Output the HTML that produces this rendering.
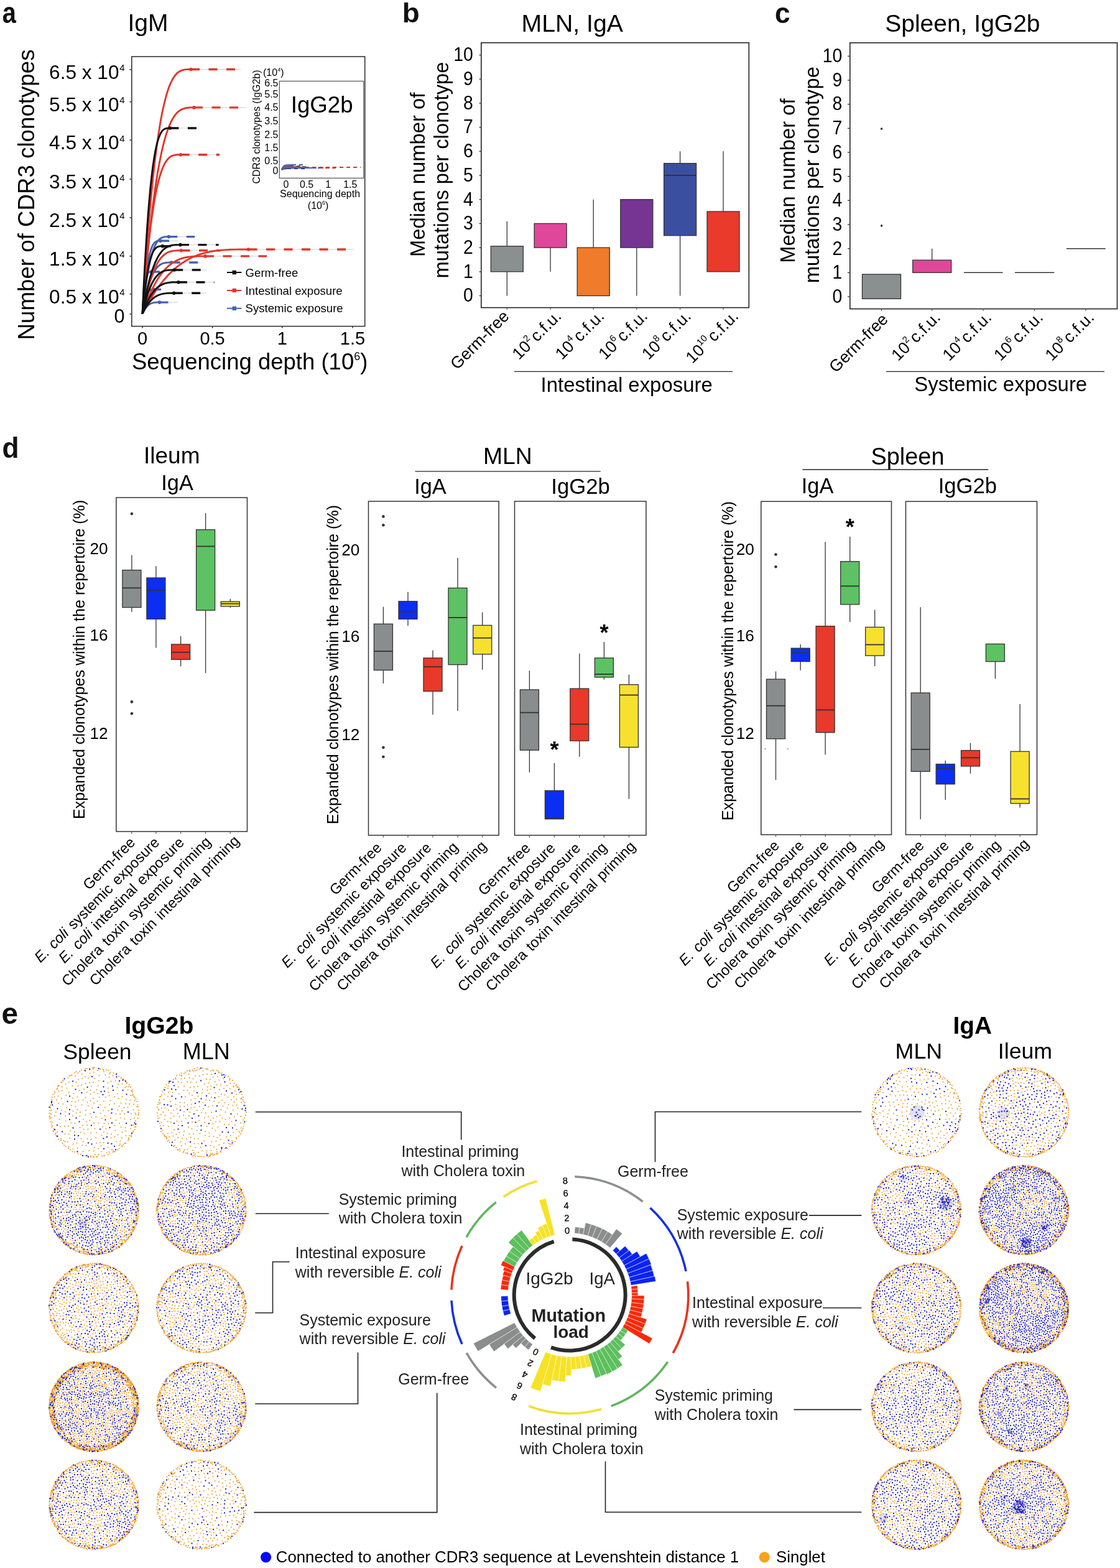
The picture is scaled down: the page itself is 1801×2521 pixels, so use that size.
<!DOCTYPE html>
<html><head><meta charset="utf-8"><title>Figure</title>
<style>html,body{margin:0;padding:0;background:#fff}svg{display:block}text{font-family:"Liberation Sans",Arial,Helvetica,sans-serif}</style></head>
<body><svg xmlns="http://www.w3.org/2000/svg" width="1801" height="2521" viewBox="0 0 1801 2521">
<rect width="1801" height="2521" fill="#fff"/>
<text transform="translate(3.78,36.9) scale(1.02,1.21)" font-size="39" font-weight="bold" fill="#111">a</text>
<text x="205.5" y="50.2" font-size="39">IgM</text>
<rect x="211.8" y="91.0" width="374.9" height="433.6" fill="none" stroke="#333" stroke-width="1.6"/>
<line x1="208.5" y1="111.8" x2="211.8" y2="111.8" stroke="#333" stroke-width="1.5"/>
<text x="191.5" y="126.8" font-size="31.6" text-anchor="end">6.5 x 10</text>
<text x="192.2" y="114.3" font-size="15">4</text>
<line x1="208.5" y1="163.7" x2="211.8" y2="163.7" stroke="#333" stroke-width="1.5"/>
<text x="191.5" y="178.7" font-size="31.6" text-anchor="end">5.5 x 10</text>
<text x="192.2" y="166.2" font-size="15">4</text>
<line x1="208.5" y1="225.3" x2="211.8" y2="225.3" stroke="#333" stroke-width="1.5"/>
<text x="191.5" y="240.3" font-size="31.6" text-anchor="end">4.5 x 10</text>
<text x="192.2" y="227.8" font-size="15">4</text>
<line x1="208.5" y1="288.0" x2="211.8" y2="288.0" stroke="#333" stroke-width="1.5"/>
<text x="191.5" y="303.0" font-size="31.6" text-anchor="end">3.5 x 10</text>
<text x="192.2" y="290.5" font-size="15">4</text>
<line x1="208.5" y1="349.9" x2="211.8" y2="349.9" stroke="#333" stroke-width="1.5"/>
<text x="191.5" y="364.9" font-size="31.6" text-anchor="end">2.5 x 10</text>
<text x="192.2" y="352.4" font-size="15">4</text>
<line x1="208.5" y1="411.8" x2="211.8" y2="411.8" stroke="#333" stroke-width="1.5"/>
<text x="191.5" y="426.8" font-size="31.6" text-anchor="end">1.5 x 10</text>
<text x="192.2" y="414.3" font-size="15">4</text>
<line x1="208.5" y1="472.7" x2="211.8" y2="472.7" stroke="#333" stroke-width="1.5"/>
<text x="191.5" y="487.7" font-size="31.6" text-anchor="end">0.5 x 10</text>
<text x="192.2" y="475.2" font-size="15">4</text>
<line x1="208.5" y1="505.0" x2="211.8" y2="505.0" stroke="#333" stroke-width="1.5"/>
<text x="200.5" y="519.0" font-size="30.6" text-anchor="end">0</text>
<text transform="translate(55.4,313) rotate(-90)" font-size="36.7" text-anchor="middle">Number of CDR3 clonotypes</text>
<line x1="229.0" y1="524.6" x2="229.0" y2="527.5" stroke="#333" stroke-width="1.5"/>
<text x="229.0" y="554.0" font-size="29" text-anchor="middle">0</text>
<line x1="341.6" y1="524.6" x2="341.6" y2="527.5" stroke="#333" stroke-width="1.5"/>
<text x="341.6" y="554.0" font-size="29" text-anchor="middle">0.5</text>
<line x1="453.7" y1="524.6" x2="453.7" y2="527.5" stroke="#333" stroke-width="1.5"/>
<text x="453.7" y="554.0" font-size="29" text-anchor="middle">1</text>
<line x1="567.0" y1="524.6" x2="567.0" y2="527.5" stroke="#333" stroke-width="1.5"/>
<text x="567.0" y="554.0" font-size="29" text-anchor="middle">1.5</text>
<text x="212" y="593.7" font-size="36.5">Sequencing depth (10<tspan font-size="18" dy="-15">6</tspan><tspan dy="15">)</tspan></text>
<path d="M229.0 504.5 L230.8 488.3 L232.5 473.6 L234.3 460.3 L236.1 448.5 L237.8 437.9 L239.6 428.5 L241.3 420.3 L243.1 413.1 L244.9 406.9 L246.6 401.5 L248.4 397.0 L250.2 393.2 L251.9 390.0 L253.7 387.5 L255.4 385.5 L257.2 383.9 L259.0 382.7 L260.7 381.9 L262.5 381.3 L264.2 380.9 L266.0 380.7 L267.8 380.6 L269.5 380.6 L271.3 380.6" fill="none" stroke="#4562ad" stroke-width="2.9" stroke-linejoin="round"/>
<line x1="271.3" y1="380.6" x2="313.2" y2="380.6" stroke="#cfcfcf" stroke-width="1"/>
<line x1="271.3" y1="380.6" x2="313.2" y2="380.6" stroke="#4562ad" stroke-width="3.4" stroke-dasharray="14 14.5"/>
<circle cx="271.3" cy="380.6" r="2.8" fill="#4562ad"/>
<path d="M229.0 504.5 L230.2 489.1 L231.4 475.2 L232.6 462.7 L233.8 451.5 L235.0 441.5 L236.2 432.6 L237.5 424.8 L238.7 418.0 L239.9 412.1 L241.1 407.0 L242.3 402.7 L243.5 399.1 L244.7 396.1 L245.9 393.7 L247.1 391.8 L248.3 390.3 L249.5 389.2 L250.8 388.4 L252.0 387.9 L253.2 387.5 L254.4 387.3 L255.6 387.2 L256.8 387.2 L258.0 387.2" fill="none" stroke="#4562ad" stroke-width="2.9" stroke-linejoin="round"/>
<line x1="258.0" y1="387.2" x2="286.1" y2="387.2" stroke="#cfcfcf" stroke-width="1"/>
<line x1="258.0" y1="387.2" x2="286.1" y2="387.2" stroke="#4562ad" stroke-width="3.4" stroke-dasharray="14 14.5"/>
<circle cx="258" cy="387.2" r="2.8" fill="#4562ad"/>
<path d="M229.0 504.5 L230.9 493.7 L232.9 483.9 L234.8 475.1 L236.8 467.2 L238.7 460.2 L240.7 453.9 L242.6 448.4 L244.6 443.6 L246.5 439.5 L248.5 435.9 L250.4 432.9 L252.3 430.4 L254.3 428.3 L256.2 426.6 L258.2 425.2 L260.1 424.2 L262.1 423.4 L264.0 422.9 L266.0 422.5 L267.9 422.2 L269.9 422.1 L271.8 422.0 L273.8 422.0 L275.7 422.0" fill="none" stroke="#4562ad" stroke-width="2.9" stroke-linejoin="round"/>
<line x1="275.7" y1="422.0" x2="322.0" y2="422.0" stroke="#cfcfcf" stroke-width="1"/>
<line x1="275.7" y1="422" x2="322.0" y2="422" stroke="#4562ad" stroke-width="3.4" stroke-dasharray="14 14.5"/>
<circle cx="275.7" cy="422" r="2.8" fill="#4562ad"/>
<path d="M229.0 504.5 L229.6 495.7 L230.2 487.7 L230.8 480.4 L231.3 474.0 L231.9 468.2 L232.5 463.1 L233.1 458.6 L233.7 454.7 L234.2 451.3 L234.8 448.4 L235.4 445.9 L236.0 443.9 L236.6 442.1 L237.2 440.8 L237.8 439.7 L238.3 438.8 L238.9 438.2 L239.5 437.7 L240.1 437.4 L240.7 437.2 L241.2 437.1 L241.8 437.0 L242.4 437.0 L243.0 437.0" fill="none" stroke="#4562ad" stroke-width="2.9" stroke-linejoin="round"/>
<line x1="243.0" y1="437.0" x2="257.5" y2="437.0" stroke="#cfcfcf" stroke-width="1"/>
<line x1="243.0" y1="437" x2="257.5" y2="437" stroke="#4562ad" stroke-width="3.4" stroke-dasharray="14 14.5"/>
<circle cx="243" cy="437" r="2.8" fill="#4562ad"/>
<path d="M229.0 504.5 L229.8 499.4 L230.5 494.7 L231.2 490.6 L232.0 486.8 L232.8 483.5 L233.5 480.5 L234.2 477.9 L235.0 475.7 L235.8 473.7 L236.5 472.0 L237.2 470.6 L238.0 469.4 L238.8 468.4 L239.5 467.6 L240.2 466.9 L241.0 466.4 L241.8 466.1 L242.5 465.8 L243.2 465.6 L244.0 465.5 L244.8 465.4 L245.5 465.4 L246.2 465.4 L247.0 465.4" fill="none" stroke="#4562ad" stroke-width="2.9" stroke-linejoin="round"/>
<line x1="247.0" y1="465.4" x2="259.0" y2="465.4" stroke="#cfcfcf" stroke-width="1"/>
<line x1="247.0" y1="465.4" x2="259.0" y2="465.4" stroke="#4562ad" stroke-width="3.4" stroke-dasharray="14 14.5"/>
<circle cx="247" cy="465.4" r="2.8" fill="#4562ad"/>
<path d="M229.0 504.5 L230.1 502.1 L231.3 499.9 L232.4 497.9 L233.6 496.2 L234.7 494.6 L235.9 493.2 L237.0 492.0 L238.2 490.9 L239.3 490.0 L240.5 489.2 L241.6 488.5 L242.8 488.0 L243.9 487.5 L245.0 487.1 L246.2 486.8 L247.3 486.6 L248.5 486.4 L249.6 486.3 L250.8 486.2 L251.9 486.1 L253.1 486.1 L254.2 486.1 L255.4 486.1 L256.5 486.1" fill="none" stroke="#4562ad" stroke-width="2.9" stroke-linejoin="round"/>
<line x1="256.5" y1="486.1" x2="285.1" y2="486.1" stroke="#cfcfcf" stroke-width="1"/>
<line x1="256.5" y1="486.1" x2="285.1" y2="486.1" stroke="#4562ad" stroke-width="3.4" stroke-dasharray="14 14.5"/>
<circle cx="256.5" cy="486.1" r="2.8" fill="#4562ad"/>
<path d="M229.0 504.5 L232.2 453.0 L235.5 406.4 L238.8 364.4 L242.0 326.8 L245.2 293.3 L248.5 263.6 L251.8 237.4 L255.0 214.6 L258.2 194.8 L261.5 177.9 L264.8 163.5 L268.0 151.4 L271.2 141.4 L274.5 133.4 L277.8 126.9 L281.0 122.0 L284.2 118.2 L287.5 115.6 L290.8 113.7 L294.0 112.6 L297.2 111.9 L300.5 111.6 L303.8 111.5 L307.0 111.5" fill="none" stroke="#e3352b" stroke-width="2.9" stroke-linejoin="round"/>
<line x1="307.0" y1="111.5" x2="387.0" y2="111.5" stroke="#cfcfcf" stroke-width="1"/>
<line x1="307.0" y1="111.5" x2="387.0" y2="111.5" stroke="#e3352b" stroke-width="3.4" stroke-dasharray="14 14.5"/>
<circle cx="307" cy="111.5" r="2.8" fill="#e3352b"/>
<path d="M229.0 504.5 L232.5 461.1 L235.9 421.7 L239.4 386.3 L242.8 354.6 L246.3 326.3 L249.8 301.2 L253.2 279.2 L256.7 259.9 L260.1 243.2 L263.6 228.9 L267.0 216.7 L270.5 206.6 L274.0 198.2 L277.4 191.3 L280.9 185.9 L284.3 181.7 L287.8 178.6 L291.2 176.3 L294.7 174.8 L298.2 173.8 L301.6 173.2 L305.1 173.0 L308.5 172.9 L312.0 172.9" fill="none" stroke="#e3352b" stroke-width="2.9" stroke-linejoin="round"/>
<line x1="312.0" y1="172.9" x2="396.0" y2="172.9" stroke="#cfcfcf" stroke-width="1"/>
<line x1="312.0" y1="172.9" x2="396.0" y2="172.9" stroke="#e3352b" stroke-width="3.4" stroke-dasharray="14 14.5"/>
<circle cx="312" cy="172.9" r="2.8" fill="#e3352b"/>
<path d="M229.0 504.5 L231.6 471.0 L234.1 440.7 L236.7 413.3 L239.3 388.9 L241.8 367.0 L244.4 347.7 L247.0 330.7 L249.5 315.8 L252.1 302.9 L254.7 291.9 L257.2 282.5 L259.8 274.7 L262.4 268.2 L264.9 262.9 L267.5 258.8 L270.1 255.5 L272.6 253.1 L275.2 251.3 L277.8 250.1 L280.3 249.4 L282.9 249.0 L285.5 248.8 L288.0 248.7 L290.6 248.7" fill="none" stroke="#e3352b" stroke-width="2.9" stroke-linejoin="round"/>
<line x1="290.6" y1="248.7" x2="353.0" y2="248.7" stroke="#cfcfcf" stroke-width="1"/>
<line x1="290.6" y1="248.7" x2="353.0" y2="248.7" stroke="#e3352b" stroke-width="3.4" stroke-dasharray="14 14.5"/>
<circle cx="290.6" cy="248.7" r="2.8" fill="#e3352b"/>
<path d="M229.0 504.5 L231.6 491.2 L234.2 479.1 L236.8 468.3 L239.4 458.5 L242.0 449.8 L244.6 442.2 L247.2 435.4 L249.8 429.5 L252.4 424.4 L255.0 420.0 L257.6 416.2 L260.2 413.1 L262.9 410.5 L265.5 408.5 L268.1 406.8 L270.7 405.5 L273.3 404.5 L275.9 403.8 L278.5 403.4 L281.1 403.1 L283.7 402.9 L286.3 402.8 L288.9 402.8 L291.5 402.8" fill="none" stroke="#e3352b" stroke-width="2.9" stroke-linejoin="round"/>
<line x1="291.5" y1="402.8" x2="354.0" y2="402.8" stroke="#cfcfcf" stroke-width="1"/>
<line x1="291.5" y1="402.8" x2="354.0" y2="402.8" stroke="#e3352b" stroke-width="3.4" stroke-dasharray="14 14.5"/>
<circle cx="291.5" cy="402.8" r="2.8" fill="#e3352b"/>
<path d="M229.0 504.5 L236.1 490.9 L243.2 478.7 L250.3 467.6 L257.4 457.7 L264.5 448.9 L271.6 441.1 L278.7 434.2 L285.8 428.2 L292.9 422.9 L300.0 418.5 L307.1 414.7 L314.2 411.5 L321.4 408.9 L328.5 406.8 L335.6 405.1 L342.7 403.8 L349.8 402.8 L356.9 402.1 L364.0 401.6 L371.1 401.3 L378.2 401.1 L385.3 401.0 L392.4 401.0 L399.5 401.0" fill="none" stroke="#e3352b" stroke-width="2.9" stroke-linejoin="round"/>
<line x1="399.5" y1="401.0" x2="569.5" y2="401.0" stroke="#cfcfcf" stroke-width="1"/>
<line x1="399.5" y1="401" x2="569.5" y2="401" stroke="#e3352b" stroke-width="3.4" stroke-dasharray="14 14.5"/>
<circle cx="399.5" cy="401" r="2.8" fill="#e3352b"/>
<path d="M229.0 504.5 L233.2 492.4 L237.4 481.4 L241.6 471.5 L245.8 462.6 L250.0 454.7 L254.2 447.7 L258.5 441.6 L262.7 436.2 L266.9 431.5 L271.1 427.5 L275.3 424.1 L279.5 421.3 L283.7 419.0 L287.9 417.1 L292.1 415.5 L296.3 414.4 L300.5 413.5 L304.8 412.9 L309.0 412.4 L313.2 412.2 L317.4 412.0 L321.6 411.9 L325.8 411.9 L330.0 411.9" fill="none" stroke="#e3352b" stroke-width="2.9" stroke-linejoin="round"/>
<line x1="330.0" y1="411.9" x2="429.0" y2="411.9" stroke="#cfcfcf" stroke-width="1"/>
<line x1="330.0" y1="411.9" x2="429.0" y2="411.9" stroke="#e3352b" stroke-width="3.4" stroke-dasharray="14 14.5"/>
<circle cx="330" cy="411.9" r="2.8" fill="#e3352b"/>
<path d="M229.0 504.5 L230.8 465.4 L232.7 430.0 L234.6 398.1 L236.4 369.5 L238.2 344.1 L240.1 321.5 L241.9 301.7 L243.8 284.3 L245.6 269.3 L247.5 256.4 L249.3 245.5 L251.2 236.3 L253.0 228.7 L254.9 222.6 L256.8 217.7 L258.6 214.0 L260.4 211.1 L262.3 209.1 L264.1 207.7 L266.0 206.8 L267.8 206.3 L269.7 206.1 L271.5 206.0 L273.4 206.0" fill="none" stroke="#111111" stroke-width="2.9" stroke-linejoin="round"/>
<line x1="273.4" y1="206.0" x2="317.0" y2="206.0" stroke="#cfcfcf" stroke-width="1"/>
<line x1="273.4" y1="206" x2="317.0" y2="206" stroke="#111111" stroke-width="3.4" stroke-dasharray="14 14.5"/>
<circle cx="273.4" cy="206" r="2.8" fill="#111111"/>
<path d="M229.0 504.5 L230.4 490.3 L231.7 477.4 L233.1 465.8 L234.4 455.4 L235.8 446.1 L237.1 437.9 L238.5 430.6 L239.8 424.3 L241.2 418.8 L242.5 414.2 L243.9 410.2 L245.2 406.8 L246.6 404.1 L248.0 401.8 L249.3 400.1 L250.7 398.7 L252.0 397.7 L253.4 396.9 L254.7 396.4 L256.1 396.1 L257.4 395.9 L258.8 395.8 L260.1 395.8 L261.5 395.8" fill="none" stroke="#111111" stroke-width="2.9" stroke-linejoin="round"/>
<line x1="261.5" y1="395.8" x2="275.2" y2="395.8" stroke="#cfcfcf" stroke-width="1"/>
<line x1="261.5" y1="395.8" x2="275.2" y2="395.8" stroke="#111111" stroke-width="3.4" stroke-dasharray="14 14.5"/>
<circle cx="261.5" cy="395.8" r="2.8" fill="#111111"/>
<path d="M229.0 504.5 L231.5 490.0 L234.1 476.8 L236.6 465.0 L239.2 454.4 L241.7 444.9 L244.2 436.5 L246.8 429.1 L249.3 422.7 L251.9 417.1 L254.4 412.3 L257.0 408.3 L259.5 404.9 L262.0 402.0 L264.6 399.8 L267.1 398.0 L269.7 396.6 L272.2 395.5 L274.8 394.7 L277.3 394.2 L279.8 393.9 L282.4 393.7 L284.9 393.6 L287.5 393.6 L290.0 393.6" fill="none" stroke="#111111" stroke-width="2.9" stroke-linejoin="round"/>
<line x1="290.0" y1="393.6" x2="351.6" y2="393.6" stroke="#cfcfcf" stroke-width="1"/>
<line x1="290.0" y1="393.6" x2="351.6" y2="393.6" stroke="#111111" stroke-width="3.4" stroke-dasharray="14 14.5"/>
<circle cx="290" cy="393.6" r="2.8" fill="#111111"/>
<path d="M229.0 504.5 L231.1 495.3 L233.3 486.9 L235.4 479.4 L237.5 472.6 L239.7 466.6 L241.8 461.3 L243.9 456.6 L246.1 452.5 L248.2 448.9 L250.3 445.9 L252.5 443.3 L254.6 441.2 L256.7 439.4 L258.9 437.9 L261.0 436.8 L263.1 435.9 L265.3 435.2 L267.4 434.7 L269.5 434.4 L271.7 434.2 L273.8 434.1 L275.9 434.0 L278.1 434.0 L280.2 434.0" fill="none" stroke="#111111" stroke-width="2.9" stroke-linejoin="round"/>
<line x1="280.2" y1="434.0" x2="332.4" y2="434.0" stroke="#cfcfcf" stroke-width="1"/>
<line x1="280.2" y1="434" x2="332.4" y2="434" stroke="#111111" stroke-width="3.4" stroke-dasharray="14 14.5"/>
<circle cx="280.2" cy="434" r="2.8" fill="#111111"/>
<path d="M229.0 504.5 L231.4 497.8 L233.8 491.8 L236.2 486.4 L238.7 481.5 L241.1 477.2 L243.5 473.4 L245.9 470.0 L248.3 467.0 L250.7 464.5 L253.1 462.3 L255.5 460.4 L257.9 458.9 L260.4 457.6 L262.8 456.5 L265.2 455.7 L267.6 455.1 L270.0 454.6 L272.4 454.2 L274.8 454.0 L277.2 453.8 L279.7 453.8 L282.1 453.7 L284.5 453.7 L286.9 453.7" fill="none" stroke="#111111" stroke-width="2.9" stroke-linejoin="round"/>
<line x1="286.9" y1="453.7" x2="344.5" y2="453.7" stroke="#cfcfcf" stroke-width="1"/>
<line x1="286.9" y1="453.7" x2="344.5" y2="453.7" stroke="#111111" stroke-width="3.4" stroke-dasharray="14 14.5"/>
<circle cx="286.9" cy="453.7" r="2.8" fill="#111111"/>
<path d="M229.0 504.5 L231.1 500.1 L233.2 496.2 L235.3 492.7 L237.4 489.5 L239.6 486.7 L241.7 484.1 L243.8 481.9 L245.9 480.0 L248.0 478.3 L250.1 476.9 L252.2 475.7 L254.3 474.7 L256.5 473.8 L258.6 473.1 L260.7 472.6 L262.8 472.2 L264.9 471.9 L267.0 471.6 L269.1 471.5 L271.2 471.4 L273.4 471.3 L275.5 471.3 L277.6 471.3 L279.7 471.3" fill="none" stroke="#111111" stroke-width="2.9" stroke-linejoin="round"/>
<line x1="279.7" y1="471.3" x2="332.4" y2="471.3" stroke="#cfcfcf" stroke-width="1"/>
<line x1="279.7" y1="471.3" x2="332.4" y2="471.3" stroke="#111111" stroke-width="3.4" stroke-dasharray="14 14.5"/>
<circle cx="279.7" cy="471.3" r="2.8" fill="#111111"/>
<rect x="449.3" y="130.5" width="135.4" height="155.9" fill="#fff" stroke="#555" stroke-width="1.2"/>
<text x="467.7" y="180.5" font-size="36.7">IgG2b</text>
<text x="447.5" y="138.7" font-size="16" text-anchor="end">6.5</text>
<text x="447.5" y="157.1" font-size="16" text-anchor="end">5.5</text>
<text x="447.5" y="178.1" font-size="16" text-anchor="end">4.5</text>
<text x="447.5" y="200.2" font-size="16" text-anchor="end">3.5</text>
<text x="447.5" y="221.9" font-size="16" text-anchor="end">2.5</text>
<text x="447.5" y="243.3" font-size="16" text-anchor="end">1.5</text>
<text x="447.5" y="264.3" font-size="16" text-anchor="end">0.5</text>
<text x="447.5" y="280.3" font-size="16" text-anchor="end">0</text>
<text x="423" y="122" font-size="16">(10<tspan font-size="9" dy="-7">4</tspan><tspan dy="7">)</tspan></text>
<text transform="translate(417.5,204) rotate(-90)" font-size="16" text-anchor="middle">CDR3 clonotypes (IgG2b)</text>
<text x="459.9" y="302.4" font-size="16" text-anchor="middle">0</text>
<text x="493.0" y="302.4" font-size="16" text-anchor="middle">0.5</text>
<text x="527.6" y="302.4" font-size="16" text-anchor="middle">1</text>
<text x="563.3" y="302.4" font-size="16" text-anchor="middle">1.5</text>
<text x="514.6" y="317.0" font-size="16" text-anchor="middle">Sequencing depth</text>
<text x="511.6" y="336" font-size="16" text-anchor="middle">(10<tspan font-size="9" dy="-7">6</tspan><tspan dy="7">)</tspan></text>
<path d="M453,273 C455,265 459,265 470,265" fill="none" stroke="#4562ad" stroke-width="2"/>
<line x1="470" y1="265" x2="490" y2="265" stroke="#4562ad" stroke-width="2" stroke-dasharray="6 5"/>
<path d="M453,273 C455,267 459,267 466,267" fill="none" stroke="#4562ad" stroke-width="2"/>
<line x1="466" y1="267" x2="485" y2="267" stroke="#4562ad" stroke-width="2" stroke-dasharray="6 5"/>
<path d="M453,273 C455,268 459,268 475,268" fill="none" stroke="#4562ad" stroke-width="2"/>
<line x1="475" y1="268" x2="495" y2="268" stroke="#4562ad" stroke-width="2" stroke-dasharray="6 5"/>
<path d="M453,273 C455,269 459,269 480,269" fill="none" stroke="#e3352b" stroke-width="2"/>
<line x1="480" y1="269" x2="580" y2="269" stroke="#e3352b" stroke-width="2" stroke-dasharray="6 5"/>
<path d="M453,273 C455,270 459,270 470,270" fill="none" stroke="#e3352b" stroke-width="2"/>
<line x1="470" y1="270" x2="530" y2="270" stroke="#e3352b" stroke-width="2" stroke-dasharray="6 5"/>
<path d="M453,273 C455,271 459,271 462,271" fill="none" stroke="#111111" stroke-width="2"/>
<line x1="462" y1="271" x2="490" y2="271" stroke="#111111" stroke-width="2" stroke-dasharray="6 5"/>
<path d="M453,273 C455,270 459,270 490,270" fill="none" stroke="#e3352b" stroke-width="2"/>
<line x1="490" y1="270" x2="540" y2="270" stroke="#e3352b" stroke-width="2" stroke-dasharray="6 5"/>
<path d="M453,273 C455,270 459,270 500,270" fill="none" stroke="#4562ad" stroke-width="2"/>
<line x1="500" y1="270" x2="520" y2="270" stroke="#4562ad" stroke-width="2" stroke-dasharray="6 5"/>
<line x1="365.0" y1="438.0" x2="388.4" y2="438.0" stroke="#111111" stroke-width="2"/>
<rect x="373.6" y="434.8" width="6.4" height="6.4" fill="#111111"/>
<text x="394.6" y="444.6" font-size="18.6">Germ-free</text>
<line x1="365.0" y1="467.0" x2="388.4" y2="467.0" stroke="#e3352b" stroke-width="2"/>
<rect x="373.6" y="463.8" width="6.4" height="6.4" fill="#e3352b"/>
<text x="394.6" y="473.6" font-size="18.6">Intestinal exposure</text>
<line x1="365.0" y1="495.8" x2="388.4" y2="495.8" stroke="#4562ad" stroke-width="2"/>
<rect x="373.6" y="492.6" width="6.4" height="6.4" fill="#4562ad"/>
<text x="394.6" y="502.4" font-size="18.6">Systemic exposure</text>
<text transform="translate(646.8,36.38) scale(1.145,1.087)" font-size="40" font-weight="bold" fill="#111">b</text>
<text x="838.6" y="51.2" font-size="39.2">MLN, IgA</text>
<rect x="773.8" y="68.7" width="430.5" height="425.9" fill="none" stroke="#222" stroke-width="1.6"/>
<line x1="770.5" y1="475.5" x2="773.8" y2="475.5" stroke="#333" stroke-width="1.3"/>
<text transform="translate(760.8,485.3) scale(1,1.13)" font-size="28.4" text-anchor="end">0</text>
<line x1="770.5" y1="436.8" x2="773.8" y2="436.8" stroke="#333" stroke-width="1.3"/>
<text transform="translate(760.8,446.6) scale(1,1.13)" font-size="28.4" text-anchor="end">1</text>
<line x1="770.5" y1="398.1" x2="773.8" y2="398.1" stroke="#333" stroke-width="1.3"/>
<text transform="translate(760.8,407.9) scale(1,1.13)" font-size="28.4" text-anchor="end">2</text>
<line x1="770.5" y1="359.4" x2="773.8" y2="359.4" stroke="#333" stroke-width="1.3"/>
<text transform="translate(760.8,369.2) scale(1,1.13)" font-size="28.4" text-anchor="end">3</text>
<line x1="770.5" y1="320.7" x2="773.8" y2="320.7" stroke="#333" stroke-width="1.3"/>
<text transform="translate(760.8,330.5) scale(1,1.13)" font-size="28.4" text-anchor="end">4</text>
<line x1="770.5" y1="282.0" x2="773.8" y2="282.0" stroke="#333" stroke-width="1.3"/>
<text transform="translate(760.8,291.8) scale(1,1.13)" font-size="28.4" text-anchor="end">5</text>
<line x1="770.5" y1="243.3" x2="773.8" y2="243.3" stroke="#333" stroke-width="1.3"/>
<text transform="translate(760.8,253.1) scale(1,1.13)" font-size="28.4" text-anchor="end">6</text>
<line x1="770.5" y1="204.6" x2="773.8" y2="204.6" stroke="#333" stroke-width="1.3"/>
<text transform="translate(760.8,214.4) scale(1,1.13)" font-size="28.4" text-anchor="end">7</text>
<line x1="770.5" y1="165.9" x2="773.8" y2="165.9" stroke="#333" stroke-width="1.3"/>
<text transform="translate(760.8,175.7) scale(1,1.13)" font-size="28.4" text-anchor="end">8</text>
<line x1="770.5" y1="127.2" x2="773.8" y2="127.2" stroke="#333" stroke-width="1.3"/>
<text transform="translate(760.8,137.0) scale(1,1.13)" font-size="28.4" text-anchor="end">9</text>
<line x1="770.5" y1="88.5" x2="773.8" y2="88.5" stroke="#333" stroke-width="1.3"/>
<text transform="translate(760.8,98.3) scale(1,1.13)" font-size="28.4" text-anchor="end">10</text>
<line x1="815.3" y1="355.9" x2="815.3" y2="395.8" stroke="#333" stroke-width="1.3"/>
<line x1="815.3" y1="436.8" x2="815.3" y2="475.5" stroke="#333" stroke-width="1.3"/>
<rect x="789.3" y="395.8" width="52.0" height="41.0" fill="#8a8f8f" stroke="#333" stroke-width="1.3"/>
<line x1="815.3" y1="494.6" x2="815.3" y2="498.0" stroke="#555" stroke-width="1.2"/>
<line x1="885.1" y1="398.1" x2="885.1" y2="436.8" stroke="#333" stroke-width="1.3"/>
<rect x="859.1" y="359.4" width="52.0" height="38.7" fill="#e0479a" stroke="#333" stroke-width="1.3"/>
<line x1="885.1" y1="494.6" x2="885.1" y2="498.0" stroke="#555" stroke-width="1.2"/>
<line x1="954.2" y1="320.7" x2="954.2" y2="398.1" stroke="#333" stroke-width="1.3"/>
<rect x="928.2" y="398.1" width="52.0" height="77.4" fill="#f07b2b" stroke="#333" stroke-width="1.3"/>
<line x1="954.2" y1="494.6" x2="954.2" y2="498.0" stroke="#555" stroke-width="1.2"/>
<line x1="1023.8" y1="398.1" x2="1023.8" y2="475.5" stroke="#333" stroke-width="1.3"/>
<rect x="997.8" y="320.7" width="52.0" height="77.4" fill="#763593" stroke="#333" stroke-width="1.3"/>
<line x1="1023.8" y1="494.6" x2="1023.8" y2="498.0" stroke="#555" stroke-width="1.2"/>
<line x1="1093.6" y1="243.3" x2="1093.6" y2="262.6" stroke="#333" stroke-width="1.3"/>
<line x1="1093.6" y1="378.8" x2="1093.6" y2="475.5" stroke="#333" stroke-width="1.3"/>
<rect x="1067.6" y="262.6" width="52.0" height="116.1" fill="#3b4fa0" stroke="#333" stroke-width="1.3"/>
<line x1="1067.6" y1="282.0" x2="1119.6" y2="282.0" stroke="#333" stroke-width="1.8"/>
<line x1="1093.6" y1="494.6" x2="1093.6" y2="498.0" stroke="#555" stroke-width="1.2"/>
<line x1="1163.0" y1="243.3" x2="1163.0" y2="340.0" stroke="#333" stroke-width="1.3"/>
<rect x="1137.0" y="340.0" width="52.0" height="96.8" fill="#e93a2b" stroke="#333" stroke-width="1.3"/>
<line x1="1163.0" y1="494.6" x2="1163.0" y2="498.0" stroke="#555" stroke-width="1.2"/>
<text transform="translate(820.3,510) rotate(-45)" font-size="26.5" text-anchor="end">Germ-free</text>
<text transform="translate(904.1,510) rotate(-45)" font-size="26.5" text-anchor="end">10<tspan font-size="15" dy="-11.5">2</tspan><tspan dy="11.5" dx="3">c.f.u.</tspan></text>
<text transform="translate(973.2,510) rotate(-45)" font-size="26.5" text-anchor="end">10<tspan font-size="15" dy="-11.5">4</tspan><tspan dy="11.5" dx="3">c.f.u.</tspan></text>
<text transform="translate(1042.8,510) rotate(-45)" font-size="26.5" text-anchor="end">10<tspan font-size="15" dy="-11.5">6</tspan><tspan dy="11.5" dx="3">c.f.u.</tspan></text>
<text transform="translate(1112.6,510) rotate(-45)" font-size="26.5" text-anchor="end">10<tspan font-size="15" dy="-11.5">8</tspan><tspan dy="11.5" dx="3">c.f.u.</tspan></text>
<text transform="translate(1189.0,510) rotate(-45)" font-size="26.5" text-anchor="end">10<tspan font-size="15" dy="-11.5">10</tspan><tspan dy="11.5" dx="3">c.f.u.</tspan></text>
<line x1="827.0" y1="597.4" x2="1178.0" y2="597.4" stroke="#222" stroke-width="1.3"/>
<text x="869.6" y="629.6" font-size="32.9">Intestinal exposure</text>
<text transform="translate(683.4,280.8) rotate(-90)" font-size="32.8" text-anchor="middle">Median number of</text>
<text transform="translate(720.5,273.5) rotate(-90)" font-size="32.8" text-anchor="middle">mutations per clonotype</text>
<text transform="translate(1246.0,36.59) scale(1.08,1.13)" font-size="41" font-weight="bold" fill="#111">c</text>
<text x="1423.2" y="50.8" font-size="39">Spleen, IgG2b</text>
<rect x="1366.8" y="68.8" width="429.7" height="427.8" fill="none" stroke="#222" stroke-width="1.6"/>
<line x1="1363.0" y1="477.0" x2="1366.8" y2="477.0" stroke="#333" stroke-width="1.3"/>
<text transform="translate(1354.3,486.8) scale(1,1.13)" font-size="28.4" text-anchor="end">0</text>
<line x1="1363.0" y1="438.3" x2="1366.8" y2="438.3" stroke="#333" stroke-width="1.3"/>
<text transform="translate(1354.3,448.1) scale(1,1.13)" font-size="28.4" text-anchor="end">1</text>
<line x1="1363.0" y1="399.7" x2="1366.8" y2="399.7" stroke="#333" stroke-width="1.3"/>
<text transform="translate(1354.3,409.5) scale(1,1.13)" font-size="28.4" text-anchor="end">2</text>
<line x1="1363.0" y1="361.0" x2="1366.8" y2="361.0" stroke="#333" stroke-width="1.3"/>
<text transform="translate(1354.3,370.8) scale(1,1.13)" font-size="28.4" text-anchor="end">3</text>
<line x1="1363.0" y1="322.3" x2="1366.8" y2="322.3" stroke="#333" stroke-width="1.3"/>
<text transform="translate(1354.3,332.1) scale(1,1.13)" font-size="28.4" text-anchor="end">4</text>
<line x1="1363.0" y1="283.6" x2="1366.8" y2="283.6" stroke="#333" stroke-width="1.3"/>
<text transform="translate(1354.3,293.4) scale(1,1.13)" font-size="28.4" text-anchor="end">5</text>
<line x1="1363.0" y1="245.0" x2="1366.8" y2="245.0" stroke="#333" stroke-width="1.3"/>
<text transform="translate(1354.3,254.8) scale(1,1.13)" font-size="28.4" text-anchor="end">6</text>
<line x1="1363.0" y1="206.3" x2="1366.8" y2="206.3" stroke="#333" stroke-width="1.3"/>
<text transform="translate(1354.3,216.1) scale(1,1.13)" font-size="28.4" text-anchor="end">7</text>
<line x1="1363.0" y1="167.6" x2="1366.8" y2="167.6" stroke="#333" stroke-width="1.3"/>
<text transform="translate(1354.3,177.4) scale(1,1.13)" font-size="28.4" text-anchor="end">8</text>
<line x1="1363.0" y1="129.0" x2="1366.8" y2="129.0" stroke="#333" stroke-width="1.3"/>
<text transform="translate(1354.3,138.8) scale(1,1.13)" font-size="28.4" text-anchor="end">9</text>
<line x1="1363.0" y1="90.3" x2="1366.8" y2="90.3" stroke="#333" stroke-width="1.3"/>
<text transform="translate(1354.3,100.1) scale(1,1.13)" font-size="28.4" text-anchor="end">10</text>
<rect x="1386.5" y="441.0" width="62.0" height="39.4" fill="#8a8f8f" stroke="#333" stroke-width="1.3"/>
<circle cx="1417.6" cy="207.1" r="1.8" fill="#333"/>
<circle cx="1417.6" cy="362.9" r="1.8" fill="#333"/>
<line x1="1498.7" y1="399.7" x2="1498.7" y2="418.2" stroke="#333" stroke-width="1.3"/>
<rect x="1467.7" y="418.2" width="62.0" height="20.1" fill="#e0479a" stroke="#333" stroke-width="1.3"/>
<line x1="1550.0" y1="438.3" x2="1612.5" y2="438.3" stroke="#333" stroke-width="1.5"/>
<line x1="1632.0" y1="438.3" x2="1695.3" y2="438.3" stroke="#333" stroke-width="1.5"/>
<line x1="1714.8" y1="399.7" x2="1777.7" y2="399.7" stroke="#333" stroke-width="1.5"/>
<line x1="1417.5" y1="496.6" x2="1417.5" y2="500.0" stroke="#555" stroke-width="1.2"/>
<text transform="translate(1429.5,515) rotate(-45)" font-size="26.5" text-anchor="end">Germ-free</text>
<line x1="1498.7" y1="496.6" x2="1498.7" y2="500.0" stroke="#555" stroke-width="1.2"/>
<text transform="translate(1513.7,512) rotate(-45)" font-size="26.5" text-anchor="end">10<tspan font-size="15" dy="-11.5">2</tspan><tspan dy="11.5" dx="3">c.f.u.</tspan></text>
<line x1="1581.0" y1="496.6" x2="1581.0" y2="500.0" stroke="#555" stroke-width="1.2"/>
<text transform="translate(1596.0,512) rotate(-45)" font-size="26.5" text-anchor="end">10<tspan font-size="15" dy="-11.5">4</tspan><tspan dy="11.5" dx="3">c.f.u.</tspan></text>
<line x1="1663.6" y1="496.6" x2="1663.6" y2="500.0" stroke="#555" stroke-width="1.2"/>
<text transform="translate(1678.6,512) rotate(-45)" font-size="26.5" text-anchor="end">10<tspan font-size="15" dy="-11.5">6</tspan><tspan dy="11.5" dx="3">c.f.u.</tspan></text>
<line x1="1746.0" y1="496.6" x2="1746.0" y2="500.0" stroke="#555" stroke-width="1.2"/>
<text transform="translate(1761.0,512) rotate(-45)" font-size="26.5" text-anchor="end">10<tspan font-size="15" dy="-11.5">8</tspan><tspan dy="11.5" dx="3">c.f.u.</tspan></text>
<line x1="1425.0" y1="597.4" x2="1776.0" y2="597.4" stroke="#222" stroke-width="1.3"/>
<text x="1470.3" y="629.0" font-size="32.9">Systemic exposure</text>
<text transform="translate(1278.4,290.6) rotate(-90)" font-size="32.8" text-anchor="middle">Median number of</text>
<text transform="translate(1316.5,281.2) rotate(-90)" font-size="32.8" text-anchor="middle">mutations per clonotype</text>
<text transform="translate(3.48,736.0) scale(1.08,1.11)" font-size="41" font-weight="bold" fill="#111">d</text>
<text x="276.3" y="744.7" font-size="37" text-anchor="middle">Ileum</text>
<text x="285.1" y="788.4" font-size="34.3" text-anchor="middle">IgA</text>
<rect x="186.9" y="800.0" width="210.6" height="536.9" fill="none" stroke="#333" stroke-width="1.5"/>
<line x1="211.9" y1="892.5" x2="211.9" y2="916.6" stroke="#333" stroke-width="1.3"/>
<line x1="211.9" y1="976.6" x2="211.9" y2="983.8" stroke="#333" stroke-width="1.3"/>
<rect x="196.9" y="916.6" width="30.0" height="60.0" fill="#898d8d" stroke="#333" stroke-width="1.3"/>
<line x1="196.9" y1="945.3" x2="226.9" y2="945.3" stroke="#333" stroke-width="1.8"/>
<line x1="250.9" y1="910.3" x2="250.9" y2="929.0" stroke="#333" stroke-width="1.3"/>
<line x1="250.9" y1="995.3" x2="250.9" y2="1041.6" stroke="#333" stroke-width="1.3"/>
<rect x="235.9" y="929.0" width="30.0" height="66.3" fill="#0b2ef2" stroke="#333" stroke-width="1.3"/>
<line x1="235.9" y1="948.8" x2="265.9" y2="948.8" stroke="#333" stroke-width="1.8"/>
<line x1="290.6" y1="1022.8" x2="290.6" y2="1035.9" stroke="#333" stroke-width="1.3"/>
<line x1="290.6" y1="1060.3" x2="290.6" y2="1071.3" stroke="#333" stroke-width="1.3"/>
<rect x="275.6" y="1035.9" width="30.0" height="24.4" fill="#e8392a" stroke="#333" stroke-width="1.3"/>
<line x1="275.6" y1="1048.7" x2="305.6" y2="1048.7" stroke="#333" stroke-width="1.8"/>
<line x1="330.6" y1="825.0" x2="330.6" y2="851.6" stroke="#333" stroke-width="1.3"/>
<line x1="330.6" y1="981.2" x2="330.6" y2="1082.2" stroke="#333" stroke-width="1.3"/>
<rect x="315.6" y="851.6" width="30.0" height="129.6" fill="#5cc263" stroke="#333" stroke-width="1.3"/>
<line x1="315.6" y1="878.4" x2="345.6" y2="878.4" stroke="#333" stroke-width="1.8"/>
<line x1="370.3" y1="962.8" x2="370.3" y2="967.2" stroke="#333" stroke-width="1.3"/>
<line x1="370.3" y1="975.0" x2="370.3" y2="976.9" stroke="#333" stroke-width="1.3"/>
<rect x="355.3" y="967.2" width="30.0" height="7.8" fill="#f7e12e" stroke="#333" stroke-width="1.3"/>
<line x1="355.3" y1="970.6" x2="385.3" y2="970.6" stroke="#333" stroke-width="1.8"/>
<line x1="211.9" y1="1336.9" x2="211.9" y2="1340.4" stroke="#555" stroke-width="1.2"/>
<text transform="translate(218.9,1355.9) rotate(-45)" font-size="23.6" word-spacing="2.2" text-anchor="end">Germ-free</text>
<line x1="250.9" y1="1336.9" x2="250.9" y2="1340.4" stroke="#555" stroke-width="1.2"/>
<text transform="translate(257.9,1355.9) rotate(-45)" font-size="23.6" word-spacing="2.2" text-anchor="end"><tspan font-style="italic">E. coli</tspan> systemic exposure</text>
<line x1="290.6" y1="1336.9" x2="290.6" y2="1340.4" stroke="#555" stroke-width="1.2"/>
<text transform="translate(297.6,1355.9) rotate(-45)" font-size="23.6" word-spacing="2.2" text-anchor="end"><tspan font-style="italic">E. coli</tspan> intestinal exposure</text>
<line x1="330.6" y1="1336.9" x2="330.6" y2="1340.4" stroke="#555" stroke-width="1.2"/>
<text transform="translate(340.6,1355.0) rotate(-45)" font-size="23.6" word-spacing="2.2" text-anchor="end">Cholera toxin systemic priming</text>
<line x1="370.3" y1="1336.9" x2="370.3" y2="1340.4" stroke="#555" stroke-width="1.2"/>
<text transform="translate(386.3,1353.2) rotate(-45)" font-size="23.6" word-spacing="2.2" text-anchor="end">Cholera toxin intestinal priming</text>
<circle cx="211.9" cy="826" r="2.3" fill="#333"/>
<circle cx="211.9" cy="1128.4" r="2.3" fill="#333"/>
<circle cx="211.9" cy="1147.2" r="2.3" fill="#333"/>
<text x="173.6" y="890.8" font-size="26.2" text-anchor="end">20</text>
<text x="173.6" y="1029.9" font-size="26.2" text-anchor="end">16</text>
<text x="173.6" y="1187.6" font-size="26.2" text-anchor="end">12</text>
<text transform="translate(135.5,1060.3) rotate(-90)" font-size="25.1" text-anchor="middle">Expanded clonotypes within the repertoire (%)</text>
<text x="816.4" y="746.4" font-size="37.3" text-anchor="middle">MLN</text>
<line x1="667.5" y1="757.9" x2="965.7" y2="757.9" stroke="#222" stroke-width="1.3"/>
<text x="692.0" y="793.6" font-size="34.3" text-anchor="middle">IgA</text>
<text x="933.5" y="793.6" font-size="34.7" text-anchor="middle">IgG2b</text>
<rect x="592.5" y="806.0" width="209.6" height="536.9" fill="none" stroke="#333" stroke-width="1.5"/>
<line x1="616.4" y1="975.7" x2="616.4" y2="1003.2" stroke="#333" stroke-width="1.3"/>
<line x1="616.4" y1="1077.5" x2="616.4" y2="1098.9" stroke="#333" stroke-width="1.3"/>
<rect x="601.4" y="1003.2" width="30.0" height="74.3" fill="#898d8d" stroke="#333" stroke-width="1.3"/>
<line x1="601.4" y1="1047.1" x2="631.4" y2="1047.1" stroke="#333" stroke-width="1.8"/>
<line x1="656.0" y1="951.8" x2="656.0" y2="966.8" stroke="#333" stroke-width="1.3"/>
<line x1="656.0" y1="995.4" x2="656.0" y2="1006.1" stroke="#333" stroke-width="1.3"/>
<rect x="641.0" y="966.8" width="30.0" height="28.6" fill="#0b2ef2" stroke="#333" stroke-width="1.3"/>
<line x1="641.0" y1="983.6" x2="671.0" y2="983.6" stroke="#333" stroke-width="1.8"/>
<line x1="696.0" y1="1045.4" x2="696.0" y2="1057.9" stroke="#333" stroke-width="1.3"/>
<line x1="696.0" y1="1111.4" x2="696.0" y2="1148.9" stroke="#333" stroke-width="1.3"/>
<rect x="681.0" y="1057.9" width="30.0" height="53.5" fill="#e8392a" stroke="#333" stroke-width="1.3"/>
<line x1="681.0" y1="1072.1" x2="711.0" y2="1072.1" stroke="#333" stroke-width="1.8"/>
<line x1="736.0" y1="897.1" x2="736.0" y2="945.4" stroke="#333" stroke-width="1.3"/>
<line x1="736.0" y1="1068.6" x2="736.0" y2="1142.9" stroke="#333" stroke-width="1.3"/>
<rect x="721.0" y="945.4" width="30.0" height="123.2" fill="#5cc263" stroke="#333" stroke-width="1.3"/>
<line x1="721.0" y1="992.9" x2="751.0" y2="992.9" stroke="#333" stroke-width="1.8"/>
<line x1="775.7" y1="984.6" x2="775.7" y2="1005.4" stroke="#333" stroke-width="1.3"/>
<line x1="775.7" y1="1051.8" x2="775.7" y2="1076.8" stroke="#333" stroke-width="1.3"/>
<rect x="760.7" y="1005.4" width="30.0" height="46.4" fill="#f7e12e" stroke="#333" stroke-width="1.3"/>
<line x1="760.7" y1="1025.7" x2="790.7" y2="1025.7" stroke="#333" stroke-width="1.8"/>
<line x1="616.4" y1="1342.9" x2="616.4" y2="1346.4" stroke="#555" stroke-width="1.2"/>
<text transform="translate(615.4,1364.4) rotate(-45)" font-size="23.6" word-spacing="2.2" text-anchor="end">Germ-free</text>
<line x1="656.0" y1="1342.9" x2="656.0" y2="1346.4" stroke="#555" stroke-width="1.2"/>
<text transform="translate(655.0,1364.4) rotate(-45)" font-size="23.6" word-spacing="2.2" text-anchor="end"><tspan font-style="italic">E. coli</tspan> systemic exposure</text>
<line x1="696.0" y1="1342.9" x2="696.0" y2="1346.4" stroke="#555" stroke-width="1.2"/>
<text transform="translate(695.0,1364.4) rotate(-45)" font-size="23.6" word-spacing="2.2" text-anchor="end"><tspan font-style="italic">E. coli</tspan> intestinal exposure</text>
<line x1="736.0" y1="1342.9" x2="736.0" y2="1346.4" stroke="#555" stroke-width="1.2"/>
<text transform="translate(738.0,1363.5) rotate(-45)" font-size="23.6" word-spacing="2.2" text-anchor="end">Cholera toxin systemic priming</text>
<line x1="775.7" y1="1342.9" x2="775.7" y2="1346.4" stroke="#555" stroke-width="1.2"/>
<text transform="translate(783.7,1361.7) rotate(-45)" font-size="23.6" word-spacing="2.2" text-anchor="end">Cholera toxin intestinal priming</text>
<circle cx="616.4" cy="830.4" r="2.3" fill="#333"/>
<circle cx="616.4" cy="844.3" r="2.3" fill="#333"/>
<circle cx="616.4" cy="1201.8" r="2.3" fill="#333"/>
<circle cx="616.4" cy="1216.8" r="2.3" fill="#333"/>
<rect x="827.5" y="806.0" width="211.4" height="536.9" fill="none" stroke="#333" stroke-width="1.5"/>
<line x1="851.4" y1="1078.2" x2="851.4" y2="1108.9" stroke="#333" stroke-width="1.3"/>
<line x1="851.4" y1="1206.1" x2="851.4" y2="1241.8" stroke="#333" stroke-width="1.3"/>
<rect x="836.4" y="1108.9" width="30.0" height="97.2" fill="#898d8d" stroke="#333" stroke-width="1.3"/>
<line x1="836.4" y1="1145.7" x2="866.4" y2="1145.7" stroke="#333" stroke-width="1.8"/>
<line x1="891.4" y1="1226.8" x2="891.4" y2="1271.1" stroke="#333" stroke-width="1.3"/>
<rect x="876.4" y="1271.1" width="30.0" height="45.7" fill="#0b2ef2" stroke="#333" stroke-width="1.3"/>
<line x1="876.4" y1="1316.0" x2="906.4" y2="1316.0" stroke="#333" stroke-width="1.8"/>
<line x1="931.8" y1="1050.7" x2="931.8" y2="1107.1" stroke="#333" stroke-width="1.3"/>
<line x1="931.8" y1="1191.1" x2="931.8" y2="1216.8" stroke="#333" stroke-width="1.3"/>
<rect x="916.8" y="1107.1" width="30.0" height="84.0" fill="#e8392a" stroke="#333" stroke-width="1.3"/>
<line x1="916.8" y1="1164.3" x2="946.8" y2="1164.3" stroke="#333" stroke-width="1.8"/>
<line x1="971.4" y1="1032.1" x2="971.4" y2="1057.9" stroke="#333" stroke-width="1.3"/>
<line x1="971.4" y1="1088.9" x2="971.4" y2="1092.5" stroke="#333" stroke-width="1.3"/>
<rect x="956.4" y="1057.9" width="30.0" height="31.0" fill="#5cc263" stroke="#333" stroke-width="1.3"/>
<line x1="956.4" y1="1083.9" x2="986.4" y2="1083.9" stroke="#333" stroke-width="1.8"/>
<line x1="1011.4" y1="1084.6" x2="1011.4" y2="1100.7" stroke="#333" stroke-width="1.3"/>
<line x1="1011.4" y1="1201.4" x2="1011.4" y2="1284.6" stroke="#333" stroke-width="1.3"/>
<rect x="996.4" y="1100.7" width="30.0" height="100.7" fill="#f7e12e" stroke="#333" stroke-width="1.3"/>
<line x1="996.4" y1="1117.5" x2="1026.4" y2="1117.5" stroke="#333" stroke-width="1.8"/>
<line x1="851.4" y1="1342.9" x2="851.4" y2="1346.4" stroke="#555" stroke-width="1.2"/>
<text transform="translate(854.4,1364.9) rotate(-45)" font-size="23.6" word-spacing="2.2" text-anchor="end">Germ-free</text>
<line x1="891.4" y1="1342.9" x2="891.4" y2="1346.4" stroke="#555" stroke-width="1.2"/>
<text transform="translate(894.4,1364.9) rotate(-45)" font-size="23.6" word-spacing="2.2" text-anchor="end"><tspan font-style="italic">E. coli</tspan> systemic exposure</text>
<line x1="931.8" y1="1342.9" x2="931.8" y2="1346.4" stroke="#555" stroke-width="1.2"/>
<text transform="translate(934.8,1364.9) rotate(-45)" font-size="23.6" word-spacing="2.2" text-anchor="end"><tspan font-style="italic">E. coli</tspan> intestinal exposure</text>
<line x1="971.4" y1="1342.9" x2="971.4" y2="1346.4" stroke="#555" stroke-width="1.2"/>
<text transform="translate(977.4,1364.0) rotate(-45)" font-size="23.6" word-spacing="2.2" text-anchor="end">Cholera toxin systemic priming</text>
<line x1="1011.4" y1="1342.9" x2="1011.4" y2="1346.4" stroke="#555" stroke-width="1.2"/>
<text transform="translate(1023.4,1362.2) rotate(-45)" font-size="23.6" word-spacing="2.2" text-anchor="end">Cholera toxin intestinal priming</text>
<text x="891.4" y="1217.7" font-size="36" text-anchor="middle" font-weight="bold">*</text>
<text x="971.4" y="1030.2" font-size="36" text-anchor="middle" font-weight="bold">*</text>
<text x="578.4" y="893.2" font-size="26.2" text-anchor="end">20</text>
<text x="578.4" y="1031.8" font-size="26.2" text-anchor="end">16</text>
<text x="578.4" y="1189.6" font-size="26.2" text-anchor="end">12</text>
<text transform="translate(544,1068.6) rotate(-90)" font-size="25.1" text-anchor="middle">Expanded clonotypes within the repertoire (%)</text>
<text x="1459.5" y="746.6" font-size="37.9" text-anchor="middle">Spleen</text>
<line x1="1290.5" y1="755.0" x2="1589.3" y2="755.0" stroke="#222" stroke-width="1.3"/>
<text x="1314.6" y="793.3" font-size="34.3" text-anchor="middle">IgA</text>
<text x="1555.9" y="793.3" font-size="34.7" text-anchor="middle">IgG2b</text>
<rect x="1223.8" y="806.2" width="209.7" height="535.8" fill="none" stroke="#333" stroke-width="1.5"/>
<line x1="1247.5" y1="1079.5" x2="1247.5" y2="1092.0" stroke="#333" stroke-width="1.3"/>
<line x1="1247.5" y1="1187.8" x2="1247.5" y2="1253.9" stroke="#333" stroke-width="1.3"/>
<rect x="1232.5" y="1092.0" width="30.0" height="95.8" fill="#898d8d" stroke="#333" stroke-width="1.3"/>
<line x1="1232.5" y1="1134.7" x2="1262.5" y2="1134.7" stroke="#333" stroke-width="1.8"/>
<line x1="1287.2" y1="1036.1" x2="1287.2" y2="1042.2" stroke="#333" stroke-width="1.3"/>
<line x1="1287.2" y1="1063.6" x2="1287.2" y2="1077.8" stroke="#333" stroke-width="1.3"/>
<rect x="1272.2" y="1042.2" width="30.0" height="21.4" fill="#0b2ef2" stroke="#333" stroke-width="1.3"/>
<line x1="1272.2" y1="1049.7" x2="1302.2" y2="1049.7" stroke="#333" stroke-width="1.8"/>
<line x1="1327.1" y1="871.2" x2="1327.1" y2="1006.7" stroke="#333" stroke-width="1.3"/>
<line x1="1327.1" y1="1177.7" x2="1327.1" y2="1213.3" stroke="#333" stroke-width="1.3"/>
<rect x="1312.1" y="1006.7" width="30.0" height="171.0" fill="#e8392a" stroke="#333" stroke-width="1.3"/>
<line x1="1312.1" y1="1141.4" x2="1342.1" y2="1141.4" stroke="#333" stroke-width="1.8"/>
<line x1="1366.7" y1="862.7" x2="1366.7" y2="902.7" stroke="#333" stroke-width="1.3"/>
<line x1="1366.7" y1="971.8" x2="1366.7" y2="999.9" stroke="#333" stroke-width="1.3"/>
<rect x="1351.7" y="902.7" width="30.0" height="69.1" fill="#5cc263" stroke="#333" stroke-width="1.3"/>
<line x1="1351.7" y1="942.3" x2="1381.7" y2="942.3" stroke="#333" stroke-width="1.8"/>
<line x1="1406.7" y1="980.6" x2="1406.7" y2="1008.4" stroke="#333" stroke-width="1.3"/>
<line x1="1406.7" y1="1054.1" x2="1406.7" y2="1071.0" stroke="#333" stroke-width="1.3"/>
<rect x="1391.7" y="1008.4" width="30.0" height="45.7" fill="#f7e12e" stroke="#333" stroke-width="1.3"/>
<line x1="1391.7" y1="1036.5" x2="1421.7" y2="1036.5" stroke="#333" stroke-width="1.8"/>
<line x1="1247.5" y1="1342.0" x2="1247.5" y2="1345.5" stroke="#555" stroke-width="1.2"/>
<text transform="translate(1254.5,1361.0) rotate(-45)" font-size="23.6" word-spacing="2.2" text-anchor="end">Germ-free</text>
<line x1="1287.2" y1="1342.0" x2="1287.2" y2="1345.5" stroke="#555" stroke-width="1.2"/>
<text transform="translate(1294.2,1361.0) rotate(-45)" font-size="23.6" word-spacing="2.2" text-anchor="end"><tspan font-style="italic">E. coli</tspan> systemic exposure</text>
<line x1="1327.1" y1="1342.0" x2="1327.1" y2="1345.5" stroke="#555" stroke-width="1.2"/>
<text transform="translate(1334.1,1361.0) rotate(-45)" font-size="23.6" word-spacing="2.2" text-anchor="end"><tspan font-style="italic">E. coli</tspan> intestinal exposure</text>
<line x1="1366.7" y1="1342.0" x2="1366.7" y2="1345.5" stroke="#555" stroke-width="1.2"/>
<text transform="translate(1376.7,1360.1) rotate(-45)" font-size="23.6" word-spacing="2.2" text-anchor="end">Cholera toxin systemic priming</text>
<line x1="1406.7" y1="1342.0" x2="1406.7" y2="1345.5" stroke="#555" stroke-width="1.2"/>
<text transform="translate(1422.7,1358.3) rotate(-45)" font-size="23.6" word-spacing="2.2" text-anchor="end">Cholera toxin intestinal priming</text>
<circle cx="1247.5" cy="891.5" r="2.3" fill="#333"/>
<circle cx="1247.5" cy="911.2" r="2.3" fill="#333"/>
<line x1="1229.5" y1="1204.1" x2="1231.5" y2="1204.1" stroke="#555" stroke-width="1.2"/>
<line x1="1265.8" y1="1204.1" x2="1267.8" y2="1204.1" stroke="#555" stroke-width="1.2"/>
<text x="1366.7" y="859.6" font-size="36" text-anchor="middle" font-weight="bold">*</text>
<rect x="1456.5" y="806.2" width="211.0" height="535.8" fill="none" stroke="#333" stroke-width="1.5"/>
<line x1="1480.2" y1="976.2" x2="1480.2" y2="1114.0" stroke="#333" stroke-width="1.3"/>
<line x1="1480.2" y1="1240.3" x2="1480.2" y2="1317.2" stroke="#333" stroke-width="1.3"/>
<rect x="1465.2" y="1114.0" width="30.0" height="126.3" fill="#898d8d" stroke="#333" stroke-width="1.3"/>
<line x1="1465.2" y1="1204.8" x2="1495.2" y2="1204.8" stroke="#333" stroke-width="1.8"/>
<line x1="1520.2" y1="1222.7" x2="1520.2" y2="1228.5" stroke="#333" stroke-width="1.3"/>
<line x1="1520.2" y1="1260.7" x2="1520.2" y2="1286.0" stroke="#333" stroke-width="1.3"/>
<rect x="1505.2" y="1228.5" width="30.0" height="32.2" fill="#0b2ef2" stroke="#333" stroke-width="1.3"/>
<line x1="1505.2" y1="1235.3" x2="1535.2" y2="1235.3" stroke="#333" stroke-width="1.8"/>
<line x1="1560.5" y1="1194.6" x2="1560.5" y2="1206.5" stroke="#333" stroke-width="1.3"/>
<line x1="1560.5" y1="1231.9" x2="1560.5" y2="1243.7" stroke="#333" stroke-width="1.3"/>
<rect x="1545.5" y="1206.5" width="30.0" height="25.4" fill="#e8392a" stroke="#333" stroke-width="1.3"/>
<line x1="1545.5" y1="1218.3" x2="1575.5" y2="1218.3" stroke="#333" stroke-width="1.8"/>
<line x1="1600.4" y1="1063.6" x2="1600.4" y2="1091.3" stroke="#333" stroke-width="1.3"/>
<rect x="1585.4" y="1035.4" width="30.0" height="28.2" fill="#5cc263" stroke="#333" stroke-width="1.3"/>
<line x1="1640.1" y1="1132.0" x2="1640.1" y2="1208.2" stroke="#333" stroke-width="1.3"/>
<line x1="1640.1" y1="1291.8" x2="1640.1" y2="1298.6" stroke="#333" stroke-width="1.3"/>
<rect x="1625.1" y="1208.2" width="30.0" height="83.6" fill="#f7e12e" stroke="#333" stroke-width="1.3"/>
<line x1="1625.1" y1="1284.4" x2="1655.1" y2="1284.4" stroke="#333" stroke-width="1.8"/>
<line x1="1480.2" y1="1342.0" x2="1480.2" y2="1345.5" stroke="#555" stroke-width="1.2"/>
<text transform="translate(1487.2,1361.0) rotate(-45)" font-size="23.6" word-spacing="2.2" text-anchor="end">Germ-free</text>
<line x1="1520.2" y1="1342.0" x2="1520.2" y2="1345.5" stroke="#555" stroke-width="1.2"/>
<text transform="translate(1527.2,1361.0) rotate(-45)" font-size="23.6" word-spacing="2.2" text-anchor="end"><tspan font-style="italic">E. coli</tspan> systemic exposure</text>
<line x1="1560.5" y1="1342.0" x2="1560.5" y2="1345.5" stroke="#555" stroke-width="1.2"/>
<text transform="translate(1567.5,1361.0) rotate(-45)" font-size="23.6" word-spacing="2.2" text-anchor="end"><tspan font-style="italic">E. coli</tspan> intestinal exposure</text>
<line x1="1600.4" y1="1342.0" x2="1600.4" y2="1345.5" stroke="#555" stroke-width="1.2"/>
<text transform="translate(1610.4,1360.1) rotate(-45)" font-size="23.6" word-spacing="2.2" text-anchor="end">Cholera toxin systemic priming</text>
<line x1="1640.1" y1="1342.0" x2="1640.1" y2="1345.5" stroke="#555" stroke-width="1.2"/>
<text transform="translate(1656.1,1358.3) rotate(-45)" font-size="23.6" word-spacing="2.2" text-anchor="end">Cholera toxin intestinal priming</text>
<text x="1212.9" y="891.6" font-size="26.2" text-anchor="end">20</text>
<text x="1212.9" y="1030.5" font-size="26.2" text-anchor="end">16</text>
<text x="1212.9" y="1188.0" font-size="26.2" text-anchor="end">12</text>
<text transform="translate(1178.5,1062.5) rotate(-90)" font-size="25.1" text-anchor="middle">Expanded clonotypes within the repertoire (%)</text>
<text transform="translate(2.58,1646.4) scale(1.06,1.07)" font-size="45" font-weight="bold" fill="#111">e</text>
<text x="200.4" y="1662.3" font-size="39.2" font-weight="bold">IgG2b</text>
<text x="101.5" y="1702.5" font-size="35.3">Spleen</text>
<text x="293.8" y="1702.5" font-size="36">MLN</text>
<text x="1532.5" y="1662.2" font-size="38.8" font-weight="bold">IgA</text>
<text x="1439.6" y="1702.4" font-size="35.8">MLN</text>
<text x="1604.8" y="1702.4" font-size="35.7">Ileum</text>
<circle cx="1474.9" cy="1788.5" r="12" fill="#c9c9ec" fill-opacity="0.55"/>
<circle cx="1451.4" cy="1895.1" r="6" fill="#c9c9ec" fill-opacity="0.55"/>
<circle cx="1458.6" cy="1931.2" r="6" fill="#c9c9ec" fill-opacity="0.55"/>
<circle cx="1520" cy="1934.9" r="12" fill="#c9c9ec" fill-opacity="0.70"/>
<circle cx="1614" cy="1790" r="10" fill="#c9c9ec" fill-opacity="0.55"/>
<circle cx="1650.2" cy="1998.1" r="9" fill="#c9c9ec" fill-opacity="0.85"/>
<circle cx="1679" cy="1971" r="8" fill="#c9c9ec" fill-opacity="0.70"/>
<circle cx="1628.5" cy="1913" r="6" fill="#c9c9ec" fill-opacity="0.55"/>
<circle cx="1697" cy="1927.6" r="6" fill="#c9c9ec" fill-opacity="0.55"/>
<circle cx="1587" cy="2092" r="5" fill="#c9c9ec" fill-opacity="0.85"/>
<circle cx="1652" cy="2229.3" r="5" fill="#c9c9ec" fill-opacity="0.70"/>
<circle cx="1617.6" cy="2234.8" r="5" fill="#c9c9ec" fill-opacity="0.70"/>
<circle cx="1624" cy="2301.6" r="5" fill="#c9c9ec" fill-opacity="0.70"/>
<circle cx="1588.7" cy="2236.6" r="5" fill="#c9c9ec" fill-opacity="0.55"/>
<circle cx="1639.3" cy="2422.6" r="12" fill="#c9c9ec" fill-opacity="0.85"/>
<circle cx="1614" cy="2408" r="6" fill="#c9c9ec" fill-opacity="0.55"/>
<circle cx="133.1" cy="1965.6" r="8" fill="#c9c9ec" fill-opacity="0.55"/>
<circle cx="1420" cy="2440" r="8" fill="#c9c9ec" fill-opacity="0.55"/>
<circle cx="1450" cy="2135" r="6" fill="#c9c9ec" fill-opacity="0.55"/>
<g transform="scale(0.5)"><path d="M275 3436h0m5 0h0m19 1h0m0-4h0m2 0h0m3 0h0m17 4h0m10 0h0m294-1h0m10-2h0m17 0h0m10 3h0m4 0h0m2253-1h0m17-2h0m8 2h0m8-2h0m10 1h0m302 1h0m8-1h0m5 1h0m6-1h0m6 0h0m7-1h0m4 0h0m6 0h0m7 1h0m10 2h0m2 0h0m-3063 4h0m10 0h0m17-3h0m26 4h0m8-4h0m9 3h0m10-1h0m7 2h0m253 1h0m7-1h0m1 0h0m8-1h0m10 2h0m5-2h0m8-3h0m12 5h0m15-5h0m10 5h0m6-2h0m3 2h0m10-1h0m2203-1h0m8 1h0m5-4h0m35 3h0m11 0h0m5-3h0m3 1h0m18 0h0m7 3h0m250 1h0m6-2h0m6-2h0m0 1h0m12-1h0m6 3h0m2 1h0m5 0h0m14-1h0m4-3h0m5 2h0m16-3h0m11 0h0m5 1h0m6 3h0m-3095 4h0m11-1h0m46 3h0m32-2h0m21 3h0m242-1h0m14-3h0m11-1h0m80 0h0m3 4h0m2185-2h0m2-1h0m2-1h0m24 2h0m60 0h0m6 2h0m24 1h0m1 0h0m221-1h0m4-2h0m3 1h0m5 2h0m3-3h0m9 0h0m7-1h0m5 2h0m51-2h0m9 2h0m3 0h0m6-1h0m4 3h0m6-3h0m1-2h0m4 2h0m2 1h0m2 1h0m4 1h0m-3118 1h0m11 0h0m12 4h0m26-3h0m63 1h0m13-2h0m10 4h0m208-3h0m9 0h0m15 3h0m59 0h0m14 0h0m23-4h0m9 1h0m2166 3h0m6 0h0m2-3h0m12 0h0m69-1h0m53 4h0m1 0h0m198-1h0m7-2h0m13 2h0m26-1h0m23-1h0m49 3h0m18 0h0m3-2h0m1-2h0m4 3h0m3 1h0m1-1h0m-3144 7h0m4-2h0m4-1h0m11 3h0m77-2h0m20-2h0m24 3h0m19 2h0m186-3h0m10-1h0m6 0h0m0 3h0m44-1h0m13 1h0m12-4h0m73 3h0m8 2h0m2184-2h0m15-3h0m11 0h0m35 2h0m29 3h0m16-1h0m188-1h0m3 2h0m1-4h0m6 3h0m10-2h0m54 2h0m73-3h0m11 0h0m0 0h0m2 2h0m1-1h0m2 0h0m0 2h0m1 1h0m-3157 5h0m0 0h0m55-4h0m10 5h0m67-3h0m38 2h0m1 1h0m174-1h0m30 1h0m15-1h0m77-3h0m14-1h0m2155 5h0m8-5h0m1 4h0m27-2h0m16 1h0m118-1h0m10 0h0m168 3h0m3-4h0m6 3h0m43 1h0m15-1h0m36-1h0m31 1h0m13-4h0m23 3h0m1-3h0m7 2h0m2 2h0m-3131 5h0m12-3h0m41 0h0m92 2h0m161 1h0m7-1h0m18-1h0m38 0h0m43 1h0m12 1h0m29 2h0m13-5h0m21 5h0m0-4h0m2204 2h0m16 2h0m13-1h0m13-3h0m35-1h0m10 2h0m9-2h0m7 5h0m150-2h0m12-2h0m3 4h0m68-4h0m9 0h0m66 1h0m37 2h0m-3189 2h0m1 2h0m115-1h0m39 2h0m14-1h0m30-2h0m172 5h0m29 0h0m89-1h0m57-4h0m2101 3h0m34-2h0m11 3h0m22 0h0m117 1h0m14-3h0m3 3h0m1-1h0m138 1h0m1-2h0m2-3h0m0 4h0m34-3h0m31 1h0m45-1h0m24 4h0m9-2h0m10-2h0m16 4h0m17-2h0m11-1h0m1-2h0m6 3h0m-3200 3h0m3 1h0m23-1h0m23 0h0m31 4h0m12-2h0m12-2h0m47 2h0m46 3h0m15-1h0m0-3h0m135 3h0m1-2h0m40-1h0m30-1h0m18 0h0m40 2h0m69 2h0m12-1h0m2088-2h0m11 1h0m196 0h0m6-2h0m130 3h0m10-3h0m2 1h0m63 4h0m8-5h0m8 4h0m9-3h0m9 3h0m94 0h0m5-2h0m7-1h0m4 4h0m-3216 5h0m3 1h0m21-5h0m51 3h0m54 2h0m64-5h0m35 2h0m120 0h0m123-2h0m39 2h0m13 1h0m20 2h0m21 0h0m8-1h0m2-2h0m2077-1h0m49 0h0m77 0h0m37 4h0m54-4h0m1 0h0m6 3h0m119-3h0m1 2h0m1-1h0m12 0h0m133 3h0m34-3h0m18 3h0m14 0h0m13-2h0m-3221 5h0m13 1h0m34-3h0m18 0h0m42 1h0m84 4h0m25 0h0m5-3h0m7 0h0m6 2h0m111 0h0m10-3h0m32 2h0m19-3h0m20 5h0m12-2h0m12-2h0m31 2h0m11-3h0m73 3h0m11 0h0m3 0h0m1 1h0m2076-1h0m60 0h0m17-1h0m16-2h0m49 4h0m191 1h0m3-4h0m8-1h0m3 1h0m14 2h0m64-3h0m41 3h0m30-2h0m33 2h0m32 0h0m7 1h0m-3227 7h0m1-3h0m31-1h0m55 3h0m78-3h0m178 4h0m14-3h0m111 3h0m26 0h0m29 0h0m14-3h0m20 1h0m29-1h0m2060 1h0m4 2h0m46-5h0m49 4h0m20-1h0m12-1h0m15 3h0m85-5h0m3 2h0m112 0h0m15 2h0m69-4h0m29 2h0m65-1h0m40 2h0m16 0h0m5 0h0m-3225 7h0m11-1h0m55-1h0m36 0h0m20-2h0m100 1h0m11 2h0m2 2h0m3-4h0m95 4h0m69-3h0m12 0h0m21 1h0m42-1h0m90 2h0m2066-2h0m2 0h0m79 1h0m145-3h0m24 1h0m99 3h0m2-3h0m1 0h0m76 2h0m12 0h0m12-1h0m30-1h0m10-1h0m91 1h0m4 3h0m7-3h0m0 3h0m-3240 7h0m0-5h0m45 2h0m58 0h0m24 0h0m45 0h0m78 0h0m116 0h0m13 1h0m54 2h0m41 0h0m43-1h0m77 0h0m3-2h0m2046 2h0m6-2h0m5-2h0m10 3h0m49-3h0m25 0h0m26 2h0m14 1h0m40-2h0m62 2h0m14 0h0m95 1h0m0 0h0m2-2h0m18 0h0m11 0h0m89 0h0m11-2h0m118 1h0m5-1h0m3 5h0m-3251 5h0m66-4h0m54 2h0m23-2h0m64 1h0m47 4h0m3 0h0m92 0h0m9-3h0m47-1h0m96-1h0m40 2h0m11 3h0m38-2h0m17 0h0m2085 1h0m31 1h0m12 0h0m118-5h0m43 0h0m0 0h0m2 1h0m8-1h0m86 1h0m5 0h0m0 0h0m37 4h0m21-3h0m36-1h0m108-1h0m47 3h0m7 1h0m-3249 7h0m12-2h0m26-3h0m36 5h0m102-4h0m17 4h0m25 0h0m27-5h0m11 4h0m83 1h0m3-1h0m23 0h0m56 0h0m22-4h0m19 3h0m67 2h0m48 0h0m2128-3h0m38-2h0m14 0h0m105 1h0m13 2h0m31 0h0m1 1h0m77-2h0m1 0h0m1 3h0m7-2h0m22-2h0m53 2h0m9-3h0m11 5h0m119 0h0m35-5h0m1 2h0m7 2h0m-3258 2h0m31 4h0m36-1h0m41-2h0m25 3h0m20-4h0m20 0h0m41 4h0m53-2h0m193 3h0m53-5h0m53 0h0m43 3h0m6-3h0m2031 2h0m5-1h0m171 2h0m36-3h0m42 0h0m11 4h0m5 0h0m75-3h0m1 4h0m3-2h0m14 1h0m9-1h0m12 1h0m200-4h0m32 5h0m-3263 3h0m16 1h0m71 2h0m14-2h0m88 2h0m51-4h0m13 2h0m14 2h0m4-4h0m76 4h0m0-3h0m14-1h0m87 2h0m49 0h0m11 1h0m40 0h0m30-2h0m17-1h0m14-1h0m6 2h0m2032 2h0m15-1h0m58 0h0m12 1h0m12 0h0m27-3h0m16 2h0m24 0h0m64 0h0m114-2h0m6-1h0m45 5h0m9-1h0m28-1h0m18 0h0m9-3h0m38 3h0m37 1h0m29 1h0m49-5h0m6 2h0m2 2h0m-3200 4h0m11 1h0m39 1h0m10-4h0m22 1h0m21 0h0m107 1h0m69 3h0m38-3h0m31 3h0m74 0h0m35-4h0m16 4h0m49-1h0m23 1h0m8-4h0m2024 3h0m51 0h0m14 0h0m92-1h0m23 1h0m23-3h0m42 0h0m21 4h0m80-4h0m3 1h0m1 3h0m9 0h0m65-5h0m94 4h0m62-2h0m38 3h0m5-2h0m2 2h0m-3245 3h0m15 2h0m99-3h0m66 2h0m21-2h0m15 2h0m12 1h0m14 1h0m83-1h0m2-4h0m50 5h0m28-5h0m23 5h0m107-5h0m64 0h0m2032 1h0m85 2h0m14 0h0m32 0h0m25 1h0m25-4h0m29 3h0m12 0h0m47 0h0m65-2h0m9 2h0m39-1h0m23-2h0m23 2h0m11-1h0m151 3h0m25 0h0m-3272 4h0m67 0h0m34-1h0m21 3h0m38-4h0m30 0h0m32 5h0m59-4h0m64-1h0m96 1h0m81 2h0m33 2h0m18-5h0m14 3h0m12-2h0m28 1h0m0 1h0m2017-3h0m42 5h0m14-2h0m27-3h0m44 0h0m58 3h0m24 0h0m44-3h0m25 5h0m68-4h0m2 0h0m35 1h0m26-2h0m16 2h0m10 0h0m15 1h0m111-3h0m55 4h0m12 0h0m-3272 6h0m52 0h0m29-4h0m54 5h0m41-2h0m61 1h0m12-1h0m29-3h0m4 1h0m62 1h0m14 3h0m11 0h0m48-5h0m14 0h0m21 5h0m11-2h0m17-3h0m28 1h0m61 4h0m34 0h0m25 0h0m2018-2h0m69-2h0m25 1h0m15 0h0m28-1h0m60 1h0m46 3h0m101-5h0m9 5h0m10-5h0m31 0h0m9 3h0m64 0h0m46-1h0m37 3h0m18-2h0m48-1h0m12 2h0m-3187 6h0m129 1h0m51 0h0m80-2h0m2 2h0m58-3h0m85-1h0m57 3h0m39 1h0m2061-2h0m48 2h0m70-3h0m102 0h0m31-2h0m17 0h0m0 3h0m10-3h0m60 2h0m1 2h0m0-3h0m2 0h0m42 4h0m242-4h0m-3276 6h0m5-1h0m32 0h0m13 5h0m25-2h0m41-3h0m57 1h0m15 1h0m44 0h0m54-2h0m96 0h0m16 0h0m34 5h0m42-5h0m2173 3h0m0 1h0m33-1h0m76 0h0m41-3h0m38 0h0m13 3h0m11-3h0m69 1h0m94 2h0m37 1h0m27 1h0m16-2h0m11-3h0m9 1h0m35-1h0m26 5h0m41-5h0m13 3h0m10 0h0m29-2h0m0-1h0m-3277 10h0m21-4h0m65 3h0m13-3h0m32 5h0m33-1h0m77 1h0m22 0h0m13-2h0m11 0h0m60-1h0m19-2h0m25 3h0m22 1h0m39-4h0m37 1h0m14 2h0m18-2h0m45-1h0m67 1h0m2020-1h0m2 3h0m16-1h0m44 2h0m27-4h0m82 4h0m74-1h0m16 0h0m18 2h0m59-5h0m11 4h0m0-4h0m47 0h0m28 4h0m18 0h0m97-1h0m10-3h0m28 2h0m37 2h0m3-1h0m7-2h0m-3273 5h0m1 0h0m112 3h0m97-3h0m13 0h0m51 2h0m8 2h0m0-3h0m72 1h0m14 3h0m59-1h0m117 0h0m57-4h0m26 4h0m2014-3h0m15 0h0m37-1h0m29 5h0m41-5h0m98 4h0m21-1h0m45 1h0m61-4h0m1 2h0m0-1h0m5 3h0m17-2h0m29 2h0m19 0h0m21-2h0m54 1h0m48 0h0m15 0h0m16-3h0m40 0h0m20 2h0m-3277 8h0m1-3h0m16-1h0m34 0h0m24 0h0m23 1h0m37 4h0m15-2h0m28-3h0m170 1h0m52 0h0m18 2h0m31-3h0m62 3h0m27 0h0m57 0h0m20-1h0m2031-1h0m1 4h0m36-2h0m12 2h0m48-5h0m14 0h0m45 2h0m15-1h0m15 2h0m75-2h0m21 4h0m64 0h0m0-5h0m2 3h0m8-3h0m122 1h0m122 1h0m25 2h0m5-2h0m-3274 7h0m3-3h0m27 5h0m77 0h0m60-3h0m28 0h0m31-2h0m14 4h0m31-2h0m12 0h0m64 1h0m5-2h0m16 4h0m20-3h0m48 1h0m61-3h0m28 1h0m29 0h0m23 1h0m49-1h0m2018 3h0m16 1h0m44-1h0m68 1h0m109 0h0m11-1h0m21 0h0m15-3h0m61 0h0m4 2h0m67 0h0m9-2h0m17-1h0m11 2h0m53 3h0m9-4h0m80 2h0m27 0h0m8-2h0m-3224 10h0m78-2h0m84-1h0m47-2h0m16 4h0m133 1h0m71-2h0m37-1h0m48-2h0m57 1h0m2028 3h0m133 0h0m13 1h0m11-5h0m42 0h0m142 0h0m1 4h0m2 0h0m0-4h0m27 4h0m15-1h0m9 2h0m32-2h0m29-3h0m157 1h0m6 4h0m4-4h0m-3270 6h0m5 2h0m61 2h0m49-4h0m24 4h0m15 0h0m202-1h0m20-4h0m11 2h0m34-2h0m34 2h0m41 2h0m35-3h0m13-1h0m38 0h0m29 5h0m2036-4h0m1 0h0m29 0h0m26 3h0m40-4h0m16 3h0m163 0h0m70 0h0m7 1h0m82 1h0m40-5h0m104 0h0m10 4h0m20-4h0m13 1h0m2 4h0m-3268 4h0m76-3h0m94 1h0m13 0h0m36-1h0m54 3h0m75-3h0m172 2h0m37 2h0m14 0h0m49-3h0m2031 1h0m36 0h0m42 2h0m74-3h0m46-1h0m143 3h0m0 0h0m11 1h0m23-3h0m92 3h0m55-3h0m17 1h0m26-2h0m-3213 8h0m26 3h0m14-2h0m12 0h0m46-2h0m14-1h0m50 5h0m39-4h0m60-1h0m8 5h0m79-3h0m9 0h0m17 2h0m32-3h0m60 2h0m31 1h0m91-4h0m27 4h0m2031 0h0m64-2h0m28 0h0m11 1h0m103 1h0m61-4h0m76 5h0m27-3h0m8 2h0m20-1h0m10 0h0m28-2h0m46 1h0m73 2h0m42-4h0m10 3h0m8-2h0m-3262 5h0m90 2h0m48 3h0m84-4h0m14 1h0m17 3h0m14-5h0m172 0h0m77 4h0m18-4h0m74 3h0m6 2h0m2034-1h0m44-3h0m30 1h0m43-2h0m30 0h0m12 3h0m34-1h0m74 0h0m78 2h0m15-3h0m63-1h0m20 0h0m49 2h0m42 3h0m11-2h0m20 1h0m-3208 2h0m5 4h0m92-2h0m14-1h0m58-1h0m30 5h0m63-3h0m89 3h0m37-2h0m57-3h0m17 5h0m127-3h0m18 2h0m2036-1h0m5-3h0m2 5h0m15-4h0m66 4h0m42-1h0m50-4h0m48 1h0m36 3h0m83 0h0m0-1h0m50-2h0m87-1h0m37 4h0m71-4h0m8 3h0m10-2h0m0 2h0m-3254 3h0m1 2h0m12 2h0m42-4h0m14 3h0m19 2h0m75-1h0m59 1h0m12-4h0m23 0h0m1 4h0m89-3h0m74 0h0m68 0h0m33-2h0m76 3h0m2 2h0m6-3h0m2045 3h0m203-3h0m52 1h0m86-1h0m11 2h0m56 0h0m43 1h0m50-2h0m22 1h0m34 1h0m9-5h0m21 3h0m13-3h0m0 4h0m-3244 7h0m1-3h0m30 2h0m12 0h0m50-1h0m21-2h0m18-1h0m35 2h0m13 3h0m166-3h0m16 1h0m12-3h0m15 5h0m10-5h0m32 4h0m13 0h0m21-1h0m30-2h0m78-1h0m23 4h0m2047 0h0m1 0h0m3 0h0m11 1h0m28-1h0m18-4h0m34 2h0m49 2h0m33-1h0m20 1h0m28-3h0m24 1h0m3 2h0m94-1h0m1-3h0m0 4h0m0-4h0m15 4h0m11-2h0m27 0h0m36-2h0m29 0h0m18 5h0m67 0h0m36-2h0m11 0h0m-3237 7h0m4 0h0m142-2h0m52-1h0m26 3h0m11 0h0m5 1h0m2-4h0m105 1h0m0 2h0m29 1h0m33-3h0m70 1h0m47-1h0m35 2h0m26 1h0m2056-3h0m72 2h0m45-4h0m12 2h0m83 1h0m28 2h0m105-4h0m96 0h0m131 4h0m19-2h0m-3107 7h0m49 1h0m12-3h0m23 3h0m22 0h0m9-4h0m108 0h0m3 0h0m2 3h0m8-3h0m28 3h0m41-1h0m60-3h0m14 0h0m12 4h0m30-2h0m31 2h0m2071-2h0m21 0h0m27 0h0m43-2h0m11 2h0m29 1h0m19-2h0m18 4h0m14-1h0m12 1h0m36-4h0m1 3h0m3-4h0m106 0h0m3 0h0m1 4h0m18-2h0m107 1h0m20 0h0m9 2h0m31-5h0m10 5h0m38-2h0m4-2h0m-3224 9h0m8-3h0m28-1h0m37 2h0m20 0h0m12 2h0m120-1h0m2 0h0m121-1h0m50-1h0m14 1h0m25-1h0m12 1h0m72 2h0m51-2h0m2074 2h0m73-2h0m43-1h0m21 4h0m70-4h0m16-1h0m121 3h0m39 1h0m15 0h0m10 1h0m41-3h0m99 0h0m-3186 4h0m9 2h0m4 3h0m59 0h0m106 0h0m13-2h0m25-1h0m127 2h0m4-3h0m20-1h0m94 3h0m24 2h0m14-1h0m52-1h0m9 1h0m2083-1h0m3 1h0m3-2h0m16-1h0m29 0h0m38 1h0m77 1h0m53-1h0m126-2h0m3 0h0m104 1h0m9-1h0m10 0h0m11 1h0m24 1h0m29-1h0m31-1h0m-3204 10h0m16-4h0m30 3h0m63 1h0m12-2h0m11 0h0m68 2h0m4 0h0m141-3h0m35-1h0m44 5h0m12 0h0m83-1h0m16 1h0m2106-3h0m71-1h0m23 3h0m29 0h0m58-2h0m24 3h0m139-5h0m2 3h0m3 0h0m7-1h0m1-1h0m84 2h0m11 1h0m24-1h0m35-3h0m9 4h0m10 0h0m9-1h0m17 0h0m-3192 8h0m29-4h0m30 4h0m121-4h0m11 1h0m199-2h0m108 3h0m36-2h0m6 2h0m2102-1h0m4-2h0m129 1h0m53 2h0m5-3h0m2 5h0m150-5h0m6 2h0m11 0h0m50 3h0m10-1h0m70-1h0m52 2h0m4-4h0m-3183 8h0m10 1h0m56-4h0m48 1h0m22 4h0m36-5h0m8 1h0m3 1h0m164 0h0m4-2h0m22 0h0m28 2h0m34 3h0m31-5h0m11 5h0m51-3h0m2115 0h0m22 3h0m38-2h0m30-2h0m47 0h0m25 1h0m12 3h0m8-1h0m164-2h0m4 3h0m2-3h0m17 2h0m56 1h0m23-2h0m14 0h0m11-2h0m22-1h0m9 1h0m23 4h0m3-3h0m-3164 7h0m15 2h0m14-3h0m55-2h0m13 3h0m66 0h0m184-3h0m11 5h0m25 0h0m26-5h0m94 3h0m9 0h0m2131-2h0m2 4h0m1-4h0m7 1h0m83 0h0m12 0h0m54 3h0m7-4h0m5 0h0m173 1h0m5 3h0m81-2h0m43-1h0m16 3h0m3 0h0m25-4h0m-3154 6h0m61 3h0m15 1h0m58-5h0m4 5h0m14-3h0m193-1h0m2 1h0m0-1h0m6 4h0m14-4h0m27 2h0m31 1h0m14 1h0m14-2h0m18-3h0m15 2h0m2164 2h0m11-1h0m17 1h0m34-3h0m45 3h0m235-1h0m1-2h0m4 3h0m9 1h0m16-5h0m52 4h0m9 0h0m15-1h0m28 2h0m8-3h0m6 2h0m4-3h0m-3137 6h0m8 1h0m26-1h0m60 0h0m16 4h0m8-3h0m12 1h0m5-2h0m2 0h0m219 3h0m2-4h0m11 5h0m20 0h0m1 0h0m15-1h0m60-2h0m11 1h0m1-3h0m2170 1h0m10 4h0m12-1h0m43 1h0m57-2h0m9 1h0m6-4h0m206 0h0m3 2h0m2 1h0m2-3h0m5 4h0m6-3h0m11 3h0m6-4h0m0 5h0m79-5h0m3 1h0m7 4h0m3 0h0m2-3h0m2 1h0m1 0h0m4-1h0m0-1h0m-3108 6h0m9 3h0m46 0h0m11 1h0m1 0h0m29 0h0m6-4h0m244-1h0m6 1h0m25 2h0m36-3h0m14 1h0m3 3h0m3-2h0m6 3h0m6-4h0m1 2h0m4-2h0m2203 3h0m9-1h0m3 0h0m10-2h0m7 2h0m29-2h0m4-1h0m20 5h0m8-3h0m243-1h0m3 1h0m6 1h0m7 1h0m1-1h0m0-1h0m15 3h0m3-5h0m22 1h0m9 0h0m3 4h0m7-3h0m0 1h0m1-3h0m0 0h0m17 4h0m6 1h0m6-3h0m5-1h0m1-1h0m-3074 9h0m17 0h0m36 0h0m6 0h0m2-1h0m280-2h0m4 3h0m4-2h0m5 4h0m8-1h0m6 0h0m6 1h0m7 0h0m9-2h0m4 2h0m5-1h0m2-1h0m0-3h0m10 1h0m2231 1h0m9-1h0m2 1h0m6 1h0m7 2h0m13-1h0m0 0h0m1 1h0m9-1h0m8 0h0m7-2h0m271-2h0m7 2h0m3 1h0m3 0h0m5 1h0m5 1h0m4-4h0m3 4h0m6 0h0m6-1h0m0 0h0m18 1h0m0-1h0m5 0h0m5-2h0m1 2h0m7-2h0m4-2h0m-3040 6h0m7 0h0m3 0h0m8 0h0m3 0h0m2984 0h0m6 0h0m-3018 29h0m5-1h0m8 0h0m5 1h0m5-1h0m3 0h0m2 0h0m0 0h0m3 1h0m5 0h0m312 0h0m4-1h0m7 0h0m6 1h0m3-1h0m1 1h0m6-1h0m4 1h0m2272-1h0m0 0h0m0 0h0m8 0h0m4 1h0m6 0h0m1 0h0m6 0h0m312 0h0m5 0h0m6 0h0m5-1h0m5 0h0m4 0h0m1 0h0m7 1h0m2-1h0m4 1h0m-3055 6h0m6 0h0m4-3h0m6 0h0m2 1h0m1 0h0m4-3h0m3 1h0m2 1h0m13 3h0m0-1h0m7-4h0m2 2h0m6 3h0m2-5h0m7 5h0m4-4h0m0-1h0m5 5h0m1-4h0m1 2h0m5-1h0m7 3h0m2 0h0m256 0h0m5-1h0m6 0h0m6-4h0m25 1h0m0 1h0m2-1h0m3 2h0m5-1h0m9-2h0m3 0h0m5 0h0m4 5h0m3-2h0m1 1h0m5 0h0m6 0h0m2212 1h0m4-1h0m1-1h0m3 2h0m1-3h0m2 1h0m1 2h0m3-4h0m0 1h0m2 2h0m3 1h0m0 0h0m1-5h0m8 0h0m0 1h0m12 1h0m5 0h0m5 3h0m4-4h0m8 0h0m0 1h0m6-1h0m5 1h0m0 3h0m6-3h0m4 1h0m2 1h0m264-1h0m5 1h0m4 0h0m3-2h0m1 3h0m0-4h0m6 0h0m8 3h0m7 1h0m2-1h0m6 0h0m3 0h0m7 0h0m7-1h0m1-3h0m6 2h0m0 2h0m2-3h0m2 0h0m1 0h0m2 4h0m0-1h0m3-2h0m2 2h0m2 0h0m2 0h0m1 0h0m1 0h0m-3091 5h0m0 2h0m6-3h0m3 1h0m6 1h0m21-1h0m2-2h0m7-1h0m7 1h0m2-1h0m6 1h0m0 1h0m2-1h0m11 0h0m3 3h0m27-4h0m1 3h0m0-3h0m0 3h0m11 2h0m229-1h0m2 0h0m3-1h0m2-2h0m35-1h0m5 3h0m1 1h0m6 0h0m10-4h0m1 5h0m13 0h0m27-2h0m1-1h0m11 2h0m2184 0h0m2 0h0m1-1h0m3 1h0m15 0h0m35-3h0m3 2h0m14-1h0m3 0h0m11-1h0m2 2h0m11-3h0m1 0h0m3 0h0m5 2h0m0 0h0m5 3h0m232-2h0m12-3h0m3 3h0m6-1h0m10-1h0m4 0h0m1 0h0m1 3h0m3 1h0m10-5h0m13 3h0m1 0h0m5 0h0m2-2h0m1 2h0m7-3h0m10 2h0m1 2h0m4-2h0m5 3h0m5-5h0m0 0h0m2 2h0m3 0h0m5 1h0m1 2h0m-3116 3h0m4-1h0m2 4h0m0-1h0m3-4h0m1 2h0m2 2h0m2-4h0m3 0h0m6 5h0m4-5h0m0 2h0m2 3h0m8-4h0m7 2h0m3-2h0m43-1h0m6 4h0m0-2h0m10-1h0m2 0h0m5 0h0m1 1h0m5 0h0m12-1h0m0 2h0m4 1h0m0-1h0m209 0h0m1 0h0m6-3h0m13 4h0m11-4h0m52 0h0m7 3h0m31 1h0m5 1h0m7-3h0m7 3h0m2156 0h0m5-2h0m5-3h0m6 5h0m1-1h0m8-2h0m1-2h0m10 2h0m0 0h0m14-2h0m25 4h0m20 1h0m4-5h0m5 2h0m0-2h0m5 0h0m6 1h0m3 1h0m11-1h0m6 0h0m2 1h0m213 0h0m2 1h0m3-3h0m3 3h0m1 1h0m17-1h0m2 1h0m2-2h0m2-1h0m1 0h0m3 2h0m3-1h0m63 2h0m17 0h0m4-3h0m7 1h0m-3130 7h0m3-3h0m3 0h0m22 0h0m33 3h0m48 2h0m17-3h0m0 2h0m2-1h0m11 0h0m3 1h0m3 1h0m5 0h0m1-4h0m3 3h0m1 0h0m2 1h0m186 0h0m2-2h0m8 2h0m1-3h0m42 3h0m7 0h0m26 0h0m8-4h0m24-1h0m28 2h0m2 2h0m1 1h0m4 0h0m0-3h0m2149 0h0m2 3h0m0-4h0m18 0h0m4-1h0m42 5h0m9-1h0m16-4h0m22 4h0m26 0h0m4-2h0m7-2h0m2 5h0m2-2h0m2 1h0m194-3h0m13 3h0m4-4h0m1 2h0m9 0h0m48 2h0m42-4h0m2 3h0m8-3h0m3 2h0m4 3h0m2-3h0m10-1h0m0 2h0m1-1h0m5 2h0m1 1h0m-3160 5h0m5-3h0m5 4h0m2-1h0m9-4h0m5 5h0m5-3h0m1 0h0m7 2h0m7 0h0m47-2h0m7 2h0m9-3h0m15 4h0m22-5h0m2 1h0m14 2h0m1-1h0m1-1h0m7-1h0m2 2h0m0 0h0m3 2h0m0 1h0m170-1h0m1-1h0m4-2h0m0-1h0m2 1h0m6 4h0m2-2h0m25-3h0m18 5h0m43-1h0m27-1h0m18-3h0m22 0h0m3 3h0m1-1h0m5 3h0m0 0h0m2124 0h0m5-4h0m1-1h0m7 0h0m0 2h0m1 0h0m3 0h0m6 0h0m73-1h0m8 1h0m8-2h0m52 0h0m3 5h0m4-4h0m1 1h0m3 3h0m183-2h0m8 2h0m11-4h0m5-1h0m11 2h0m66 1h0m28-2h0m14-1h0m4 2h0m1-2h0m8 0h0m1 1h0m0 4h0m3-1h0m3 1h0m-3175 6h0m2-3h0m1 3h0m1-3h0m3 3h0m2-5h0m6 4h0m0 0h0m6 0h0m3 0h0m41-1h0m22 0h0m15-1h0m15 0h0m19 3h0m23-5h0m9 3h0m3-2h0m2 0h0m1 1h0m0-1h0m2 2h0m0-2h0m4 2h0m4-3h0m5 4h0m157 0h0m4-1h0m2 1h0m3-4h0m72 5h0m49-4h0m44-1h0m7 0h0m2 4h0m3 1h0m3-2h0m0 2h0m2114-4h0m1-1h0m2 0h0m6 4h0m6-3h0m1 0h0m6 4h0m53-4h0m10-1h0m39 0h0m9 2h0m15-1h0m19 2h0m9-1h0m7 2h0m2-1h0m159-1h0m4 3h0m2-3h0m1 0h0m4 1h0m34-2h0m36 2h0m7 0h0m66 0h0m33 1h0m2 0h0m-3188 5h0m0 0h0m4 0h0m6-2h0m3-1h0m1 3h0m8 0h0m5 0h0m58-2h0m16 1h0m82-1h0m5-1h0m1 0h0m2 4h0m2-3h0m6 0h0m3 2h0m0 0h0m143 2h0m2-2h0m10-3h0m1 2h0m7 2h0m6-4h0m13 5h0m14-2h0m45-1h0m32-1h0m60-1h0m9 2h0m2-1h0m0 0h0m4 4h0m2095-1h0m14-2h0m103-2h0m18 4h0m35-1h0m15 0h0m4 0h0m1 0h0m9-2h0m2 1h0m146 0h0m14 1h0m4 1h0m3-1h0m1 0h0m2-3h0m24 0h0m27 1h0m32 0h0m13 1h0m74 1h0m2-3h0m1 0h0m1 0h0m4 4h0m-3197 3h0m1 1h0m1 0h0m4 0h0m1 3h0m43-1h0m30-1h0m17 0h0m16-2h0m15 1h0m7 1h0m8-1h0m7 2h0m6-2h0m16-2h0m21 2h0m1 1h0m10 2h0m0-5h0m7 4h0m134-2h0m3 0h0m3-2h0m2 2h0m6 2h0m4-3h0m3-1h0m60 0h0m53 4h0m10 1h0m15-5h0m16 5h0m22-2h0m3 2h0m6-2h0m1 1h0m2089 1h0m4-3h0m5-2h0m0 2h0m11-1h0m16 4h0m9-3h0m8-1h0m56 0h0m24 3h0m30-4h0m35 1h0m3 2h0m1 2h0m1-4h0m12 2h0m130 2h0m5-3h0m1-1h0m3 1h0m2 1h0m7-3h0m4 5h0m13 0h0m23 0h0m63-1h0m90-3h0m1-1h0m3 3h0m2 2h0m-3211 6h0m3-5h0m2 5h0m79 0h0m25 0h0m42-1h0m34 1h0m7-1h0m10-3h0m4 0h0m1 4h0m4 0h0m1-3h0m5-1h0m6 2h0m122 2h0m2-1h0m2-3h0m1-1h0m0 2h0m44-1h0m19-1h0m17 0h0m27 2h0m6 3h0m80-1h0m25-3h0m4 4h0m2073-2h0m1 2h0m1-4h0m2 2h0m8-1h0m6-2h0m5 3h0m9 0h0m61 0h0m16 1h0m90-4h0m11 2h0m2 1h0m10-2h0m125 2h0m2-1h0m1 2h0m1-2h0m7 0h0m4 0h0m75 0h0m7-2h0m35 3h0m45 0h0m8-2h0m6 4h0m14-5h0m6 1h0m6 0h0m2 3h0m2-2h0m-3217 9h0m0-1h0m1-2h0m26 2h0m17 0h0m10-1h0m32 2h0m21-4h0m33 1h0m30 2h0m52-3h0m1 4h0m3-4h0m3-1h0m0 4h0m3-2h0m1 1h0m1 2h0m114-2h0m83 2h0m31-2h0m43 1h0m57-2h0m5-1h0m9-1h0m2 3h0m2067 0h0m1 2h0m0-3h0m4-2h0m1 2h0m1-1h0m16 3h0m48-1h0m16-3h0m8 5h0m37-1h0m35-2h0m24-1h0m40 0h0m2 3h0m113-1h0m4-3h0m2 2h0m3 0h0m4 0h0m2-1h0m18 1h0m9 3h0m8-4h0m41 3h0m118-1h0m20 1h0m1-2h0m4 3h0m-3228 2h0m1-1h0m4 4h0m3-1h0m5-2h0m1-1h0m10 2h0m13 2h0m63 0h0m16 1h0m74-1h0m23-4h0m19 2h0m4-2h0m4 3h0m105-1h0m1 1h0m3-3h0m31 3h0m59 1h0m97-1h0m9-3h0m21 5h0m11-2h0m3 1h0m3-4h0m1 4h0m2 1h0m2059-3h0m1 1h0m38-1h0m12 2h0m10 0h0m89 1h0m20 0h0m10-2h0m8-3h0m14 1h0m37 3h0m104 1h0m3-3h0m1 2h0m2-1h0m1 1h0m5-1h0m0-2h0m2-1h0m66 3h0m45-1h0m30-2h0m49 1h0m5 4h0m22-4h0m2 4h0m5-3h0m2 3h0m1-2h0m2 2h0m0-1h0m-3235 3h0m1-1h0m0 0h0m0 5h0m4-3h0m4 2h0m5 1h0m9-3h0m50-2h0m16 4h0m8-4h0m14 1h0m17 0h0m15 0h0m7-1h0m24 0h0m47 0h0m18 2h0m4 3h0m101 0h0m2-4h0m7 0h0m4 2h0m8-2h0m13 1h0m77 0h0m106-2h0m24 3h0m8 1h0m1 1h0m2050 0h0m0-3h0m13 0h0m39 2h0m136 0h0m51-3h0m9 4h0m101-5h0m0 1h0m1 2h0m11-3h0m34 1h0m9 4h0m42 0h0m8-1h0m25 1h0m39-2h0m10-3h0m35 1h0m13 1h0m2 3h0m16-1h0m-3243 7h0m0-2h0m35 1h0m7-3h0m17 1h0m20 2h0m25-2h0m6-1h0m12 1h0m7-2h0m13 1h0m16 3h0m32-3h0m67 4h0m89 0h0m5-1h0m25-4h0m40 5h0m64-2h0m21 2h0m30-5h0m63 3h0m6-2h0m1 3h0m1 1h0m2046-1h0m2 0h0m2 1h0m3-4h0m35 1h0m52 3h0m8-5h0m43 3h0m10 1h0m13-4h0m28 4h0m25 1h0m17-5h0m0 1h0m5 2h0m2-3h0m7 3h0m0-1h0m1 2h0m90 1h0m7-5h0m4 5h0m4 0h0m4-4h0m23 1h0m113-1h0m29 1h0m14 2h0m31-3h0m13 1h0m8 0h0m1-2h0m2 4h0m0-1h0m-3247 8h0m4-5h0m2 4h0m0-4h0m0 3h0m1 2h0m9 0h0m15-5h0m7 4h0m33-1h0m9 2h0m15-2h0m22 1h0m10 0h0m7 1h0m19-4h0m37 0h0m59 4h0m3-3h0m7 0h0m87 3h0m8 0h0m9-4h0m37 4h0m15 0h0m15 0h0m29-3h0m8-1h0m74-1h0m44 0h0m7 2h0m1 0h0m10 2h0m1-1h0m2-1h0m2040 3h0m2-5h0m0 5h0m9-3h0m1-1h0m14 1h0m10-1h0m20 1h0m14 2h0m51-4h0m113 2h0m8 2h0m6-3h0m6 4h0m3 0h0m3-2h0m0-2h0m85 4h0m1-3h0m3 0h0m2-1h0m1 0h0m1 3h0m7 0h0m37 0h0m35-2h0m18 0h0m33-2h0m28 3h0m41 2h0m37-5h0m16 2h0m1-1h0m-3254 8h0m0 0h0m17-2h0m1-1h0m50 4h0m9 0h0m12-1h0m8 2h0m50-5h0m8 3h0m8 1h0m6-4h0m41 2h0m47 1h0m7-1h0m2 1h0m81 0h0m0 0h0m0 0h0m0-1h0m1 3h0m5-3h0m27-1h0m43 2h0m36 0h0m108-3h0m8 1h0m9 0h0m23 4h0m0-5h0m4 1h0m0 2h0m2037-3h0m3 3h0m4 2h0m13-4h0m7 3h0m13 0h0m24 1h0m15-5h0m11 4h0m160-1h0m2-3h0m7 5h0m3-5h0m81 4h0m11 0h0m83 1h0m30-3h0m18-2h0m60 4h0m43-3h0m7 4h0m9-1h0m4-2h0m0 1h0m-3259 8h0m1-1h0m1-2h0m9 3h0m3-2h0m3-3h0m36 4h0m31 0h0m61-3h0m17 3h0m71 0h0m32-4h0m2 3h0m2-1h0m78 1h0m12 1h0m26-1h0m50 2h0m99-3h0m37-1h0m12 1h0m23-1h0m10 0h0m1 4h0m2034-4h0m1 1h0m1 3h0m2-4h0m3-1h0m14 2h0m33 3h0m20-4h0m10 4h0m99-5h0m54 3h0m17 0h0m0 1h0m11-3h0m76 2h0m3 0h0m9 1h0m1-1h0m58 1h0m50-4h0m9 1h0m19 1h0m8-2h0m4 5h0m5-5h0m11 5h0m9-2h0m8-1h0m15 0h0m15 2h0m21-3h0m24 0h0m-3260 7h0m26 2h0m21 0h0m27-2h0m18-2h0m21 0h0m10 1h0m19 1h0m7-1h0m89 3h0m22-2h0m6-2h0m5 1h0m73 2h0m1 0h0m3-3h0m10 2h0m19 2h0m10 0h0m13-3h0m102 3h0m63-3h0m23 0h0m8 1h0m22 0h0m1 3h0m2025-1h0m24 0h0m28 0h0m21-4h0m62 4h0m117-4h0m11 4h0m5 1h0m77 0h0m1-3h0m9 1h0m2-3h0m2 2h0m109-2h0m4 4h0m17-4h0m28 1h0m11 3h0m7 0h0m31-1h0m21-2h0m16-1h0m12 3h0m2 1h0m1-4h0m-3265 6h0m66 3h0m8 0h0m10-1h0m19 2h0m9-1h0m21 1h0m7-3h0m26 2h0m8 1h0m7-4h0m6 4h0m13 0h0m13 0h0m50 1h0m3 0h0m0 0h0m5 0h0m4-4h0m2 4h0m69-2h0m5 0h0m6-2h0m40-1h0m19 2h0m18 0h0m22 1h0m80 2h0m55-3h0m24-1h0m1-1h0m2028 4h0m2-1h0m3 2h0m32-4h0m35 1h0m15-1h0m62-1h0m82 1h0m41 0h0m4-1h0m2 5h0m72-5h0m6 3h0m1 0h0m2-1h0m109 2h0m44-4h0m19 5h0m39 0h0m53-1h0m1-4h0m1 5h0m-3270 5h0m0-3h0m13 3h0m36-3h0m66 4h0m12-1h0m21-4h0m7 2h0m6 2h0m20-1h0m13-2h0m12 1h0m17-1h0m48 0h0m6 4h0m2-4h0m67 1h0m1 3h0m6 0h0m5-1h0m41-2h0m18 1h0m7-1h0m11 1h0m97 2h0m33-5h0m48 0h0m3 5h0m3-1h0m5-4h0m2020 2h0m1 0h0m5 2h0m1-1h0m1-3h0m43 0h0m10 1h0m7 3h0m17 0h0m11-1h0m13 0h0m27-1h0m9-2h0m21 2h0m38-1h0m34 2h0m109-2h0m1 1h0m3 3h0m1-1h0m8-4h0m79 1h0m6 3h0m37-2h0m10 2h0m8-1h0m9 0h0m18 0h0m18 2h0m5-3h0m8 3h0m21 0h0m40-4h0m7 3h0m-3271 5h0m3 0h0m33 1h0m72-1h0m24 1h0m23 0h0m19-3h0m41 3h0m61-3h0m4 0h0m1 2h0m1 2h0m64-1h0m2-1h0m79 0h0m46 0h0m67 2h0m25-3h0m20-2h0m27 5h0m3-3h0m11-2h0m1 4h0m0 1h0m1 0h0m2016-3h0m1-1h0m15 3h0m10-2h0m10 3h0m77 0h0m7-4h0m37 2h0m42 2h0m22-2h0m34 0h0m12-1h0m6 0h0m2 3h0m2-2h0m3-1h0m1-2h0m66 4h0m1-1h0m103 2h0m20-5h0m7 0h0m5 5h0m12-1h0m14-1h0m8 2h0m10-2h0m9-1h0m17 0h0m6 3h0m9-2h0m19-3h0m6 1h0m16 4h0m9 0h0m6-5h0m4 4h0m0-2h0m0 3h0m-3274 3h0m8 3h0m4-4h0m6 2h0m50 0h0m11 1h0m13-3h0m14 3h0m42-3h0m16-1h0m20 3h0m65 0h0m15-3h0m13 2h0m3-1h0m4 1h0m62-1h0m1 3h0m2-2h0m10-1h0m10 1h0m15 3h0m13-4h0m22 3h0m66 1h0m23-4h0m25 1h0m43-1h0m22 1h0m26 1h0m2-2h0m3 3h0m0-3h0m2016 2h0m29 1h0m16 1h0m14-5h0m41 4h0m8 1h0m57-1h0m116-2h0m3-1h0m1 4h0m61-4h0m7 3h0m66-2h0m86 3h0m9-1h0m7 1h0m10 0h0m23-2h0m23 1h0m5-4h0m17 3h0m22-3h0m4 1h0m1-1h0m1 5h0m2-4h0m1 3h0m-3276 5h0m0-1h0m0 0h0m4 0h0m3-2h0m7 2h0m7 2h0m95-3h0m14-1h0m9 2h0m9 0h0m21 1h0m30-3h0m8 0h0m50 1h0m19 1h0m10 3h0m60-2h0m19-1h0m11 0h0m16 0h0m11 3h0m6-3h0m25 2h0m125 1h0m22-3h0m20 1h0m8-2h0m8 4h0m5-5h0m2023 4h0m1-3h0m8 2h0m28 2h0m17-5h0m22 2h0m11-1h0m65 1h0m13 3h0m104-4h0m6 1h0m6 1h0m1 2h0m2-1h0m0 0h0m61 1h0m1-2h0m5-1h0m1-2h0m88 3h0m13-3h0m40 1h0m7 0h0m42 0h0m7 2h0m7 2h0m7-5h0m21 3h0m33-1h0m1 2h0m7 0h0m1-3h0m0 0h0m2 1h0m1 0h0m2 3h0m1-2h0m-3276 4h0m28-1h0m21 1h0m12-1h0m20 0h0m17 0h0m52 2h0m25 3h0m6-5h0m12 3h0m9 0h0m44-1h0m35 2h0m3 1h0m1-5h0m0 4h0m59 1h0m0-4h0m1 1h0m0 0h0m1-1h0m9 2h0m37 1h0m45 1h0m143-1h0m18 0h0m24-2h0m3-2h0m5 4h0m1-4h0m2013 4h0m1-1h0m16 0h0m90-1h0m23 0h0m15-2h0m42 3h0m93 1h0m0 0h0m0-2h0m6-2h0m60 2h0m3-1h0m9 2h0m1 1h0m103 1h0m7-5h0m20 0h0m14 1h0m8 1h0m65 0h0m27 2h0m15 0h0m4 0h0m9 1h0m1-5h0m1 4h0m-3277 6h0m4 0h0m3-4h0m2 4h0m5 1h0m13 0h0m6-5h0m22 2h0m22-1h0m8 0h0m11 0h0m7 0h0m11 1h0m28 1h0m43-3h0m26 0h0m43 4h0m19-3h0m1 2h0m9-1h0m61-1h0m0 2h0m0 2h0m1-1h0m3-3h0m38 0h0m44 0h0m16 4h0m9-2h0m33 0h0m31-3h0m26 1h0m59 2h0m8-1h0m2040-2h0m33 3h0m20 1h0m21-3h0m40 4h0m21-2h0m8 0h0m13 1h0m69 1h0m42-5h0m3 3h0m2-1h0m0 1h0m5-3h0m1 4h0m60-2h0m1 1h0m2 1h0m5-3h0m5 4h0m25-4h0m7 1h0m11 2h0m37-1h0m7-3h0m23 0h0m7 1h0m13 2h0m11 0h0m6 2h0m8-1h0m13-1h0m25-1h0m8-1h0m68 0h0m3 4h0m1 0h0m1-4h0m-3278 6h0m7 3h0m1 0h0m7-2h0m33 2h0m107-4h0m14 2h0m29 2h0m6-3h0m14 3h0m21-2h0m40 1h0m4-1h0m3 2h0m60-3h0m5 3h0m7-2h0m12 1h0m57-2h0m121 3h0m74-1h0m10-3h0m0 4h0m0-4h0m2014 2h0m0 3h0m6-1h0m4 1h0m9-1h0m11-1h0m34 1h0m19-1h0m14-3h0m8 3h0m8 0h0m47 2h0m18 0h0m20-5h0m6 4h0m34 0h0m12-4h0m27 0h0m69 2h0m1-1h0m12 2h0m1-3h0m0 5h0m35-5h0m6 5h0m69-1h0m12-4h0m12 1h0m27-1h0m11 2h0m11-2h0m20 2h0m20 2h0m7 1h0m8-1h0m28 1h0m-3272 4h0m5-2h0m67 0h0m43 4h0m39-3h0m37 3h0m32-3h0m34-2h0m17 4h0m6-2h0m6 2h0m60-3h0m30 2h0m18-1h0m9 3h0m85 0h0m133-1h0m4 1h0m4-2h0m3 1h0m0-3h0m2013 0h0m6 0h0m28 4h0m11-4h0m55 4h0m72-1h0m41-1h0m52 0h0m10-2h0m10-1h0m1 5h0m60-2h0m12-2h0m2-1h0m3 4h0m29 0h0m21-4h0m39 1h0m7 0h0m24 4h0m5-5h0m15 1h0m15 2h0m28-3h0m13 5h0m53-5h0m14 0h0m4 2h0m1 3h0m-3276 3h0m1-2h0m7 5h0m6-1h0m29-2h0m9 1h0m6-3h0m10 5h0m25-5h0m16 5h0m15-4h0m18 2h0m12 2h0m60-3h0m42 1h0m7 0h0m17 1h0m3-3h0m65 0h0m57 4h0m5-4h0m24 1h0m7-1h0m89-1h0m6 4h0m23-2h0m72 3h0m2016-3h0m39-1h0m22 2h0m13-2h0m72 4h0m37-3h0m8 0h0m78 2h0m13-3h0m2-1h0m60 3h0m1 0h0m33-2h0m109 1h0m24-1h0m52-1h0m9 4h0m8-2h0m32 3h0m5-5h0m8 5h0m1-1h0m2 0h0m1-4h0m1 5h0m0-4h0m0 4h0m-3276 1h0m3 1h0m8 3h0m1-4h0m23 0h0m103 4h0m42-3h0m64 2h0m18 2h0m8-1h0m8-1h0m4 1h0m2-4h0m62 2h0m52 1h0m33 0h0m36-2h0m8 2h0m77 1h0m15-4h0m51 0h0m8 0h0m3 3h0m0-1h0m0-2h0m1 3h0m2016-3h0m5 2h0m6 0h0m21 2h0m14 0h0m22-1h0m9 0h0m38-2h0m10 3h0m38 0h0m35-4h0m34 0h0m12 0h0m37 4h0m2-4h0m63 2h0m0 2h0m1-4h0m1 0h0m8 2h0m7 0h0m8 1h0m10 0h0m38 1h0m31-1h0m6 2h0m3-5h0m23 1h0m13 3h0m22-4h0m21 3h0m13-1h0m26 2h0m12-4h0m29 0h0m3 0h0m7 5h0m1-5h0m-3274 6h0m0 0h0m0 0h0m2 2h0m10 0h0m18-2h0m44 4h0m13-4h0m71 2h0m29 2h0m20-4h0m17 2h0m9-1h0m43 0h0m4 3h0m2-3h0m65 2h0m0 2h0m3-3h0m6 1h0m6-1h0m22-2h0m34 1h0m19-1h0m31 5h0m44-2h0m54-1h0m15 3h0m37 0h0m2-4h0m4 2h0m3 2h0m2019-2h0m3 2h0m1-2h0m51-2h0m28 1h0m28 2h0m22-4h0m38 3h0m29-2h0m36 0h0m7 0h0m9 0h0m23-1h0m2 5h0m3-1h0m65-3h0m1 3h0m2 1h0m5-1h0m5 0h0m37 0h0m34-1h0m27 2h0m22 0h0m21-3h0m36 2h0m10-1h0m50 2h0m14 0h0m4-5h0m4 2h0m1-2h0m7 3h0m-3268 5h0m15-1h0m6 4h0m21-4h0m59-1h0m48 1h0m54 0h0m15 1h0m18-2h0m11 5h0m11-4h0m6-1h0m5 5h0m4-4h0m3 3h0m0-4h0m69 1h0m33 0h0m12 2h0m9-1h0m33-2h0m12 1h0m81-1h0m32 0h0m14 1h0m41 2h0m1-1h0m10 1h0m2021-3h0m87 2h0m11 1h0m22 0h0m35 2h0m62 0h0m16-2h0m23 2h0m7-3h0m7-1h0m3 4h0m5-1h0m68-4h0m0 5h0m3-2h0m3-3h0m8 5h0m24-3h0m41 3h0m43-4h0m27 1h0m14-2h0m6 4h0m6-3h0m7-1h0m13 3h0m38-1h0m8 2h0m21 1h0m8-1h0m4-2h0m4 2h0m1-4h0m-3269 7h0m3 4h0m2 0h0m6-5h0m25 0h0m10 2h0m14-2h0m62 1h0m15 4h0m25-2h0m51-3h0m6 3h0m9 2h0m11 0h0m15-4h0m8 2h0m6-2h0m2 4h0m82-3h0m6-1h0m1 4h0m25-2h0m9 2h0m7 0h0m38-4h0m22 1h0m19 3h0m6-4h0m8 0h0m25 3h0m49-3h0m16-1h0m8 4h0m29 0h0m2026-3h0m1 4h0m1 0h0m11 0h0m6-1h0m24-2h0m19-2h0m6 5h0m70-5h0m66 1h0m33 1h0m22 3h0m10-5h0m0 1h0m1-1h0m3 5h0m2-4h0m0 1h0m71-2h0m5 0h0m3 4h0m0-1h0m3 2h0m47-3h0m37-1h0m22 0h0m34 1h0m54-1h0m22 1h0m19-2h0m13 5h0m3-2h0m1-1h0m10 3h0m-3260 2h0m0 4h0m2 0h0m3 0h0m1 0h0m30-3h0m14 3h0m20-5h0m11 4h0m19-2h0m8-2h0m17 5h0m12-1h0m15-1h0m12-3h0m35 2h0m27 3h0m26-3h0m16 2h0m74-4h0m3 5h0m0-5h0m7 0h0m5 5h0m51-2h0m20-2h0m23 1h0m10 0h0m23-1h0m15-1h0m6 4h0m42 1h0m16-2h0m42-2h0m4-1h0m2 5h0m2-2h0m2030-3h0m10 5h0m16-1h0m49 0h0m83 1h0m9-2h0m38 2h0m28-1h0m26 0h0m5-1h0m5 0h0m1 2h0m2-4h0m73 2h0m1-3h0m7 2h0m28-1h0m59 0h0m17 4h0m13-4h0m10 2h0m42-3h0m7 3h0m8 0h0m7-2h0m64 4h0m0-3h0m5 0h0m-3257 5h0m2 4h0m0 0h0m6 0h0m2-2h0m3-1h0m173 2h0m7-4h0m63 4h0m4-2h0m5 0h0m1 2h0m83 1h0m1-2h0m98-1h0m10 0h0m16-2h0m19 0h0m11 5h0m86-1h0m8-3h0m4 4h0m4-5h0m7 4h0m2033-4h0m2 5h0m4-4h0m3 4h0m50-4h0m29 1h0m149 2h0m29-1h0m79-3h0m0 1h0m2 3h0m36-4h0m82 2h0m7-1h0m26 4h0m40 0h0m36-2h0m22 1h0m1-2h0m2-2h0m10 5h0m2-2h0m1 1h0m-3254 7h0m13-1h0m0-2h0m5 3h0m13-5h0m6 4h0m18-2h0m82-2h0m12 0h0m59 0h0m12 0h0m18 2h0m7 1h0m7 2h0m1-1h0m6 1h0m1-1h0m1-3h0m86 3h0m14 0h0m8-1h0m24 0h0m62 1h0m18-3h0m44 3h0m7-4h0m11 2h0m21 1h0m25 2h0m11-1h0m4-4h0m11 2h0m2039 2h0m10-4h0m2 5h0m5-5h0m153 4h0m10-4h0m30 4h0m21 1h0m16-1h0m1-3h0m12 1h0m83-2h0m0 0h0m1 0h0m1 4h0m5-2h0m4 0h0m3 2h0m16-2h0m9 0h0m6 0h0m28 1h0m7 0h0m13 1h0m6-3h0m11 2h0m7 1h0m22-1h0m53 2h0m29-5h0m14 5h0m20-2h0m3-2h0m3 1h0m-3249 4h0m25 0h0m6 5h0m12-5h0m21 1h0m5 4h0m28-5h0m65 5h0m43-3h0m10 0h0m6 3h0m6-4h0m21 2h0m2-3h0m4 2h0m0 3h0m2-2h0m1-2h0m91 3h0m1-2h0m3-2h0m4 0h0m46 1h0m25 4h0m72-4h0m9 2h0m31-3h0m9 2h0m38 2h0m17-2h0m2045 1h0m32-1h0m11 3h0m81-2h0m15 0h0m9-2h0m13 1h0m14 2h0m38-2h0m7-2h0m18 4h0m13 0h0m1-4h0m0 4h0m3-3h0m88 0h0m0-1h0m3 5h0m3-1h0m2-3h0m7 2h0m13-1h0m12 0h0m8-1h0m27 3h0m136-1h0m9 1h0m35-3h0m2 2h0m-3242 4h0m7 1h0m24 3h0m101-3h0m75 2h0m14-1h0m6-3h0m13 5h0m2-2h0m2 0h0m1 2h0m4-5h0m96 4h0m32-2h0m10 3h0m25-4h0m29 4h0m13-4h0m23 3h0m14-2h0m27 0h0m15 1h0m54-3h0m2 1h0m1 0h0m2 4h0m1-4h0m2052 4h0m5-4h0m5 2h0m0-2h0m52 1h0m67 1h0m14 1h0m22-4h0m57 1h0m11 4h0m1-1h0m3-4h0m2 0h0m5 1h0m2 3h0m2-3h0m97 1h0m1 2h0m1-1h0m4-2h0m4 2h0m8-2h0m0 3h0m26 0h0m12 1h0m175-1h0m4-3h0m6 2h0m0 0h0m2-2h0m5 4h0m2-5h0m-3236 11h0m19-5h0m25 3h0m30 1h0m21-3h0m55 1h0m32-2h0m13 0h0m13 3h0m13 2h0m9-2h0m2 0h0m9-1h0m110 3h0m8-4h0m1 1h0m70 0h0m14 0h0m90 2h0m33-3h0m2 4h0m16-1h0m2059 0h0m2-2h0m2 1h0m19 1h0m135-1h0m13-2h0m8-1h0m41 2h0m14-1h0m2-1h0m1 5h0m3-2h0m2-2h0m104 1h0m0 3h0m5 0h0m7-1h0m6-1h0m1-3h0m37 5h0m25-2h0m9-3h0m135 5h0m1-1h0m4 0h0m11-4h0m-3225 10h0m4 0h0m18-4h0m14 4h0m108 0h0m35 1h0m9 0h0m6-4h0m13 4h0m4-3h0m0 1h0m12 2h0m3-1h0m2-1h0m4-3h0m110 1h0m2 4h0m2 0h0m3-5h0m12 2h0m29 1h0m11-3h0m25 3h0m18-1h0m25 3h0m15-3h0m8 0h0m22-2h0m7 1h0m45 1h0m1-1h0m2074 0h0m1 1h0m2 3h0m89-2h0m30 0h0m10 0h0m31-1h0m13 0h0m13 0h0m40 1h0m4 0h0m113-1h0m3 2h0m6-3h0m10 3h0m7 0h0m38 0h0m9-2h0m87 2h0m33-3h0m17 1h0m5 2h0m3-4h0m14 4h0m1-3h0m3-1h0m-3222 10h0m1 0h0m0-3h0m3-1h0m2 1h0m3 3h0m3 1h0m39-4h0m165 0h0m6 2h0m2 0h0m0-1h0m121 0h0m0-1h0m3 4h0m7-2h0m43-2h0m7 2h0m14 1h0m24-1h0m36 0h0m15-1h0m34-1h0m30-1h0m0 0h0m11 5h0m2078-1h0m1-2h0m56 0h0m12 1h0m24-2h0m27 2h0m40 1h0m18 0h0m26-3h0m4 4h0m6 0h0m3-5h0m2 1h0m3 2h0m3-3h0m120 4h0m1-1h0m2 1h0m8 0h0m3-3h0m5 2h0m35 0h0m10 2h0m7-4h0m17 0h0m36 3h0m84-1h0m10-2h0m2 1h0m2-1h0m-3208 7h0m30 1h0m9 2h0m15-2h0m37-3h0m28 2h0m49 3h0m24-3h0m3-1h0m5 2h0m4-1h0m1 3h0m4 0h0m3-3h0m2-1h0m1 0h0m130 1h0m1-2h0m0 1h0m1 2h0m0 1h0m10 1h0m4-3h0m4 2h0m56-3h0m28-1h0m7 0h0m19 4h0m16 0h0m12 1h0m36-5h0m14 0h0m6 1h0m2086 2h0m3-1h0m24-2h0m65 2h0m73-1h0m42-1h0m4 2h0m1 3h0m2-4h0m0 2h0m128-3h0m3 3h0m2 2h0m1-4h0m1 4h0m1-4h0m1 1h0m7 0h0m4-2h0m12 5h0m7-1h0m19-1h0m6 2h0m9-2h0m8-1h0m121 0h0m12 0h0m1 3h0m3-4h0m-3202 6h0m5 3h0m4-2h0m0 3h0m2-2h0m4 1h0m32 1h0m83-1h0m23-4h0m33 1h0m8-1h0m2 5h0m7-1h0m1-1h0m2-3h0m140 1h0m6 3h0m2-2h0m1 2h0m71 0h0m13 0h0m22-2h0m7 2h0m10-2h0m31-1h0m37 3h0m2 0h0m2098-3h0m5 4h0m1-2h0m4 1h0m1-2h0m129 1h0m8-2h0m21 2h0m9-1h0m11 0h0m6 2h0m8-1h0m1-1h0m140-1h0m1 0h0m1-1h0m1 0h0m1 4h0m8-3h0m6 0h0m2 1h0m57 2h0m109 1h0m15-5h0m2 0h0m2 3h0m3-2h0m-3193 6h0m1-1h0m2 3h0m1 1h0m0-1h0m1-2h0m6 1h0m2 0h0m5 2h0m0-3h0m4 4h0m3-3h0m3 2h0m38-4h0m98 5h0m14-5h0m4 4h0m6-2h0m1 3h0m4-2h0m0 0h0m158 1h0m11-3h0m1 4h0m17-5h0m37 4h0m30 1h0m40 0h0m31-1h0m3 0h0m12 0h0m3 1h0m4-4h0m0 0h0m1 0h0m2-1h0m2106 3h0m1-2h0m6 2h0m7-1h0m164 3h0m1 0h0m6-2h0m0 1h0m2-3h0m4 0h0m0 0h0m151-1h0m1 2h0m4 2h0m0-1h0m13-3h0m0 4h0m1-4h0m2 1h0m0 0h0m2 4h0m21 0h0m7-1h0m13-4h0m23 1h0m6 3h0m81-3h0m4 0h0m14 3h0m3-3h0m-3179 5h0m7 5h0m1-1h0m2-1h0m15-1h0m1 1h0m65 2h0m11-4h0m32 3h0m17-1h0m3 2h0m3-3h0m20 1h0m1 0h0m2-1h0m168-2h0m4 4h0m0-3h0m5 0h0m1 1h0m5-1h0m5-1h0m5 3h0m25 0h0m35 0h0m29-2h0m24 4h0m28-5h0m2 1h0m3 0h0m4 2h0m3-3h0m2122 1h0m2-1h0m7 4h0m4-1h0m40 2h0m71-5h0m16 4h0m8-2h0m7 3h0m11-3h0m3 0h0m5 2h0m1 0h0m3-2h0m2-2h0m165 0h0m4 4h0m1-4h0m0 1h0m4 4h0m3 0h0m7-4h0m3-1h0m10 5h0m32-4h0m12 1h0m77-1h0m3 3h0m0 1h0m2-3h0m1 2h0m14 1h0m2-2h0m2-1h0m3-2h0m-3162 8h0m1-2h0m0 2h0m1 1h0m5 0h0m1 1h0m9 0h0m3-3h0m1 1h0m2-1h0m2 2h0m2-1h0m6-1h0m58 1h0m32 3h0m11-3h0m8 2h0m9-4h0m0 0h0m1 4h0m4 1h0m3-5h0m0 0h0m3 2h0m0 0h0m186 0h0m3 3h0m7-2h0m3 2h0m6-3h0m9 2h0m39 1h0m16-5h0m44 4h0m1-1h0m13-3h0m4 1h0m1 1h0m0 1h0m1 2h0m3-1h0m2-1h0m4 1h0m1-1h0m5-3h0m2136 1h0m2 3h0m3 1h0m21 0h0m75-3h0m9 2h0m25-1h0m7 1h0m9-3h0m7 1h0m3-1h0m183-1h0m1 2h0m1-2h0m4 0h0m3 4h0m5-4h0m3 3h0m3 1h0m2-3h0m4 3h0m13 0h0m16-2h0m50 2h0m32-4h0m4 1h0m2-1h0m0 2h0m14 2h0m1-1h0m5-3h0m-3148 6h0m2 1h0m4 1h0m8 0h0m9 2h0m16-3h0m2 2h0m5 1h0m16-3h0m4 4h0m9-1h0m7 0h0m13 0h0m8-4h0m8 5h0m26-1h0m0 1h0m5-1h0m5-3h0m219 2h0m0 2h0m2 0h0m2-2h0m11 1h0m23 1h0m18-3h0m21-2h0m27 5h0m16-1h0m1 1h0m2163-3h0m84-2h0m30 3h0m17-3h0m1 5h0m2-1h0m2 0h0m0-2h0m3-2h0m4 1h0m198-1h0m2 0h0m2 1h0m1 0h0m3 3h0m18 1h0m8 0h0m7 0h0m18 0h0m3 0h0m46-4h0m18 2h0m10 1h0m1 1h0m1 0h0m4-1h0m0-3h0m5 1h0m-3127 4h0m0 0h0m5 2h0m2 0h0m4 3h0m6-1h0m0-3h0m5 2h0m1 1h0m6 1h0m1-4h0m5 2h0m6-3h0m7 2h0m20-2h0m20 0h0m2 4h0m9 0h0m4-4h0m1 4h0m10-1h0m7 0h0m1-1h0m4-1h0m219-1h0m2 0h0m1 1h0m4 2h0m1 1h0m4 1h0m1-4h0m7 2h0m1-3h0m2 1h0m4 3h0m0-3h0m3-1h0m4 2h0m10-1h0m0 0h0m12 1h0m18 1h0m3 0h0m39-2h0m1 3h0m3-3h0m2 2h0m2-1h0m2-2h0m2175 0h0m3 0h0m3 2h0m3 1h0m2 2h0m6 0h0m9 0h0m8 0h0m22-5h0m17 4h0m2 0h0m10-1h0m2-1h0m10 1h0m9-3h0m0 5h0m14-2h0m225-3h0m1 1h0m5 2h0m2 0h0m4 1h0m1-1h0m13-3h0m4 5h0m1-4h0m16 4h0m6-2h0m15 2h0m9-1h0m8 0h0m0-3h0m1 1h0m4 3h0m8-4h0m16 0h0m1 3h0m1-3h0m2 3h0m2 0h0m-3088 5h0m6 1h0m1-4h0m2 0h0m1 5h0m3 0h0m2-5h0m3 0h0m1 1h0m1 0h0m33 4h0m3-1h0m0-2h0m6 0h0m10 2h0m3 1h0m5-1h0m7-3h0m1-1h0m4 0h0m1 0h0m246 1h0m4 0h0m2 0h0m3 0h0m1 2h0m7 2h0m11-4h0m1 4h0m2-3h0m7-2h0m14 5h0m0-1h0m2-4h0m2 1h0m2 2h0m4 2h0m5-5h0m4 0h0m6 4h0m6 1h0m3-2h0m1 1h0m7-2h0m2206-2h0m1 2h0m5 1h0m5 1h0m0 0h0m1-1h0m1-2h0m1-1h0m5 0h0m23 1h0m1 3h0m3-2h0m8 2h0m3-2h0m4 0h0m8-2h0m10 5h0m3-1h0m1-3h0m2 3h0m1 0h0m3-4h0m2 2h0m7-2h0m244 0h0m8 2h0m1-1h0m3 0h0m2 3h0m5 1h0m4 0h0m9-1h0m6-1h0m2-2h0m7 3h0m0-1h0m9 0h0m27 2h0m0-2h0m1 2h0m2-1h0m4-3h0m2 0h0m2 0h0m1 1h0m0 0h0m-3064 4h0m3 0h0m4 1h0m3 1h0m4-2h0m6 0h0m6 2h0m0 1h0m4 0h0m1 0h0m4-1h0m5 0h0m6 0h0m5-1h0m294-1h0m3 1h0m8 1h0m4 0h0m8 1h0m1 0h0m4 0h0m0-2h0m6 2h0m2-1h0m5 0h0m2 1h0m1-3h0m2 2h0m6-1h0m0 0h0m6-1h0m2246 0h0m5 2h0m5 1h0m1-1h0m0 0h0m6 0h0m8 0h0m1-1h0m4 1h0m3 0h0m4-1h0m3 0h0m6-1h0m5 0h0m3 0h0m1 0h0m290 0h0m7 1h0m4 1h0m1-1h0m7 1h0m1-2h0m1 1h0m3 1h0m6 0h0m0 0h0m1 0h0m2 1h0m1-3h0m3 2h0m2-2h0m3 2h0m0-1h0m1 1h0m1-1h0m3 0h0m6-1h0m1 0h0m-3053 35h0m1-1h0m2 1h0m1-1h0m2 1h0m6-1h0m5-1h0m1 1h0m5-3h0m3 4h0m4-5h0m6 1h0m2 2h0m3-2h0m6 1h0m2 0h0m3 3h0m1 0h0m11-1h0m6 1h0m275 0h0m7-1h0m1 1h0m4-2h0m7-1h0m6 0h0m5-1h0m5 0h0m1 4h0m3 0h0m3-4h0m5 1h0m7 0h0m2253 3h0m7-1h0m5-1h0m4 2h0m0-2h0m6-2h0m1 0h0m1 3h0m2 1h0m2-5h0m2 1h0m3 3h0m2-2h0m10 1h0m1-1h0m5 1h0m291 1h0m2 1h0m8-3h0m4 3h0m1-3h0m5-1h0m3 0h0m0-1h0m1 4h0m7-3h0m1 0h0m0 1h0m3-1h0m0-1h0m3 2h0m1-1h0m0 3h0m2-2h0m2 0h0m2 3h0m2-4h0m4 2h0m5 0h0m7 1h0m1 1h0m1 0h0m1 0h0m2 0h0m0 0h0m-3079 6h0m5-1h0m1-2h0m6-1h0m1 3h0m1-4h0m5 1h0m0 0h0m5 2h0m5 2h0m3-5h0m1 4h0m14-4h0m23 0h0m12 5h0m2-4h0m4-1h0m2 3h0m4-2h0m4 1h0m249 2h0m6-1h0m1 1h0m2-3h0m8 0h0m50 0h0m12 2h0m3-3h0m3 4h0m1-3h0m6 1h0m6 2h0m2197 1h0m5-1h0m2 0h0m3-2h0m7 1h0m4-3h0m0 0h0m7 1h0m11 4h0m13-4h0m14 0h0m5 3h0m5 1h0m2-4h0m11 4h0m1-5h0m1 1h0m5 0h0m1 1h0m1 2h0m3-2h0m2 2h0m5 1h0m238 0h0m3-1h0m6-1h0m1 0h0m1-1h0m1-1h0m1 0h0m1 0h0m5 3h0m2-2h0m2-1h0m5-1h0m8 0h0m0 4h0m2-2h0m0 3h0m1-5h0m2 0h0m11 5h0m0 0h0m8-3h0m1-2h0m1 1h0m2 0h0m2 3h0m17-3h0m2-1h0m0 4h0m10-3h0m0 0h0m2 0h0m1 0h0m1 3h0m3 0h0m-3101 6h0m4-3h0m3 3h0m2 0h0m17-1h0m10-2h0m20-1h0m24 2h0m3 1h0m5-3h0m9 5h0m7-4h0m3 3h0m1 0h0m3-4h0m4 0h0m7 2h0m3 3h0m226-5h0m3 5h0m55-3h0m8-1h0m1 1h0m5 1h0m13 1h0m2-1h0m2-3h0m13 0h0m7 3h0m2-3h0m4 1h0m1 0h0m5 3h0m2173-1h0m2 1h0m0-2h0m3-2h0m0 1h0m35-1h0m6 2h0m17 0h0m2-2h0m15 2h0m19 1h0m1 2h0m1 0h0m15-3h0m2 0h0m4 0h0m4 2h0m1 1h0m219-2h0m2 2h0m2 0h0m1-4h0m2 0h0m0 0h0m1 2h0m1-1h0m1 3h0m0-1h0m1 1h0m3 0h0m3-3h0m7-1h0m2 4h0m1-1h0m3-4h0m3 2h0m1 2h0m2 0h0m2-2h0m9-1h0m0-1h0m0 3h0m7-2h0m3 0h0m8 3h0m7 0h0m0 0h0m5-2h0m1 0h0m0 0h0m2 1h0m9 2h0m12-1h0m4 1h0m2-3h0m2-1h0m4 0h0m0 2h0m4-3h0m1 0h0m0 0h0m2 2h0m2 2h0m0 0h0m2-2h0m2 2h0m-3131 7h0m1 0h0m5-1h0m2-4h0m1 0h0m6 4h0m3-4h0m1 5h0m0-4h0m28 4h0m13-3h0m26-1h0m44 4h0m6-3h0m5-2h0m5 1h0m2 2h0m3 2h0m199-3h0m4-2h0m4 0h0m5 2h0m10 1h0m29-1h0m16-2h0m27 2h0m18 3h0m28-3h0m0 3h0m5-1h0m2153 0h0m3 0h0m0-3h0m1 2h0m0 0h0m9 1h0m7-3h0m12 0h0m34 4h0m31-4h0m13-1h0m4 2h0m20 2h0m2-3h0m1 2h0m4-3h0m1 0h0m6 5h0m194-1h0m1 0h0m4-2h0m0-1h0m3-1h0m4 5h0m2-5h0m3 3h0m4 1h0m7 1h0m2 0h0m1-2h0m1 1h0m3-1h0m4 0h0m1-2h0m3 0h0m10 1h0m18-2h0m31 0h0m7 2h0m16 2h0m6-4h0m0 2h0m3 0h0m4 2h0m2 1h0m1 0h0m4-5h0m4 4h0m1 0h0m2 0h0m-3149 5h0m5 1h0m6-3h0m18 0h0m6 0h0m71 0h0m41-1h0m16 2h0m2 1h0m3 2h0m179-1h0m33 0h0m10-3h0m47 2h0m9-1h0m39 0h0m10 2h0m2-3h0m7-1h0m3 1h0m5 3h0m2134-2h0m4-2h0m2 3h0m0 2h0m14-5h0m1 1h0m29-1h0m34 0h0m20 4h0m21 0h0m31-2h0m4 0h0m0-2h0m3 5h0m2-1h0m180 1h0m1-2h0m1 0h0m4-3h0m12 1h0m6 0h0m0 4h0m2-2h0m14 0h0m6 1h0m8-2h0m11-2h0m8 3h0m46-1h0m10-2h0m1 0h0m8 5h0m3-2h0m0-3h0m4 2h0m1 3h0m2-4h0m3-1h0m9 1h0m2 0h0m1 2h0m-3164 7h0m6-3h0m3 3h0m6-1h0m11 0h0m8 2h0m23 0h0m21-1h0m9-2h0m32 3h0m29-3h0m8-1h0m8 1h0m2-2h0m15 4h0m3 0h0m1 1h0m161-1h0m5-3h0m109 2h0m13-2h0m11 3h0m30-2h0m2 1h0m6-2h0m6 2h0m2117 2h0m5-4h0m0 0h0m11 4h0m2-3h0m2 2h0m1 1h0m3-2h0m13-2h0m44-1h0m18 0h0m22 2h0m42 0h0m13 2h0m5-2h0m4 3h0m161 0h0m2-2h0m1 2h0m2-5h0m3 2h0m5 2h0m6-1h0m5 0h0m1 0h0m22 0h0m16 1h0m15-4h0m10 1h0m15 1h0m37 3h0m13-4h0m3 1h0m1 0h0m11-1h0m5-1h0m6 5h0m6 0h0m-3178 3h0m0-2h0m5 0h0m13 1h0m50 0h0m8 4h0m35 0h0m43-1h0m16-3h0m22 2h0m152-1h0m4 1h0m1 1h0m48-3h0m39 3h0m14-2h0m20 1h0m21 1h0m43 0h0m0-4h0m4 5h0m2103-2h0m3-1h0m6 1h0m1-3h0m3 1h0m5 1h0m0 2h0m36-3h0m7 1h0m30 3h0m17-3h0m8 0h0m14 1h0m9-2h0m27 3h0m14-3h0m9 0h0m3-1h0m4 5h0m150-2h0m3-2h0m4 0h0m11 4h0m11-2h0m28-2h0m13 4h0m9-5h0m7 0h0m26 5h0m16-4h0m30 3h0m20 1h0m1-2h0m1 2h0m1-1h0m1-4h0m1 1h0m1 1h0m2 3h0m4-3h0m0-1h0m0 2h0m1-2h0m1-1h0m-3185 7h0m2 3h0m1-3h0m11-1h0m17 2h0m11 2h0m17-1h0m13 1h0m25-3h0m33 3h0m12-2h0m25 1h0m17 0h0m2 1h0m5-4h0m3 3h0m5 0h0m1-1h0m1-2h0m2 2h0m1 1h0m139 2h0m3-2h0m8 2h0m51 0h0m48 0h0m18-2h0m77-2h0m1 2h0m2093 2h0m2 0h0m1-4h0m2 0h0m0 4h0m1-4h0m5 2h0m4-2h0m4 1h0m4-2h0m6 5h0m22-2h0m15 2h0m55 0h0m9-1h0m10-1h0m15 0h0m20 1h0m16 0h0m6-2h0m2 0h0m3 1h0m142 2h0m2-2h0m0-1h0m3 0h0m3-2h0m2 4h0m8-1h0m1 0h0m2 2h0m0 0h0m20-3h0m6-2h0m40 3h0m24 2h0m15-2h0m46-1h0m11-2h0m9 3h0m5-1h0m2-1h0m1-1h0m5 0h0m1 0h0m1 3h0m1 0h0m1 2h0m2 0h0m-3207 4h0m6-3h0m5 2h0m1 1h0m2-1h0m4-1h0m49 4h0m30-2h0m29 0h0m34-1h0m14 3h0m13-3h0m28-2h0m4 4h0m127 0h0m2-1h0m1-1h0m6 0h0m1 1h0m93 2h0m40 0h0m9-3h0m11 3h0m11-2h0m23-3h0m4 3h0m4 2h0m5-5h0m1 0h0m0 2h0m5 2h0m1-3h0m1 3h0m2 0h0m2081 1h0m5 0h0m9-3h0m41 2h0m37 1h0m80-5h0m11 5h0m13-5h0m6 3h0m14-2h0m0 4h0m129-3h0m1 0h0m1 0h0m0 2h0m7-1h0m2 2h0m2-5h0m0 0h0m0 4h0m8-1h0m28-1h0m53-2h0m7 4h0m96 1h0m6-5h0m4 1h0m1 1h0m2 3h0m0-1h0m1 0h0m-3213 4h0m5 0h0m33-1h0m74 2h0m8-3h0m12 5h0m9 0h0m8-4h0m47 0h0m19 1h0m1 3h0m2-1h0m1-4h0m8 4h0m116 1h0m3-3h0m8 1h0m4-1h0m13 0h0m17-2h0m14 1h0m81 2h0m21 0h0m27 2h0m10-1h0m14-2h0m13 0h0m3 1h0m2074 1h0m1-4h0m0 0h0m5 3h0m11 2h0m25 0h0m26-4h0m32 3h0m11-3h0m11 4h0m58-2h0m15 0h0m16 0h0m1-3h0m0 1h0m1 4h0m7-3h0m5 1h0m1 0h0m117 1h0m1-1h0m1 1h0m1-3h0m3 1h0m12 0h0m2-1h0m0 3h0m55 1h0m6-5h0m7 2h0m5 3h0m9 0h0m21-2h0m80 2h0m6-3h0m4 3h0m3-5h0m2 5h0m3-3h0m0 1h0m3-3h0m4 3h0m-3223 7h0m1-3h0m1-1h0m0 1h0m2 3h0m1-2h0m4 0h0m15-1h0m18 4h0m20-2h0m9-2h0m24 0h0m9 1h0m8-1h0m16 4h0m47-4h0m12-1h0m17 4h0m12-1h0m6-3h0m5 5h0m8-5h0m0 0h0m1 1h0m110 3h0m3 1h0m18-4h0m29 0h0m7 1h0m85 3h0m31 0h0m8-3h0m44 0h0m2075 2h0m4-3h0m61 0h0m8 3h0m26-2h0m55-1h0m8 1h0m9 1h0m18 1h0m8 1h0m21-2h0m17-1h0m3 2h0m106 1h0m3-4h0m2 0h0m0 0h0m5 0h0m9-1h0m71 1h0m46 0h0m9 1h0m7-1h0m10 1h0m18-1h0m5 4h0m10-5h0m6 4h0m32-3h0m2-1h0m0 5h0m2-2h0m-3231 7h0m3-4h0m1 3h0m9-1h0m42 1h0m9 2h0m16-2h0m10 0h0m13 2h0m21-5h0m22 5h0m8-4h0m12 4h0m10-2h0m10-1h0m13-2h0m26 3h0m19-1h0m103 2h0m1-2h0m3-1h0m40-1h0m76 0h0m17 3h0m20-3h0m10 0h0m25 0h0m47 3h0m4-2h0m1 1h0m0 0h0m2058 0h0m0-2h0m2 4h0m6-2h0m23-2h0m18 3h0m7 2h0m44 0h0m23-5h0m11 3h0m15 1h0m9-1h0m7 0h0m36 2h0m35-4h0m109 1h0m5-1h0m49-1h0m19 0h0m8 1h0m16 1h0m9 1h0m11-2h0m22-1h0m5 5h0m5-3h0m5 2h0m22 1h0m50-3h0m4-1h0m4 1h0m2-2h0m2 4h0m0 0h0m3-3h0m-3238 9h0m0 1h0m46-2h0m30-2h0m40-1h0m13 2h0m11-1h0m42 4h0m21-3h0m9 3h0m23-3h0m10 1h0m4-3h0m3 5h0m95-3h0m3 1h0m1-1h0m6-1h0m13-1h0m45 2h0m11 3h0m18-5h0m20 3h0m14-3h0m73 0h0m8 1h0m9 3h0m17-4h0m4 3h0m2 1h0m2-4h0m3 1h0m2051 2h0m4-3h0m42 0h0m28 5h0m8-5h0m16 1h0m47 2h0m25 2h0m12-3h0m33 0h0m17-2h0m12 0h0m4 2h0m3 2h0m94-3h0m0 1h0m0 1h0m1-3h0m1 4h0m4-2h0m1-2h0m5 2h0m0-2h0m49 3h0m44 0h0m7 1h0m16-4h0m17 4h0m10-1h0m10 1h0m10 0h0m31-1h0m26 0h0m10-2h0m2 4h0m4-4h0m1 0h0m-3237 6h0m36 1h0m11 3h0m8-5h0m55 4h0m22-2h0m11-1h0m12 0h0m8 1h0m52 3h0m9-4h0m13 3h0m1-3h0m10 2h0m3 2h0m90-1h0m6 0h0m53-2h0m52 1h0m41-1h0m49 2h0m13 1h0m20-4h0m7 0h0m8-1h0m0 1h0m4-1h0m0 1h0m2 2h0m2044-2h0m9 3h0m7-3h0m11 3h0m43-2h0m15 0h0m7 3h0m9-1h0m13-4h0m50 0h0m15 3h0m28-1h0m7 2h0m13-4h0m10 1h0m5 3h0m4-4h0m4 3h0m5 0h0m1 2h0m87 0h0m1 0h0m0-1h0m1-1h0m2-3h0m2 2h0m6-1h0m2 2h0m3 2h0m1-3h0m52 2h0m24-4h0m5 3h0m8 2h0m22 0h0m6 0h0m21-2h0m10 0h0m5 2h0m17-1h0m54-2h0m8 3h0m1-4h0m6-1h0m1 0h0m1 4h0m1 0h0m-3252 4h0m2 3h0m9-1h0m27 1h0m30-4h0m48 4h0m17-3h0m11 2h0m14-2h0m19 1h0m8-2h0m20 4h0m27 0h0m17-5h0m14 5h0m82-1h0m1-2h0m5 3h0m45-4h0m12 4h0m22 0h0m16-5h0m10 3h0m11 1h0m8-4h0m39 5h0m11-3h0m12 2h0m69-4h0m3 5h0m2038-4h0m6 3h0m2 0h0m102-2h0m13-1h0m8 0h0m19 3h0m11 0h0m12-1h0m30-2h0m45 1h0m14 3h0m82-2h0m1-3h0m1 3h0m3-3h0m1 5h0m5-4h0m1 1h0m1 3h0m59-1h0m15 0h0m6-3h0m34 3h0m6 1h0m18-1h0m24 1h0m8-2h0m13-3h0m8 1h0m6 1h0m7-2h0m29 2h0m4-1h0m7 0h0m4 1h0m1 2h0m0-2h0m1 3h0m-3256 3h0m3 2h0m7 1h0m2-5h0m64 1h0m12 2h0m12 2h0m28-4h0m39-1h0m49 5h0m11-2h0m29 2h0m0-5h0m8 2h0m3 2h0m80-3h0m4-1h0m72 0h0m18 2h0m45 3h0m12-4h0m50 0h0m14 2h0m13-3h0m27 0h0m2042 4h0m1-3h0m0 1h0m2-1h0m1-1h0m4 0h0m98 0h0m16 0h0m9 2h0m9 1h0m7 2h0m7 0h0m18-3h0m50-2h0m11 1h0m15 1h0m13 1h0m1 0h0m7 1h0m76 1h0m1-2h0m0 0h0m0-1h0m1 0h0m4 0h0m3-2h0m5 5h0m3-1h0m26-4h0m46 5h0m12-2h0m8-2h0m21 3h0m42-4h0m6 5h0m6-3h0m15 0h0m7 0h0m9 2h0m9-3h0m8 2h0m7 2h0m18-1h0m6-1h0m4-3h0m1 2h0m1 0h0m0 2h0m-3261 3h0m2-1h0m2 0h0m3 5h0m5-5h0m67 5h0m8 0h0m49-5h0m19 1h0m9 0h0m45 2h0m64 1h0m74-3h0m4 0h0m10 0h0m9 0h0m12 3h0m8-4h0m28 1h0m32 2h0m14-3h0m46 4h0m49-1h0m45 1h0m6-1h0m3-1h0m2 1h0m2-1h0m1 2h0m2027 1h0m1-4h0m1 1h0m4-1h0m20 4h0m52 0h0m90-3h0m8 2h0m8-2h0m7 3h0m7-5h0m8 0h0m12 1h0m10 1h0m7 1h0m35 2h0m2 0h0m75-2h0m1-3h0m1 5h0m2-3h0m7 2h0m126-4h0m11 1h0m19 0h0m6 4h0m10-1h0m17-1h0m7 1h0m30 1h0m19-1h0m11 1h0m1 0h0m3-3h0m0 0h0m-3265 8h0m1-4h0m3 1h0m4 4h0m7-5h0m11 1h0m8 4h0m98 0h0m9-2h0m15 1h0m19-3h0m19-1h0m8 2h0m23-1h0m11 1h0m15-2h0m15 2h0m10 2h0m98 1h0m45-2h0m26-2h0m134 2h0m37 0h0m6 0h0m2024-3h0m0 0h0m3 1h0m4 2h0m109-3h0m5 4h0m22 0h0m9-1h0m61 0h0m18 0h0m11-2h0m18 2h0m7 1h0m2-4h0m6 2h0m69 3h0m1-1h0m1-2h0m7 0h0m2-1h0m0-1h0m65 1h0m17 4h0m13-2h0m7 2h0m18-2h0m17-2h0m23 0h0m12 3h0m18-2h0m11 2h0m9-3h0m31 0h0m5 2h0m6-2h0m6 1h0m3 0h0m4 0h0m1 2h0m1-1h0m-3270 6h0m3 0h0m3-2h0m2-1h0m45 0h0m10 0h0m29 4h0m54 1h0m26-4h0m30 3h0m29-2h0m8 3h0m39-2h0m69-2h0m0-1h0m4 0h0m2 2h0m5 1h0m9 0h0m18-2h0m8 0h0m8-1h0m15 5h0m10 0h0m33 0h0m17-5h0m40 3h0m20-1h0m30-2h0m22 5h0m19-3h0m9 0h0m3 2h0m4-3h0m2023 4h0m2-5h0m5 1h0m2 4h0m26 0h0m40-2h0m25 1h0m35-1h0m12 2h0m25-5h0m20 5h0m20 0h0m24 0h0m6-3h0m23 0h0m1 0h0m9 0h0m0-1h0m4 1h0m66 2h0m11 1h0m56-5h0m69 4h0m24 1h0m29 0h0m16-5h0m6 3h0m18-1h0m36-2h0m1 3h0m3 2h0m2-4h0m5 0h0m2 0h0m1 2h0m0-1h0m-3270 9h0m12 0h0m1-4h0m17-1h0m9 4h0m13 0h0m14-1h0m15-1h0m47 2h0m8-3h0m22 1h0m16 2h0m18-2h0m29-2h0m28 5h0m11 0h0m8-2h0m1-3h0m8 4h0m4-1h0m65-3h0m13 0h0m19 2h0m28 1h0m88 0h0m32-1h0m31-2h0m67 5h0m3-2h0m2017 2h0m0-2h0m11-2h0m123 4h0m8 0h0m32-1h0m11-1h0m88-2h0m7 2h0m1 1h0m65-3h0m3 1h0m11 0h0m49 3h0m40-2h0m16-2h0m21 3h0m14-2h0m15-1h0m7 3h0m21-2h0m16 2h0m39-1h0m6 2h0m11-1h0m6 0h0m3-2h0m3 0h0m1 1h0m0-2h0m-3274 9h0m28-2h0m18 3h0m31-4h0m22-1h0m9 5h0m44-5h0m30 4h0m36-2h0m11 1h0m54-1h0m64 3h0m1-4h0m3 2h0m0-1h0m0 3h0m3-3h0m5 2h0m29-2h0m34 0h0m11-2h0m10 1h0m80 1h0m19 3h0m27-5h0m47 0h0m10 3h0m2019 2h0m1 0h0m5 0h0m6-1h0m5-2h0m9-1h0m10 4h0m25-1h0m40-1h0m53-3h0m15 3h0m42-3h0m26 1h0m9 2h0m12 0h0m11-3h0m11 0h0m3 4h0m1-3h0m63 4h0m2-4h0m2 3h0m6 1h0m0 0h0m82-2h0m19-1h0m12 0h0m33 2h0m22 0h0m7 0h0m10-2h0m7-1h0m5 4h0m12-5h0m15 2h0m27 3h0m7-2h0m6-2h0m4 0h0m3 0h0m1-1h0m0 1h0m0 4h0m1 0h0m-3275 6h0m20-5h0m13 3h0m20-1h0m12-1h0m66 1h0m29 2h0m8-2h0m20 2h0m12-4h0m24 5h0m43-4h0m11 1h0m7 0h0m0 3h0m60-5h0m3 3h0m14-2h0m21 4h0m34-3h0m13 0h0m26-2h0m11 0h0m32 3h0m31-1h0m92-1h0m6 3h0m2038-2h0m46 3h0m33 0h0m48-4h0m58 0h0m11 3h0m67 1h0m1-3h0m63 0h0m3-1h0m4 3h0m1-1h0m15-2h0m5 4h0m8-2h0m39-3h0m13 5h0m13-3h0m17-1h0m30-1h0m14 1h0m18 3h0m18-3h0m5 4h0m17-2h0m9 2h0m8 0h0m9-1h0m17 0h0m7 1h0m2-1h0m4-4h0m2 3h0m0-2h0m5 1h0m-3278 8h0m1 1h0m1-5h0m8 3h0m11 1h0m21-4h0m51 5h0m28-5h0m12 5h0m12-1h0m35-4h0m6 5h0m14-4h0m11-1h0m8 4h0m16-3h0m45 4h0m0-1h0m7-1h0m60-3h0m1 4h0m6-3h0m5 1h0m37 0h0m9 3h0m61-2h0m70 0h0m9 1h0m54-3h0m22 1h0m7 3h0m2-4h0m2-1h0m2014 4h0m2-2h0m32 0h0m44-2h0m13 2h0m18-2h0m33 2h0m23-2h0m62 4h0m49 1h0m1-2h0m9-1h0m1 1h0m59-3h0m1 4h0m3 1h0m5 0h0m4-3h0m1 3h0m8-4h0m23 3h0m24 1h0m42-2h0m25 2h0m10-1h0m24-1h0m23-3h0m18 5h0m41 0h0m21-2h0m8-3h0m3 5h0m2-4h0m-3278 6h0m1 4h0m11 0h0m23-4h0m15-1h0m52 5h0m63-4h0m40 2h0m81 2h0m1-4h0m76 3h0m14-3h0m11 3h0m29-4h0m26 2h0m10-2h0m10 4h0m39-4h0m9 3h0m64 0h0m19-1h0m12 0h0m8-1h0m11 2h0m3-3h0m6 3h0m2011 0h0m4 0h0m40-1h0m26-1h0m17 0h0m38-1h0m27 5h0m7-2h0m31 0h0m23-3h0m63 1h0m8-1h0m3 1h0m60 4h0m15 0h0m67-5h0m30 5h0m18 0h0m49-5h0m26 0h0m41 1h0m15 1h0m7 0h0m9-1h0m1 3h0m8 1h0m1-5h0m0 1h0m-3278 8h0m12 1h0m11-2h0m23 1h0m9 0h0m22 1h0m10-4h0m46 2h0m10-2h0m14 1h0m14 0h0m22 2h0m74-2h0m19-1h0m60 5h0m33-2h0m15-1h0m8 0h0m11 0h0m13 0h0m13 3h0m16-1h0m18 0h0m45-4h0m17 0h0m86 0h0m3 1h0m6-1h0m2 2h0m2013 3h0m0-5h0m2 2h0m11 0h0m20-1h0m24 3h0m12 0h0m15-1h0m10 0h0m37-1h0m51 1h0m21-2h0m20 0h0m9 0h0m35 2h0m12-3h0m7 1h0m61 2h0m3 2h0m18-2h0m13-2h0m17 2h0m11 2h0m21-1h0m28 0h0m47-2h0m16-2h0m8 4h0m11-1h0m8 1h0m31-2h0m8 0h0m11 3h0m23-3h0m7-1h0m0 4h0m2-2h0m2-3h0m0 5h0m-3277 6h0m18 0h0m13-3h0m8-1h0m56-1h0m51 4h0m9-1h0m10-3h0m8 3h0m26-2h0m10 1h0m44-2h0m9 2h0m13 2h0m11-4h0m60 4h0m8 1h0m41 0h0m8-1h0m11 0h0m17-2h0m16 3h0m162-5h0m23 1h0m2013 3h0m0-4h0m6 4h0m1-3h0m33 0h0m106 4h0m6-5h0m8 2h0m74 1h0m47 1h0m3-2h0m62 3h0m3-5h0m0 5h0m1-3h0m0 3h0m10-5h0m51 5h0m29-5h0m38 5h0m10 0h0m12-4h0m14-1h0m22 1h0m16 1h0m66 0h0m2-1h0m9 4h0m1-2h0m1-1h0m1 1h0m1-1h0m-3277 8h0m9 1h0m14 0h0m21-1h0m27-1h0m20-2h0m20 1h0m24-1h0m26 4h0m57-1h0m23-1h0m9 0h0m31 1h0m4 0h0m60 1h0m1 0h0m2-2h0m26 1h0m81 0h0m8-2h0m20-2h0m20 5h0m11-2h0m10-2h0m7 4h0m18-4h0m10 1h0m58 0h0m6-1h0m1 4h0m5-3h0m0 2h0m2-2h0m2014 2h0m5-1h0m1 1h0m6-3h0m36 3h0m22-4h0m15 5h0m6-5h0m8 2h0m18 2h0m18-2h0m29 1h0m21-1h0m11 0h0m17 3h0m72-4h0m60 0h0m4 0h0m2 1h0m0 2h0m1-4h0m6 3h0m4 1h0m94-2h0m27 3h0m37-2h0m7-2h0m27 2h0m49-3h0m15 2h0m1-1h0m11-1h0m0 2h0m1 1h0m0-3h0m-3275 11h0m11-3h0m19-2h0m79 4h0m13-1h0m19-1h0m10 3h0m27-3h0m47 0h0m43-1h0m8 4h0m5-4h0m64 4h0m1-1h0m13-3h0m25 0h0m7 4h0m18-5h0m8 3h0m63 2h0m14-4h0m66 3h0m33-2h0m19 2h0m16-4h0m2017 4h0m1 1h0m2-3h0m11 2h0m26-1h0m20 1h0m9-1h0m11 2h0m25-5h0m21 3h0m8 1h0m7-4h0m18 4h0m16 1h0m64-4h0m32 1h0m7-1h0m5 0h0m1 0h0m61-1h0m0 5h0m1-1h0m13-2h0m1 0h0m5 2h0m5-4h0m6 4h0m23 1h0m36-1h0m18 1h0m73-5h0m20 5h0m20-5h0m35 4h0m20-2h0m4 3h0m4-3h0m0 3h0m-3273 6h0m3-5h0m9 1h0m8-1h0m12 2h0m9-1h0m11 4h0m19-5h0m9 1h0m15-1h0m64 2h0m25 2h0m22 0h0m9-4h0m37 4h0m26 1h0m1-3h0m2-1h0m64 3h0m0-1h0m6 0h0m27 1h0m20-4h0m64 0h0m29 3h0m26 0h0m77 1h0m11 0h0m10-2h0m12 0h0m2017 2h0m1 0h0m5-1h0m0 1h0m4 1h0m15-3h0m9 3h0m7-1h0m10-1h0m49-2h0m8 2h0m7 0h0m14 1h0m136-3h0m17 1h0m0 1h0m64 0h0m0 1h0m4 0h0m1-3h0m0 4h0m5-3h0m1 2h0m9 1h0m8-2h0m34-3h0m6 4h0m29 1h0m7-1h0m17 0h0m28-4h0m123 1h0m1-1h0m2 4h0m2 1h0m2-4h0m1 0h0m1 1h0m1 3h0m0-5h0m0 1h0m-3271 10h0m8-2h0m1 0h0m18 2h0m45 0h0m9-2h0m48-2h0m35 4h0m27-5h0m75 4h0m4 0h0m6-3h0m70 4h0m1-2h0m12 0h0m25 0h0m8-2h0m11 1h0m8 0h0m13 3h0m7-5h0m22 2h0m20-2h0m82 3h0m68-1h0m2-2h0m2019 1h0m1 3h0m0 1h0m9 0h0m45-3h0m11-2h0m20 1h0m9 1h0m8 1h0m7 1h0m21 0h0m8 0h0m90 0h0m19 0h0m32-3h0m66 3h0m3-2h0m1 3h0m2-2h0m0 0h0m3-2h0m0 0h0m5 3h0m2 1h0m36 0h0m27-5h0m18 5h0m46-2h0m86 0h0m18 2h0m9 0h0m9-5h0m6 5h0m7-1h0m1-3h0m0 4h0m-3268 5h0m6 1h0m4-5h0m39 1h0m41-1h0m15 3h0m17-3h0m18 3h0m12-3h0m23 4h0m11 0h0m11-2h0m11 2h0m8-4h0m25 3h0m29 0h0m5 2h0m1 0h0m71-1h0m5-3h0m14 0h0m10 4h0m22-2h0m72 2h0m19-5h0m46 3h0m14 2h0m70-5h0m0 0h0m3 1h0m2066-1h0m18 3h0m13-1h0m8 1h0m14 1h0m8 1h0m11-5h0m161 2h0m1-2h0m69 3h0m8 0h0m2 1h0m3-1h0m1 0h0m3-2h0m18 0h0m21 3h0m9 0h0m35-1h0m57 2h0m65-4h0m40 1h0m1-1h0m2 1h0m2 3h0m2-1h0m4-1h0m4-3h0m-3265 10h0m11-4h0m2 4h0m6-1h0m10 0h0m16 1h0m30-1h0m18-1h0m19-1h0m37 3h0m45 0h0m71-2h0m79-1h0m1 2h0m9 2h0m26-4h0m8 3h0m25-4h0m13 2h0m23 1h0m108-2h0m27 3h0m23 1h0m2-4h0m9 0h0m1 0h0m2025 3h0m0-3h0m3 1h0m4 1h0m0-2h0m0 0h0m7 3h0m39-1h0m56 1h0m9-1h0m11-2h0m32 1h0m9 1h0m7 0h0m58-3h0m18 4h0m12-1h0m8-3h0m73 4h0m2-4h0m0 5h0m3-4h0m0 0h0m2 4h0m2-3h0m2 2h0m7-4h0m14 5h0m5-4h0m16 3h0m22-4h0m10 3h0m16-1h0m116 3h0m6-4h0m28 4h0m9 0h0m4 0h0m1-4h0m2 3h0m0-3h0m5 4h0m1-4h0m-3261 6h0m11 3h0m24-4h0m15 2h0m89-2h0m36 3h0m56 1h0m9-3h0m16 0h0m1 2h0m6 0h0m3 1h0m1-3h0m77 1h0m33 2h0m16 0h0m9 1h0m8-2h0m25 0h0m37 2h0m33-5h0m44 1h0m8 2h0m49-3h0m1 5h0m3-3h0m2 3h0m0 0h0m1-5h0m2030 2h0m11 3h0m10 0h0m12-3h0m34 2h0m9-2h0m25 0h0m9 3h0m12-1h0m9 0h0m75 1h0m49 0h0m2-3h0m3 2h0m5-3h0m5-1h0m76 1h0m1 3h0m2-1h0m1-2h0m1 1h0m3 3h0m10-2h0m6 2h0m18-4h0m7 2h0m15 1h0m10-3h0m22 0h0m16 0h0m39 0h0m66 4h0m25-4h0m12 4h0m4-4h0m1 3h0m1 1h0m1-2h0m4-2h0m0 2h0m1-3h0m3 4h0m-3256 5h0m4 2h0m0-4h0m1 1h0m5-2h0m12 1h0m17 0h0m15 3h0m11-3h0m35 0h0m9 3h0m16-2h0m15 2h0m64-1h0m58-3h0m2 1h0m81 1h0m5 2h0m4-4h0m4 3h0m89-2h0m48 1h0m13-1h0m22 2h0m9-2h0m8 3h0m8 1h0m38-3h0m15 3h0m2037-2h0m12 2h0m9 0h0m26-3h0m8-2h0m32 1h0m64-1h0m25 1h0m55-1h0m14 3h0m8-2h0m11-1h0m82 4h0m4-3h0m2 3h0m1-3h0m3 3h0m2-4h0m4 4h0m11-2h0m13-1h0m8 1h0m25 2h0m39 1h0m38-2h0m51 2h0m22-2h0m11-2h0m15 1h0m2 1h0m4-1h0m0 3h0m3 0h0m2-2h0m0 1h0m1 1h0m0-4h0m3 0h0m-3252 7h0m1 0h0m12 2h0m14 1h0m31-3h0m32 0h0m11 3h0m30 0h0m27-5h0m11 0h0m22 2h0m44-2h0m8 4h0m6 0h0m7 1h0m2-5h0m88 2h0m0-1h0m4 2h0m14 1h0m10-3h0m9 1h0m55-2h0m24 2h0m34 2h0m23-2h0m56 1h0m11 0h0m15 2h0m2043-2h0m7-2h0m49-1h0m6 5h0m15-5h0m17 2h0m26 1h0m13-3h0m14 1h0m61-1h0m17 1h0m17 4h0m10-2h0m5 2h0m89-5h0m0 2h0m5 3h0m4-2h0m4-2h0m1 4h0m8-2h0m8-3h0m7 4h0m11-2h0m21 2h0m8-4h0m10 4h0m65 0h0m101-3h0m5 2h0m-3247 3h0m5 5h0m14-1h0m21 1h0m14-1h0m22-3h0m16 4h0m120-3h0m26 1h0m13-2h0m1 2h0m98 1h0m93 1h0m59-1h0m30-2h0m15-1h0m42 4h0m8 0h0m1-1h0m2047-3h0m4 0h0m0 3h0m2-2h0m9 1h0m11-3h0m14 0h0m28 0h0m10 2h0m61-2h0m40 2h0m15 0h0m7 0h0m52 2h0m92-4h0m1 0h0m3 4h0m3-2h0m2 1h0m5 1h0m3 0h0m16-1h0m12-1h0m10 0h0m19 0h0m6-2h0m146 3h0m13-3h0m1 3h0m4-2h0m9 2h0m1 1h0m1-4h0m-3242 7h0m3 4h0m2-4h0m4 4h0m36-3h0m15-2h0m16 3h0m61-3h0m29 1h0m29-1h0m31 0h0m9 0h0m9 4h0m1 0h0m103-4h0m1 5h0m2-3h0m9 1h0m33 0h0m70 0h0m24-3h0m16 5h0m13-4h0m56 0h0m6 0h0m4 1h0m8 2h0m2-1h0m0-2h0m2053-1h0m7 5h0m3-4h0m19 1h0m11 3h0m14-2h0m20 0h0m25-3h0m10 1h0m40 2h0m10-1h0m10 2h0m14-1h0m39 1h0m14-3h0m10 2h0m0-1h0m0 3h0m99-5h0m3 0h0m10 4h0m1 1h0m4-5h0m1 1h0m13 2h0m23 1h0m14 1h0m169-1h0m3-3h0m0 1h0m7 1h0m-3231 8h0m17-2h0m13 0h0m15-3h0m68 5h0m8-3h0m43 3h0m13-1h0m23-4h0m10 0h0m22 0h0m2 2h0m109 0h0m2 1h0m32 0h0m26-2h0m15 2h0m19-1h0m9-1h0m30-1h0m9 0h0m21 5h0m52-1h0m18-2h0m3 2h0m1-1h0m2 0h0m2060-3h0m3 5h0m12-5h0m2 1h0m27 0h0m18-1h0m16 1h0m13 4h0m40 0h0m94-5h0m12 5h0m109-5h0m2 4h0m0-3h0m8 2h0m1 0h0m3-2h0m0 1h0m3-2h0m9 3h0m54-2h0m53 2h0m44-3h0m28 5h0m7-5h0m7 2h0m11-2h0m1 2h0m1 3h0m3-5h0m2 2h0m-3225 4h0m3 2h0m9 1h0m7 2h0m4-4h0m33 2h0m159 1h0m5-2h0m9 2h0m3-4h0m117 4h0m4-1h0m2-1h0m9 3h0m23-2h0m11 0h0m10-1h0m27 2h0m59 0h0m34-3h0m43 4h0m3-3h0m5-2h0m2070 4h0m0 1h0m1-4h0m0 3h0m13 0h0m55-2h0m7 0h0m35-2h0m61 3h0m45 0h0m2 0h0m4 0h0m2 1h0m3-4h0m0 2h0m116 0h0m1 2h0m1-4h0m3 2h0m0-1h0m1 2h0m3 0h0m3-2h0m0 1h0m0 0h0m19 2h0m20-4h0m19 2h0m16 3h0m9-3h0m21 1h0m94 1h0m1-1h0m2-1h0m3 1h0m3-1h0m7-1h0m3 0h0m1 0h0m-3215 7h0m6 3h0m11-2h0m21 1h0m27-4h0m26 4h0m7-4h0m80 5h0m10 0h0m16-3h0m11 0h0m130-1h0m0 0h0m3 4h0m0-2h0m1-3h0m3 3h0m2-1h0m9 2h0m31 1h0m14-5h0m55 4h0m11-3h0m26 2h0m8 1h0m10 0h0m25-3h0m20 4h0m4-4h0m2077 1h0m0 0h0m12-1h0m3-1h0m11 0h0m23 2h0m22 1h0m19-1h0m8-2h0m40 3h0m21-2h0m15 3h0m32-1h0m5-1h0m4 0h0m131 0h0m3 3h0m0-1h0m3-2h0m2 0h0m2 1h0m2 2h0m4 0h0m3-3h0m3 3h0m7-1h0m39-3h0m7 1h0m25 1h0m31-3h0m38 3h0m13-1h0m23 1h0m9 2h0m2-3h0m1-1h0m5-1h0m-3209 7h0m4 4h0m0 0h0m6-4h0m10 3h0m61 1h0m45 0h0m9 0h0m17-1h0m43-3h0m0 3h0m6-2h0m2 1h0m7-2h0m135-1h0m2 0h0m2 5h0m1-1h0m9-1h0m1 2h0m13-4h0m29 4h0m9 0h0m7-5h0m25 1h0m20 4h0m9 0h0m17-1h0m42-1h0m19-2h0m4 2h0m3-2h0m2088 0h0m4 4h0m0 0h0m3-2h0m4 0h0m2 0h0m8-2h0m30 4h0m6-5h0m34 2h0m37 0h0m27 3h0m27 0h0m13 0h0m8 0h0m2 0h0m1-4h0m4 1h0m0-1h0m3 0h0m134 0h0m1 2h0m1 1h0m3-3h0m3 1h0m1-1h0m4 0h0m35-1h0m4 5h0m41-1h0m71-1h0m17 0h0m7 0h0m1-2h0m12-1h0m9 2h0m0 1h0m-3194 5h0m9 3h0m12-5h0m39 5h0m106-3h0m28 2h0m3-3h0m150 3h0m1-1h0m11-2h0m17 3h0m34-1h0m11 1h0m22 0h0m48-3h0m19 0h0m28 3h0m2 0h0m1-4h0m3 1h0m2102 0h0m5-1h0m3 1h0m7 2h0m15-3h0m30 0h0m27 1h0m12 4h0m10-5h0m18 0h0m61 3h0m5 1h0m5-3h0m146-1h0m0 3h0m2 0h0m3 2h0m1-3h0m7 2h0m0-1h0m2 0h0m2 0h0m1 0h0m7 0h0m2-3h0m3 5h0m16 0h0m11-2h0m67 2h0m26-3h0m28 2h0m0-4h0m5 3h0m12 1h0m0-3h0m3 0h0m-3184 6h0m2 0h0m0 2h0m5 0h0m4-2h0m3 4h0m11-3h0m1-1h0m48-1h0m30 2h0m16 2h0m22-3h0m28 4h0m1-2h0m2-1h0m2-1h0m4 0h0m2 4h0m2-2h0m1 2h0m0-1h0m1-2h0m160-2h0m6 5h0m4-1h0m127 1h0m34-2h0m6-2h0m4 4h0m6-4h0m2115-1h0m2 4h0m2-1h0m0-1h0m9 2h0m6-1h0m21-3h0m6 3h0m55-2h0m8 4h0m7-5h0m27 1h0m10 2h0m26-2h0m2 3h0m162-4h0m2 1h0m4 3h0m0-1h0m1-1h0m3 0h0m1 3h0m17-2h0m1 0h0m5 1h0m31-3h0m72 4h0m33-1h0m8-1h0m7-1h0m1 0h0m-3166 6h0m4 1h0m2-2h0m8 3h0m7-2h0m26-1h0m42 4h0m35 0h0m24-3h0m5 2h0m3-1h0m5 2h0m5-2h0m4-3h0m175 2h0m6 3h0m16 0h0m27-5h0m8 1h0m11 0h0m14 1h0m32 2h0m35 1h0m1-3h0m10 1h0m7 1h0m2152-4h0m28 3h0m9-1h0m35 2h0m24-2h0m8 3h0m40-3h0m6-2h0m2 1h0m176 1h0m1 0h0m3 3h0m10-3h0m7 2h0m1-2h0m7 0h0m39-1h0m48 3h0m21 1h0m0-3h0m4 1h0m7-3h0m2 4h0m3 1h0m2-3h0m3 2h0m2-1h0m2-1h0m2 2h0m1 0h0m0-3h0m1 2h0m0 0h0m0-2h0m-3150 5h0m1 2h0m20 1h0m8 2h0m2-2h0m6 2h0m69-1h0m20 0h0m19-1h0m1 0h0m5 0h0m1-3h0m194 2h0m1 1h0m7 0h0m10 2h0m24-3h0m15 2h0m11-1h0m15-3h0m10 1h0m45 1h0m4 2h0m7 0h0m2147-4h0m6 3h0m8-1h0m10-2h0m32 2h0m48 1h0m32-2h0m7 3h0m3-1h0m5-3h0m0 5h0m6-5h0m1 0h0m192 2h0m1 1h0m2 2h0m0-1h0m2 1h0m1-2h0m1 2h0m0-5h0m0 2h0m4-1h0m3 0h0m2 0h0m1 3h0m1-2h0m8-1h0m8 3h0m27-3h0m6 2h0m16-3h0m8 4h0m16 1h0m10-4h0m3 3h0m8 0h0m2 1h0m1-1h0m0-3h0m5 2h0m2-3h0m7 5h0m0-5h0m1 0h0m1 4h0m0-3h0m3 0h0m2 0h0m1-1h0m-3139 6h0m9 3h0m27 1h0m26 1h0m4 0h0m6-1h0m10 1h0m15-4h0m2 2h0m5-2h0m1 0h0m2 0h0m5 4h0m7-5h0m5 2h0m3 1h0m5 1h0m4-3h0m212-1h0m4 2h0m1 0h0m2 2h0m2 1h0m0-4h0m1 3h0m18-3h0m27 4h0m3 0h0m59-5h0m10 2h0m3 2h0m0 0h0m4-4h0m2165 0h0m5 2h0m6-2h0m0 5h0m1 0h0m7-5h0m1 5h0m6-5h0m0 2h0m3 3h0m4-2h0m41-3h0m23 3h0m4-1h0m6-1h0m1 1h0m2 1h0m6-3h0m3 4h0m0 1h0m4 0h0m6-1h0m0 0h0m0-4h0m3 0h0m2 1h0m1-1h0m216 3h0m6 1h0m7-4h0m1 2h0m6-1h0m4 0h0m3 3h0m1 1h0m2-4h0m2 0h0m1 3h0m7-1h0m4-1h0m8 2h0m10-2h0m10 0h0m3 1h0m2 2h0m2-1h0m6 0h0m0 0h0m1 0h0m0-2h0m2 3h0m1 0h0m17-2h0m6-1h0m9-1h0m1 1h0m3 1h0m1 0h0m1 0h0m-3113 3h0m4 1h0m6 2h0m5 2h0m1-4h0m27 2h0m4 0h0m3 2h0m20-3h0m21 2h0m2-4h0m9 3h0m6-3h0m2 2h0m3-1h0m237 0h0m7 3h0m3 1h0m7-4h0m1 2h0m4-1h0m2 3h0m5 0h0m7 0h0m19-3h0m9 0h0m13-1h0m9 1h0m1 0h0m2 0h0m5 3h0m4-1h0m1-3h0m4 1h0m6-2h0m2186 0h0m4 0h0m3 2h0m2-1h0m1 2h0m5 1h0m10 0h0m9 1h0m1-1h0m14-1h0m10 1h0m7-3h0m1-1h0m1 5h0m13 0h0m10-3h0m2 3h0m3 0h0m8-2h0m4-1h0m7-2h0m237 1h0m1 2h0m3 0h0m5 2h0m3-1h0m1-4h0m1 0h0m1 0h0m0 2h0m1 0h0m2-2h0m2 1h0m1 3h0m2 1h0m1-2h0m0 1h0m0-2h0m1-2h0m3 3h0m5 1h0m2-4h0m9 5h0m1-1h0m1 0h0m1-2h0m15-1h0m1 3h0m3 1h0m1-2h0m0-3h0m2 1h0m10 1h0m3 0h0m1-2h0m2 4h0m2-2h0m8-2h0m1 5h0m1-1h0m5-2h0m0-1h0m3-1h0m3 0h0m-3083 7h0m5 1h0m5 0h0m4 2h0m4 0h0m4 1h0m0-1h0m5-2h0m3 2h0m5 1h0m3-1h0m1 1h0m8-1h0m5 0h0m0-1h0m5 0h0m7-2h0m7 0h0m0 0h0m274 0h0m0 0h0m2-1h0m3 1h0m1-1h0m5 4h0m7-1h0m1 1h0m1-3h0m3 4h0m5-1h0m6 1h0m9 0h0m5-1h0m5-2h0m1 3h0m5-1h0m1 0h0m5-1h0m4-1h0m5-1h0m2226-1h0m6 3h0m12 2h0m6-2h0m2-1h0m9-2h0m2 0h0m10 5h0m5-1h0m1-1h0m5 1h0m7-2h0m3 0h0m1-1h0m9-1h0m264 0h0m2 1h0m2 0h0m2 1h0m2-2h0m2 2h0m0-2h0m5 2h0m2 2h0m1-2h0m1-1h0m0 1h0m2 3h0m0-2h0m0 0h0m5 2h0m0-4h0m4 0h0m1 2h0m1 1h0m0 0h0m6-1h0m1 0h0m2-1h0m4 0h0m1 3h0m1-5h0m2 1h0m1 4h0m2-3h0m3 3h0m0-3h0m0 1h0m3 1h0m0 1h0m3-2h0m0-3h0m1 2h0m1 0h0m6 0h0m0 1h0m4-1h0m2 0h0m4-2h0m0 0h0m0 1h0m-2691 5h0m2300 0h0m6 0h0m5 0h0m5 0h0m-2685 33h0m3 1h0m6-2h0m2 3h0m1-2h0m2 0h0m1-2h0m2 0h0m0 0h0m2 0h0m1-1h0m2 4h0m0 0h0m1-1h0m2-3h0m2 1h0m0 3h0m5-4h0m0 1h0m1-1h0m0 2h0m5-2h0m0 1h0m1 4h0m0-2h0m2-1h0m3 0h0m0 3h0m1-4h0m0 3h0m1 0h0m7-1h0m1-1h0m0 3h0m2-2h0m2 2h0m1-1h0m2-1h0m2 2h0m6 0h0m272-1h0m1 0h0m4-1h0m2 0h0m1 0h0m1 2h0m0 0h0m4-2h0m1-1h0m1 2h0m3-3h0m4 2h0m0 1h0m1-3h0m1 2h0m0-3h0m2 1h0m0-1h0m5 0h0m2 2h0m1 0h0m1-2h0m8 2h0m2 2h0m4-2h0m3 2h0m3-2h0m4 1h0m7 0h0m4 1h0m2 1h0m2228 0h0m7-2h0m6-1h0m6-1h0m0 2h0m6-2h0m5-1h0m5 0h0m4 0h0m2 1h0m1 3h0m1-4h0m4 1h0m1-1h0m0 2h0m6 0h0m6 1h0m0 1h0m5 0h0m2-1h0m3 2h0m1-1h0m270 1h0m5-1h0m5 1h0m5-3h0m2 2h0m5-3h0m1 0h0m2 3h0m3-4h0m2 3h0m5-2h0m3 2h0m1-3h0m2 1h0m0-1h0m1 5h0m1 0h0m4-5h0m3 0h0m1 1h0m2 4h0m6-3h0m1 3h0m4-3h0m5 2h0m-3072 6h0m0 0h0m1-1h0m1 1h0m0 1h0m2-3h0m5-2h0m0 0h0m1 0h0m0 3h0m0-3h0m1 0h0m1 3h0m0 1h0m1 1h0m1-4h0m0 0h0m3-1h0m2 2h0m0 3h0m1-5h0m1 5h0m1-1h0m0-1h0m5-3h0m3 5h0m1 0h0m2-3h0m1 0h0m1 1h0m1-3h0m1 2h0m5 2h0m0 0h0m6-1h0m0-3h0m0 4h0m6 1h0m2-2h0m0 0h0m3-1h0m1-2h0m4 3h0m4 0h0m7-2h0m1 0h0m1-1h0m0 4h0m0-3h0m4 1h0m7-2h0m0 5h0m1-2h0m3-2h0m3 4h0m0-3h0m1 3h0m0 0h0m1-3h0m1 2h0m2-2h0m1 2h0m1-1h0m3 2h0m242-2h0m2-1h0m3 0h0m0 0h0m1 0h0m0 0h0m1 0h0m2-2h0m6 1h0m7 2h0m3 0h0m21 0h0m4-1h0m7 3h0m10-1h0m0 1h0m12 0h0m5-1h0m9-3h0m2 4h0m2-2h0m9 2h0m2193-2h0m10-3h0m2 0h0m8 1h0m3-1h0m3 0h0m3 1h0m5 0h0m20 4h0m0-4h0m14 0h0m10 4h0m11-3h0m2-2h0m1 0h0m5 2h0m1 0h0m0 2h0m1-1h0m2 1h0m3 1h0m241-1h0m0-1h0m4 1h0m2 0h0m1-2h0m3-2h0m2 2h0m8-2h0m2 1h0m2 0h0m0 3h0m5-3h0m0 1h0m2-1h0m4 4h0m6 0h0m3-4h0m17 2h0m10 0h0m11-1h0m5-2h0m2 0h0m3 0h0m0 0h0m6 3h0m3 2h0m1 0h0m2-1h0m-3110 6h0m5-1h0m0-1h0m1 1h0m0-2h0m3 1h0m1-2h0m3 4h0m5 0h0m1 1h0m1-3h0m3 2h0m1-3h0m1 1h0m1 1h0m1-2h0m1 2h0m2-3h0m1 4h0m4-2h0m2 0h0m1 1h0m1-3h0m1 0h0m1 0h0m1 2h0m1 0h0m6 1h0m9-2h0m4 3h0m1-4h0m2 2h0m2 1h0m1 1h0m2-1h0m1-2h0m3 2h0m3-3h0m1 2h0m9 1h0m1-2h0m3 3h0m1 1h0m1-3h0m0-2h0m4 5h0m2-3h0m1 3h0m6-4h0m4-1h0m3 3h0m3 1h0m1-1h0m1-1h0m1-2h0m0 5h0m1-1h0m0-4h0m3 4h0m8 0h0m1 1h0m213-1h0m0 1h0m3 0h0m1-3h0m2 0h0m1 2h0m5-4h0m2 3h0m5 1h0m0 1h0m7-3h0m0-2h0m11 1h0m7 3h0m12-2h0m20 0h0m14-2h0m27 1h0m3-1h0m3 4h0m4-3h0m2 3h0m2-1h0m0 0h0m3 1h0m2167 1h0m3-3h0m1 1h0m11 0h0m9-2h0m8 0h0m5-1h0m0 2h0m7 3h0m12 0h0m20-3h0m8-1h0m10 1h0m6 2h0m3-1h0m4 1h0m9-2h0m6 0h0m3 0h0m9 3h0m210 0h0m8 0h0m0-2h0m1-3h0m7 2h0m1 2h0m8-1h0m3-1h0m2-2h0m5 3h0m21-2h0m2-1h0m9 3h0m23 2h0m13-5h0m5 5h0m6-3h0m0 3h0m2-1h0m5-3h0m4-1h0m1 0h0m6 4h0m-3132 7h0m2 0h0m3-3h0m1 1h0m5-1h0m0-1h0m2 4h0m0-3h0m1-2h0m0 4h0m0-3h0m0-1h0m1 2h0m0 3h0m0 0h0m6-1h0m0-4h0m3 0h0m6 1h0m0 2h0m4-3h0m0 0h0m1 0h0m0 2h0m2-2h0m0 1h0m1 2h0m1-2h0m2 1h0m14 0h0m14-1h0m16 1h0m11-2h0m4 1h0m1 3h0m3-4h0m0 3h0m0-3h0m5 2h0m1 0h0m5-2h0m0 2h0m1 1h0m1-3h0m4 1h0m4-1h0m11 5h0m5-3h0m0 3h0m1-3h0m0-1h0m1 1h0m2-2h0m3 1h0m1 2h0m2 0h0m4 2h0m190 0h0m5-2h0m1-2h0m7 1h0m8-2h0m3 3h0m2-3h0m29 2h0m11-1h0m7 3h0m10 1h0m24-4h0m7 1h0m8 0h0m7 2h0m15-4h0m0 1h0m2 0h0m1-1h0m0 0h0m1 1h0m0 0h0m5 3h0m2146 0h0m5 1h0m1-2h0m2-3h0m1 5h0m0-1h0m9-3h0m0-1h0m1 0h0m23 2h0m48 1h0m15 0h0m17 2h0m11-5h0m6 4h0m12-2h0m3 3h0m191 0h0m5-2h0m2-2h0m4 2h0m12-1h0m6-2h0m23 0h0m82 5h0m7-1h0m5 0h0m2-4h0m0 4h0m4-1h0m2 0h0m-3153 7h0m1 0h0m2-2h0m1 3h0m0-3h0m0 2h0m0 0h0m1-3h0m3-1h0m1 4h0m0-2h0m1 2h0m6-3h0m10 3h0m2 0h0m6-2h0m0 3h0m5-3h0m4 1h0m7 1h0m6 0h0m15-2h0m8 1h0m6 0h0m8-1h0m6 1h0m6 2h0m21-4h0m14-1h0m0 5h0m5-5h0m3 2h0m0 2h0m1 1h0m2-2h0m3-3h0m0 2h0m2-1h0m2 2h0m1-1h0m2 3h0m0-4h0m1 1h0m0 3h0m3-5h0m0 5h0m4-2h0m4 2h0m172 0h0m2-1h0m3-1h0m1 2h0m7-4h0m18 2h0m3-3h0m3 0h0m7 0h0m56 3h0m6 2h0m37-1h0m5 0h0m3-1h0m10-2h0m1 4h0m6-2h0m0-1h0m2 1h0m1-1h0m1 3h0m1-1h0m2132-1h0m0 0h0m18-2h0m16 4h0m12-1h0m22-4h0m9 0h0m10 1h0m7 4h0m57-4h0m7 1h0m3-1h0m6 3h0m179-3h0m5 1h0m3 2h0m0 1h0m6-3h0m3-2h0m3 3h0m3-3h0m40 3h0m15-3h0m59 0h0m9 3h0m14-3h0m4 4h0m0-1h0m-3167 8h0m0 0h0m4-3h0m1 1h0m1-1h0m1-1h0m1-1h0m3 2h0m6 0h0m1 1h0m1-1h0m2-2h0m5 4h0m6-4h0m21 2h0m20-2h0m15 5h0m9-3h0m14 3h0m10-4h0m7-1h0m19 2h0m9-1h0m0 0h0m1 0h0m0 0h0m11 0h0m0 4h0m2-2h0m1-2h0m2 4h0m0-4h0m2 1h0m0-1h0m3 2h0m0 2h0m1-2h0m1 0h0m0 2h0m1-3h0m4 3h0m0 0h0m161 0h0m0-1h0m2-1h0m5 2h0m10-5h0m9 2h0m6-2h0m2 5h0m11-3h0m15-2h0m10 3h0m9-2h0m7 0h0m68 4h0m12-2h0m7-2h0m6 4h0m3-3h0m2120 2h0m4-3h0m14 0h0m44-1h0m22 3h0m11 0h0m31-2h0m13-1h0m27 4h0m13-3h0m166 2h0m1 0h0m0-1h0m2-2h0m10 4h0m9-3h0m15 2h0m6-3h0m19 3h0m19-1h0m30 0h0m14-1h0m18 4h0m27-5h0m0 1h0m5 1h0m4-1h0m6 4h0m-3184 6h0m1 0h0m0-2h0m2-2h0m6 0h0m1 0h0m3 1h0m19-2h0m15 0h0m8 1h0m7 1h0m13-1h0m7 1h0m7 3h0m11-3h0m8-2h0m17 4h0m36-4h0m8 0h0m12 2h0m0 3h0m8-3h0m1 2h0m3-3h0m3 3h0m2-1h0m146 2h0m2 0h0m3-4h0m1 3h0m1-1h0m0-2h0m12-1h0m16 1h0m32 1h0m22 0h0m11-2h0m81 5h0m6-5h0m2 3h0m4-2h0m2-1h0m1 0h0m0 0h0m3 5h0m2102 0h0m4-3h0m0 0h0m0 0h0m10 3h0m7-2h0m19-3h0m13 0h0m7 4h0m9 0h0m7-1h0m8-2h0m41 0h0m47 4h0m21-5h0m4 3h0m148 2h0m1-1h0m4-4h0m10 5h0m1-5h0m19 0h0m36 5h0m42-4h0m18 1h0m47-2h0m13 0h0m5 5h0m3-1h0m1 0h0m1 1h0m-3194 2h0m2-1h0m5 1h0m0 4h0m3 0h0m2-3h0m5 3h0m1-3h0m0 1h0m3-3h0m2 0h0m18 2h0m7 2h0m5-4h0m7 2h0m11 0h0m27-1h0m32 3h0m7-3h0m11 2h0m10 0h0m9 1h0m11-3h0m2 0h0m1 1h0m1 3h0m8-4h0m3 4h0m2-5h0m0 0h0m2 2h0m3 0h0m3-1h0m1 2h0m0-2h0m0-1h0m1 3h0m0-2h0m0 0h0m1 1h0m0 0h0m0 0h0m138 1h0m2 1h0m0-4h0m1 0h0m2 0h0m8 4h0m1-2h0m2 3h0m5-1h0m3-4h0m36 0h0m17 0h0m9 2h0m40-2h0m13 2h0m15 2h0m7-4h0m7 5h0m7-5h0m14 4h0m6-3h0m2 4h0m2 0h0m1-2h0m10 2h0m2088-2h0m50 2h0m62-5h0m23 5h0m7-4h0m24 4h0m38-1h0m4-2h0m2 3h0m138-2h0m10 1h0m18-4h0m10 0h0m30 1h0m17 0h0m38 0h0m19 3h0m9-4h0m5 4h0m6-4h0m23 0h0m11 2h0m2 3h0m5-3h0m2-1h0m-3205 10h0m4-1h0m1-3h0m1-1h0m5 1h0m3 0h0m2 1h0m3 0h0m1 1h0m2-2h0m1 0h0m1-1h0m5 0h0m37 1h0m29 0h0m20 0h0m5 4h0m5-2h0m5-3h0m4 4h0m12-2h0m19 0h0m5 2h0m28-3h0m1 0h0m4-1h0m2 1h0m1 4h0m3-1h0m5 0h0m0-1h0m1-1h0m3-2h0m1 4h0m0 0h0m1-1h0m0 0h0m1-2h0m0 3h0m1 0h0m1 0h0m126-1h0m1 2h0m13-1h0m0 1h0m83-3h0m10 0h0m14 1h0m8-1h0m23-1h0m27 3h0m7-2h0m11 0h0m13-1h0m2 2h0m1 2h0m0-2h0m3-2h0m2 2h0m2079 2h0m3-4h0m2-1h0m1 2h0m1-1h0m0 1h0m12-2h0m49 2h0m18 0h0m22 1h0m12 0h0m12-2h0m28 2h0m31-3h0m7 5h0m4-4h0m12-1h0m5 0h0m0 0h0m3 5h0m0-1h0m126-2h0m2 3h0m1-2h0m12 0h0m29-1h0m55-1h0m7 0h0m16 1h0m11-1h0m79 3h0m-3211 7h0m1-1h0m1 0h0m1 0h0m2-3h0m0 4h0m2-2h0m1-3h0m1 5h0m5-3h0m0 1h0m3-3h0m0 5h0m1-5h0m8 2h0m3 3h0m9 0h0m10-5h0m11 3h0m13-2h0m34 4h0m9-5h0m5 3h0m24-2h0m10 1h0m5-2h0m16 4h0m21-1h0m6 0h0m5-2h0m1 3h0m4-4h0m6 5h0m6 0h0m3-5h0m4 2h0m1 2h0m0 1h0m115 0h0m1 0h0m27 0h0m10-2h0m27-2h0m33 3h0m43 0h0m28-2h0m26 2h0m27-1h0m8-1h0m2093 0h0m19-1h0m20 0h0m19 4h0m19-1h0m17-1h0m99-3h0m7 2h0m4-2h0m1 3h0m1-1h0m117 2h0m0-1h0m2-2h0m0 4h0m11-4h0m85 1h0m6 0h0m30-1h0m16 4h0m75 0h0m1-5h0m3 4h0m-3223 6h0m1-4h0m3 2h0m1-2h0m6 0h0m8 1h0m3-1h0m24 2h0m19 3h0m4-5h0m8 2h0m7 2h0m17-3h0m19 2h0m7-2h0m12 0h0m10 1h0m14 0h0m10 2h0m49 1h0m1-4h0m1 4h0m2-4h0m0 1h0m2 3h0m2-5h0m0 1h0m3-1h0m1 1h0m1 0h0m0 4h0m3-1h0m0 1h0m107-2h0m0 0h0m2 0h0m2 1h0m83-1h0m33 0h0m17 0h0m19 1h0m21-1h0m14-1h0m16-2h0m21 1h0m0 4h0m1-3h0m5 3h0m2-3h0m1 2h0m2063-1h0m0 1h0m9-1h0m19 0h0m7 2h0m23-5h0m12 0h0m42 3h0m51-1h0m9 2h0m14-2h0m32-1h0m3-1h0m5 0h0m118 4h0m1-1h0m1 0h0m17-1h0m22-1h0m37 0h0m42 2h0m11-2h0m13-1h0m18 0h0m17 0h0m23 0h0m21 1h0m3 3h0m3-3h0m0 1h0m6 1h0m2-2h0m1 1h0m-3232 7h0m0 0h0m0 2h0m4-2h0m0 1h0m1-3h0m1 3h0m0-2h0m1 3h0m2 0h0m1-1h0m4 1h0m4-4h0m3-1h0m2 0h0m8 0h0m6 3h0m51 2h0m15-4h0m25 1h0m7 1h0m6-1h0m5-1h0m27 3h0m9 0h0m26 1h0m29-5h0m0 1h0m3 0h0m1 1h0m1 3h0m1-3h0m1-1h0m1 4h0m1-1h0m0 1h0m1-1h0m0 1h0m98-1h0m1 0h0m0 0h0m0 1h0m6-1h0m5-1h0m2 2h0m0 0h0m2-3h0m43-2h0m27 4h0m21-2h0m45-1h0m22 0h0m20 3h0m9 1h0m18-5h0m11 4h0m8-4h0m3 4h0m2-2h0m3 3h0m2053-3h0m5 1h0m13 0h0m7-2h0m7 4h0m17-5h0m8 4h0m41-3h0m9 1h0m16 1h0m76 1h0m44-2h0m2 3h0m101 0h0m4-5h0m3 2h0m12-1h0m17 2h0m12 1h0m16-3h0m20-1h0m10 5h0m46-4h0m20-1h0m70 1h0m9-1h0m1 2h0m2-1h0m-3237 8h0m0 2h0m2-2h0m2-2h0m2 1h0m1 2h0m0-4h0m4 5h0m2-2h0m6-2h0m1 1h0m23 1h0m6-1h0m21 2h0m5-4h0m22 4h0m7-1h0m45-1h0m5-2h0m6 1h0m7 0h0m14 2h0m48-3h0m3 3h0m2-2h0m1 3h0m3-3h0m1 1h0m1-1h0m2 1h0m3-1h0m1 4h0m0-1h0m3-4h0m2 0h0m0 0h0m1 3h0m1 1h0m94-1h0m3-3h0m4 4h0m2-4h0m17 1h0m32 1h0m21 1h0m53-3h0m13 2h0m12 0h0m31-2h0m28 0h0m11 3h0m13-2h0m8-1h0m4 4h0m2046-1h0m3 0h0m7-1h0m7-2h0m72 1h0m16 2h0m10 2h0m35-5h0m40 2h0m58 1h0m6 2h0m93-2h0m1 1h0m1-4h0m1 3h0m2-1h0m4-1h0m48 4h0m60-1h0m16-3h0m6-1h0m9 2h0m6 3h0m7-3h0m8 0h0m30-1h0m33 2h0m5 0h0m5-2h0m2 1h0m5-1h0m1 4h0m2 0h0m-3247 6h0m0-3h0m2 0h0m0 1h0m2-2h0m0 4h0m4-3h0m1 3h0m1 0h0m1-1h0m1 1h0m4-1h0m2-1h0m0-3h0m43 2h0m6-2h0m18 2h0m6 1h0m59 0h0m12-2h0m8 1h0m6 2h0m16-2h0m16 3h0m13-4h0m9 2h0m10 1h0m2-3h0m3 1h0m0-1h0m1 2h0m6 2h0m1-1h0m2-1h0m2-2h0m1 3h0m87 1h0m2-2h0m4-3h0m4 3h0m7 2h0m4-2h0m40 1h0m11-4h0m20 0h0m11 4h0m10-1h0m23-1h0m20 0h0m11 0h0m8-2h0m17 5h0m9-5h0m13 0h0m9 2h0m16 0h0m8-2h0m4 0h0m8 4h0m2043-2h0m0 0h0m32 2h0m17-2h0m12-1h0m20 4h0m20-2h0m29 1h0m9 1h0m18-1h0m36 0h0m8-4h0m20 3h0m14 0h0m11 0h0m9 2h0m0-2h0m1 2h0m90-4h0m21-1h0m5 4h0m24-4h0m16 1h0m30 3h0m31-2h0m11-1h0m47 4h0m14-2h0m9-2h0m32 1h0m7-1h0m6 2h0m3 0h0m1 0h0m-3253 6h0m0-1h0m0 1h0m1-2h0m1 1h0m2-2h0m2 4h0m0-4h0m6 1h0m0 2h0m2-3h0m0 3h0m3 0h0m0-1h0m9 0h0m14 1h0m22 0h0m8 2h0m19-3h0m16 3h0m9-4h0m17 1h0m8-2h0m9 0h0m4 4h0m11-3h0m18 3h0m8-3h0m28 0h0m5 3h0m6-2h0m21 0h0m1 1h0m2 1h0m2-3h0m0 0h0m1 4h0m2-3h0m0-2h0m1 3h0m0-1h0m2 2h0m2-2h0m1 0h0m0 1h0m86-2h0m1 4h0m2 0h0m7-3h0m19-1h0m7 3h0m84 1h0m14-1h0m13-1h0m20 1h0m45-1h0m17 2h0m9-1h0m8-3h0m3 2h0m5 1h0m1-1h0m2042-1h0m0 0h0m1-1h0m18 4h0m10-3h0m30-2h0m9 4h0m46-2h0m128 3h0m14-1h0m2-4h0m1 5h0m4-2h0m81 2h0m1-3h0m12-2h0m14 2h0m32 2h0m24-3h0m9-1h0m50 2h0m12 1h0m14-2h0m14 0h0m78 3h0m5-1h0m-3258 8h0m1-4h0m0-1h0m0 2h0m0 1h0m0 0h0m1 1h0m1-3h0m5 0h0m5 2h0m6 2h0m2-5h0m4 1h0m6 2h0m29 0h0m40-3h0m27 2h0m10 1h0m7-2h0m4 4h0m17-2h0m7 0h0m28-1h0m29 2h0m21-2h0m1-2h0m3 0h0m6 2h0m0-2h0m1 3h0m1 0h0m1-2h0m0-1h0m3 1h0m0-1h0m2 1h0m1 1h0m79-1h0m13 0h0m4 1h0m14 0h0m17-2h0m7 2h0m13 0h0m17 0h0m29-2h0m31 4h0m42-1h0m38 1h0m23-1h0m4 0h0m12-3h0m2 5h0m1-1h0m2031-1h0m2-2h0m42 3h0m49-3h0m50 0h0m15-1h0m8 1h0m17 3h0m70-3h0m6 2h0m9 0h0m1-1h0m77 3h0m1-4h0m4 1h0m2 0h0m2 0h0m4 3h0m47-1h0m17-4h0m21 0h0m15 0h0m26 1h0m27 1h0m53-2h0m35 4h0m4-4h0m1 3h0m6 1h0m1-2h0m-3260 8h0m1-1h0m1-3h0m0 1h0m0 4h0m0-2h0m1 0h0m2-3h0m3 0h0m0 3h0m2 2h0m5-3h0m1 3h0m11-1h0m17-4h0m6 2h0m30 1h0m19-3h0m14 3h0m11-1h0m9-2h0m64 1h0m11-1h0m20 4h0m7-1h0m7-2h0m7 1h0m8 1h0m0 1h0m1-4h0m2 3h0m4 1h0m3 1h0m0-4h0m1-1h0m2 0h0m2 2h0m1 2h0m0-3h0m0 3h0m75-4h0m0 4h0m1-4h0m0 3h0m1-1h0m1-1h0m1 4h0m10-2h0m10-1h0m9 3h0m10-2h0m8 1h0m24 1h0m29-5h0m7 1h0m8 4h0m16-3h0m31 1h0m12 2h0m19-3h0m11-1h0m12-1h0m17 1h0m22 0h0m11 2h0m1 0h0m2029-2h0m7 3h0m60 1h0m22-2h0m9-1h0m11 3h0m83-1h0m10-3h0m28 2h0m35-2h0m5 3h0m0-4h0m77 3h0m2-2h0m44-1h0m8 5h0m45-4h0m13 2h0m11-2h0m22-1h0m14 0h0m7 3h0m20 2h0m12-3h0m10 2h0m50 0h0m11-1h0m-3265 8h0m0-3h0m0 3h0m0-2h0m2 1h0m0 1h0m1-2h0m0 1h0m1 1h0m0-1h0m1 1h0m1-5h0m2 1h0m5 4h0m1-4h0m2 1h0m0 1h0m4 0h0m7 1h0m9-2h0m20-2h0m45 1h0m18 4h0m44-3h0m28-1h0m13 0h0m12 2h0m6-3h0m20 2h0m17-2h0m6 4h0m1-4h0m2 2h0m1 0h0m1 1h0m0-3h0m3 5h0m0-1h0m1-3h0m3 3h0m69-2h0m2-1h0m3 3h0m15-1h0m10 2h0m58-4h0m9-1h0m8 5h0m101-4h0m26 4h0m19 0h0m10 0h0m8-5h0m4 2h0m3 0h0m2023 3h0m3-5h0m4 4h0m0-2h0m13 0h0m7 1h0m10 2h0m8-4h0m12 2h0m25 2h0m62-4h0m22 4h0m54-1h0m17 0h0m39-2h0m71-1h0m10 0h0m1-1h0m93 3h0m25 1h0m27 0h0m21 0h0m61-2h0m30-1h0m6 0h0m2 3h0m-3270 6h0m1 0h0m3-3h0m12 3h0m1-2h0m8 3h0m29-1h0m6-2h0m19 1h0m24-2h0m46-1h0m6 2h0m35-1h0m13 2h0m27-3h0m15 2h0m6-1h0m9 1h0m5-2h0m3 5h0m1-2h0m2-2h0m1 0h0m7 0h0m0-1h0m67 4h0m1-4h0m1 3h0m1 0h0m3 1h0m0-2h0m5-1h0m34 2h0m20-2h0m10-1h0m20 2h0m38-1h0m25 4h0m13 0h0m27 0h0m13-2h0m16-1h0m16-1h0m25 4h0m7-3h0m4 0h0m2021 3h0m15-4h0m30 2h0m27-3h0m53 1h0m27-1h0m24 2h0m12-2h0m13 3h0m9 0h0m17 2h0m21-5h0m14 2h0m9-2h0m8 2h0m67 2h0m2 1h0m2-3h0m6-2h0m2 5h0m20-4h0m49 2h0m14-3h0m10 5h0m13-1h0m7-4h0m61 1h0m12 4h0m25 0h0m6-5h0m20 3h0m29 0h0m1-2h0m-3272 10h0m0-3h0m0 0h0m2-2h0m2 1h0m4 2h0m2-1h0m2-1h0m1-1h0m1 2h0m1-1h0m2 4h0m4-2h0m9 1h0m55-2h0m87-1h0m8-1h0m19 2h0m34 1h0m18 0h0m6 1h0m7-4h0m2 3h0m4 2h0m3-3h0m5 3h0m0-4h0m1 2h0m0 0h0m2-2h0m1 2h0m0-1h0m0 1h0m1 1h0m0 0h0m65-3h0m13 0h0m13-1h0m33 5h0m71-2h0m8 2h0m52-5h0m15 2h0m32 2h0m10-4h0m8 0h0m19 3h0m3 0h0m3-2h0m2017 4h0m2 0h0m2-1h0m2-1h0m5 1h0m31 0h0m22-3h0m16 4h0m9-4h0m10 4h0m97-2h0m50-3h0m19 5h0m14-5h0m1 5h0m2-3h0m73 3h0m3-3h0m29 1h0m26 2h0m70-2h0m7 0h0m8 1h0m38-2h0m46 2h0m9 1h0m36-4h0m-3273 10h0m0-4h0m0-1h0m1 2h0m3 0h0m3 0h0m1 1h0m3-2h0m3 0h0m1 3h0m9-1h0m7 1h0m11-4h0m24 4h0m11-4h0m2 5h0m5-3h0m6 3h0m12-1h0m21 0h0m15-2h0m12-2h0m29 0h0m7 4h0m7-4h0m5 5h0m34-1h0m7-3h0m24 2h0m8 1h0m5-4h0m6 2h0m1 1h0m1-2h0m0 3h0m0 1h0m62-1h0m1-4h0m2 3h0m1 2h0m4-5h0m35 3h0m26-3h0m19 2h0m7-2h0m37 4h0m33-4h0m51 5h0m29-1h0m9-3h0m11-1h0m4 3h0m5 0h0m8 2h0m2-2h0m0-1h0m0 1h0m2017 1h0m22 0h0m28-2h0m10 2h0m85-4h0m16 2h0m27-1h0m59 0h0m23 4h0m0-3h0m5-1h0m4 1h0m2 2h0m1-1h0m62 1h0m1-4h0m2 1h0m3-1h0m1 2h0m4 3h0m20-4h0m30-1h0m17 4h0m51-3h0m86 2h0m35 2h0m25-5h0m9 1h0m-3275 10h0m0-2h0m7-3h0m1 3h0m1-2h0m4 3h0m1-4h0m3 5h0m10-1h0m15-1h0m10 1h0m19-3h0m10 4h0m14-2h0m81-3h0m38 1h0m38 0h0m11 3h0m5-1h0m0-1h0m9 2h0m3 0h0m5-4h0m0 4h0m0-2h0m61 2h0m21-3h0m21 3h0m29-2h0m7-2h0m37 1h0m8 2h0m24 1h0m14-1h0m14 1h0m33-1h0m17-2h0m9 1h0m22 1h0m13 0h0m14-3h0m2027 2h0m0-2h0m2 2h0m27 2h0m53-4h0m133 5h0m20-3h0m33-1h0m2 4h0m1 0h0m3-4h0m60 2h0m0-2h0m2 0h0m6 2h0m28 0h0m14-3h0m79 2h0m11-1h0m95 1h0m44 0h0m5 3h0m-3275 6h0m0-4h0m0 4h0m0-4h0m0 0h0m7-1h0m20 5h0m9-5h0m13 3h0m11 2h0m28-3h0m15 1h0m9-3h0m13 4h0m26 1h0m14-4h0m34 3h0m58 1h0m9 0h0m4-5h0m1 1h0m4 3h0m4-1h0m3 2h0m1-1h0m1-3h0m1 1h0m0 0h0m1 1h0m1-1h0m58 3h0m5 0h0m3-2h0m7-3h0m37 5h0m15-2h0m41-1h0m24 2h0m11-3h0m14 3h0m8 0h0m39-4h0m7 5h0m10-2h0m13 1h0m38 1h0m3-5h0m9 5h0m1-5h0m1 1h0m1-1h0m2013 3h0m1 0h0m5-3h0m6 5h0m9 0h0m7-2h0m34-2h0m34 3h0m25 0h0m44-4h0m14 5h0m13-5h0m10 2h0m13 0h0m31 2h0m28-1h0m0-2h0m12 0h0m60 3h0m7-2h0m2 1h0m8-1h0m71 0h0m11-1h0m140 1h0m28-1h0m7 1h0m11 1h0m1-1h0m-3278 5h0m0 0h0m1 2h0m0 1h0m0 0h0m1 0h0m1-4h0m3 0h0m2 2h0m0 1h0m2 1h0m9-3h0m7 4h0m8-3h0m9 0h0m12-1h0m20 0h0m29 2h0m6-3h0m9 0h0m18 3h0m29-1h0m7 2h0m14-3h0m54 0h0m22 2h0m7-3h0m3 4h0m7-3h0m1 1h0m1 3h0m3-3h0m1 0h0m60 2h0m2-3h0m1 2h0m9 2h0m2-4h0m11 2h0m12-1h0m22-2h0m60 1h0m9 3h0m52-4h0m20 2h0m42-2h0m34 5h0m2 0h0m5 0h0m3-5h0m0 1h0m1 0h0m1 0h0m2012 4h0m1 0h0m2-4h0m0 0h0m2 2h0m1-1h0m1 3h0m4-5h0m19 4h0m138 0h0m28-2h0m16 3h0m14-1h0m51-3h0m3 1h0m7-2h0m0 1h0m58 4h0m1-2h0m3-3h0m3 1h0m6 1h0m1 1h0m3 2h0m7-2h0m36-1h0m14 1h0m29 0h0m29-1h0m33 2h0m85-3h0m37 0h0m1 4h0m-3279 3h0m0 3h0m1-4h0m0 0h0m2 2h0m0-2h0m2 0h0m0 4h0m0 0h0m9 0h0m2-1h0m2-4h0m13 5h0m15-1h0m10-3h0m25 3h0m31-4h0m10 1h0m22-1h0m9 1h0m50-1h0m9 1h0m30 3h0m16-3h0m11 3h0m2-1h0m5 2h0m0-1h0m1 0h0m1-3h0m1 1h0m0 2h0m5-2h0m0-1h0m2 1h0m1 1h0m1 0h0m59 2h0m2-1h0m12 0h0m5-3h0m27 0h0m23-1h0m22 2h0m29 0h0m14-2h0m42 4h0m48-2h0m18 2h0m29 1h0m7-3h0m5-2h0m2016 4h0m0-1h0m2 2h0m8-2h0m79-1h0m46 1h0m70-1h0m14 0h0m15-1h0m28-1h0m13 4h0m1-4h0m11 1h0m0 3h0m58-3h0m1 2h0m0-2h0m1 1h0m1-2h0m1 2h0m7-2h0m27 5h0m18-1h0m19 0h0m28 0h0m12-1h0m22 1h0m7-4h0m106 3h0m8-3h0m12 2h0m6 1h0m11-1h0m0 0h0m0 3h0m1-1h0m-3279 3h0m1 3h0m1-4h0m8 5h0m2-2h0m2-3h0m1 2h0m4 2h0m22-1h0m10-3h0m11 4h0m6 0h0m17 1h0m10-5h0m1 5h0m16-4h0m6 0h0m33 1h0m31-1h0m17 1h0m7 3h0m20-3h0m21 0h0m11 2h0m7-1h0m7 2h0m5-1h0m2 0h0m2-4h0m0 1h0m1 2h0m1 0h0m1-2h0m1 4h0m1-5h0m1 1h0m0 0h0m60 4h0m1-2h0m6-1h0m4 0h0m35 1h0m29-3h0m6 4h0m48 1h0m28-5h0m27 4h0m20-4h0m21 5h0m9-1h0m49 0h0m0-3h0m2 4h0m1-5h0m0 0h0m0 3h0m2014 0h0m0-1h0m1 3h0m21-5h0m169 0h0m19 4h0m67 0h0m2-1h0m6-3h0m65 2h0m3-1h0m0 2h0m10-2h0m14 2h0m112-2h0m13 4h0m14-4h0m12 2h0m11-2h0m75 2h0m5 1h0m3-2h0m7-2h0m2 0h0m0 3h0m-3276 7h0m1-3h0m2-1h0m6 1h0m3 1h0m1 2h0m1-2h0m2-1h0m10-1h0m6 3h0m5 0h0m17-3h0m16 4h0m10 1h0m6-2h0m13 1h0m73-1h0m12 0h0m9-3h0m6 2h0m15-2h0m7 1h0m6 0h0m8 1h0m7 2h0m6-3h0m5 4h0m6-1h0m7-1h0m11-3h0m0 1h0m2 0h0m1 3h0m1-1h0m1 2h0m0-1h0m2 0h0m0 1h0m1-4h0m0-1h0m0 3h0m60-2h0m2 1h0m53-1h0m66 1h0m35 2h0m8-1h0m44 1h0m58-4h0m4 4h0m3-2h0m10 3h0m2017 0h0m0-1h0m4-4h0m5 4h0m8-2h0m16-1h0m35-1h0m7 5h0m7-2h0m11-3h0m32 1h0m24 3h0m10-4h0m22 4h0m47 1h0m14-4h0m16 0h0m14 2h0m2-2h0m11 1h0m60 0h0m1 2h0m3 1h0m3-3h0m4-2h0m14 0h0m29 2h0m30 0h0m66 0h0m17 0h0m21 0h0m15-2h0m14 2h0m5 3h0m6-4h0m8 3h0m16-3h0m12 3h0m9-2h0m9 0h0m0 1h0m4-2h0m-3276 9h0m0-4h0m0 3h0m0 2h0m1-1h0m1 1h0m0-2h0m2 1h0m3-4h0m3 2h0m2-2h0m0 1h0m4 2h0m1 1h0m6-3h0m24 2h0m30 1h0m10-1h0m7-1h0m33 0h0m13-2h0m6 5h0m18-3h0m20 2h0m6-3h0m6 3h0m6 1h0m5-4h0m7-1h0m4 5h0m7-4h0m7 2h0m30 0h0m6 0h0m1 1h0m3 1h0m4-1h0m0-2h0m0 0h0m0-2h0m3 3h0m0 2h0m2-4h0m2 1h0m1 3h0m63 0h0m2-1h0m2-1h0m6 2h0m0-1h0m12-4h0m14 2h0m7 0h0m14 3h0m7-1h0m18-2h0m48 0h0m94 0h0m15-1h0m20 0h0m9 2h0m0-2h0m3 3h0m8 1h0m1-5h0m3 4h0m1-4h0m2015 2h0m0 1h0m0 2h0m5-2h0m2-1h0m2-1h0m0-1h0m35 0h0m21 5h0m91-2h0m61-3h0m32 1h0m10 2h0m7 2h0m7-1h0m1 0h0m7-2h0m1-1h0m2 1h0m62 3h0m2-2h0m2-2h0m4 0h0m4 1h0m26-2h0m36 3h0m9 0h0m30 0h0m10-1h0m7-2h0m54 2h0m43 3h0m55-3h0m1 0h0m-3274 9h0m0-5h0m1 4h0m0 1h0m0-4h0m1 4h0m4-4h0m0 2h0m4 2h0m0-5h0m4 1h0m2 0h0m3 0h0m71 1h0m70-1h0m6 3h0m13 1h0m10 0h0m25-1h0m13-2h0m27-2h0m13 3h0m3 2h0m2 0h0m9-3h0m1-2h0m0 1h0m65 4h0m3 0h0m22-5h0m9 4h0m37 0h0m21-2h0m14 0h0m17 2h0m12-3h0m10 0h0m16 3h0m20-4h0m7 5h0m33-2h0m11 2h0m37-2h0m5 1h0m1 0h0m6-3h0m2017 2h0m6 1h0m1-1h0m0 0h0m9 0h0m12 0h0m9-3h0m67 2h0m32 3h0m44-1h0m8-3h0m7 3h0m9-4h0m40 2h0m14 2h0m16-3h0m7 0h0m65 2h0m1 0h0m3-1h0m9 1h0m18 2h0m12-3h0m43 3h0m110-4h0m29 4h0m49-2h0m7 0h0m1 1h0m0 0h0m-3272 5h0m0-2h0m0 2h0m2 1h0m0 1h0m3-2h0m3 2h0m0-2h0m1 1h0m4-3h0m4 3h0m6-4h0m19 0h0m17 5h0m5-4h0m27 1h0m9 2h0m11-2h0m13-2h0m14 0h0m16 1h0m10 4h0m6-1h0m8 1h0m15-1h0m42-1h0m22-3h0m5 5h0m2-5h0m4 1h0m2 4h0m1-5h0m0 4h0m6 1h0m0-4h0m1 1h0m2-1h0m66 1h0m11-1h0m6 0h0m7 4h0m18-2h0m19-2h0m25 1h0m20 1h0m7-3h0m7 5h0m8-1h0m7-2h0m10 2h0m54-4h0m47 4h0m18-1h0m2-1h0m1 2h0m4-1h0m2-3h0m2027 4h0m3-3h0m2 2h0m2 1h0m40-4h0m54 5h0m52-3h0m48 1h0m6-3h0m36 5h0m7-2h0m23-3h0m5 2h0m67 3h0m0 0h0m2-1h0m35-3h0m79 4h0m49-2h0m35-2h0m19 4h0m15-5h0m14 5h0m7-1h0m7-2h0m7 0h0m1-1h0m3-1h0m3 5h0m4-4h0m-3269 8h0m1 1h0m0 1h0m1-5h0m0 3h0m2-2h0m2 4h0m8 0h0m0-1h0m3-3h0m1-1h0m10 1h0m19 2h0m29-1h0m31 1h0m19 2h0m9-4h0m7 3h0m6 0h0m51-4h0m13 3h0m26-1h0m8 0h0m7-1h0m9 3h0m1-3h0m1 4h0m3-4h0m0-1h0m2 1h0m1-1h0m5 0h0m0 5h0m0-1h0m2-4h0m69 3h0m3 2h0m3 0h0m3-4h0m38 0h0m9 3h0m9-1h0m13 1h0m14-4h0m9 5h0m31 0h0m18-4h0m15 0h0m8 3h0m10-3h0m11 2h0m20-3h0m22 0h0m30 3h0m6 1h0m0 0h0m4-1h0m0-3h0m2023 4h0m1-2h0m0 3h0m33-1h0m40-3h0m45 3h0m18-1h0m34-1h0m37 2h0m9-3h0m9-1h0m7 4h0m36 1h0m2-3h0m4 3h0m1-4h0m70 1h0m1-2h0m6 2h0m4-1h0m2 0h0m11 2h0m124-1h0m16 2h0m19 1h0m8-1h0m39-3h0m9 4h0m20-2h0m5-1h0m2 0h0m11-1h0m-3266 7h0m0 3h0m1 0h0m2 0h0m2-1h0m0 1h0m4-4h0m2-1h0m2 0h0m3 4h0m0-3h0m17 0h0m6 1h0m26-2h0m3 5h0m8-3h0m9 1h0m26-1h0m8 0h0m14 1h0m18 0h0m9 0h0m13-2h0m9 1h0m14-2h0m14 5h0m11 0h0m7-1h0m6-2h0m19 1h0m6-3h0m1 0h0m2 1h0m2 1h0m5-2h0m3 0h0m1 0h0m74 3h0m0 0h0m6 0h0m6 2h0m1-5h0m29 3h0m42 0h0m8-1h0m18 0h0m10 2h0m15 0h0m7-1h0m20 0h0m56 1h0m41-1h0m2-3h0m6 5h0m3 0h0m1-4h0m2027 1h0m4 2h0m57 1h0m34-2h0m28 1h0m94-1h0m25-2h0m12 1h0m14 3h0m4 0h0m1-4h0m73 2h0m2 2h0m2 0h0m1-2h0m8-1h0m1-1h0m35 1h0m7-1h0m100 1h0m87 0h0m18-1h0m2 2h0m5-3h0m1 0h0m3 0h0m-3262 8h0m2 2h0m1-1h0m1 0h0m3-1h0m0 1h0m0 0h0m0 2h0m0-1h0m2-1h0m3-3h0m5 3h0m1-2h0m2 3h0m4-1h0m7-2h0m16 1h0m43 2h0m16-4h0m5 3h0m10-2h0m20-1h0m21 2h0m13-1h0m12 4h0m29-3h0m12 2h0m20-2h0m6 1h0m4-1h0m3 0h0m3 3h0m1-1h0m1 1h0m2-4h0m1-1h0m0 3h0m0-3h0m1 0h0m78 3h0m3 1h0m2-3h0m5 0h0m37 1h0m9 0h0m7-1h0m10 1h0m13 3h0m10-4h0m27 3h0m32 1h0m20-5h0m35 2h0m22-1h0m10 4h0m24-1h0m2033-1h0m10 2h0m2 0h0m0-1h0m1-4h0m34 1h0m112 4h0m6-5h0m11 1h0m28-1h0m26 0h0m117 3h0m3 1h0m1-2h0m3 2h0m21-4h0m65 3h0m23-1h0m65-1h0m34 1h0m21 1h0m10-2h0m6 1h0m2 3h0m7-3h0m1 3h0m0 0h0m2-5h0m1 1h0m1-1h0m1 0h0m-3259 7h0m1 0h0m0 0h0m0 0h0m1 2h0m3-3h0m2 2h0m0-2h0m1 0h0m2 0h0m5 3h0m43-2h0m25 1h0m12 3h0m11-3h0m33-1h0m22 1h0m10-1h0m7-1h0m21 3h0m10-2h0m9 0h0m10 4h0m10-1h0m6-2h0m6-2h0m0 3h0m3-1h0m3-2h0m4 2h0m3 3h0m1-2h0m0 0h0m1-3h0m83 1h0m3-1h0m7 1h0m1 0h0m0 3h0m26-4h0m12 4h0m13-1h0m16 0h0m29-2h0m22 2h0m11 0h0m60 2h0m14-4h0m40 3h0m2 0h0m6 1h0m2036-2h0m9-3h0m7 3h0m22-3h0m21 1h0m17 0h0m29 0h0m18 1h0m23 3h0m26-1h0m16-2h0m21-2h0m6 5h0m21-2h0m9 2h0m18-2h0m0 1h0m83-3h0m2 3h0m10-4h0m10 0h0m38 2h0m7 3h0m82-4h0m42 3h0m12-1h0m6-1h0m43 1h0m0-1h0m8 2h0m2 0h0m0 0h0m1-4h0m1 0h0m-3253 6h0m1 1h0m0 1h0m1-2h0m10 2h0m1 2h0m3-4h0m0 3h0m3 1h0m15-3h0m10 3h0m17-3h0m62 0h0m7 2h0m6 1h0m12-2h0m19-1h0m8 1h0m8 2h0m5-2h0m56 2h0m0-3h0m1 4h0m6-4h0m1 1h0m5 1h0m0-1h0m2-1h0m87 0h0m1 1h0m7 3h0m1-1h0m6 1h0m16-5h0m8 2h0m32 1h0m17-3h0m9 5h0m21-5h0m5 5h0m10-3h0m14 3h0m22-3h0m14 1h0m38-2h0m7-1h0m7 4h0m7-4h0m1 4h0m0-3h0m3 1h0m10-1h0m1 0h0m1 2h0m1-1h0m1-2h0m2040 0h0m0 0h0m2 5h0m5-1h0m9 0h0m7-3h0m51 1h0m10-1h0m10-1h0m18 0h0m22 5h0m45-5h0m23 1h0m17 0h0m38 3h0m1-3h0m87-1h0m1 0h0m0 3h0m2-3h0m11 3h0m12-2h0m28 4h0m116-3h0m52-1h0m19-1h0m4 5h0m7-5h0m3 2h0m2 2h0m-3246 2h0m2 0h0m0 3h0m0-1h0m2 3h0m0-3h0m2-1h0m5 2h0m3 0h0m3 2h0m4-1h0m15-3h0m41-1h0m17 0h0m6 2h0m10 2h0m8-4h0m6 3h0m6 2h0m16-1h0m10-2h0m13-1h0m51 0h0m14 1h0m2-1h0m4-1h0m2 3h0m6 1h0m1 0h0m2 0h0m0-3h0m1 2h0m1 0h0m0 2h0m95-4h0m2 4h0m6-2h0m4-1h0m6 3h0m61-5h0m7 2h0m40 1h0m31-3h0m43 0h0m11 2h0m7 2h0m22 0h0m4-2h0m3 0h0m5 0h0m2049-1h0m1-1h0m20 4h0m18 0h0m37-1h0m9-1h0m14 3h0m37-3h0m41-2h0m11 4h0m38-3h0m21 0h0m0 4h0m3-2h0m94-2h0m3 4h0m1 0h0m1-3h0m7 2h0m7-3h0m40 1h0m21-1h0m65 3h0m31-1h0m12 0h0m22-3h0m10 3h0m31 1h0m-3239 3h0m0 1h0m2 1h0m1 1h0m6-4h0m2 4h0m1-4h0m6 1h0m0 1h0m3 3h0m1 0h0m68-3h0m10 3h0m38 0h0m16-1h0m12 0h0m16-4h0m14 5h0m35-4h0m5 3h0m5 0h0m3 1h0m103-1h0m10-3h0m5-1h0m36 4h0m9 1h0m12-4h0m18 4h0m21-4h0m44 3h0m63 1h0m12-5h0m7 4h0m3-1h0m0 0h0m2-2h0m1 2h0m1 0h0m2055-2h0m2 2h0m3-2h0m0 0h0m20 2h0m65-1h0m29 1h0m9 1h0m29-4h0m9 3h0m8 1h0m22-1h0m13-2h0m7-1h0m16 5h0m2 0h0m1-4h0m4 1h0m5 2h0m1-1h0m102 2h0m80 0h0m54-1h0m22-1h0m44-3h0m34 3h0m8 0h0m1 0h0m1-2h0m0 2h0m-3233 4h0m1 1h0m1 2h0m2 1h0m7-3h0m1-1h0m1 1h0m7-1h0m2 3h0m4-4h0m9 5h0m16-1h0m43 0h0m10-2h0m5 3h0m5-3h0m7 1h0m5-3h0m12 3h0m29 2h0m3-5h0m6 3h0m6-3h0m23 3h0m8-2h0m3 1h0m3 3h0m0 0h0m1-4h0m1-1h0m3 0h0m3 1h0m0-1h0m2 1h0m2 1h0m4 3h0m0-3h0m1 3h0m2-4h0m111 3h0m1-2h0m9-2h0m3 3h0m11 0h0m14-1h0m29 1h0m9 1h0m16-4h0m20 3h0m11-2h0m6 3h0m10-4h0m23 4h0m38-4h0m27 1h0m0 0h0m3 4h0m1-1h0m1-3h0m1 4h0m1-3h0m2-1h0m2062 2h0m8 0h0m2 1h0m119 1h0m50-2h0m29 0h0m27-2h0m2-1h0m109 4h0m3 0h0m25-1h0m113-3h0m39 2h0m33-2h0m9 4h0m15-4h0m-3224 7h0m1 1h0m0 0h0m1 1h0m1-3h0m3 3h0m8 0h0m1-1h0m10 3h0m8 0h0m13-2h0m6-2h0m6 2h0m18 2h0m6-2h0m16 1h0m29-3h0m13 0h0m27 3h0m13-2h0m26 3h0m0-3h0m2-2h0m2 5h0m0-5h0m6 0h0m3 5h0m0-3h0m6 3h0m0-5h0m3 1h0m116 1h0m0 0h0m4-2h0m1 1h0m2 4h0m2-4h0m2-1h0m8 4h0m12-3h0m17 4h0m47-4h0m42 2h0m15 2h0m39-1h0m18-3h0m3-1h0m16 4h0m2-2h0m0-1h0m2071 1h0m5 2h0m2 1h0m0-5h0m8 4h0m2 1h0m10-4h0m51 3h0m22-3h0m34 1h0m37 2h0m16 1h0m21-1h0m0 1h0m18 0h0m1-4h0m2 0h0m117 1h0m0 1h0m0 0h0m1-3h0m1 4h0m2 1h0m4-1h0m1-4h0m5 2h0m6 1h0m34 0h0m122 1h0m29-3h0m8 3h0m2 1h0m5-1h0m3 1h0m2-5h0m1 5h0m0-3h0m3-1h0m-3217 6h0m0 1h0m4 3h0m1-2h0m12 1h0m18 1h0m14-2h0m11 1h0m5-3h0m16 2h0m20 2h0m5-5h0m7 5h0m7-2h0m20-1h0m19-1h0m25 1h0m16 2h0m1-2h0m1 1h0m4-2h0m2 3h0m4-3h0m4 3h0m0-1h0m2-1h0m3-2h0m125 2h0m1 0h0m0 2h0m4 1h0m30-3h0m58 0h0m65 0h0m46-2h0m5 1h0m9 3h0m1-1h0m2080-1h0m17-1h0m49-1h0m21 1h0m38 0h0m25 1h0m7-1h0m50 2h0m4 0h0m11-3h0m123 0h0m7 0h0m2 3h0m16-3h0m88 2h0m9 1h0m62 1h0m22 0h0m14-2h0m2-2h0m-3208 6h0m6 2h0m2 3h0m5-3h0m0 0h0m7 0h0m9 3h0m11-5h0m12 4h0m7 1h0m43-3h0m13 3h0m14-5h0m12 1h0m21 1h0m6-1h0m22-1h0m12 1h0m4 4h0m3-2h0m0 1h0m0 0h0m3-4h0m138 3h0m1-1h0m1 3h0m1-5h0m8 2h0m4 1h0m10 1h0m14-3h0m27 2h0m47 0h0m20-1h0m9 3h0m31-3h0m14 3h0m6-2h0m7-3h0m1 1h0m2 4h0m1-2h0m3-2h0m0-1h0m1 1h0m0 0h0m2092 3h0m1-1h0m11 0h0m11-3h0m9 5h0m20-4h0m21 2h0m83-3h0m50 1h0m136-1h0m3 3h0m0-1h0m5 0h0m2 3h0m66-4h0m8-1h0m54 4h0m11-2h0m15 0h0m35-2h0m2 3h0m3 0h0m2 1h0m2-2h0m-3191 4h0m1 0h0m4 5h0m2 0h0m2-3h0m1 2h0m3-3h0m8 1h0m5 3h0m0 0h0m1-1h0m17 1h0m13-4h0m5 4h0m3-5h0m17 2h0m8-1h0m15 4h0m6-2h0m7-1h0m9 0h0m10-2h0m16 5h0m6-4h0m14-1h0m5 3h0m4-3h0m4 5h0m1-3h0m2 1h0m1-1h0m0 0h0m0-1h0m1 2h0m1 2h0m1 0h0m0 0h0m1-2h0m4-3h0m146 2h0m5 0h0m37-1h0m20 4h0m15-5h0m46 2h0m11 3h0m12-5h0m21 3h0m14 1h0m7 0h0m3-1h0m0 1h0m4 0h0m1 0h0m3-3h0m2099 0h0m6 2h0m1 1h0m4-3h0m5 3h0m25-3h0m43 0h0m14 1h0m10-2h0m11 1h0m9 4h0m11-4h0m15 2h0m20 1h0m12 1h0m5-2h0m3-1h0m2 1h0m4-2h0m148 2h0m9 2h0m0-4h0m3 2h0m4 0h0m1-2h0m1 0h0m2 2h0m2 1h0m15-1h0m13-1h0m7 1h0m15-1h0m106 3h0m1-1h0m2 0h0m5-2h0m1-1h0m7 3h0m-3181 3h0m4 0h0m1 3h0m0-4h0m11 5h0m0-5h0m3 5h0m1-3h0m1 3h0m2-5h0m0 1h0m8 2h0m2 1h0m2-3h0m27 4h0m6-5h0m7 2h0m6 1h0m17 2h0m21-5h0m5 4h0m30-1h0m2 1h0m7-1h0m7-2h0m0-1h0m5 3h0m1-2h0m0 0h0m1-1h0m1 1h0m0 2h0m2-1h0m1 3h0m0-4h0m0 2h0m1 2h0m0-5h0m1 1h0m2 2h0m1-2h0m1 0h0m1-1h0m158 0h0m5 5h0m7-5h0m7 4h0m2 1h0m6-1h0m0 0h0m3-1h0m38 2h0m9-3h0m16 3h0m74 0h0m3-5h0m8 3h0m6 1h0m2116-4h0m4 4h0m2-2h0m11 1h0m4-2h0m1 2h0m5 2h0m31-4h0m19 3h0m17-1h0m13 0h0m61 0h0m13 2h0m5-3h0m160-2h0m3 4h0m2 0h0m10-1h0m1-1h0m3 2h0m9 1h0m7-1h0m5-4h0m44 2h0m24-2h0m18 2h0m9 3h0m23-1h0m15 0h0m3-1h0m3 2h0m6-4h0m-3168 6h0m2-1h0m2 1h0m2 1h0m1 3h0m1 0h0m0-3h0m2 0h0m0 2h0m1-3h0m1-1h0m0 3h0m7-2h0m1 0h0m9-1h0m3 4h0m1 0h0m6 1h0m1-4h0m7 0h0m7 4h0m8-5h0m6 2h0m9 2h0m19 1h0m11-5h0m5 4h0m6-1h0m13 0h0m3 0h0m5-3h0m3 1h0m8 0h0m4 3h0m7-4h0m3 2h0m0 3h0m1-2h0m3-3h0m1 2h0m2-2h0m173 0h0m2 1h0m6 3h0m4-3h0m2 2h0m8-2h0m3 1h0m8 1h0m13-2h0m21 3h0m11-3h0m17-1h0m7 4h0m17-3h0m25-1h0m1 5h0m4-2h0m18 1h0m3-1h0m3-3h0m2128 0h0m2 2h0m5 2h0m8 0h0m3 1h0m1-4h0m0 3h0m11-4h0m0 4h0m1 0h0m51-1h0m20 2h0m44-1h0m14-1h0m6-3h0m181 1h0m3 3h0m1 0h0m0-2h0m3 0h0m7-2h0m7 4h0m66-1h0m8 0h0m9-2h0m37 4h0m2-4h0m6 3h0m1-2h0m8 0h0m3 3h0m4-2h0m4-3h0m-3152 8h0m1 0h0m1-2h0m3 3h0m1-3h0m4 4h0m0 0h0m3-3h0m0 4h0m1-5h0m2 0h0m6 2h0m3 2h0m3 1h0m1-2h0m1-2h0m2 0h0m4 2h0m8 1h0m4 0h0m3-1h0m6 2h0m3-2h0m13 0h0m12 2h0m11-5h0m2 5h0m9 0h0m2 0h0m5-4h0m1 0h0m2 4h0m6-2h0m1-2h0m2 3h0m3-3h0m2 2h0m3-2h0m1 2h0m1-3h0m2 0h0m4 4h0m1 1h0m3 0h0m2-1h0m0 0h0m0-1h0m3-2h0m0-1h0m3 0h0m0 0h0m193 1h0m2 0h0m1 2h0m6-3h0m5 1h0m0 1h0m8 0h0m12-1h0m1 2h0m1-1h0m6 1h0m1-1h0m29 3h0m5-5h0m29 5h0m7-2h0m7-1h0m6-2h0m11 4h0m1-2h0m9 1h0m5-2h0m1-1h0m2145 1h0m3 1h0m5 3h0m4 0h0m1-3h0m11-1h0m12-1h0m7 1h0m29 4h0m52-4h0m10 2h0m2 1h0m3-2h0m13-1h0m191-1h0m5 2h0m0-2h0m6 5h0m5-3h0m4-2h0m5 1h0m13 4h0m2-5h0m2 5h0m5-3h0m7-2h0m44 5h0m7-5h0m35 4h0m12 0h0m-3133 2h0m4 1h0m4-1h0m1 3h0m1-1h0m1-1h0m1 4h0m0 0h0m0-4h0m1 4h0m0-2h0m1-2h0m3 3h0m1-3h0m2 1h0m2 3h0m4-5h0m0 1h0m5 3h0m2-2h0m9 1h0m2-1h0m9-1h0m12 4h0m2-5h0m4 2h0m0-1h0m1 1h0m2-1h0m1 4h0m2-1h0m2 0h0m5-1h0m1-1h0m2 3h0m2-2h0m0 1h0m0 1h0m1-4h0m5 4h0m1-1h0m0-1h0m1-3h0m0 1h0m1-1h0m2 5h0m4-1h0m0 0h0m5-1h0m3-3h0m2 5h0m1-4h0m1 3h0m1-3h0m1 1h0m2-2h0m4 3h0m1 2h0m0 0h0m0-1h0m1-1h0m0 2h0m3-4h0m1 2h0m1-3h0m1 2h0m0 1h0m1-1h0m2-2h0m211 0h0m4 2h0m5-2h0m2 4h0m5-3h0m7 0h0m0-1h0m10 3h0m9-1h0m1 1h0m12 2h0m33-5h0m5 2h0m3-2h0m24 2h0m0-2h0m4 5h0m1-5h0m0 1h0m5 2h0m0-1h0m3-1h0m2-1h0m1 1h0m2168 1h0m5 1h0m3 2h0m10-5h0m8 1h0m8 1h0m10 3h0m21 0h0m11-2h0m15-2h0m18 0h0m3 2h0m1 2h0m4-3h0m0 3h0m7-2h0m2 1h0m4-4h0m214 2h0m2-1h0m1 0h0m6 3h0m1-1h0m1-3h0m8 3h0m1-1h0m7-1h0m1 2h0m4 1h0m12-1h0m8 0h0m17-3h0m27 4h0m6 0h0m4-4h0m1 1h0m10 0h0m1 3h0m8 0h0m1-1h0m2-3h0m3 1h0m2-1h0m-3114 6h0m0 0h0m2 1h0m2 0h0m1 1h0m1-2h0m0 1h0m1 2h0m1-3h0m0 3h0m1-2h0m1 2h0m0 0h0m2-2h0m1 4h0m1-3h0m1 0h0m1 0h0m2 3h0m1-3h0m0 1h0m0 0h0m0 1h0m2 0h0m1 1h0m0-3h0m2-1h0m5 3h0m0-2h0m1 2h0m2 0h0m1-2h0m1 1h0m5 0h0m1 2h0m0-2h0m2-3h0m1 3h0m2-2h0m2 3h0m2-4h0m1 1h0m1 4h0m5-4h0m0 2h0m1-1h0m2 2h0m0 0h0m1-2h0m7 1h0m1 2h0m4 0h0m5-1h0m1 1h0m4-3h0m2 0h0m10 2h0m1 1h0m0 0h0m2 0h0m2-2h0m0-2h0m3-1h0m4 1h0m0 1h0m2-1h0m239-1h0m7 3h0m0-3h0m4 3h0m6-3h0m7 4h0m0-3h0m6 2h0m3 2h0m2-2h0m2-1h0m2 2h0m16 1h0m11-3h0m0 1h0m2 2h0m5-1h0m6-3h0m2-1h0m7 4h0m4 1h0m3-1h0m1 1h0m1 0h0m2-1h0m6-2h0m2196-2h0m0 1h0m5 2h0m2-2h0m4 3h0m4-1h0m0-3h0m12 5h0m8 0h0m1-4h0m3-1h0m1 2h0m9-1h0m17 0h0m0-1h0m2 4h0m7-2h0m14-1h0m0 1h0m8 2h0m1-2h0m5-1h0m239-1h0m2 0h0m7 3h0m0 1h0m11 1h0m1-5h0m0 5h0m7-5h0m8 5h0m3-1h0m4 0h0m1-2h0m14-1h0m11 1h0m15 2h0m7-2h0m0-2h0m1 1h0m1 4h0m2-4h0m1 1h0m2-1h0m4 2h0m2 0h0m1-1h0m3-1h0m1 0h0m-3080 5h0m2 1h0m0 0h0m1 0h0m2-1h0m2 0h0m3 2h0m1 0h0m1-1h0m3 2h0m3 0h0m2 0h0m2 0h0m2-1h0m1-2h0m1 1h0m3 0h0m3 4h0m1-1h0m1 0h0m4 1h0m0-2h0m2 2h0m1-1h0m1-2h0m1-2h0m3 2h0m1 3h0m0-3h0m0 3h0m1-5h0m1 2h0m1 3h0m1-1h0m0-4h0m0 0h0m2 5h0m5-3h0m1 1h0m1 0h0m3-1h0m4-2h0m2 0h0m2 1h0m0 0h0m4-1h0m270 1h0m1 0h0m6 1h0m1-1h0m4 1h0m0 1h0m7 1h0m2-2h0m0 2h0m3 0h0m3-1h0m2 1h0m0-1h0m1 2h0m0-2h0m1-2h0m0 0h0m0 3h0m4 0h0m0-1h0m1 2h0m0 0h0m5-5h0m1 4h0m7 0h0m3 1h0m2-1h0m1-3h0m3 2h0m0 1h0m3-1h0m3 0h0m5-2h0m5-1h0m2226 0h0m1 0h0m5 1h0m4 0h0m7 3h0m2 0h0m7 1h0m3-1h0m1-2h0m3 1h0m3 2h0m5-1h0m4 1h0m5-1h0m1-1h0m8 0h0m0-1h0m7 0h0m4-1h0m5-1h0m276 2h0m9 2h0m4 0h0m6 0h0m6 0h0m3-1h0m0 2h0m1 0h0m2 0h0m3-1h0m1-3h0m3-1h0m5 3h0m0 0h0m3 2h0m2-4h0m1-1h0m4 3h0m7-1h0m2-2h0m2 2h0m2-1h0m1-1h0m-3024 6h0m-20 29h0m1-1h0m1 0h0m0 1h0m5 0h0m1 0h0m2-2h0m3 1h0m5-1h0m14 1h0m3 1h0m2 0h0m4 0h0m313-2h0m6 0h0m2 1h0m6 0h0m7 1h0m2265 0h0m5-1h0m1 1h0m6-1h0m0 0h0m1 1h0m2-1h0m2-1h0m6 0h0m1 1h0m7 1h0m4-1h0m0-1h0m7 1h0m4 1h0m299 0h0m4 0h0m2-1h0m2 0h0m2 1h0m2 0h0m0 0h0m3-1h0m5-1h0m3 0h0m6 1h0m3 0h0m4 1h0m5-1h0m2 1h0m-3057 6h0m1 0h0m5-2h0m1 1h0m5-2h0m7-1h0m0 0h0m5-1h0m8 1h0m1-1h0m4 5h0m1-4h0m0 0h0m4 2h0m3 0h0m11-2h0m2 3h0m1-4h0m0 4h0m3 1h0m10-5h0m0 0h0m5 2h0m6 0h0m5 2h0m264 1h0m8-4h0m4 1h0m3-1h0m5 1h0m3-1h0m15 4h0m25-5h0m6 4h0m6 0h0m6-1h0m0 0h0m2217 0h0m2 0h0m0 2h0m2-1h0m4-1h0m5-1h0m5 1h0m9 0h0m14-3h0m11 2h0m2 0h0m9 2h0m2-3h0m1-1h0m6 2h0m3 0h0m1 1h0m2 1h0m1-1h0m3 2h0m4-1h0m254 1h0m1-1h0m5 1h0m4-1h0m1-1h0m3 0h0m1 2h0m4-4h0m3 2h0m0 0h0m2-3h0m1 1h0m4 2h0m7-1h0m0-2h0m4 0h0m2 5h0m2 0h0m0-2h0m6-3h0m4 1h0m2-1h0m1 0h0m4 3h0m0-1h0m5-1h0m1 3h0m3-3h0m0 3h0m3-4h0m4 3h0m1-2h0m1 1h0m4 3h0m1-2h0m1 0h0m0-1h0m5 3h0m3-1h0m-3097 7h0m5-2h0m5 1h0m0-3h0m12 1h0m10 2h0m2-4h0m9 2h0m8-1h0m5 3h0m15-1h0m2-3h0m0 5h0m12 0h0m10-5h0m5 5h0m1-5h0m3 4h0m2-3h0m5 2h0m9 2h0m233 0h0m7-4h0m38 1h0m39-1h0m4 3h0m8-3h0m2196 3h0m4-1h0m1 2h0m4-3h0m4 1h0m3-3h0m4 0h0m1 2h0m5 2h0m16 1h0m12-5h0m8 0h0m11 0h0m1 3h0m18 1h0m9-4h0m5 2h0m3-2h0m0 1h0m5 1h0m5 2h0m2 0h0m2 1h0m220 0h0m2 0h0m3-1h0m1 0h0m3-3h0m1 2h0m1 0h0m1-3h0m1 0h0m0 0h0m4 3h0m2-3h0m0 5h0m4-5h0m1 2h0m1-2h0m10 4h0m2 1h0m3-2h0m5-3h0m7 2h0m5 1h0m1-2h0m9 1h0m7 1h0m6-3h0m5 4h0m5 1h0m21-4h0m3 2h0m2-2h0m4 3h0m1 0h0m-3120 6h0m5-3h0m5-1h0m17 4h0m10-1h0m12-3h0m9 2h0m21 3h0m19-5h0m2 5h0m9-2h0m13 0h0m13-3h0m4 4h0m4 0h0m203 0h0m8-4h0m122 0h0m7 4h0m2161 1h0m7-2h0m1-1h0m3 3h0m12-2h0m4-3h0m35 2h0m23-2h0m42 4h0m9 1h0m1-4h0m1 2h0m5 1h0m207-1h0m2 0h0m3 0h0m5 2h0m17-4h0m1 1h0m25 0h0m10-2h0m48 0h0m8 4h0m0-4h0m5 1h0m3 0h0m2-1h0m2 0h0m1 1h0m1 3h0m2 0h0m4 0h0m1 0h0m-3145 7h0m6-3h0m1 1h0m4 1h0m0-3h0m4 4h0m11-5h0m14 5h0m34-2h0m9-2h0m39 2h0m34-1h0m1-1h0m3 3h0m192 0h0m55-1h0m12 1h0m34 1h0m37-3h0m10-1h0m7 3h0m1-1h0m1 2h0m2137 0h0m3-2h0m8 0h0m6-1h0m12-2h0m24 2h0m9 0h0m12 2h0m14-1h0m40-3h0m13 2h0m6 0h0m4-2h0m2 5h0m3-4h0m1 0h0m2 3h0m2 1h0m3 0h0m184-1h0m2-3h0m1 2h0m0 2h0m5-3h0m5-1h0m1-1h0m3 1h0m2 2h0m2-1h0m11-1h0m4 4h0m16 0h0m16-4h0m7 1h0m21 1h0m10-2h0m24 3h0m8-3h0m0-1h0m2 3h0m1 0h0m1-1h0m0 1h0m4 1h0m4-1h0m3-3h0m1 5h0m3-1h0m-3158 7h0m4-1h0m7 1h0m98-2h0m8-3h0m6 4h0m26-1h0m0-2h0m1-1h0m2 3h0m5 2h0m2 0h0m2-3h0m7-2h0m1 0h0m5 1h0m1 1h0m4 3h0m175-5h0m4 4h0m7-3h0m79 1h0m27-2h0m38 5h0m6-2h0m7 2h0m2122 0h0m4-1h0m1 1h0m2-5h0m2 0h0m4 0h0m7 4h0m11-4h0m10 2h0m12-2h0m64 2h0m35-2h0m2 0h0m18 2h0m2-2h0m1 1h0m2 1h0m2 3h0m167 0h0m3-2h0m5-2h0m2 1h0m0 1h0m11 0h0m22 2h0m13-2h0m21-2h0m8 2h0m8-3h0m20 2h0m21 3h0m18-1h0m12 0h0m2-3h0m4 3h0m3-3h0m0-1h0m0 4h0m3-1h0m3 2h0m-3177 6h0m1-1h0m2 0h0m3-3h0m4 2h0m43 2h0m19 0h0m17-1h0m8-3h0m41 4h0m35-5h0m7 1h0m5-1h0m4 1h0m2 2h0m155 2h0m7-5h0m45 3h0m23 0h0m12 1h0m55-1h0m19-3h0m27 4h0m0-4h0m2112 4h0m1 0h0m5-3h0m0 1h0m16-1h0m34 4h0m9-2h0m44-1h0m8 1h0m12-2h0m14 1h0m17 2h0m18 1h0m0-3h0m6-2h0m1 0h0m4 2h0m157 1h0m1 2h0m1-2h0m3-3h0m2 5h0m0-1h0m1-2h0m1 1h0m6-3h0m0 5h0m0-4h0m26 2h0m14-1h0m12 0h0m8 0h0m17 3h0m7-1h0m6-1h0m23-2h0m7 2h0m33 1h0m12-1h0m1 2h0m7-3h0m1 1h0m-3184 6h0m2-1h0m11 2h0m8-4h0m9 4h0m7-3h0m44 2h0m16 1h0m12 1h0m13-4h0m32 0h0m27 1h0m17-1h0m0 0h0m5 4h0m143-3h0m5-2h0m7 4h0m2-3h0m95 4h0m27-2h0m19-3h0m10 4h0m32-3h0m2100 3h0m2-2h0m1 2h0m1-1h0m7-2h0m35 3h0m26 0h0m8-2h0m9 0h0m25 3h0m28-3h0m12 1h0m24 1h0m20-1h0m4-2h0m2 3h0m1 0h0m142-1h0m2 0h0m0-3h0m7 0h0m0 3h0m1-1h0m1 0h0m25 0h0m41 2h0m27 1h0m25-4h0m20 3h0m7 1h0m32-4h0m4 1h0m6 0h0m1-1h0m5 4h0m-3201 5h0m3-4h0m0 2h0m3 3h0m8-3h0m60 2h0m69-3h0m9 0h0m14 0h0m29 4h0m14-2h0m5 0h0m0 0h0m133 1h0m3-1h0m11-3h0m51 1h0m34 1h0m97 0h0m9-2h0m5 0h0m2090 1h0m0 4h0m1-3h0m24 3h0m31-3h0m97 1h0m8 0h0m11-2h0m34 0h0m2 2h0m4 0h0m134-2h0m0 4h0m5-3h0m4 3h0m22-5h0m5 3h0m9-2h0m6 2h0m9 1h0m35-2h0m22-1h0m10 4h0m13-4h0m35 1h0m6-1h0m16-1h0m2 4h0m1 1h0m3-3h0m6 1h0m1 1h0m2-1h0m-3202 7h0m24-3h0m32 3h0m25-4h0m21 1h0m22-1h0m12 3h0m24-1h0m9-1h0m10 1h0m18-1h0m5 4h0m3-5h0m9 5h0m3 0h0m122-2h0m17-2h0m12 0h0m11 1h0m44 1h0m38 1h0m26-2h0m71-1h0m2 3h0m0-2h0m2076 3h0m2-2h0m1-1h0m1-2h0m2 1h0m10 2h0m1-1h0m33 3h0m9-2h0m81 1h0m14-2h0m22 0h0m14 1h0m24-2h0m1 3h0m4 1h0m3-3h0m2 0h0m2 3h0m2 0h0m118-1h0m1 0h0m4-4h0m1 3h0m3-3h0m2 4h0m0-3h0m1-1h0m0 0h0m3 1h0m1 3h0m1-2h0m4 3h0m21-1h0m9-2h0m22 1h0m28 1h0m11-3h0m12 1h0m50 2h0m39-4h0m0 4h0m4-4h0m4 0h0m2 1h0m0 1h0m1-1h0m1 4h0m0-1h0m-3218 3h0m1 0h0m17-1h0m10 5h0m28-5h0m84 0h0m23 2h0m27 3h0m32-5h0m8 5h0m2-1h0m122 0h0m56-4h0m44 2h0m30-1h0m44 2h0m45 0h0m2072-1h0m12 0h0m1-1h0m54 1h0m29 0h0m40-1h0m14 4h0m19-3h0m13 1h0m29-1h0m9-2h0m3 0h0m5 0h0m1 1h0m114 4h0m8-2h0m49 0h0m8 1h0m7-2h0m44 1h0m15-1h0m32 3h0m25-3h0m32 1h0m7 0h0m3-3h0m2 0h0m0 0h0m1 3h0m1-1h0m1 2h0m-3226 2h0m0 2h0m1-1h0m0 4h0m5-5h0m2 2h0m2 3h0m4-2h0m75 2h0m15-4h0m10 1h0m37 2h0m24-2h0m33 0h0m25 2h0m6-1h0m130-1h0m32-1h0m24 3h0m82 0h0m34-1h0m16-3h0m20 5h0m1-2h0m4-1h0m2059 3h0m5-4h0m6 1h0m64 1h0m7-3h0m7 4h0m94-3h0m13 4h0m12-1h0m22-1h0m1-2h0m10-1h0m2 4h0m104 1h0m1-3h0m0 2h0m3-4h0m2 1h0m17 3h0m6-4h0m32 4h0m27 1h0m12-3h0m19 1h0m7 1h0m8-1h0m10 0h0m7-1h0m14 3h0m23-4h0m10 1h0m13-2h0m18 3h0m7-1h0m3-2h0m3 4h0m0-1h0m-3237 6h0m1 1h0m3-3h0m5 1h0m6 2h0m2-3h0m24 3h0m76-3h0m18 4h0m12-2h0m17 0h0m19 2h0m9-2h0m10-1h0m7-1h0m30 2h0m9 1h0m1-1h0m100-3h0m2 2h0m34-1h0m15 2h0m15 0h0m10 2h0m35-4h0m10 1h0m57-1h0m12 4h0m23 0h0m11-4h0m15 2h0m0 1h0m5-2h0m1 3h0m2051 0h0m2-5h0m13 2h0m28-2h0m44 5h0m22-5h0m32 0h0m34 4h0m14-2h0m31-1h0m24-1h0m0 2h0m3 1h0m2 1h0m1-1h0m97-1h0m1-1h0m4 4h0m3-3h0m12-1h0m39 4h0m18-2h0m22 1h0m45-2h0m11 1h0m8 0h0m40-1h0m13 3h0m10-4h0m19 1h0m0 1h0m2 1h0m1-2h0m-3243 9h0m3-5h0m8 5h0m3-5h0m38 2h0m15-2h0m65 3h0m67 2h0m17-1h0m11 0h0m14-1h0m6-1h0m5-2h0m2 4h0m94 1h0m11-4h0m15 1h0m15 3h0m194-1h0m17-1h0m2045 1h0m31 0h0m70-2h0m102-2h0m10 1h0m9 1h0m9 1h0m8-2h0m16 1h0m2 2h0m89-1h0m2-3h0m1 2h0m1-1h0m4 0h0m30 1h0m85 1h0m28-1h0m61-1h0m29 0h0m4 4h0m8 0h0m-3246 4h0m2 0h0m4 2h0m27-1h0m8-4h0m42 3h0m34-2h0m32 3h0m7-2h0m19 0h0m43 3h0m16-1h0m12 0h0m9 1h0m4-4h0m2 4h0m88-5h0m7 3h0m2-3h0m88 0h0m11 5h0m12-2h0m57-1h0m19 3h0m12-3h0m11 3h0m39 0h0m2038-2h0m6 0h0m35 0h0m37 0h0m17-1h0m32-1h0m20 3h0m18-2h0m11-1h0m28 1h0m37 2h0m16-4h0m2 0h0m1 4h0m85 0h0m7-2h0m5 3h0m71 0h0m48-3h0m18-2h0m13 2h0m17 0h0m20-2h0m37 4h0m14-4h0m3 1h0m2-1h0m2 2h0m1 2h0m2-2h0m2 3h0m-3254 4h0m6-3h0m4 1h0m110 2h0m15 1h0m28 1h0m12 0h0m11-3h0m12-1h0m9 0h0m48 1h0m2 1h0m2 2h0m4-3h0m2 3h0m81-5h0m1 0h0m4 2h0m30-1h0m23-1h0m12 3h0m14-2h0m89 2h0m86-1h0m5 3h0m2037-4h0m11 1h0m8 3h0m21 0h0m70-4h0m76 4h0m7-5h0m8 3h0m9-3h0m14 0h0m10 1h0m22 1h0m6-2h0m0 0h0m1 1h0m80 3h0m4 0h0m0-4h0m2 4h0m3 1h0m20-2h0m11 2h0m66-5h0m7 3h0m7 1h0m15 0h0m5-4h0m9 5h0m54-2h0m7 1h0m43-3h0m5 2h0m1-1h0m2-1h0m3-1h0m1 2h0m0-2h0m2 5h0m-3260 5h0m2-1h0m1 0h0m10-1h0m19-2h0m36 2h0m18-1h0m17 2h0m19 2h0m63-3h0m14 3h0m6-4h0m16-1h0m23 2h0m10 0h0m16 2h0m77-3h0m4 3h0m6-3h0m4 2h0m79-1h0m12-2h0m13 3h0m38-3h0m39 4h0m50-1h0m18 1h0m5 0h0m2029 0h0m2-2h0m0-1h0m1 1h0m9-2h0m81 5h0m88 0h0m20-4h0m35 2h0m24 0h0m6-1h0m1-2h0m80 2h0m1 0h0m1 1h0m3-1h0m11-2h0m33 0h0m18 4h0m40-3h0m40 3h0m43 0h0m37 0h0m29-1h0m9 0h0m6 2h0m-3264 4h0m0-3h0m3 3h0m3-3h0m12 3h0m30-2h0m52 2h0m43-1h0m33-1h0m42-1h0m11 4h0m9-1h0m12-1h0m9 1h0m2 0h0m4 0h0m6 1h0m77-1h0m37-2h0m44 4h0m48-4h0m13-1h0m27 0h0m11 3h0m51-2h0m2067 1h0m0 0h0m9-1h0m9 0h0m33 1h0m68 1h0m18-1h0m8-1h0m10 3h0m37-3h0m10 2h0m13-3h0m11 1h0m19 3h0m7 1h0m19-3h0m1-2h0m72 4h0m1-1h0m0 1h0m3-2h0m0 3h0m1-1h0m5-4h0m3 0h0m2 5h0m7 0h0m11-5h0m22 1h0m7-1h0m15 2h0m30 2h0m11-1h0m13-3h0m48 2h0m14 3h0m41-1h0m7-3h0m16 4h0m12-5h0m1 2h0m1 1h0m0-2h0m2 1h0m2 3h0m0-3h0m-3267 5h0m2 1h0m5-2h0m3 1h0m6 2h0m48 1h0m54 0h0m20-2h0m35-1h0m12 1h0m7 0h0m9-2h0m9 2h0m8 0h0m7 3h0m41-2h0m11 0h0m1 2h0m0-3h0m67 2h0m2-3h0m2 3h0m6-1h0m15-2h0m28 0h0m17-1h0m54 1h0m50 3h0m72-2h0m19 0h0m9 1h0m2027 0h0m1 1h0m2 0h0m124-2h0m8 1h0m16 0h0m11 1h0m17-2h0m7-2h0m9 3h0m9 2h0m34-2h0m28 1h0m7 1h0m4-3h0m1 3h0m67-2h0m2-1h0m1 3h0m3-5h0m1 0h0m2 0h0m2 2h0m0 0h0m3 3h0m23 0h0m56-2h0m94-1h0m16-2h0m13 4h0m29-3h0m6 0h0m15 4h0m6-3h0m3-2h0m1 0h0m-3268 9h0m2 0h0m1-3h0m6 4h0m23-3h0m22 1h0m18 0h0m8-1h0m10 0h0m37 0h0m52 2h0m19-2h0m54 1h0m28 2h0m66-3h0m3 1h0m5 3h0m26-1h0m62-1h0m65-3h0m27 2h0m10-1h0m14 1h0m68 1h0m2019-1h0m1 3h0m1-2h0m4 2h0m7-4h0m27 2h0m62 0h0m87-1h0m25 1h0m17 2h0m8 0h0m23-5h0m7 5h0m5-4h0m6 4h0m1-1h0m65-2h0m6 2h0m4-1h0m16 2h0m28-5h0m9 2h0m11-1h0m55 4h0m66-4h0m11 1h0m18-1h0m10 3h0m6-2h0m12 1h0m18-3h0m7 2h0m1-2h0m0 4h0m0-3h0m2-1h0m-3271 8h0m0 0h0m6 1h0m1 2h0m1-3h0m3-2h0m7 4h0m25-4h0m59 1h0m19 2h0m26-2h0m7 0h0m33-1h0m89 1h0m0 4h0m3-1h0m66-2h0m7 0h0m71 0h0m42 1h0m11-1h0m16 1h0m11 1h0m10 1h0m13-2h0m60-2h0m16 4h0m16-3h0m5-2h0m1 2h0m3 2h0m2018-3h0m5 1h0m2-1h0m3 0h0m11 0h0m31 1h0m14 1h0m89-2h0m10-1h0m25 5h0m7-5h0m7 4h0m73 1h0m5-1h0m62 1h0m9-1h0m3-2h0m2-1h0m7 4h0m14-4h0m27 4h0m29 0h0m43 0h0m68-5h0m30 4h0m11 0h0m25-4h0m5 0h0m2 3h0m2-3h0m0 5h0m4-2h0m1-3h0m0 5h0m-3273 1h0m2 2h0m6-1h0m3 4h0m2-3h0m20-2h0m26 0h0m44 3h0m30-1h0m90 0h0m21 3h0m9-2h0m8-2h0m12 2h0m1-1h0m0-2h0m11 5h0m61-1h0m17-3h0m29 4h0m14-4h0m11 3h0m27-2h0m17 3h0m79-5h0m12 2h0m21 0h0m57 3h0m2015-5h0m7 3h0m22-3h0m31 2h0m46 0h0m11-2h0m11 2h0m20 3h0m29-2h0m39-3h0m34 1h0m25 4h0m5-3h0m2 2h0m0-2h0m2 0h0m1 3h0m61-4h0m2 3h0m8-1h0m2 1h0m16-1h0m226-2h0m25 2h0m2 0h0m2 0h0m1-2h0m1 4h0m-3276 3h0m7 2h0m9-1h0m26-3h0m7 3h0m13 2h0m7-3h0m9-2h0m9 0h0m9 1h0m28 4h0m45 0h0m41-3h0m51 1h0m18-2h0m6 3h0m0-1h0m64-3h0m0 5h0m9 0h0m45-1h0m48-1h0m20 0h0m19-3h0m10 1h0m13 2h0m12 1h0m62-2h0m29-2h0m12 2h0m2017-2h0m3 0h0m7 2h0m1-1h0m4 4h0m35-2h0m17 1h0m6-2h0m62 3h0m49-4h0m95 4h0m66-3h0m1-1h0m1 0h0m3-1h0m0 2h0m16-2h0m5 5h0m107-1h0m41-4h0m45 1h0m17 1h0m12 0h0m17-1h0m7 4h0m3-3h0m1-2h0m2 1h0m6 3h0m2-4h0m-3277 6h0m46 3h0m31-1h0m9 1h0m8 0h0m18-1h0m22 0h0m18 1h0m10 1h0m37-2h0m20 0h0m27 3h0m13-1h0m18-1h0m4 0h0m5 1h0m62 1h0m23-3h0m95 3h0m16-4h0m110 4h0m37-1h0m2-1h0m2014-1h0m3 2h0m1-1h0m6-3h0m53 4h0m10-1h0m7 1h0m13-2h0m9 1h0m28 1h0m117-3h0m6 4h0m23-2h0m10 0h0m0 0h0m0-1h0m1-2h0m58 0h0m1 4h0m1 0h0m3 0h0m2-3h0m1-1h0m115 3h0m121-3h0m9 5h0m5-4h0m21 2h0m0 2h0m8-4h0m1-1h0m0 4h0m-3278 3h0m4-1h0m9 1h0m17 2h0m126 2h0m26-3h0m85-1h0m19 3h0m62-3h0m6 4h0m48 0h0m18-3h0m69 1h0m10-3h0m52 1h0m30-1h0m33 0h0m18 2h0m2015 0h0m5 0h0m5 3h0m20-4h0m18 0h0m62 4h0m31-2h0m13-1h0m14 3h0m9-3h0m31 1h0m8 0h0m18-2h0m28 4h0m20-5h0m2 3h0m0 2h0m60-3h0m4-2h0m46 2h0m40-2h0m34 5h0m19-2h0m32-2h0m21 1h0m64-1h0m12 0h0m7 2h0m4-1h0m1-2h0m1 3h0m1-2h0m0 4h0m1-5h0m-3279 6h0m1 0h0m3 5h0m5-5h0m1 4h0m75-3h0m17 2h0m9 2h0m66-2h0m13-2h0m13 1h0m12-2h0m9 1h0m29 0h0m10 1h0m9 2h0m4 1h0m2-4h0m0 0h0m4 3h0m1-4h0m4 5h0m60-2h0m43-1h0m51 0h0m18 0h0m15 0h0m36-2h0m27 0h0m71 3h0m23-3h0m2015 1h0m4 4h0m2-1h0m24-1h0m12-3h0m7 4h0m22-2h0m48 1h0m11-1h0m7-1h0m14 1h0m51 1h0m33 2h0m13-4h0m31 0h0m2 4h0m4-1h0m62-2h0m4 1h0m19-1h0m63 2h0m7-4h0m39 2h0m52 3h0m29-3h0m8-1h0m29 2h0m7 2h0m9-3h0m10 2h0m1-3h0m3 1h0m-3268 4h0m5 2h0m51 3h0m17 0h0m8-1h0m10-2h0m11 3h0m16-3h0m22 0h0m15 2h0m34-1h0m41-3h0m6 5h0m43 0h0m3-1h0m60 0h0m61 0h0m18-2h0m99-1h0m17 3h0m32-3h0m48 3h0m2024-2h0m4-2h0m57 4h0m9 1h0m9 0h0m22-3h0m25 0h0m10 2h0m59 0h0m34 1h0m31-3h0m27 1h0m59-3h0m0 0h0m2 1h0m6-1h0m35 4h0m19 1h0m48-5h0m106 3h0m23-2h0m31 1h0m6 1h0m3 1h0m6 0h0m-3276 3h0m2 2h0m8 2h0m42-5h0m15 3h0m61-2h0m18 3h0m30-4h0m20 5h0m11-3h0m13 2h0m31-2h0m20 3h0m9-4h0m6 2h0m64-1h0m5 0h0m10 3h0m76-5h0m35 2h0m30 0h0m48 1h0m71 2h0m6-2h0m2017 2h0m0-1h0m3-2h0m0-1h0m2 2h0m2 1h0m6 0h0m10-3h0m9 2h0m9 2h0m96 0h0m80-4h0m19 3h0m14 1h0m22-2h0m5-3h0m3 0h0m3 4h0m60-3h0m2 0h0m3 4h0m9-3h0m22-1h0m47 1h0m26 2h0m23-4h0m78 5h0m26 0h0m19-5h0m12 4h0m11 1h0m5-5h0m1 3h0m0 1h0m2-3h0m-3276 7h0m3 0h0m3-2h0m4 0h0m4 1h0m10 0h0m27 4h0m20-2h0m9 0h0m41 1h0m8-1h0m12 2h0m11-2h0m9 2h0m8-3h0m7 1h0m37-2h0m69 3h0m65-2h0m2 3h0m42-5h0m28 4h0m12-4h0m65 0h0m18 3h0m10-2h0m11 3h0m89-4h0m2022 2h0m27 0h0m25 0h0m7 2h0m16-2h0m18 0h0m9 3h0m15 0h0m28 0h0m15-3h0m123 3h0m0-3h0m63-1h0m1 1h0m7 1h0m3 0h0m28-1h0m13-2h0m7 1h0m37 3h0m57-3h0m15 3h0m26-1h0m24 0h0m27 2h0m12-5h0m13 4h0m2-2h0m3-2h0m4 4h0m1-1h0m2-3h0m-3272 7h0m5 2h0m81 2h0m38-1h0m146 1h0m5 0h0m0 0h0m4-1h0m67-1h0m15 2h0m18-4h0m22 1h0m34 0h0m11-1h0m16 2h0m18-1h0m70-1h0m52-1h0m11 3h0m8-3h0m1 5h0m5-5h0m2018 0h0m1 5h0m17-5h0m8 5h0m8-4h0m43 2h0m9-3h0m23 1h0m27 0h0m17-1h0m41 2h0m10 0h0m19 1h0m7-1h0m12-2h0m24 2h0m12 3h0m0-4h0m2 3h0m66-4h0m5 0h0m4 0h0m5 3h0m27-1h0m41 0h0m7 1h0m32 1h0m31-3h0m32-1h0m19 2h0m8-1h0m8 3h0m35 1h0m14-1h0m4 1h0m0-2h0m2 0h0m6-1h0m-3269 9h0m43-4h0m11-1h0m18 0h0m35 3h0m28-2h0m12 0h0m9 0h0m45 4h0m14-3h0m9-2h0m11 5h0m16-3h0m20 2h0m5 1h0m72-1h0m20-1h0m58 2h0m73 0h0m19-5h0m44 3h0m13-2h0m13-1h0m33 0h0m2023 3h0m4 0h0m6 2h0m75-3h0m23 2h0m6-3h0m32-1h0m42 2h0m49 1h0m34-3h0m2 4h0m4 1h0m1-1h0m0 0h0m68-4h0m0 4h0m2-1h0m6-2h0m9 3h0m19-3h0m66 0h0m10 0h0m16-1h0m8 5h0m7-1h0m14-2h0m8-2h0m14 0h0m15 0h0m18 2h0m30 3h0m30 0h0m2-5h0m3 5h0m-3267 1h0m15 3h0m15-3h0m26 3h0m9-1h0m12 0h0m71 0h0m9 0h0m22-2h0m29 1h0m9 2h0m57 1h0m75 1h0m3-4h0m37 0h0m10 3h0m45 1h0m31 0h0m70-5h0m50 1h0m19 4h0m6-4h0m2027 4h0m1-5h0m9 0h0m9 2h0m39-1h0m27 3h0m35-4h0m63 4h0m30 1h0m19 0h0m9-2h0m29 2h0m3-3h0m1 0h0m70-2h0m1 4h0m1-4h0m0 5h0m20-1h0m6-3h0m6 4h0m14 0h0m7-2h0m50-3h0m18 0h0m93 1h0m7 3h0m28-2h0m12 2h0m2 0h0m9 0h0m-3262 3h0m1 1h0m4 2h0m16-4h0m26 2h0m37-2h0m23 0h0m48 5h0m6-4h0m11 2h0m7-1h0m15-2h0m29 0h0m44 2h0m3 2h0m80 0h0m16-3h0m13 3h0m50-2h0m24-2h0m61 0h0m65 5h0m35-4h0m1 3h0m2031-4h0m1 4h0m0-1h0m1-2h0m1 2h0m18 1h0m15-4h0m13 4h0m37 1h0m30-1h0m10 1h0m17-1h0m27-4h0m32 0h0m63 3h0m3-2h0m0 3h0m77-2h0m1 2h0m5 0h0m2-4h0m46 4h0m10-3h0m28 1h0m12 2h0m7-2h0m47 0h0m22 2h0m9-4h0m12 0h0m14 3h0m11 0h0m8-1h0m30 0h0m2 1h0m4-2h0m-3259 9h0m0-4h0m7 4h0m5-2h0m22 2h0m17 0h0m31-1h0m9 1h0m26-4h0m8 3h0m9 0h0m11-3h0m44 1h0m66 2h0m3-3h0m4 0h0m2 5h0m2-3h0m2-2h0m86 0h0m41 4h0m43 1h0m21-3h0m36 0h0m13 3h0m15-5h0m21 1h0m48-1h0m8 5h0m2-1h0m8 0h0m2034-3h0m1 0h0m1 4h0m10-2h0m4 1h0m26-2h0m15 2h0m10-4h0m34 1h0m44 4h0m27-3h0m34-1h0m54 1h0m3 1h0m2-2h0m81 1h0m3-2h0m1 2h0m17 3h0m11-2h0m29 1h0m56 0h0m12-3h0m9 0h0m10 2h0m15-1h0m22 3h0m45-1h0m19 1h0m14-5h0m2 1h0m0-1h0m2 2h0m0-2h0m0 0h0m-3253 10h0m2 0h0m1-2h0m9 0h0m48 3h0m7-2h0m27 0h0m9-2h0m8 1h0m42-1h0m46-1h0m37 0h0m11 4h0m12-3h0m91-1h0m55 1h0m169 3h0m28-1h0m2041-2h0m1 2h0m4-3h0m5 0h0m20 0h0m31 3h0m9 2h0m10-4h0m20 2h0m19-2h0m11 2h0m93-1h0m35-2h0m4 3h0m1-2h0m85 4h0m3 0h0m43-5h0m35 5h0m18-5h0m16 4h0m37-3h0m36 2h0m26 2h0m34-4h0m11 2h0m-3248 8h0m1 0h0m0-2h0m0 0h0m2-3h0m6 5h0m1-3h0m0 2h0m3-2h0m0 0h0m24 0h0m7 1h0m6-3h0m44 5h0m29-2h0m11-2h0m9 0h0m5 4h0m8 0h0m60-5h0m32 2h0m0-2h0m2 2h0m1 1h0m4-2h0m89 0h0m3 0h0m2 1h0m4 1h0m15 2h0m12-3h0m36 0h0m67-2h0m26 2h0m31 0h0m14 2h0m43 1h0m2049 0h0m3-1h0m27-3h0m11 0h0m17 3h0m26-4h0m14 5h0m16 0h0m25-4h0m71 1h0m45-1h0m90 3h0m5 0h0m5-2h0m18-2h0m10 5h0m32-1h0m13 1h0m6-2h0m43-3h0m28 4h0m20 0h0m8 1h0m61-1h0m0 1h0m3 0h0m3-4h0m-3241 6h0m1 1h0m8 1h0m8 1h0m12-1h0m22 1h0m8-1h0m9 0h0m57-2h0m68 1h0m48 1h0m7-3h0m144 3h0m52-2h0m41 3h0m79-1h0m25 2h0m3-5h0m2053 3h0m2-2h0m27 4h0m7-2h0m9 0h0m17-2h0m12 2h0m11 0h0m41-1h0m33 0h0m48 2h0m11 0h0m26-4h0m1 5h0m2-4h0m0 2h0m0-1h0m97 1h0m6 1h0m4-2h0m1 0h0m59 3h0m23-2h0m8-2h0m10 0h0m20 0h0m8-1h0m31 4h0m16 1h0m17-3h0m33 1h0m10 2h0m-3231 1h0m3 2h0m6-1h0m63 0h0m8 0h0m12 3h0m17-2h0m17 2h0m35 1h0m20-1h0m10 0h0m7-4h0m10 3h0m26 1h0m0 0h0m3 0h0m109-2h0m7 3h0m50-5h0m10 3h0m35 1h0m13-4h0m30 2h0m22-2h0m9 5h0m46-1h0m2074-2h0m8-1h0m96 1h0m135 1h0m2 1h0m2-3h0m104 2h0m8 0h0m15 1h0m26-1h0m8-1h0m16 0h0m34 0h0m19-1h0m7-1h0m6 3h0m20-1h0m43 0h0m25 1h0m0 2h0m4-3h0m1-2h0m7 5h0m0 0h0m1-2h0m0-2h0m3-1h0m-3231 8h0m9 1h0m4 1h0m56-1h0m31 2h0m32-5h0m9 0h0m26 2h0m10 3h0m7 0h0m36-1h0m4 0h0m6 1h0m2-1h0m168 0h0m21 1h0m11-2h0m36-2h0m83 0h0m26-1h0m3 3h0m2065-2h0m1 0h0m7 4h0m12-2h0m25-1h0m15-1h0m6 4h0m11-5h0m22 3h0m72 2h0m32-2h0m30-1h0m113-1h0m2 4h0m0-3h0m2-2h0m9 1h0m16 0h0m35 3h0m15-4h0m5 5h0m6-3h0m10 3h0m24-3h0m21 2h0m12 0h0m7-4h0m40 1h0m19 3h0m6-1h0m3-1h0m2 0h0m0-2h0m0 3h0m-3221 4h0m12 4h0m67-1h0m29-2h0m48-2h0m8 3h0m22 1h0m23 1h0m4-4h0m4 0h0m4 2h0m3-1h0m0 2h0m126 1h0m4-3h0m11-2h0m79 4h0m12 0h0m30-4h0m13 2h0m20 1h0m21-1h0m23 2h0m7-2h0m2076-2h0m2 1h0m0 3h0m1 1h0m6-5h0m3 1h0m68 1h0m20 0h0m9 1h0m103 1h0m1-1h0m2-2h0m5-1h0m4 3h0m122-1h0m2 1h0m8-1h0m28 0h0m7 2h0m8 0h0m23 1h0m7 0h0m21-3h0m10-1h0m9 0h0m58-1h0m14 0h0m25 0h0m3 3h0m1 0h0m1-3h0m-3211 7h0m1 1h0m2 0h0m1-2h0m12 2h0m10 0h0m18 3h0m14-2h0m7-1h0m31-2h0m6 4h0m27 1h0m9-5h0m7 2h0m67 0h0m3 0h0m133 2h0m29-3h0m16 3h0m67-4h0m25 5h0m66-5h0m9 0h0m1 1h0m2085 1h0m4-2h0m18 1h0m13 1h0m16 3h0m56-1h0m7-4h0m8 2h0m56-2h0m14 5h0m15-5h0m0 0h0m4 5h0m3-3h0m1-2h0m131 3h0m3-3h0m0 3h0m1 2h0m4-2h0m18-2h0m30 0h0m17 4h0m7 0h0m18 0h0m8-4h0m20-1h0m7 1h0m9 4h0m14 0h0m21-5h0m23 0h0m2 5h0m3-2h0m1-1h0m1-2h0m0 5h0m0-5h0m2 0h0m5 0h0m1 0h0m-3202 8h0m1 2h0m7-4h0m12 5h0m4 0h0m48-4h0m13-1h0m28 2h0m20 0h0m19 0h0m18 0h0m15 3h0m14-5h0m2 2h0m1 2h0m0-3h0m1 2h0m2-3h0m140 0h0m9 4h0m11-1h0m15 1h0m31-4h0m12 0h0m30 5h0m60-5h0m19 1h0m4 2h0m5 2h0m2104-3h0m10 0h0m3 1h0m28 1h0m28-3h0m40 4h0m67-2h0m9 1h0m9-3h0m0 3h0m5-2h0m1-1h0m3 1h0m0 2h0m3-3h0m145 4h0m2-3h0m40-2h0m12 3h0m13 2h0m11-1h0m29-3h0m34 4h0m23 0h0m14 0h0m18-3h0m0-2h0m4 0h0m1 0h0m-3193 6h0m5 2h0m2-1h0m0 4h0m14-2h0m6 2h0m1-4h0m9 1h0m7 1h0m28-1h0m14 1h0m8-2h0m38 2h0m7 1h0m25 1h0m19-3h0m0 3h0m2-1h0m5-1h0m1 2h0m0-2h0m1-3h0m1 2h0m159 3h0m1 0h0m1-5h0m6 4h0m40 0h0m11 0h0m26-4h0m22 4h0m14-2h0m12 0h0m33-2h0m10 5h0m3-1h0m0 1h0m7-3h0m1 0h0m2107-2h0m1 1h0m1 0h0m1-1h0m2 4h0m5-2h0m0 1h0m10 1h0m24-1h0m26 1h0m21-2h0m41 2h0m46-1h0m2-3h0m0 5h0m2-3h0m2-2h0m3 1h0m1 2h0m2 1h0m5-3h0m151-1h0m4 0h0m0 3h0m1-1h0m0-2h0m7 5h0m3-2h0m6-2h0m7 4h0m18-2h0m40 0h0m7 0h0m17-2h0m6 3h0m6-2h0m55 3h0m6-5h0m4 5h0m6-4h0m-3174 5h0m1 4h0m1-1h0m1 2h0m0-1h0m1 1h0m0 0h0m6-5h0m1 2h0m12 2h0m21-1h0m22-2h0m16 4h0m19-3h0m16 1h0m18 0h0m18 1h0m5-4h0m2 2h0m15 0h0m172 1h0m3-1h0m23-2h0m36 5h0m30 0h0m30 0h0m15-4h0m16 4h0m2142-5h0m5 1h0m2 4h0m0-4h0m3 2h0m87-3h0m7 4h0m28 0h0m14-1h0m18 1h0m9-3h0m4 2h0m3-2h0m1 0h0m165 0h0m4 3h0m2 0h0m1 0h0m3-3h0m4 3h0m7 0h0m5 0h0m7 0h0m33-4h0m8 2h0m13 2h0m31-1h0m7-2h0m17 3h0m16-2h0m8 1h0m2 0h0m2-3h0m3 5h0m0 0h0m1-4h0m4 2h0m1-3h0m-3161 8h0m2-2h0m4 5h0m2-2h0m3 0h0m1 2h0m8-5h0m8 1h0m16 0h0m8-1h0m11 4h0m60-2h0m6 3h0m19-3h0m10 1h0m5-2h0m184-1h0m1 2h0m4 2h0m8-3h0m12 4h0m14-3h0m63-2h0m55 2h0m6-2h0m2133 0h0m5 2h0m0-1h0m12 1h0m3-1h0m0 1h0m7 2h0m8 1h0m120-5h0m5 4h0m1-1h0m188-1h0m2 2h0m3 1h0m3-4h0m10-1h0m3 5h0m0 0h0m31-3h0m14 3h0m18-4h0m8 1h0m7 0h0m8 3h0m10-1h0m6-2h0m11 2h0m3-1h0m1-1h0m9 0h0m6 3h0m2-4h0m2 3h0m1-1h0m4-2h0m-3144 6h0m3 0h0m3 4h0m12-3h0m19 0h0m7 2h0m2-3h0m10 4h0m39-4h0m7 3h0m22 0h0m8-3h0m1 4h0m3 0h0m2-1h0m4-2h0m0 0h0m201-2h0m8 4h0m9 0h0m43-1h0m19 1h0m12 1h0m32-1h0m14-1h0m2165-3h0m2 0h0m1 2h0m4 2h0m1 1h0m11 0h0m0 0h0m70-4h0m20 4h0m1-3h0m12 3h0m9-2h0m3 2h0m2 0h0m1-4h0m1 3h0m7-4h0m198 0h0m4 2h0m3-2h0m1 3h0m1 2h0m1-5h0m0 2h0m1 3h0m0-5h0m3 4h0m4 0h0m6 1h0m1-5h0m6 1h0m11 3h0m10-4h0m17 0h0m7 1h0m7 1h0m11 2h0m25 0h0m3 1h0m1-4h0m0 0h0m2 1h0m4-1h0m1 0h0m5 4h0m2-4h0m3 2h0m0 0h0m1 1h0m7-4h0m-3123 8h0m5 2h0m7-3h0m5 3h0m1-1h0m4-1h0m6 2h0m7-2h0m2 2h0m3 1h0m4-3h0m14 1h0m0 1h0m4 0h0m8-3h0m1 1h0m0 0h0m4 0h0m3 1h0m2 2h0m27-3h0m2 2h0m4-1h0m0-1h0m1-1h0m2-1h0m3 0h0m234 3h0m2-1h0m7 0h0m66 3h0m3-3h0m7-2h0m6 4h0m4-3h0m2 0h0m7 0h0m3 2h0m2186-1h0m3 1h0m8-2h0m2 4h0m10-4h0m3-1h0m4 0h0m29 5h0m36-1h0m0 1h0m1-4h0m2 2h0m1 1h0m8 1h0m3-4h0m3 3h0m0 0h0m2-1h0m3-2h0m1-1h0m224 1h0m7 3h0m1-2h0m1 3h0m2 0h0m1 0h0m2 0h0m15-5h0m4 5h0m2-2h0m5 0h0m2-1h0m0 3h0m4-1h0m4 0h0m11-1h0m9 0h0m8 1h0m0 1h0m1-2h0m7 1h0m5-2h0m5 0h0m0 3h0m0-4h0m6 3h0m3-1h0m1 0h0m0-1h0m3 3h0m1-1h0m1 1h0m5-3h0m0-1h0m-3096 5h0m7 2h0m6 0h0m4 2h0m3-2h0m9-2h0m7 4h0m8-4h0m26 2h0m3 3h0m4 0h0m3-5h0m2 4h0m6-1h0m1-1h0m5-2h0m1 0h0m255 1h0m7 2h0m16 2h0m3-5h0m1 3h0m4-1h0m14 3h0m2-2h0m8 2h0m2-3h0m3 2h0m1-3h0m3 4h0m6 0h0m14-4h0m2219 1h0m5 0h0m1 2h0m4 0h0m3-3h0m11 4h0m2-1h0m8 0h0m13 1h0m14 0h0m5-5h0m5 4h0m3-3h0m1 0h0m0 2h0m11-2h0m1 0h0m252-1h0m5 2h0m0-2h0m5 3h0m1 1h0m4-3h0m3 4h0m6-4h0m8 3h0m0-3h0m1 3h0m0 0h0m4-2h0m4 2h0m4-3h0m12 1h0m1-2h0m3 5h0m10-4h0m2 0h0m4-1h0m3 4h0m2 0h0m0-1h0m3 0h0m7-2h0m1 0h0m0 0h0m-3061 5h0m0 0h0m4 1h0m9 0h0m6 0h0m3-1h0m1 2h0m6 1h0m1-1h0m0-1h0m7 0h0m5-1h0m5 0h0m310 1h0m7-1h0m1 0h0m7 2h0m2274-2h0m3 0h0m1 1h0m6 0h0m7 1h0m0 0h0m6 0h0m6 0h0m7-1h0m5-1h0m4 0h0m6 0h0m294 0h0m5 1h0m1-1h0m5 0h0m0 1h0m7 0h0m0 1h0m0-1h0m5 1h0m0 0h0m2 0h0m4 0h0m6 0h0m7-2h0m5 0h0m5 0h0" stroke="#f0a030" stroke-width="4.4" stroke-linecap="round" fill="none"/>
<path d="M317 3436h0m329-1h0m2276 1h0m7 0h0m331 1h0m59 0h0m-3045 6h0m14-5h0m2644 1h0m43-1h0m267 5h0m23-3h0m19 1h0m34-2h0m11 0h0m-339 10h0m10-2h0m243-2h0m-2869 9h0m318-2h0m2321-2h0m219 1h0m71 1h0m65 2h0m-2654 3h0m6-1h0m2148 4h0m3-4h0m87 1h0m37 3h0m220 1h0m9-4h0m18 0h0m17 1h0m17-2h0m43 1h0m9 2h0m40-1h0m-3072 4h0m79 1h0m347 1h0m2136 3h0m372-3h0m8 2h0m59-2h0m-3090 5h0m188 4h0m2459-1h0m9-2h0m67-2h0m317 2h0m66 2h0m14-4h0m36 1h0m13-1h0m11 0h0m-3153 9h0m99 0h0m51-1h0m20 1h0m140 1h0m3-1h0m99-2h0m77 4h0m2209 0h0m69-2h0m195-1h0m22 3h0m169-5h0m-2831 6h0m2298 4h0m21 0h0m73-2h0m33-1h0m34 3h0m193-2h0m25-1h0m11 4h0m65-3h0m10 3h0m32-1h0m19-4h0m-2810 11h0m2655-2h0m13 2h0m-2947 5h0m52-1h0m29-2h0m327 4h0m2143-1h0m35-1h0m174-1h0m140 3h0m69-5h0m33 1h0m16 3h0m19-2h0m-3075 9h0m309-1h0m2305 0h0m165-1h0m150 2h0m40-5h0m11 1h0m17-1h0m84 3h0m39-3h0m-3027 11h0m28-3h0m31 0h0m134-1h0m36-1h0m163 4h0m40-4h0m2101 5h0m142-5h0m157 3h0m37 1h0m10 1h0m11-1h0m11-2h0m98 1h0m10 0h0m23 0h0m10 1h0m40-3h0m-3155 9h0m62-4h0m309 4h0m112 1h0m29-5h0m2262 0h0m237 5h0m52-5h0m34 2h0m39 2h0m-3068 6h0m76-1h0m2408 1h0m10 0h0m141-1h0m15 0h0m23-3h0m173 5h0m40-1h0m20-4h0m68 3h0m14 1h0m16-3h0m15 0h0m40 0h0m20 3h0m10 0h0m0-4h0m-3196 9h0m329 0h0m31 2h0m80-3h0m2187 2h0m93 0h0m65 1h0m158 0h0m123-5h0m43 4h0m27-4h0m13 5h0m-2808 6h0m82 0h0m44-3h0m2147 1h0m377-2h0m12 2h0m9 0h0m41-3h0m21 5h0m13-5h0m38 0h0m12 3h0m45-1h0m-485 5h0m165 4h0m203-2h0m29-2h0m10 0h0m-3162 7h0m51 0h0m424 1h0m2198 2h0m351-4h0m62-1h0m18 5h0m10-4h0m15 2h0m43 1h0m28-2h0m34 1h0m17 0h0m-3251 3h0m462 2h0m2553-1h0m131 2h0m44-1h0m-3188 5h0m360-1h0m11 1h0m11 4h0m110-3h0m38 2h0m87-1h0m2048 2h0m434-1h0m15-4h0m8 5h0m9-4h0m45 0h0m36-1h0m16 5h0m-3237 3h0m157 1h0m2624-1h0m25 0h0m18 3h0m176-4h0m21 4h0m41-4h0m30 4h0m9 0h0m46-4h0m28 1h0m14 1h0m39 0h0m20 2h0m23 0h0m-3245 2h0m39 3h0m136-1h0m243 1h0m176-2h0m11-2h0m2026 0h0m67 5h0m51 0h0m21 0h0m11-2h0m269-2h0m58 1h0m13 2h0m-2726 2h0m115 3h0m94-2h0m2182-1h0m71 4h0m129 1h0m51-1h0m8-1h0m8 1h0m2-1h0m134-2h0m44 2h0m-3223 8h0m107-4h0m57 2h0m53-3h0m2535 1h0m248 1h0m18-2h0m62 4h0m10 0h0m8-3h0m12 3h0m22-4h0m-3104 6h0m401 0h0m119 0h0m2208 2h0m51-1h0m186 1h0m77-2h0m49 1h0m9 1h0m13 3h0m50 0h0m10-3h0m-2757 4h0m2169 4h0m135-4h0m3 1h0m13 1h0m128-1h0m84 4h0m24-3h0m17-1h0m2 2h0m25-1h0m29 1h0m38 0h0m63 2h0m-3124 2h0m373 1h0m2301 2h0m35-4h0m68 5h0m166-3h0m16-1h0m73 4h0m18-5h0m49 5h0m16-5h0m20 3h0m10-1h0m32-1h0m-3198 5h0m115 1h0m420 2h0m2126-2h0m95 0h0m107 0h0m140 3h0m74-4h0m30 1h0m22 2h0m20 2h0m35-2h0m-3153 4h0m105 4h0m73 0h0m75-5h0m97 5h0m24-2h0m158-2h0m2213 2h0m46 0h0m15 0h0m22-2h0m75 1h0m10-1h0m49-1h0m36 4h0m18 0h0m24-2h0m28-2h0m104 5h0m-3021 1h0m30 3h0m124-3h0m112 1h0m2138 0h0m22 4h0m109 0h0m132-3h0m104-2h0m26 3h0m31 0h0m75-3h0m13 3h0m44-3h0m60 2h0m6 0h0m-3248 4h0m110 1h0m129-1h0m163 2h0m61 0h0m2338 1h0m50-2h0m21 1h0m211 0h0m79-2h0m47 5h0m10-1h0m-3168 5h0m118-1h0m165 3h0m210-3h0m20 1h0m2076 2h0m248-3h0m90 1h0m41 2h0m23 0h0m48-4h0m13 2h0m29 0h0m16-3h0m88 3h0m8-2h0m-3252 7h0m146-1h0m251 0h0m74 3h0m2227-3h0m48 2h0m132-1h0m26-1h0m115 3h0m42 1h0m11-2h0m13-1h0m20 2h0m9 1h0m17 0h0m59 0h0m-3166 4h0m515 1h0m19 1h0m2118-5h0m81 3h0m25-3h0m19 3h0m87 0h0m11-2h0m99 4h0m13-3h0m212 2h0m-2975 4h0m2785 1h0m123-1h0m26 0h0m-3118 7h0m12 1h0m2949-1h0m26 2h0m14-2h0m34-1h0m9 3h0m10-5h0m26 0h0m26 1h0m39 1h0m20 0h0m-3221 4h0m160 2h0m2832-2h0m33 5h0m7-5h0m38 3h0m14 1h0m42-3h0m30 3h0m63 0h0m-3163 5h0m93-2h0m2852 4h0m15 0h0m59 0h0m96-3h0m42 2h0m12-3h0m-2674 6h0m2251 0h0m65 4h0m217-3h0m66 1h0m66 0h0m-3116 6h0m63 1h0m207-3h0m58-1h0m37 5h0m98-2h0m2124 2h0m79-4h0m100 0h0m148 1h0m27 0h0m10 0h0m21 0h0m49 2h0m82-1h0m-3092 4h0m64-1h0m193 5h0m2329-1h0m19 1h0m309-5h0m25 5h0m54 0h0m-2920 3h0m294-2h0m2266 2h0m318-2h0m126 1h0m9 0h0m-3047 9h0m379-4h0m0 3h0m14-2h0m2483-1h0m27 2h0m19 0h0m9 3h0m80-1h0m11 1h0m19-1h0m-3003 3h0m2494-1h0m142 4h0m210-4h0m-2969 7h0m2675-1h0m69 2h0m241 3h0m6-5h0m1 3h0m38-3h0m67 1h0m-2731 8h0m2280-3h0m0 1h0m25 0h0m28 2h0m313-3h0m18 5h0m43-1h0m18-2h0m-3074 6h0m13 0h0m387-2h0m2283 5h0m22-3h0m304 3h0m-2991 1h0m14 28h0m5 1h0m339-1h0m2648 0h0m-3033 7h0m10 0h0m1-2h0m0 0h0m4-2h0m17 3h0m15-3h0m1-1h0m310 5h0m10-5h0m13 1h0m21-1h0m6 4h0m13-2h0m2254 1h0m9-2h0m2-1h0m10 0h0m305 2h0m6 3h0m0-3h0m14 2h0m12-4h0m1 1h0m6 0h0m9 2h0m2 1h0m10-1h0m-3067 4h0m24-1h0m9 5h0m33-3h0m7-2h0m8 1h0m23 2h0m255 1h0m13-3h0m15 4h0m7-3h0m14 2h0m13-4h0m7 2h0m10 0h0m6-2h0m2 4h0m5-2h0m2200 0h0m42 2h0m14-4h0m30 4h0m255-3h0m12 1h0m1-2h0m10 5h0m16-4h0m1-1h0m3 1h0m6 2h0m0-1h0m7 3h0m11 0h0m4-1h0m12-2h0m6-1h0m9 3h0m-3102 7h0m18-5h0m14 1h0m9 4h0m11-5h0m10 0h0m12 2h0m12 0h0m252 3h0m9-2h0m14-2h0m17-1h0m12 0h0m18 2h0m62 1h0m7 0h0m2219-1h0m81 2h0m216-2h0m6-2h0m5 0h0m7 0h0m21 3h0m8-3h0m2 3h0m8 1h0m10 1h0m6-2h0m18-2h0m12 2h0m7 1h0m6-4h0m5 4h0m9 0h0m-3113 2h0m11 0h0m15 4h0m18-4h0m7 4h0m8-4h0m10 1h0m27 3h0m34 1h0m213-4h0m13-1h0m8 3h0m22-2h0m7 4h0m29-1h0m8-2h0m16 1h0m25-2h0m2161 0h0m24 0h0m14 3h0m8-2h0m288 1h0m6-1h0m8 2h0m16-2h0m11 0h0m12 1h0m10 1h0m10 1h0m15 0h0m12-3h0m8 2h0m6-4h0m8 2h0m10 1h0m8-1h0m2 1h0m3-2h0m3 4h0m0 0h0m7 0h0m5 0h0m-3106 3h0m21 1h0m61-1h0m219 1h0m80 2h0m18 0h0m46-4h0m17-1h0m2163 0h0m10 5h0m88-5h0m10 0h0m16 2h0m187 2h0m7-4h0m1 3h0m10-1h0m12 1h0m28-3h0m21 3h0m9 2h0m16-5h0m22 1h0m8 2h0m7 2h0m6-2h0m9 2h0m12-2h0m-3141 4h0m11 4h0m39-4h0m49 2h0m29 0h0m8-2h0m4 3h0m5-2h0m193 1h0m9-2h0m13 0h0m8 1h0m7-1h0m18 0h0m16-1h0m16 5h0m43-1h0m17 0h0m11-1h0m2-3h0m2122 5h0m37-3h0m8 2h0m3-1h0m6 1h0m6-4h0m9 4h0m27-1h0m249 1h0m17-3h0m1 3h0m5-2h0m8-1h0m7 2h0m17 2h0m8-5h0m6 0h0m6 1h0m28-1h0m9 3h0m16-2h0m10 2h0m7 0h0m25 0h0m6-3h0m4 4h0m-3177 7h0m7-1h0m3-2h0m11 2h0m15-4h0m19 1h0m10-1h0m13 2h0m39-2h0m36 1h0m9 4h0m21-2h0m16 1h0m153 1h0m3-2h0m2-3h0m6 5h0m0-5h0m12 5h0m38-4h0m39 2h0m14-1h0m17 1h0m9-1h0m19-1h0m10 4h0m7-4h0m17 2h0m4 2h0m2156-2h0m10 0h0m16 0h0m8-1h0m17 3h0m15-3h0m23 1h0m56 2h0m142-1h0m3-1h0m4 1h0m18-3h0m6 1h0m7-1h0m28 0h0m17 4h0m6-1h0m13 1h0m14-1h0m16-3h0m18 4h0m7-2h0m10 0h0m21 0h0m7 1h0m-3186 5h0m10 1h0m30-2h0m20 3h0m9-2h0m15-1h0m93 2h0m9 0h0m18-3h0m2 1h0m150 3h0m36-5h0m16 1h0m30 1h0m19-2h0m7 5h0m30-2h0m13-2h0m22 1h0m23 2h0m2115-4h0m54 1h0m14 3h0m53-1h0m26 2h0m13-5h0m204 2h0m17-1h0m12-1h0m5 5h0m21-5h0m12 5h0m18-2h0m11-1h0m6-1h0m27 2h0m9-3h0m7 2h0m18 1h0m-3206 8h0m13-2h0m20-2h0m10 0h0m54 3h0m20-4h0m10 3h0m35 2h0m7-4h0m183 4h0m8-2h0m16-2h0m11 3h0m19-2h0m18-1h0m17-1h0m30 4h0m37 0h0m8-1h0m19 2h0m2116-1h0m9-4h0m50 0h0m10 3h0m53-1h0m46 3h0m40-4h0m165 0h0m13-1h0m9 4h0m17-4h0m8 2h0m24 3h0m5-4h0m5 2h0m28 2h0m6-1h0m12-3h0m10-1h0m30 3h0m8-3h0m2 5h0m3-1h0m5 0h0m1 0h0m-3192 2h0m14 2h0m26 3h0m6-4h0m9-1h0m18 2h0m29 0h0m24 0h0m13 2h0m21-4h0m19 4h0m17-2h0m3 1h0m152-3h0m11 4h0m13 0h0m7-1h0m15-2h0m22-1h0m7 4h0m7-2h0m25 3h0m7-5h0m10 1h0m20 3h0m11-4h0m26 3h0m17-1h0m1 1h0m2087 2h0m29-3h0m11 2h0m9-2h0m41 2h0m17-2h0m29 0h0m8 0h0m54 0h0m140-2h0m22 3h0m37 1h0m7-1h0m10 0h0m15-1h0m6 3h0m11-2h0m11-2h0m6 2h0m28 0h0m15-1h0m6 0h0m10 3h0m26-1h0m-3202 6h0m40 1h0m14 0h0m18-4h0m58 0h0m44-1h0m171 1h0m12-1h0m8 1h0m21 2h0m22-3h0m11 3h0m46-2h0m17 2h0m12-2h0m25 0h0m2200 4h0m9 0h0m29-2h0m13 2h0m27-1h0m55 1h0m10-5h0m8 3h0m132 1h0m5-4h0m11 2h0m20 1h0m8-3h0m25 3h0m5 2h0m9-1h0m11 0h0m16 1h0m13-4h0m30 2h0m51 0h0m14-1h0m-3225 9h0m10 0h0m32 0h0m10-5h0m21 5h0m81-5h0m41 4h0m7-3h0m24 2h0m12 1h0m2-1h0m144 0h0m12 1h0m7-1h0m12 1h0m14-2h0m28-2h0m8 0h0m9 3h0m6-3h0m5 5h0m8-3h0m9 2h0m5-4h0m10 0h0m10 3h0m13 0h0m8-1h0m23-2h0m6 5h0m2063-5h0m6 1h0m19 3h0m8 0h0m39-2h0m36 3h0m21-1h0m17-2h0m50 1h0m34 2h0m120 0h0m11-2h0m9 1h0m7-2h0m10-1h0m24 4h0m8-2h0m6 2h0m8-2h0m35-1h0m15-2h0m12 0h0m9 0h0m6 0h0m25 1h0m11 2h0m35-2h0m-3230 6h0m2 2h0m8 0h0m57-2h0m100-1h0m12 0h0m18 2h0m12 0h0m12-1h0m7-1h0m13 3h0m11-1h0m98 1h0m17 1h0m24 1h0m10-1h0m31 0h0m7 1h0m12-4h0m18 1h0m44 3h0m9-5h0m21 3h0m13 1h0m12 0h0m9-4h0m23 4h0m2066-4h0m41 3h0m10 2h0m15-4h0m36-1h0m52 5h0m40-4h0m131-1h0m2 4h0m3-3h0m8 1h0m3 1h0m16 0h0m19 2h0m10 0h0m16-1h0m11 0h0m7 0h0m2 1h0m10 0h0m11-1h0m6-1h0m20 0h0m15-3h0m6 0h0m24 1h0m22 1h0m24 0h0m1 0h0m8-1h0m-3219 7h0m24 3h0m8-1h0m53 0h0m33-3h0m43 0h0m15 4h0m11-5h0m12 1h0m11 0h0m10 1h0m16 2h0m107-2h0m19-1h0m24 4h0m32 0h0m13-5h0m24 3h0m15-1h0m20 1h0m20-1h0m24-1h0m2139 4h0m39-2h0m49-2h0m7 1h0m9 3h0m16-5h0m22 4h0m22-3h0m46 3h0m102 0h0m6 0h0m8-3h0m11 1h0m6 1h0m27-2h0m44 2h0m27-3h0m14 1h0m15 0h0m8 2h0m7 2h0m7-4h0m14-1h0m7 4h0m8-4h0m9 5h0m22-1h0m-3241 2h0m10 0h0m12 0h0m25 5h0m7-2h0m46 2h0m17-2h0m54-3h0m10 2h0m39-1h0m10 4h0m125-1h0m11 1h0m18-2h0m58-1h0m28 3h0m7-5h0m7 4h0m12 0h0m10 0h0m9-1h0m17-1h0m9 2h0m10-1h0m42-3h0m2045 5h0m108-5h0m8 1h0m14 1h0m13 0h0m19 2h0m8 1h0m9-4h0m22-1h0m8 2h0m8 1h0m9 1h0m7 0h0m116 0h0m18-1h0m15-1h0m7 1h0m9 1h0m8 1h0m6-5h0m6 4h0m6-1h0m6 0h0m16-3h0m6 4h0m7-2h0m19-1h0m18-1h0m20 4h0m7-3h0m6 2h0m12 0h0m31-1h0m29 2h0m5 0h0m-3253 5h0m23 0h0m8-2h0m11-1h0m76 0h0m16 2h0m38 0h0m31-2h0m20 1h0m23 2h0m9-2h0m8 0h0m131 3h0m7-4h0m14 1h0m28 3h0m11-2h0m19 2h0m14-1h0m10 0h0m21 1h0m77-4h0m6 3h0m2045 1h0m36 0h0m63 0h0m7-3h0m7 2h0m11-1h0m16 3h0m8 0h0m50-2h0m12 1h0m21 1h0m35-5h0m93 4h0m8 1h0m10-5h0m12 4h0m11 0h0m28 0h0m12 1h0m8-3h0m35-2h0m81 0h0m11 3h0m7-2h0m28 2h0m-3218 5h0m19 3h0m5-4h0m42 0h0m27 1h0m38 0h0m16 1h0m8-1h0m12 2h0m11-3h0m35 1h0m8 0h0m107-2h0m43 1h0m10 0h0m7 0h0m24 1h0m12-2h0m6 3h0m8 2h0m11-1h0m25-1h0m11 1h0m7-1h0m13-3h0m10 1h0m27 3h0m28-2h0m2053 3h0m27 0h0m115-4h0m11 4h0m8-3h0m14 0h0m15 2h0m12 1h0m4-4h0m17 4h0m29-2h0m2-2h0m79 4h0m5-5h0m3 3h0m5 1h0m11 0h0m7-4h0m11 4h0m15-1h0m7 0h0m9-2h0m5 4h0m8 0h0m15-1h0m8-1h0m22 0h0m19-2h0m46 1h0m8 1h0m42-2h0m12 0h0m1 2h0m10 2h0m-3266 3h0m8-1h0m14-1h0m71 2h0m67-2h0m65 0h0m7 4h0m20-1h0m9 1h0m13-3h0m3 3h0m68 0h0m7 1h0m12-4h0m11 3h0m31 1h0m20-4h0m19-1h0m19 1h0m34-1h0m12 3h0m33-2h0m6-1h0m56 2h0m2050-2h0m90 1h0m8-1h0m11 5h0m8-2h0m28-2h0m30 2h0m16-3h0m16 3h0m6-2h0m1 4h0m10-1h0m5-4h0m1 5h0m16-3h0m9 3h0m79 0h0m2-3h0m4 1h0m7-3h0m17 4h0m12-3h0m11 2h0m7-3h0m6 2h0m12-2h0m23 0h0m3 5h0m27 0h0m10 0h0m7-4h0m8 0h0m6 2h0m17 0h0m17 2h0m12-3h0m10 2h0m13-2h0m9-1h0m2-1h0m5 1h0m6 0h0m9 0h0m11 4h0m-3261 5h0m7 1h0m6-3h0m10 0h0m11-2h0m22 5h0m39 0h0m24-4h0m21 4h0m101-4h0m26 3h0m7 0h0m86-3h0m20 0h0m10 2h0m52-3h0m9 3h0m8 2h0m9-3h0m8-2h0m9 0h0m15 0h0m19 2h0m21 2h0m12-4h0m22 1h0m19 2h0m10 0h0m2045-1h0m10-2h0m13 0h0m87 4h0m11 1h0m48-2h0m22-3h0m25 0h0m2 5h0m12-5h0m1 0h0m0 5h0m9-4h0m5-1h0m9 4h0m15-1h0m73 2h0m1 0h0m2-5h0m18 3h0m11 0h0m6 0h0m15 1h0m6-3h0m12 3h0m4-4h0m8 1h0m25 3h0m6-4h0m54 4h0m23 0h0m44-2h0m18-1h0m9 2h0m14 2h0m-3248 3h0m23 0h0m26-1h0m9 0h0m9-1h0m103 2h0m7 2h0m8 0h0m24 0h0m11-2h0m10 1h0m8-3h0m12 0h0m7 5h0m82-1h0m10-3h0m8 3h0m10-2h0m23 1h0m24 2h0m9-3h0m38 1h0m7-1h0m11 0h0m12-1h0m12 2h0m26-3h0m9 5h0m43 0h0m2049 0h0m34-5h0m9 5h0m28-3h0m14 1h0m13-1h0m11 3h0m17 0h0m11-2h0m27 2h0m20-5h0m24 0h0m9 2h0m2 1h0m2-1h0m3-2h0m3 2h0m8 0h0m0 2h0m3-1h0m2-2h0m108-1h0m8 0h0m10 2h0m21-2h0m8 5h0m9-4h0m18 1h0m7-1h0m6 3h0m20-1h0m12 2h0m27 0h0m74-1h0m24-3h0m17-1h0m-3260 9h0m29-3h0m11 5h0m12-5h0m44 5h0m24-4h0m92 4h0m11-5h0m17 5h0m29-4h0m12-1h0m69 2h0m54-1h0m38 2h0m9-2h0m11-1h0m29 5h0m32-1h0m24-2h0m6 3h0m33-3h0m2128-2h0m54 1h0m58-1h0m9 2h0m18 0h0m18 2h0m4-4h0m2 5h0m11-3h0m17 1h0m88-2h0m12-1h0m8 2h0m14 1h0m11-1h0m5 2h0m25-2h0m8 2h0m11 0h0m17 1h0m8-5h0m10 4h0m68-3h0m22 2h0m21-3h0m31 3h0m-3258 4h0m28 4h0m20-4h0m14 4h0m16-5h0m22 5h0m47-5h0m20 0h0m16 1h0m41 0h0m34 4h0m11 0h0m7-5h0m64 3h0m67 1h0m27-1h0m14 2h0m7-4h0m7 4h0m7-4h0m13 4h0m13-5h0m7 2h0m10 2h0m10-1h0m10 2h0m23-5h0m9 3h0m18 2h0m38-1h0m2036-4h0m74 4h0m24 1h0m20-5h0m40 5h0m43-5h0m1 1h0m10 4h0m5-4h0m6 0h0m8 1h0m5 1h0m102 0h0m9 0h0m6-1h0m7 3h0m7-1h0m21 1h0m2-5h0m6 1h0m8 3h0m51-3h0m8 2h0m47 2h0m41-1h0m19-3h0m9 4h0m11-3h0m10-2h0m8 4h0m4-4h0m-3274 6h0m10 1h0m108 3h0m7-2h0m6 3h0m25-5h0m7 2h0m51-2h0m8 1h0m12 3h0m24 0h0m22 1h0m81-1h0m13 0h0m47-3h0m27-1h0m11 4h0m16 0h0m7-2h0m13-1h0m35 3h0m16-4h0m4 5h0m13-3h0m40 0h0m2085 0h0m11 0h0m11-2h0m7 4h0m82-1h0m39 0h0m7-1h0m9-2h0m7 3h0m3-3h0m7 4h0m9-3h0m1 3h0m12 0h0m25 0h0m71-3h0m10 3h0m6-2h0m7 3h0m7-1h0m21-4h0m5 4h0m9 0h0m8-1h0m16-2h0m19 1h0m23-1h0m6 4h0m11-1h0m27 0h0m16-1h0m8 2h0m23 0h0m19-2h0m8 2h0m14 0h0m7-2h0m6 0h0m-3267 6h0m21-3h0m22 0h0m117 2h0m17 3h0m16-1h0m28 0h0m8-3h0m16 3h0m16 1h0m6-4h0m3 1h0m15 3h0m85-4h0m28 3h0m13-1h0m8 1h0m62 0h0m14-2h0m7-2h0m9 4h0m16-2h0m93-2h0m2025 1h0m28 0h0m23 4h0m17-2h0m20 1h0m47-2h0m39 2h0m14 0h0m52-2h0m22 1h0m19-1h0m4-2h0m78 2h0m63 0h0m28 3h0m80-3h0m43 1h0m8 0h0m8 1h0m9 1h0m26-3h0m-3269 6h0m33 2h0m18 0h0m7 1h0m4-5h0m19 4h0m6-2h0m7 2h0m10-3h0m11 2h0m7 1h0m8 1h0m13 0h0m39-2h0m43 0h0m48 1h0m106-1h0m8-3h0m12 4h0m12 1h0m23-5h0m23 3h0m10-3h0m20 4h0m12 0h0m26 0h0m7-2h0m23-1h0m7-1h0m9 0h0m8 1h0m9 0h0m16 2h0m8-1h0m8-1h0m2157 4h0m77-5h0m11 4h0m45-4h0m9 3h0m66 0h0m6-2h0m16 2h0m8 1h0m5-4h0m8 2h0m22-1h0m7-1h0m7 5h0m8-1h0m14-3h0m15-1h0m16 5h0m36-1h0m13 1h0m28-1h0m16 1h0m8-2h0m31-3h0m12 1h0m-3260 8h0m1 2h0m12 0h0m10-5h0m53 5h0m21 0h0m38-3h0m21 0h0m16 2h0m27-1h0m25 1h0m20-1h0m15-2h0m86 3h0m14-2h0m20 3h0m35 0h0m11-4h0m7 0h0m14 1h0m8 3h0m12-3h0m10 1h0m31-2h0m8-1h0m20 2h0m11 3h0m15-3h0m12-1h0m7 2h0m11-2h0m9 4h0m10-1h0m2055 1h0m33-2h0m15-3h0m14 4h0m39-1h0m17-3h0m7 3h0m37-3h0m10 2h0m50 2h0m10-3h0m15 1h0m77 0h0m6-2h0m17 4h0m8-3h0m39 3h0m19-3h0m30 3h0m27-3h0m28 4h0m14-5h0m14 4h0m23-1h0m14 2h0m15-3h0m24-2h0m3 0h0m-3201 8h0m10 3h0m47-2h0m16-3h0m41 5h0m12-1h0m24 0h0m10-1h0m44-1h0m72-2h0m17 5h0m20 0h0m8-2h0m31 0h0m22 0h0m34 1h0m13-3h0m7 3h0m10 0h0m8-1h0m59-1h0m10 1h0m7 0h0m16 2h0m7 0h0m11-1h0m2018-1h0m4-3h0m6 1h0m38 3h0m58 0h0m10-4h0m19 2h0m22 0h0m44-2h0m21 3h0m13-3h0m15 5h0m7-2h0m22-2h0m67 2h0m6-1h0m31 1h0m11-2h0m7 0h0m11 2h0m10 0h0m7-2h0m6 4h0m9-5h0m6 1h0m23-1h0m19 2h0m7 0h0m30-2h0m6 1h0m7 1h0m13 3h0m37-5h0m11 4h0m18-2h0m-3266 8h0m16 1h0m8-5h0m34 3h0m14 0h0m21 0h0m17 2h0m5-5h0m8 2h0m20 1h0m16-2h0m9 1h0m80 2h0m98-4h0m8 1h0m21 2h0m70 1h0m10 0h0m33-2h0m38 0h0m12-2h0m19 5h0m23-1h0m19-3h0m2051 4h0m17-4h0m66 3h0m86-2h0m12 2h0m24 1h0m49 0h0m22-5h0m104 5h0m6-3h0m7-1h0m8 0h0m20 2h0m15-2h0m22 3h0m6-4h0m36 3h0m15 1h0m6-2h0m17 1h0m17 1h0m7 1h0m29-1h0m10 0h0m17 1h0m-3266 6h0m39-5h0m10 0h0m13 1h0m61 1h0m10 3h0m43-1h0m15-4h0m19 4h0m32 1h0m105-2h0m59-2h0m75 1h0m11-2h0m8 1h0m15 2h0m16 0h0m7 2h0m33-5h0m17 0h0m20 2h0m8-2h0m2041 5h0m21-1h0m25 0h0m11-1h0m29-2h0m40-1h0m13 3h0m10 2h0m59-1h0m128-4h0m9 5h0m6-2h0m8-1h0m32 0h0m7-1h0m22 0h0m7 3h0m7 0h0m23-4h0m13 1h0m27-1h0m44 4h0m26-3h0m8 0h0m-3226 9h0m25-4h0m17 1h0m8-1h0m11 5h0m13-5h0m12 1h0m19-1h0m5 0h0m25 4h0m22-2h0m9 3h0m20-3h0m34-1h0m39 0h0m4 2h0m77 2h0m12-2h0m12-1h0m42 0h0m11-1h0m33-1h0m15 2h0m6 2h0m11-3h0m10 2h0m35 1h0m14-3h0m47 4h0m7-2h0m17-2h0m2047-1h0m26 0h0m60 5h0m24-3h0m15-1h0m25 4h0m10-4h0m14 3h0m29 1h0m23-2h0m100 0h0m3-2h0m16 4h0m34-3h0m12 1h0m6 0h0m15-2h0m27 0h0m11 4h0m17-5h0m13 0h0m60 2h0m11-2h0m28 1h0m19 3h0m-3250 6h0m15-3h0m25 3h0m27 1h0m8-4h0m11 1h0m9-2h0m23 0h0m16 5h0m7-4h0m26-1h0m17 4h0m68-4h0m9 5h0m77-3h0m56 2h0m21-3h0m21 1h0m22 1h0m37-2h0m19 2h0m23-2h0m9 1h0m16 3h0m32 0h0m9-2h0m2032-2h0m6 2h0m19-1h0m7-2h0m20 5h0m22-3h0m37 3h0m47-4h0m24 4h0m161-3h0m4 2h0m3-2h0m8 3h0m13-5h0m20 4h0m17 1h0m18-3h0m7 3h0m11-2h0m6 2h0m25-1h0m6-4h0m6 2h0m14 1h0m12 2h0m7-5h0m8 2h0m13-1h0m8 0h0m13 0h0m20 3h0m14-3h0m-3243 6h0m24 2h0m7-3h0m30 3h0m31-3h0m17 3h0m10 1h0m57-1h0m10-2h0m32 4h0m27-5h0m117 1h0m14 1h0m42-1h0m23 0h0m84 2h0m7 1h0m6-3h0m45 3h0m14-4h0m2082 2h0m52-2h0m8 1h0m10 0h0m18 0h0m9 3h0m12-1h0m8-1h0m26-1h0m20 1h0m22-1h0m8-1h0m22 2h0m120 3h0m8 0h0m15 0h0m10-3h0m17-1h0m9 4h0m35-4h0m30 4h0m8 0h0m6-4h0m50 1h0m5 3h0m5-4h0m4 4h0m6-4h0m6 4h0m10-5h0m7 3h0m7 2h0m4-5h0m6 4h0m-3259 6h0m26-3h0m16 0h0m31 3h0m16-2h0m7 1h0m2 1h0m9 1h0m39-4h0m16 4h0m8 0h0m6-2h0m21 2h0m9-4h0m27 2h0m13-2h0m14 4h0m104-3h0m14-1h0m9 0h0m10 2h0m8 1h0m17-3h0m13 4h0m30-3h0m18 1h0m31-3h0m25 1h0m12 4h0m7-3h0m15 0h0m2077 3h0m25-1h0m9-2h0m41 1h0m17 2h0m14-5h0m23 3h0m16 1h0m12 0h0m14-2h0m37 0h0m13 2h0m26-4h0m10 4h0m89-3h0m7 0h0m3 3h0m34-2h0m11-1h0m6 3h0m6-1h0m13-3h0m6 2h0m9-1h0m13 2h0m22 2h0m27-4h0m6 1h0m7-1h0m15-1h0m5 3h0m3 2h0m2-4h0m6 3h0m1-4h0m34 4h0m22-1h0m-3241 8h0m38-5h0m14 0h0m11 5h0m8-1h0m7-1h0m23-3h0m7 5h0m9-2h0m15 2h0m35 0h0m23-2h0m149-3h0m62 1h0m7 4h0m8-3h0m39 1h0m19 0h0m8-3h0m15 2h0m21 3h0m36-5h0m2127 2h0m17 1h0m22 1h0m19-3h0m9 0h0m9 0h0m16 1h0m52 1h0m8-1h0m42 1h0m109 2h0m1-4h0m13 0h0m34-1h0m7 3h0m6 2h0m21-1h0m17 1h0m20-1h0m23-1h0m12-2h0m14 3h0m9-3h0m10 1h0m1-1h0m0 2h0m0-1h0m2 3h0m3-3h0m2 0h0m2 1h0m12-1h0m39-1h0m2 1h0m7 2h0m-3248 6h0m51-1h0m51-3h0m18 5h0m12-3h0m16-1h0m40-1h0m7 4h0m45-3h0m121 1h0m9 3h0m7-4h0m6-1h0m23 4h0m32-3h0m10 3h0m19-2h0m11 2h0m10 0h0m73-3h0m7-1h0m6 5h0m21-5h0m2052 2h0m9-1h0m10-1h0m52 4h0m24-3h0m12 3h0m91-2h0m151-2h0m10 1h0m65 3h0m13 0h0m22 0h0m9-1h0m10 1h0m15-2h0m9-1h0m6 1h0m15 1h0m15 1h0m7-2h0m24 0h0m14-1h0m5 4h0m6-3h0m-3239 7h0m42-1h0m14-1h0m19 1h0m8-2h0m6 2h0m9-1h0m10 0h0m18 0h0m16 3h0m9-1h0m17-1h0m11 0h0m178 2h0m40-2h0m34-2h0m81 4h0m17-4h0m20 4h0m7 0h0m9 0h0m25-3h0m2059 2h0m16 0h0m30-2h0m7 4h0m29-3h0m13-1h0m17 0h0m39 1h0m36-2h0m11 5h0m149-3h0m24-2h0m9 3h0m13-3h0m13 0h0m7 5h0m8 0h0m7-2h0m14-1h0m6-2h0m9 4h0m15 1h0m8-5h0m11 2h0m9 1h0m14-2h0m11 1h0m20 1h0m7 1h0m18-3h0m11 2h0m-3225 6h0m6 0h0m4 2h0m2-5h0m25 4h0m19-2h0m8-1h0m19 3h0m25 1h0m8-4h0m10 3h0m7-1h0m34 1h0m24 1h0m34 0h0m15-1h0m106-1h0m5 2h0m9-3h0m7-2h0m10 3h0m26-3h0m12 4h0m6-4h0m43 0h0m15 3h0m20-3h0m81 4h0m6 0h0m2090-4h0m7 5h0m23-1h0m11-1h0m16-2h0m19 3h0m8-2h0m17 0h0m77-2h0m150 1h0m13-1h0m22 5h0m14 0h0m55-4h0m5 4h0m8-3h0m11 0h0m16 2h0m6-2h0m10 2h0m10-4h0m8 3h0m12 1h0m11-3h0m24 3h0m-3225 4h0m15 0h0m32 0h0m17-2h0m23 0h0m10 5h0m19-3h0m21 2h0m18-4h0m19 1h0m28 4h0m174-1h0m7-4h0m38 1h0m16 3h0m17-4h0m9 3h0m17-1h0m24-1h0m34 0h0m12 0h0m9-1h0m18 4h0m2070 0h0m3-2h0m36 1h0m9 2h0m24-5h0m8 2h0m30 2h0m29-1h0m55-2h0m9 1h0m13 2h0m143-3h0m16 1h0m7 1h0m16 2h0m28-3h0m9-2h0m8 0h0m7 3h0m6-2h0m14 4h0m6-2h0m7 2h0m7-5h0m19 5h0m11-2h0m6-2h0m33-1h0m1 1h0m3 4h0m7-1h0m-3211 2h0m5 0h0m2 3h0m17-3h0m17 4h0m23-1h0m6-3h0m6 3h0m8-2h0m19-1h0m19 1h0m16 3h0m11-3h0m9 1h0m10 0h0m20 3h0m158-5h0m15 2h0m19 3h0m30-5h0m96 3h0m11 1h0m21-4h0m24 4h0m6-1h0m2086-2h0m13-1h0m60 5h0m61-5h0m6 4h0m42-1h0m7 2h0m20-1h0m136 1h0m18-1h0m11-3h0m9 4h0m33-3h0m18 3h0m9-1h0m7-2h0m28 0h0m9 1h0m18 0h0m6 1h0m7-2h0m9 0h0m9-2h0m-3179 9h0m8 0h0m31 2h0m32-3h0m7 3h0m17-2h0m10-3h0m16 1h0m21 3h0m26 0h0m178 1h0m5-1h0m25-1h0m13 1h0m10-1h0m25-1h0m36-2h0m14 0h0m44 4h0m6-3h0m17 2h0m7-2h0m2097 2h0m10-2h0m19 2h0m10 2h0m25 0h0m35-5h0m17 2h0m9 2h0m262 1h0m40-2h0m8 1h0m8 0h0m0-4h0m9 0h0m3 4h0m3 0h0m0-1h0m6-3h0m2 5h0m3-1h0m21 1h0m3-5h0m13 5h0m7-1h0m6-2h0m12 2h0m8-2h0m10 2h0m-3192 7h0m58-5h0m28 0h0m8 4h0m22-1h0m16-3h0m37 4h0m195-4h0m6 3h0m28 1h0m12-1h0m36 1h0m64-2h0m12 2h0m24-4h0m0 0h0m2112 2h0m30 2h0m7-2h0m45 0h0m12-1h0m21 4h0m23 0h0m42-5h0m165 3h0m17 1h0m7 0h0m8 0h0m38-1h0m9-3h0m3 3h0m2 2h0m0-5h0m2 3h0m3-3h0m0 4h0m5 0h0m5-4h0m0 2h0m2 3h0m1-1h0m2 1h0m2 0h0m9-5h0m8 1h0m14-1h0m3 5h0m23-4h0m14 3h0m-3172 7h0m25-4h0m18 1h0m22-2h0m8 1h0m10 4h0m16-5h0m12 3h0m15-2h0m8-1h0m15 1h0m29 3h0m168-1h0m34-3h0m93 0h0m12 1h0m6 3h0m11 0h0m19-4h0m9 4h0m2114-2h0m18-1h0m10 4h0m18 0h0m7-4h0m13-1h0m9 4h0m35-1h0m52 1h0m181-4h0m31 4h0m21-4h0m20 2h0m15 3h0m1-3h0m9 2h0m2-2h0m3-1h0m8 4h0m18-3h0m8-2h0m3 5h0m18 0h0m6-4h0m13 0h0m2 4h0m-3165 2h0m6 1h0m29 0h0m18 0h0m10 2h0m15-1h0m45-2h0m19-1h0m20 0h0m192 3h0m21-1h0m8 0h0m35 0h0m29-1h0m20 2h0m46 2h0m5-5h0m2145 1h0m16 0h0m27 4h0m8-2h0m12-1h0m9-1h0m9 0h0m17-1h0m16 3h0m218-1h0m5 1h0m1 2h0m40-3h0m19 3h0m12 0h0m5-5h0m1 3h0m0 1h0m2 1h0m4-1h0m7-3h0m8 4h0m2 0h0m5-4h0m6 2h0m9 1h0m17-2h0m18 3h0m6-5h0m-3112 9h0m20-3h0m12 4h0m30-2h0m16 1h0m20 0h0m5-2h0m17 1h0m190 0h0m18 1h0m15 0h0m14-1h0m10 1h0m36-3h0m15 5h0m8-4h0m20 3h0m16-1h0m4-2h0m2135-1h0m10 2h0m11-1h0m8 4h0m55-2h0m55 2h0m22-1h0m200-2h0m13 3h0m9-3h0m7 1h0m7-3h0m13 5h0m8 0h0m11-4h0m4 0h0m1 4h0m4-3h0m3 0h0m7-2h0m15 3h0m8 1h0m3-1h0m5-1h0m13-1h0m9 4h0m13-5h0m-3151 6h0m0 0h0m10 2h0m33 1h0m11 1h0m37-3h0m8 4h0m22-1h0m8-1h0m222-1h0m36 0h0m47-1h0m14 4h0m28-1h0m2176-2h0m8 3h0m14-4h0m11 1h0m11 2h0m11-4h0m14 5h0m34-1h0m9-4h0m16 5h0m226-1h0m14 0h0m8-1h0m34-2h0m17 4h0m6-4h0m5 4h0m24-3h0m10 1h0m7-2h0m7 1h0m-3071 6h0m17 3h0m7-1h0m19 0h0m13 1h0m10-2h0m262-2h0m6-1h0m27 3h0m8 0h0m25-2h0m7-1h0m9 3h0m2197 0h0m25 2h0m30-4h0m36 1h0m251 1h0m23-2h0m7 3h0m7-4h0m3 5h0m5-3h0m7 2h0m5-4h0m0 3h0m5 2h0m6-2h0m5 1h0m10-2h0m7-2h0m4 1h0m1 2h0m8-1h0m-3091 4h0m29 2h0m11 2h0m25 1h0m9-4h0m0 4h0m0-3h0m284 2h0m9-1h0m13 0h0m10-3h0m34 3h0m12-3h0m2243 2h0m12 0h0m26 2h0m11-4h0m261 0h0m7 1h0m10 2h0m7 0h0m29 2h0m11-5h0m1 4h0m9 0h0m12-4h0m-3041 7h0m7 1h0m6-2h0m16 1h0m2599-1h0m28 2h0m24-2h0m308 0h0m26 0h0m-2992 34h0m11-2h0m5 2h0m347 0h0m1 0h0m2263-3h0m23 1h0m16 2h0m284 1h0m14-1h0m3 0h0m11-3h0m14 4h0m4-3h0m-3003 7h0m318-1h0m9-1h0m14 2h0m2263-2h0m7 2h0m15 1h0m33-4h0m27 3h0m259-1h0m12 3h0m11-5h0m5 5h0m16-5h0m9 5h0m9-4h0m7 0h0m6 0h0m0 4h0m14-2h0m-3092 3h0m13 4h0m38-2h0m22 1h0m36 0h0m11 1h0m222-2h0m22 2h0m8-1h0m18 1h0m19 1h0m17-5h0m4 2h0m2211 3h0m22-3h0m11 0h0m20-1h0m16-1h0m17 0h0m258 5h0m16-4h0m2 2h0m6-3h0m16 0h0m5 5h0m7-5h0m28 3h0m9-1h0m7-1h0m2 3h0m4-3h0m8 1h0m6 0h0m0-2h0m8 2h0m-3125 6h0m35 3h0m31-1h0m50-1h0m26-1h0m200 3h0m31-3h0m77 2h0m27-2h0m2175-2h0m8 3h0m1 2h0m12-4h0m22 4h0m8-2h0m26-1h0m33-2h0m8 5h0m2-4h0m2 3h0m229 0h0m4-2h0m9 2h0m4-3h0m12 2h0m20 1h0m11-1h0m6-1h0m17-2h0m3 5h0m0-4h0m17-1h0m6 4h0m9-3h0m6 1h0m4-1h0m6 3h0m-3143 5h0m57 1h0m23 1h0m261-2h0m6 1h0m8-4h0m8 2h0m31 2h0m25 0h0m55-4h0m2198 1h0m9 1h0m57 3h0m16-4h0m43 0h0m199 2h0m14-3h0m6 5h0m66-5h0m7 2h0m27 2h0m5 1h0m5 0h0m2-2h0m2 1h0m5-2h0m6-2h0m2 5h0m1-5h0m10 5h0m-3125 4h0m60-1h0m25 0h0m12 2h0m17 0h0m22 0h0m189 0h0m14 0h0m21 1h0m14-5h0m8 1h0m2227 2h0m20-2h0m36 0h0m10 0h0m14 3h0m57-2h0m13-2h0m7 3h0m186-3h0m6 0h0m22 5h0m24-1h0m13-3h0m24 3h0m4-4h0m14 3h0m10-2h0m8 1h0m20 1h0m5-2h0m1 3h0m25-2h0m-3076 5h0m72 4h0m187 0h0m56-3h0m67 2h0m21-4h0m10 5h0m14 0h0m2123-2h0m12 1h0m21-1h0m40 0h0m98 1h0m180-3h0m34-1h0m4 4h0m14 1h0m30-4h0m10 4h0m5-3h0m12 1h0m29 1h0m18-3h0m9-1h0m21 5h0m-3180 6h0m99-3h0m93 0h0m144-1h0m29 1h0m10-1h0m9 3h0m21 1h0m18-5h0m30 1h0m2187 2h0m8 2h0m21-2h0m22 0h0m15-2h0m30 2h0m59-3h0m43 3h0m142 1h0m3-2h0m2-1h0m6 2h0m12-2h0m6 1h0m18 3h0m8 0h0m7-1h0m7 1h0m7 0h0m16-4h0m8 1h0m28 2h0m7 1h0m7-5h0m7 4h0m10 0h0m16-2h0m5 3h0m11 0h0m7-3h0m-3185 8h0m16-2h0m28 2h0m48-2h0m101 2h0m173-3h0m95 4h0m57-2h0m2123 0h0m41-2h0m37-1h0m14 0h0m16 2h0m27 3h0m11-1h0m211-3h0m8 4h0m5-3h0m8-1h0m48 4h0m9-1h0m27-3h0m32 4h0m8 0h0m10-2h0m10 1h0m11 0h0m-3183 3h0m18 0h0m27 1h0m31-2h0m105 3h0m229 1h0m21-3h0m32 2h0m2201 2h0m10-4h0m44 1h0m7 1h0m43-2h0m9-1h0m33 1h0m42 1h0m10 1h0m128-3h0m17 2h0m16 0h0m10-2h0m4 4h0m6-2h0m7 2h0m40-4h0m31 1h0m6-1h0m7 1h0m11 3h0m22-2h0m12 1h0m11-2h0m15 4h0m0 0h0m-3187 6h0m48-4h0m84 0h0m190-1h0m62 0h0m18 2h0m21-1h0m15-1h0m86 3h0m28 0h0m2062 1h0m4-4h0m2 1h0m37 2h0m13-1h0m25 0h0m10 3h0m24-3h0m26 1h0m67-1h0m19 0h0m136-2h0m6 2h0m5 2h0m7-4h0m7 5h0m8-5h0m14 2h0m48-2h0m7 2h0m7 1h0m42 1h0m5-4h0m2 5h0m39-4h0m7 2h0m14 2h0m-3221 6h0m10-1h0m214-4h0m148 1h0m20 4h0m22-3h0m8 2h0m21-3h0m80 3h0m40 0h0m16 0h0m2058 1h0m20-5h0m49 4h0m18 0h0m26-3h0m72 0h0m59 1h0m102 3h0m5-1h0m8-3h0m7 0h0m7 2h0m12-2h0m11 4h0m12-2h0m7-1h0m23 0h0m42-1h0m28 2h0m6 0h0m26-3h0m6 4h0m10-3h0m7-1h0m9 3h0m-3190 6h0m52 2h0m10 0h0m127-3h0m170 0h0m111-2h0m10 2h0m9 2h0m2147-4h0m9 4h0m96-2h0m8-1h0m57 2h0m7 2h0m155-3h0m3 2h0m7 0h0m9 0h0m9-4h0m5 2h0m5 3h0m24-1h0m12-2h0m17 3h0m19-5h0m2 5h0m12 0h0m5-2h0m50 1h0m5-3h0m21 2h0m6 1h0m8 1h0m14-5h0m5 5h0m-3239 2h0m19 1h0m9 1h0m49 1h0m48-2h0m70 1h0m152-1h0m7 3h0m5-5h0m11 2h0m12-1h0m54 0h0m51 0h0m21 2h0m23-1h0m8-1h0m2115 1h0m41 1h0m8-3h0m80 3h0m16 1h0m99 0h0m99-2h0m5 1h0m1-2h0m4 1h0m4 3h0m14-4h0m9 1h0m16 1h0m20-3h0m4 4h0m34-1h0m29 2h0m54-4h0m20 4h0m18-3h0m6 0h0m7 1h0m0 2h0m-3238 4h0m8 0h0m82 0h0m10-3h0m107 1h0m136-1h0m14 3h0m19 2h0m102-2h0m105-2h0m2059 3h0m1-2h0m17 3h0m7 0h0m13-5h0m24 0h0m10 4h0m15 0h0m98 0h0m9-1h0m41 0h0m111-3h0m6 5h0m7-5h0m11 2h0m11-2h0m6 3h0m10-2h0m8 2h0m16-1h0m21 1h0m14 1h0m7 1h0m21-4h0m19 3h0m17-4h0m13 4h0m37-1h0m6 1h0m9 0h0m15-2h0m-3227 8h0m24-2h0m18 3h0m109 0h0m16-1h0m50 0h0m8-3h0m126 1h0m30 3h0m101-3h0m25 2h0m58-2h0m13-2h0m11 4h0m2048-4h0m36 4h0m8-2h0m11 0h0m14 0h0m129-2h0m25 5h0m19-1h0m10 1h0m84-2h0m15-3h0m8 4h0m6-3h0m16 0h0m8 3h0m21-2h0m14-1h0m21 4h0m26-2h0m6-3h0m9 5h0m32-1h0m59 0h0m10-2h0m6-2h0m-3253 7h0m30 2h0m10 0h0m16 1h0m38 1h0m15 0h0m15-2h0m20 0h0m251-1h0m32-2h0m48 4h0m62-1h0m9 0h0m21-1h0m14-1h0m26-1h0m2044 5h0m8-2h0m16 0h0m8-3h0m24 4h0m19-1h0m10-1h0m26-1h0m10 3h0m119 0h0m99 0h0m12-3h0m7-1h0m10 4h0m7 1h0m7-5h0m6 2h0m13 2h0m7-4h0m7 3h0m18-1h0m6 1h0m9-2h0m12 2h0m8 1h0m59 1h0m35-1h0m31-1h0m7-3h0m5 4h0m-3187 6h0m111 1h0m90-4h0m71-1h0m11 2h0m51 0h0m20-1h0m32 1h0m41-2h0m25 0h0m20 4h0m44 0h0m8-3h0m2058 3h0m11 1h0m26-2h0m14 0h0m31 1h0m13-4h0m77 3h0m18 0h0m23 0h0m122-3h0m11 4h0m1-4h0m6 5h0m7-5h0m21 0h0m5 4h0m6-4h0m13 4h0m15-4h0m13 3h0m17-2h0m6 1h0m30-1h0m7 0h0m6 4h0m25-1h0m44-3h0m31 3h0m9 1h0m-3267 5h0m10-2h0m8 2h0m26-1h0m29 2h0m29-2h0m8 2h0m13-4h0m91 0h0m33-1h0m13 2h0m175 3h0m14 0h0m19-3h0m22-1h0m11 1h0m77 3h0m2070 0h0m15 0h0m24-5h0m16 1h0m26 1h0m31 2h0m46-2h0m20 0h0m23 3h0m48-4h0m17 1h0m86 3h0m19-4h0m8 1h0m9-1h0m8 3h0m7-3h0m4 4h0m6 0h0m10-5h0m6 2h0m22 1h0m16-1h0m17-2h0m5 4h0m8-2h0m21 1h0m8 2h0m14-4h0m20 2h0m26-3h0m2 5h0m5-5h0m5 3h0m6-1h0m9 3h0m9-5h0m-3104 8h0m15-1h0m185 4h0m112-3h0m25 2h0m40-1h0m52 2h0m2092-2h0m13-2h0m8 2h0m30 1h0m20 1h0m10-3h0m38 2h0m60-1h0m8 0h0m20 0h0m7-3h0m24 5h0m66-1h0m2 0h0m7 1h0m7-4h0m6 3h0m2-4h0m0 1h0m1 0h0m3 3h0m3-3h0m5 4h0m6-4h0m14 4h0m17 0h0m5-3h0m9-1h0m10 0h0m32 3h0m52 1h0m21-5h0m5 5h0m16-1h0m11-4h0m30 2h0m13 0h0m-3263 8h0m85-2h0m28 0h0m26 3h0m63-5h0m167 3h0m21 1h0m12 1h0m67-1h0m12-3h0m46 0h0m49 2h0m23 0h0m23-1h0m2016 2h0m5 0h0m43 0h0m25-4h0m10 4h0m25-2h0m15 2h0m59-1h0m17 0h0m19 0h0m131 2h0m17-3h0m3 2h0m6-2h0m0 0h0m20-2h0m19 4h0m19 0h0m12-2h0m19 0h0m15 2h0m17-4h0m17 1h0m60 3h0m13 1h0m4-5h0m9 5h0m17-3h0m-3248 8h0m86-2h0m141-1h0m8 0h0m11 2h0m17-2h0m95 3h0m67 0h0m45-3h0m30-1h0m39 0h0m13 1h0m25 2h0m17 2h0m24-2h0m2014 1h0m56 1h0m35-5h0m26 4h0m19-3h0m23 0h0m16 2h0m16-1h0m8 2h0m29-1h0m13 1h0m10-1h0m13 0h0m9-3h0m75 1h0m5 3h0m10-3h0m4 1h0m6-1h0m16-1h0m6 1h0m5 4h0m3-5h0m8 5h0m19-1h0m11 0h0m17-2h0m13 2h0m11 1h0m5-3h0m16 2h0m18-1h0m41-3h0m37 5h0m20 0h0m1-5h0m-3267 10h0m7-1h0m70 1h0m7-4h0m28 0h0m42 0h0m19 4h0m77-1h0m18 2h0m163 0h0m17-5h0m27 0h0m6 5h0m10-3h0m19-2h0m14 5h0m35-4h0m14 0h0m13 2h0m2065-3h0m8 0h0m13 3h0m22-3h0m82 0h0m22 2h0m28 1h0m16 2h0m8-1h0m31-1h0m38 0h0m76-2h0m12 1h0m36 2h0m10-2h0m12-1h0m28 1h0m18-1h0m8 3h0m25-3h0m8 3h0m28-2h0m12 0h0m18-2h0m18 5h0m25-4h0m11 3h0m13-3h0m-3212 5h0m7 4h0m55-1h0m105 0h0m12-1h0m16 3h0m16-2h0m9-3h0m61 5h0m6 0h0m204-2h0m9-3h0m2082 5h0m3-1h0m5-2h0m9-2h0m6 5h0m38 0h0m37-2h0m8-2h0m9 4h0m21-2h0m31 1h0m52-4h0m22 4h0m12-2h0m7-2h0m95 3h0m4 0h0m9 0h0m6-3h0m6 1h0m8 4h0m14-1h0m7 1h0m14 0h0m10-5h0m10 1h0m7 0h0m16 1h0m33-1h0m34 2h0m10 1h0m18-1h0m9-3h0m30 4h0m27 1h0m-3161 2h0m69 0h0m32 0h0m10-1h0m225 1h0m41-1h0m35 5h0m43-2h0m17 0h0m2111 1h0m26-4h0m29 5h0m38-5h0m109 3h0m7-1h0m89-2h0m7 1h0m20 3h0m13 1h0m32-3h0m17-1h0m11 0h0m18 0h0m9 4h0m14-5h0m6 3h0m16-2h0m47 1h0m7 1h0m6-3h0m33 4h0m11-2h0m16 3h0m-3272 1h0m55 5h0m7-2h0m52 0h0m8 2h0m97-3h0m14-2h0m46 2h0m73-1h0m14 1h0m16 3h0m112-2h0m9-2h0m29 1h0m9-2h0m13 1h0m16 0h0m24 2h0m27-1h0m2022 3h0m22-4h0m38 4h0m18-1h0m37-3h0m21 0h0m32 2h0m21-2h0m19-1h0m7 4h0m10 0h0m20-1h0m8 2h0m98-5h0m17 4h0m11-2h0m12 3h0m26 0h0m5-5h0m22 1h0m8 2h0m8-1h0m10 2h0m11-3h0m11 2h0m12 2h0m18-2h0m19 1h0m16 0h0m12-1h0m6 1h0m6-3h0m8 2h0m6 2h0m14-4h0m11 4h0m8-2h0m-3194 3h0m23 2h0m81 1h0m11 2h0m36-4h0m54 0h0m136 1h0m54 2h0m66-2h0m31 3h0m8-5h0m8 1h0m2092 1h0m93-2h0m28 3h0m19-2h0m29-1h0m61 0h0m7 0h0m82 5h0m7-1h0m16 0h0m9 0h0m11 0h0m5-3h0m5 3h0m13 1h0m8-4h0m6 2h0m10-2h0m6 3h0m13 1h0m6-1h0m24 0h0m6-2h0m14-2h0m24 4h0m6 0h0m21-4h0m12 5h0m7-2h0m9 0h0m17 1h0m5-3h0m12 0h0m4 0h0m-3222 8h0m8 1h0m72-1h0m36-2h0m38-1h0m27 4h0m24-1h0m173-2h0m8 0h0m85 2h0m13 1h0m14 1h0m33-3h0m21 0h0m2068-2h0m121 3h0m35 1h0m39-4h0m7 2h0m20 3h0m8-5h0m95 0h0m38 2h0m22-2h0m17 5h0m14-3h0m16 2h0m7 0h0m9-2h0m28 2h0m10-4h0m6 3h0m11 2h0m31-1h0m19 1h0m6-4h0m8 3h0m3-4h0m15 4h0m6-3h0m9 0h0m-3154 10h0m21 0h0m84-1h0m17-2h0m24 0h0m107-1h0m54 1h0m18 0h0m8-2h0m48 1h0m9 2h0m112 0h0m2118-2h0m46 2h0m12 1h0m17-2h0m19 2h0m7-4h0m8 1h0m10 3h0m22-2h0m117 2h0m29 0h0m6-3h0m10 4h0m10 0h0m13-3h0m16 3h0m41-1h0m7-2h0m6-1h0m10 4h0m11-2h0m7 2h0m9-1h0m11-2h0m18-2h0m4 4h0m7-2h0m7 0h0m9 3h0m5-4h0m11 4h0m9-3h0m20 3h0m-3204 2h0m79-1h0m26 1h0m57 0h0m28 3h0m22-2h0m255-1h0m9 1h0m26-2h0m12 0h0m8 5h0m2073-4h0m58-1h0m87 3h0m17-2h0m18 2h0m23-3h0m21 0h0m15 1h0m8 4h0m9 0h0m99-2h0m16-2h0m19 4h0m5-1h0m11 1h0m31-1h0m6-4h0m2 5h0m17-2h0m27 1h0m17 1h0m7-5h0m10 2h0m6 2h0m7-3h0m12 3h0m21-2h0m27-2h0m6 3h0m-3262 7h0m12 1h0m27-5h0m21 4h0m217-2h0m75 2h0m82-3h0m10 4h0m19-2h0m14-2h0m21 4h0m10-3h0m12-2h0m48 2h0m10 0h0m20 1h0m9-3h0m2039 3h0m14 0h0m7 1h0m12-2h0m106 3h0m31-4h0m17-1h0m17 3h0m48-1h0m99-1h0m22 1h0m14 0h0m42 0h0m25 3h0m15-4h0m8 3h0m8 0h0m11-3h0m17-1h0m12 4h0m5-3h0m10 4h0m9 0h0m4-5h0m7 5h0m15-3h0m5 3h0m11 0h0m8 0h0m7 0h0m2-5h0m-3166 8h0m36 0h0m9 0h0m33 1h0m50 1h0m7-4h0m8 2h0m20-1h0m8 1h0m144 2h0m75-1h0m11-2h0m35 0h0m20 4h0m51-1h0m2052-1h0m28 0h0m39-1h0m17 3h0m64-5h0m43 3h0m19 1h0m11-3h0m25 0h0m126 3h0m20-4h0m23 3h0m22-1h0m24-1h0m4 4h0m7-2h0m8 2h0m11-5h0m20 2h0m8-1h0m14-1h0m10 4h0m12 1h0m29-2h0m30 2h0m5-4h0m-3201 5h0m32 5h0m28-1h0m44 0h0m21 1h0m14-3h0m168 0h0m59 1h0m35-1h0m30 0h0m36-2h0m39 4h0m10-1h0m23-2h0m2047 0h0m37-1h0m50 0h0m49 0h0m32 5h0m13-4h0m12 0h0m20 4h0m8-1h0m16-3h0m116 0h0m25 2h0m23-3h0m30 2h0m15 1h0m24 2h0m12-4h0m18-1h0m6 3h0m10-1h0m8-1h0m9 1h0m11-2h0m2 5h0m24-5h0m6 3h0m-3206 8h0m138-1h0m60-4h0m39 5h0m169 0h0m60-3h0m38-1h0m65 1h0m19 0h0m2079 0h0m30 2h0m75-4h0m18 2h0m23 3h0m170-4h0m48 0h0m12-1h0m11 0h0m7 2h0m8 1h0m9 0h0m6-2h0m10-1h0m17 1h0m6 0h0m5 4h0m15-3h0m12 1h0m7-1h0m5 3h0m10-4h0m13 1h0m5 3h0m5-1h0m26-3h0m6-1h0m11 1h0m2 0h0m2-1h0m-3181 6h0m12 0h0m33 2h0m62-1h0m44 1h0m126 3h0m45-5h0m8 4h0m26-4h0m26 1h0m17 3h0m13-2h0m79 0h0m2154 3h0m29-5h0m6 3h0m47 1h0m9 1h0m11-2h0m17-1h0m7-2h0m18 3h0m20-3h0m19 0h0m4 0h0m103 2h0m43 1h0m6-3h0m28 2h0m11 2h0m12-4h0m9 0h0m9 1h0m12 4h0m19-5h0m6 3h0m6 2h0m11-2h0m7 2h0m10-3h0m8 3h0m6-1h0m7-2h0m10 0h0m7 0h0m-3113 7h0m37 1h0m91 1h0m128-1h0m15 0h0m21-4h0m13 4h0m32 0h0m22 0h0m31-4h0m46 4h0m11 0h0m30-4h0m2055 1h0m42-1h0m27 4h0m11-3h0m40 1h0m42 1h0m42 0h0m10 1h0m7-2h0m20 2h0m106-4h0m19 0h0m12 5h0m24 0h0m27-1h0m7-3h0m14 4h0m3-5h0m2 5h0m6-2h0m7-3h0m5 3h0m8 2h0m10-1h0m8-4h0m9 3h0m8 2h0m6-1h0m23-2h0m27 0h0m19-2h0m-3137 6h0m8 4h0m14-4h0m24 5h0m11-1h0m21-2h0m223 0h0m29 0h0m109 2h0m2109 0h0m84-4h0m32 4h0m10-3h0m10 0h0m56 3h0m8 1h0m8 0h0m157-4h0m14 3h0m7-2h0m16 3h0m16-5h0m21 1h0m6 3h0m13 0h0m8-2h0m7 0h0m11 0h0m13-1h0m8 2h0m21-1h0m5 3h0m4-5h0m6 4h0m7 1h0m5-4h0m18 3h0m-3137 7h0m12-1h0m46 0h0m57-2h0m32-1h0m135 4h0m8-3h0m100 1h0m54 0h0m19 1h0m11-4h0m2101 0h0m20 5h0m69-2h0m10 0h0m36 2h0m10 0h0m16-1h0m14 0h0m48-2h0m6 0h0m140 2h0m8 1h0m3-5h0m5 4h0m22-2h0m15-2h0m7 2h0m15-2h0m8 4h0m8-3h0m20 0h0m7 2h0m14 2h0m5-5h0m24 4h0m38-3h0m-3185 10h0m29-4h0m34-1h0m52 0h0m34 2h0m20 0h0m21 3h0m4 0h0m139 0h0m10 0h0m50-5h0m27 4h0m92-3h0m15 4h0m2102-4h0m24 2h0m10-2h0m10 2h0m72-3h0m25 2h0m30 1h0m8-2h0m8 0h0m21 2h0m142 1h0m39-4h0m21 1h0m24 2h0m19-1h0m10-2h0m7 1h0m13-1h0m10 4h0m6 1h0m8-5h0m6 1h0m10 2h0m14 1h0m8-2h0m8 1h0m-3151 7h0m58-3h0m11 1h0m9-2h0m8 2h0m9-2h0m13 4h0m50 1h0m136-3h0m88 0h0m89-1h0m29 4h0m2090-3h0m9 3h0m29-3h0m39-1h0m26 2h0m8-1h0m11-1h0m24 3h0m32 1h0m12 0h0m19-5h0m6 3h0m126-2h0m17 4h0m20-3h0m11-1h0m9-1h0m5 3h0m24 0h0m8 2h0m14-2h0m6 2h0m13-2h0m14-3h0m5 4h0m8-2h0m23 3h0m14-1h0m5-3h0m12 3h0m12-1h0m-3164 8h0m19 0h0m11-5h0m28 1h0m16 2h0m93-2h0m0 4h0m173-4h0m44 0h0m8 3h0m47-2h0m2178 3h0m18-5h0m132 2h0m8 3h0m26-3h0m158 0h0m3 3h0m0-4h0m14 2h0m10-2h0m7 0h0m18 2h0m7-2h0m5 3h0m6-1h0m23 2h0m12-4h0m10 3h0m8 1h0m9 0h0m10-2h0m6-1h0m37 0h0m6 1h0m-3141 5h0m43 1h0m13-3h0m36 1h0m41 4h0m11-2h0m160 1h0m37-2h0m114 1h0m33-2h0m2131 3h0m36-4h0m19 1h0m8 3h0m95 1h0m188-2h0m3 1h0m15-1h0m28-1h0m10 2h0m5-3h0m7 4h0m18-5h0m6 3h0m7 2h0m26-1h0m13-1h0m6 0h0m7-3h0m4 4h0m12 1h0m6-1h0m-3139 7h0m28-4h0m29 3h0m17 0h0m18-1h0m24-3h0m209 1h0m24 2h0m11-2h0m33-1h0m17 1h0m9 0h0m15 0h0m24 4h0m20-4h0m2135 1h0m23-1h0m27 1h0m77-2h0m31 0h0m8 1h0m7 3h0m6-2h0m162-1h0m13 2h0m1 0h0m6 2h0m6 0h0m18-1h0m23 1h0m7-5h0m11 2h0m8 1h0m31-3h0m5 3h0m14 2h0m8-1h0m10-3h0m15 3h0m-3157 5h0m12 0h0m23-1h0m24 0h0m12 1h0m68 2h0m220-5h0m10 3h0m12 1h0m96 0h0m2168-1h0m1-3h0m23 0h0m12 5h0m29-4h0m6 2h0m9-1h0m50 1h0m17 1h0m17 0h0m180-3h0m0 0h0m3 1h0m2 0h0m6 3h0m14 0h0m15-2h0m7-2h0m4 4h0m26-2h0m8 2h0m7-5h0m8 0h0m9 1h0m17 4h0m8 0h0m6-3h0m8 2h0m15-1h0m8-3h0m-3137 6h0m33 3h0m22-3h0m6 5h0m10 0h0m8-4h0m402-1h0m2153 2h0m31 2h0m7 1h0m29 0h0m283-3h0m9 3h0m8-2h0m10-1h0m13-2h0m7 2h0m42 0h0m6 0h0m10 3h0m6-1h0m19 0h0m6-4h0m-3125 7h0m6 4h0m8-3h0m36-1h0m52 2h0m26-3h0m235 0h0m20 2h0m66 0h0m2197 0h0m6 0h0m6 3h0m41-3h0m27-2h0m38 4h0m9-4h0m225 5h0m6-1h0m22-1h0m6 0h0m12 2h0m7-1h0m14-3h0m3 4h0m8-4h0m4 1h0m11 2h0m7 0h0m12 0h0m14-3h0m0-1h0m-3084 8h0m29-1h0m17 1h0m25-1h0m293 0h0m61 0h0m2204 4h0m18-5h0m50 3h0m17-2h0m11 0h0m245-1h0m10 4h0m18-2h0m21 0h0m16 2h0m9-4h0m6 5h0m18-5h0m-3064 9h0m20-2h0m40-1h0m300 2h0m2281 1h0m62-2h0m274 1h0m1-1h0m35 1h0m11 3h0m13-1h0m10-4h0m0 1h0m-36 5h0m-3024 34h0m34-1h0m0-3h0m20 3h0m3 2h0m311-2h0m29 2h0m2261-3h0m13 1h0m328-1h0m19 2h0m0-3h0m18 4h0m-3037 3h0m1 0h0m59 2h0m19-3h0m277-1h0m13 5h0m19-1h0m2-4h0m41 3h0m2194 2h0m9-3h0m5 3h0m8-1h0m28 1h0m8-2h0m0 2h0m26-1h0m11-2h0m15 3h0m255-4h0m4 2h0m14 0h0m11 2h0m13-1h0m7 1h0m9-3h0m3 1h0m-3075 8h0m3 0h0m54-1h0m20 1h0m20-3h0m21 0h0m2 3h0m228-2h0m36-3h0m18 2h0m20 3h0m2283-1h0m19 1h0m31 0h0m6-4h0m8 3h0m220-2h0m5-2h0m15 3h0m9-1h0m63 3h0m9-4h0m6 2h0m18 1h0m-3131 7h0m3 0h0m3-5h0m8 1h0m13 1h0m5 1h0m17 1h0m59 1h0m16-2h0m20-3h0m8 4h0m203-1h0m38 1h0m67 1h0m21-4h0m3 0h0m9 0h0m2184 1h0m105-1h0m4 4h0m229-1h0m2 1h0m5-2h0m2 1h0m27-4h0m6 1h0m14 2h0m11 0h0m21 2h0m10 0h0m12-3h0m12 2h0m-3126 4h0m128 3h0m7-5h0m196 4h0m7-3h0m9 4h0m144-2h0m0-2h0m2164 3h0m33-4h0m45 2h0m34 1h0m8 1h0m9 1h0m202-5h0m8 0h0m8 1h0m20 1h0m41 3h0m7-1h0m8-3h0m7 1h0m24 0h0m9 2h0m-3144 6h0m23-4h0m6 2h0m12-2h0m16 3h0m22 1h0m60-1h0m24 1h0m15-1h0m170 1h0m48 1h0m48-2h0m25 1h0m13 0h0m49 0h0m2121-3h0m127 4h0m41 0h0m8-2h0m171-3h0m6 2h0m17-2h0m18 0h0m23 5h0m20-4h0m25 2h0m16 1h0m30-4h0m-3159 8h0m15 1h0m7 1h0m11-2h0m79 3h0m15-4h0m9-1h0m14 3h0m13 0h0m28-3h0m164 3h0m10 0h0m23 2h0m71-4h0m25 4h0m2192-1h0m82-4h0m38 3h0m10-1h0m26 0h0m6 3h0m152 0h0m7-2h0m49 0h0m35 1h0m11-4h0m60 3h0m9 0h0m12 1h0m-3181 5h0m30 2h0m7-1h0m42-2h0m35 1h0m30 1h0m48-1h0m198 2h0m54-5h0m15 1h0m93 2h0m2092 1h0m4 0h0m94-1h0m53-2h0m39-1h0m3 4h0m8-3h0m160-1h0m5 5h0m29-5h0m7 0h0m50 0h0m8 1h0m19 1h0m37 2h0m14-2h0m10 1h0m12 1h0m-3195 3h0m4 2h0m3 0h0m7 2h0m2-3h0m9 3h0m19-3h0m29 2h0m7 0h0m17-3h0m80 1h0m16 1h0m5 1h0m179-3h0m39 3h0m8-1h0m52-3h0m62 0h0m22 4h0m2098-3h0m13-1h0m14 3h0m30 0h0m17-3h0m86 4h0m26 1h0m143-1h0m2 0h0m5-4h0m8 3h0m14 0h0m22-1h0m12 0h0m13-2h0m9 1h0m26-1h0m26 2h0m9 3h0m9 0h0m8-1h0m15-3h0m16 1h0m9 2h0m11-4h0m-3189 8h0m26 2h0m14-4h0m14 0h0m87 3h0m14 0h0m6-1h0m31 3h0m8-3h0m124-1h0m47 2h0m24-1h0m33 3h0m18-1h0m28-4h0m28 5h0m33-1h0m2086 1h0m30-2h0m62 1h0m47 1h0m8-3h0m9-1h0m19 2h0m19 1h0m173 0h0m9-3h0m11 1h0m14-1h0m11 0h0m14-1h0m9 1h0m22 2h0m10-2h0m60-1h0m6 3h0m7-3h0m11 5h0m12-3h0m4 3h0m4-3h0m5 2h0m-3221 5h0m7 0h0m7-1h0m18 1h0m20 2h0m37-3h0m22-1h0m19-1h0m52 4h0m7-1h0m7 2h0m152-4h0m11 0h0m8 2h0m37 1h0m11 0h0m22-1h0m71-3h0m72 4h0m2068 0h0m1-2h0m10-2h0m35 2h0m74 2h0m8-1h0m14 1h0m79-3h0m8 4h0m0-4h0m116-1h0m41 3h0m9 0h0m9-2h0m24 3h0m9-1h0m13 1h0m60-3h0m23 3h0m20 1h0m8-2h0m-3205 3h0m2 2h0m2 0h0m28 0h0m17 3h0m20-1h0m16-1h0m16-2h0m46 0h0m30 3h0m11 1h0m15-5h0m3 5h0m166-2h0m7-2h0m27 2h0m24 1h0m21-3h0m45 4h0m2139 0h0m70-1h0m7-4h0m81 1h0m7 4h0m17-5h0m29 1h0m13 4h0m128-4h0m7-1h0m12 1h0m33 4h0m16-2h0m32-3h0m16 4h0m5 1h0m20-4h0m19-1h0m7 1h0m10 3h0m7-2h0m15-1h0m18 3h0m8-2h0m-3225 8h0m8 0h0m8 1h0m8-5h0m8 1h0m21 1h0m57 0h0m7 2h0m6-4h0m10 5h0m8-2h0m56 1h0m153-3h0m30 4h0m10-2h0m68 0h0m11 0h0m14 2h0m40-3h0m2121-1h0m12 2h0m16 0h0m17-2h0m8 1h0m15 2h0m27-4h0m27 4h0m11-3h0m9 3h0m14-4h0m22 0h0m41 0h0m17 2h0m125-2h0m14 2h0m12 2h0m30 1h0m28 0h0m6-3h0m25 2h0m2 0h0m5-3h0m44 3h0m24-3h0m7 1h0m8-2h0m24 0h0m2 5h0m-3233 6h0m23-2h0m10 1h0m12-3h0m17 4h0m6-2h0m20 1h0m9 0h0m13-2h0m14-1h0m24-1h0m55 0h0m35 5h0m11-4h0m142 4h0m130-1h0m2122-2h0m8 2h0m7-1h0m22 2h0m31 0h0m17 0h0m61-2h0m15-3h0m14 3h0m35-3h0m40 5h0m105-5h0m25 2h0m33 3h0m9-5h0m8 0h0m26 5h0m32-3h0m22 1h0m9-3h0m15 1h0m25 2h0m10-3h0m22 1h0m-3229 9h0m17 0h0m13 0h0m6 0h0m68-2h0m6-2h0m44 1h0m5 4h0m20-2h0m8-2h0m37 4h0m23-5h0m1 4h0m164-3h0m7 0h0m41-1h0m49 2h0m22 2h0m7-4h0m56 4h0m2035 0h0m8-1h0m4 1h0m117 0h0m47-4h0m37 4h0m7-1h0m128-3h0m7 1h0m3 1h0m4-2h0m33 5h0m26-3h0m2-2h0m52 3h0m9-2h0m22 1h0m37 2h0m10 0h0m25-2h0m10 0h0m10 1h0m7 0h0m-3170 3h0m8 3h0m13 1h0m13 1h0m67 0h0m7-3h0m19-2h0m10 3h0m15 0h0m188-3h0m20 1h0m63 2h0m19-1h0m2126-1h0m26 3h0m21 1h0m6-4h0m22 0h0m26 1h0m18-2h0m28 4h0m21-4h0m23 1h0m9-1h0m29 2h0m21 0h0m13 1h0m82-3h0m12 3h0m9 0h0m7 1h0m10-4h0m27 0h0m2 0h0m10 1h0m25 3h0m15-3h0m27-1h0m6 4h0m21-1h0m13-1h0m18 2h0m9 1h0m11-3h0m8 0h0m14 3h0m18 0h0m1-3h0m-3244 7h0m6-3h0m15 3h0m19-2h0m4 4h0m6-5h0m7 0h0m15 5h0m40-1h0m14-1h0m13-3h0m7 1h0m16 2h0m38-1h0m54-2h0m142 4h0m61-1h0m2194-1h0m40 1h0m17-1h0m42-1h0m8 4h0m6-4h0m22 4h0m10-1h0m8-1h0m42-2h0m8-1h0m21 4h0m21-4h0m89 4h0m17 1h0m18 0h0m25-4h0m20-1h0m6 3h0m37-1h0m50-1h0m61 2h0m15-2h0m-3251 5h0m5 4h0m36-1h0m9 0h0m16-1h0m11 1h0m7 0h0m9 2h0m14-5h0m5 3h0m13-1h0m10-1h0m14 0h0m7 2h0m14-3h0m6 3h0m7-1h0m12 3h0m14-1h0m55-1h0m6 2h0m186-3h0m40-2h0m11 1h0m26 0h0m10 3h0m21-2h0m57-2h0m2227 2h0m8-2h0m15 1h0m31-1h0m89 5h0m4-1h0m1-4h0m12 3h0m21-2h0m13 3h0m17-1h0m13-1h0m30 2h0m27-2h0m12-1h0m12 0h0m7 4h0m32-2h0m7 0h0m13-3h0m8 0h0m15 3h0m8-3h0m13 3h0m-3253 6h0m6 1h0m24-2h0m32 3h0m20-2h0m20 1h0m17 1h0m6-3h0m12-2h0m20 3h0m9-3h0m53 5h0m13-2h0m41-3h0m81 0h0m43 0h0m64 0h0m25 2h0m34 0h0m2213 2h0m10-4h0m8 4h0m27-3h0m7 4h0m14-1h0m189-2h0m2 2h0m21 0h0m14-2h0m8 1h0m16-1h0m9 2h0m16-4h0m42 5h0m9-2h0m10-2h0m15 3h0m29-4h0m23 4h0m23 1h0m17-3h0m15 0h0m7 2h0m-3235 4h0m11 0h0m8 2h0m8 1h0m28 0h0m4-5h0m6 2h0m7 2h0m8-3h0m25-1h0m16 3h0m30-1h0m18 1h0m6-1h0m8-1h0m26 4h0m34-5h0m3 2h0m0-1h0m82 3h0m19-2h0m42 3h0m9-5h0m14 2h0m10 1h0m73 0h0m32 0h0m10 2h0m2091-2h0m9 0h0m27-2h0m18 1h0m34 3h0m17-2h0m9-1h0m38 3h0m11-2h0m30 2h0m9-4h0m18 2h0m17-1h0m109 1h0m32 1h0m6-4h0m36 1h0m22 0h0m43 0h0m18 2h0m6-2h0m25 0h0m12 3h0m38-1h0m10 0h0m12 0h0m-3256 8h0m1-5h0m34 1h0m7 3h0m13-4h0m61 1h0m13 4h0m16 0h0m9-5h0m53 3h0m131-2h0m2 4h0m42-5h0m71 1h0m34 2h0m20-2h0m15 4h0m10 0h0m2098-3h0m36-1h0m34 1h0m46 1h0m18 1h0m21-2h0m46 2h0m18-1h0m9-1h0m11 2h0m21 0h0m22-1h0m88-1h0m16 1h0m43-3h0m8 1h0m10-1h0m8 0h0m14 3h0m33 0h0m7 1h0m7-3h0m15 2h0m12 0h0m7 2h0m22-4h0m14 3h0m-3227 7h0m4-3h0m54 3h0m45-3h0m7-2h0m8 4h0m10-3h0m19 1h0m6 3h0m10-5h0m14 3h0m10-2h0m4 4h0m7 0h0m3-5h0m22 5h0m9-2h0m9 0h0m37 2h0m92-5h0m34 1h0m26 3h0m9 1h0m6-5h0m66 0h0m15 2h0m88 3h0m4 0h0m4-1h0m2051-2h0m17 2h0m27-4h0m28 0h0m23 5h0m15-5h0m13 3h0m17 1h0m8-3h0m29 1h0m47 3h0m9-1h0m8-3h0m73 4h0m4-3h0m14-2h0m8 3h0m17 0h0m13-2h0m11 4h0m20-5h0m13 0h0m10 0h0m8 2h0m31 0h0m11 3h0m9-4h0m7 2h0m18 1h0m16-2h0m11-2h0m38 3h0m9-3h0m7 3h0m9 0h0m-3273 7h0m9-1h0m60-2h0m60 3h0m7-2h0m6 1h0m28 0h0m17-2h0m16 4h0m6-4h0m10 1h0m8 3h0m54-2h0m89-2h0m7-1h0m21 0h0m26 3h0m109 1h0m58-4h0m15 2h0m2036-2h0m48 5h0m24-4h0m13 0h0m21 3h0m6-4h0m31 1h0m7 4h0m10 0h0m77-5h0m137 4h0m26-2h0m9 1h0m13-2h0m31 1h0m6 3h0m10 0h0m12-5h0m4 5h0m5-5h0m12 2h0m12 2h0m15-4h0m15 5h0m8-3h0m9-1h0m11-1h0m6 4h0m14-4h0m10 5h0m27-5h0m-3271 6h0m6 2h0m2 0h0m54 2h0m19-4h0m8 1h0m34 3h0m31-4h0m22 5h0m14-5h0m20 2h0m6 0h0m32-2h0m98 0h0m8 2h0m66 2h0m8 0h0m8-4h0m59 4h0m20 0h0m44 1h0m36-2h0m2047 0h0m7-2h0m32-1h0m18 2h0m10 0h0m10 0h0m38 3h0m9 0h0m12-4h0m52 4h0m44-5h0m7 2h0m17-1h0m98 2h0m24 0h0m9-3h0m7 0h0m34 2h0m12-2h0m14 4h0m43-3h0m20 4h0m6-5h0m8 2h0m7-1h0m25 3h0m10 1h0m11-3h0m24 0h0m11 0h0m9 1h0m-3274 6h0m13 0h0m2-1h0m23 0h0m13-2h0m13 4h0m7-2h0m17-2h0m42 5h0m33-3h0m10 3h0m19-1h0m39-4h0m18 0h0m26 4h0m102-2h0m7 2h0m21 0h0m41-3h0m12-1h0m32 0h0m20 2h0m24 1h0m44 1h0m19 0h0m15-3h0m20-1h0m2032 2h0m22 1h0m14 2h0m23-1h0m22-3h0m44-1h0m13 3h0m19-1h0m71-2h0m8 2h0m18 0h0m101 0h0m20 3h0m18-5h0m15 4h0m8-2h0m36-2h0m6 4h0m21 0h0m6-4h0m25 3h0m19-2h0m7-1h0m30 4h0m-3155 3h0m29-1h0m32 1h0m9-1h0m16 4h0m7 1h0m52-5h0m12 2h0m22-2h0m20 4h0m87 0h0m13 1h0m73-2h0m10 2h0m29-1h0m9-3h0m50 4h0m59-3h0m2045-2h0m45 3h0m15-2h0m45 1h0m10 0h0m25-1h0m10 2h0m14 0h0m9 0h0m28 1h0m24-2h0m14-2h0m25 5h0m18-4h0m61 3h0m61-1h0m8 0h0m8 2h0m18-3h0m12 1h0m10 2h0m10-1h0m36-4h0m45 1h0m7-1h0m7 2h0m23 2h0m14-4h0m25 5h0m-3260 6h0m2-3h0m28 2h0m31-4h0m33 3h0m7 0h0m8 0h0m11-3h0m9 0h0m6 5h0m6 0h0m22-4h0m95-1h0m1 4h0m80 0h0m28-4h0m31 1h0m27 0h0m7 4h0m45-1h0m25-3h0m19 2h0m26-2h0m30 0h0m8 2h0m32-3h0m2020 1h0m51 4h0m45 0h0m13-1h0m21-4h0m27 5h0m27 0h0m6-5h0m54 0h0m98 0h0m7 3h0m22 1h0m12-3h0m16 4h0m12-1h0m19-2h0m9 1h0m8 1h0m28-4h0m36 4h0m7-2h0m18 3h0m46 0h0m-3203 6h0m9 0h0m16-4h0m9 0h0m7 2h0m47 0h0m15 1h0m22 1h0m15-3h0m7 3h0m70-1h0m106 0h0m65-2h0m45 3h0m55 0h0m5-5h0m29 5h0m26-5h0m2091 4h0m94 1h0m15-3h0m8 3h0m30-4h0m26 0h0m13-1h0m27 1h0m109 4h0m9-1h0m9-4h0m30 2h0m11 3h0m6-3h0m31 1h0m7 2h0m39-5h0m9 5h0m8 0h0m17-1h0m32-3h0m27 4h0m10 0h0m9-3h0m6 3h0m14-2h0m7-1h0m-3263 6h0m6 2h0m19 1h0m19-5h0m7 2h0m15 2h0m25-4h0m7 5h0m4-5h0m8 5h0m13-2h0m19 1h0m22 0h0m35-1h0m28-1h0m6-1h0m30 1h0m6-1h0m5 2h0m115 0h0m102-1h0m22 3h0m21-4h0m18 1h0m30 1h0m7-3h0m13 1h0m2092-1h0m20 0h0m11 0h0m8 3h0m30-2h0m22 0h0m19 4h0m50 0h0m8-2h0m12-1h0m129 1h0m7-3h0m24 1h0m10 4h0m6-3h0m12 2h0m15 0h0m13 1h0m9-2h0m8 0h0m9-2h0m8 2h0m28-1h0m6 3h0m28-4h0m12 3h0m34 0h0m18-3h0m15 0h0m-3270 6h0m12 3h0m34-4h0m23 4h0m10-4h0m50 3h0m18 1h0m49-4h0m21 0h0m10 5h0m15-4h0m7 0h0m12 3h0m14-4h0m72 0h0m29 5h0m43 0h0m85 0h0m48-2h0m16 1h0m33-4h0m9 3h0m9-2h0m5-1h0m2026 5h0m12 0h0m16-3h0m8 3h0m19-4h0m8 0h0m16 1h0m24-2h0m6 4h0m11-1h0m16 0h0m18 2h0m102-1h0m9-3h0m76 1h0m4-1h0m19 2h0m21 1h0m24-2h0m26 2h0m39 1h0m6-2h0m10-3h0m32 1h0m7-1h0m17 2h0m35 3h0m35-4h0m-3257 9h0m27-3h0m27 2h0m21-2h0m8 2h0m6 2h0m15-4h0m6-1h0m35 1h0m16 3h0m13-4h0m21 1h0m19 4h0m36-3h0m11 1h0m303-1h0m25-1h0m25 0h0m2049-1h0m26 2h0m10 1h0m29-3h0m94 2h0m80 1h0m84 0h0m26-3h0m24 0h0m8 0h0m10 2h0m7 0h0m9-1h0m15 1h0m19-1h0m8 4h0m8 0h0m16-5h0m22 2h0m25 3h0m10-3h0m12 1h0m28 2h0m-3224 1h0m10 2h0m19 1h0m10-3h0m46 5h0m88-4h0m13 0h0m14 1h0m24 2h0m29-1h0m98 1h0m13-2h0m119 1h0m35 1h0m12-3h0m7 3h0m19 0h0m20-3h0m7 4h0m2058-3h0m10 2h0m19-3h0m27 1h0m11-2h0m24 0h0m8 4h0m20 1h0m9 0h0m5-5h0m13 3h0m30 2h0m8-5h0m151 5h0m6-3h0m15 3h0m11-5h0m10 1h0m24 2h0m11 0h0m11-1h0m16 3h0m6-4h0m11 1h0m23 1h0m24-2h0m10 3h0m27-2h0m8 0h0m11 3h0m7-1h0m41-4h0m-3225 11h0m20-4h0m14 3h0m9-2h0m46 1h0m41-1h0m28-1h0m7 2h0m32-1h0m7 2h0m12 1h0m7-4h0m7 4h0m107-1h0m163-1h0m8 1h0m60 0h0m2069-3h0m55 0h0m13 2h0m20 1h0m31-4h0m49 3h0m24-2h0m22 1h0m10 2h0m14 0h0m79-2h0m0-2h0m4 5h0m35-3h0m21-1h0m10 3h0m15-1h0m43-2h0m19 1h0m11 2h0m9 1h0m23-2h0m10 0h0m32 2h0m-3209 1h0m3 3h0m12 0h0m15 1h0m9-2h0m12-2h0m9 4h0m26-3h0m21 0h0m11-1h0m15 2h0m6-2h0m40 1h0m157-1h0m99 2h0m62 0h0m17-1h0m28 2h0m18-3h0m25 2h0m8 0h0m2040-1h0m21-1h0m31 3h0m15-3h0m70 1h0m59 4h0m63-4h0m97-1h0m22 2h0m6 3h0m11-5h0m26 0h0m7 5h0m17 0h0m8-2h0m15 1h0m11-4h0m40 1h0m10 1h0m35 2h0m-3203 2h0m15 1h0m8 4h0m27-4h0m21 1h0m12 1h0m19-1h0m6-2h0m42 1h0m7 0h0m32 4h0m6-2h0m7-1h0m13-1h0m25 1h0m8 1h0m115-1h0m135-1h0m34-1h0m68 2h0m2074 2h0m8-3h0m23 1h0m37 3h0m24 0h0m29-2h0m8-3h0m12 5h0m183-4h0m8-1h0m23 4h0m32-3h0m13-1h0m15 3h0m10-2h0m18 0h0m6-1h0m10 4h0m7 0h0m8-3h0m16-1h0m8 4h0m22-1h0m21 0h0m7-1h0m-3221 8h0m8-4h0m9 1h0m9 4h0m18-5h0m10 3h0m7-2h0m7 2h0m13 2h0m54-1h0m58 1h0m6-3h0m11-2h0m14 0h0m7 2h0m140 2h0m8-1h0m13-2h0m10 0h0m45 1h0m34 0h0m14 0h0m21 0h0m16-1h0m2112 0h0m10 4h0m24-1h0m18-3h0m13 1h0m48-1h0m94 0h0m29 2h0m122-2h0m0 0h0m18 1h0m23 3h0m18-3h0m18 2h0m13-2h0m18-2h0m9 3h0m30-1h0m9 3h0m26-5h0m34 5h0m10-2h0m3 1h0m7-2h0m-3218 4h0m16 2h0m7-1h0m10 4h0m10 0h0m23-2h0m30-1h0m34 2h0m11-4h0m13 0h0m30 1h0m6 0h0m16 3h0m16 0h0m5-1h0m105 0h0m35-1h0m41 1h0m25-3h0m32 2h0m37 0h0m7 1h0m17-1h0m2116 3h0m96-2h0m31 0h0m103 0h0m112 2h0m20-2h0m8-3h0m17 3h0m6 2h0m7-2h0m7-1h0m7-2h0m10 1h0m12 1h0m6-2h0m14 3h0m26-3h0m21 5h0m7-4h0m29 3h0m22 1h0m11-1h0m5-3h0m0 0h0m-3228 10h0m36 0h0m26-5h0m10 3h0m7 0h0m72-1h0m70 0h0m9 3h0m118-4h0m98 1h0m70 2h0m12-4h0m41 1h0m2108-1h0m8 2h0m10-1h0m12 0h0m14-1h0m13 3h0m53 0h0m13 2h0m10 0h0m18-2h0m11 1h0m20-3h0m128 4h0m17-5h0m22 3h0m9 1h0m20-4h0m2 4h0m7-2h0m7 0h0m11 0h0m15-2h0m6 3h0m32 0h0m7 1h0m7 0h0m9 0h0m16-4h0m6 4h0m43 0h0m-3223 5h0m6 0h0m13-2h0m20 3h0m27-3h0m26 3h0m28-1h0m36 2h0m18-2h0m14-3h0m7 0h0m5 4h0m7-3h0m18 0h0m138-1h0m42 3h0m48 2h0m9-1h0m27-2h0m33 2h0m7-1h0m17 0h0m17-2h0m2090 3h0m34-1h0m21-1h0m45 0h0m7 2h0m31 0h0m73-2h0m130-2h0m31 5h0m31-5h0m7 0h0m4 3h0m8-1h0m6 2h0m8-3h0m8 2h0m17-3h0m8 0h0m7 1h0m7 4h0m38-4h0m8 3h0m6 0h0m17-2h0m-3192 9h0m7-3h0m54 2h0m16 1h0m44-5h0m17 1h0m7 4h0m23-1h0m13-3h0m30 0h0m181 4h0m9-3h0m13-2h0m8 3h0m49 1h0m84-4h0m2085 5h0m43-5h0m52 3h0m80 2h0m16-1h0m11-4h0m13 3h0m133-3h0m31 2h0m17 1h0m8-1h0m8 3h0m7-3h0m21 2h0m6 0h0m25-3h0m22 2h0m9-3h0m7 1h0m37 2h0m10 2h0m4-4h0m-3201 10h0m2-4h0m15 3h0m13 1h0m56-5h0m31 1h0m35 0h0m22 3h0m9-2h0m11 3h0m4-2h0m6-2h0m236 2h0m8-1h0m53 0h0m9 3h0m17-1h0m14-3h0m2101 0h0m14 0h0m53 2h0m39-2h0m27-1h0m18 3h0m48-3h0m146 2h0m13-1h0m7 0h0m7 2h0m13-3h0m9 4h0m46 0h0m16-2h0m15 3h0m32-4h0m14 4h0m15-1h0m7-4h0m7 5h0m5-5h0m-3184 6h0m5 4h0m7 1h0m17-3h0m42-1h0m22 0h0m35 3h0m14-3h0m19 2h0m28 1h0m182-4h0m19 3h0m19-1h0m22 3h0m11-1h0m8 0h0m44-1h0m2143-3h0m4 1h0m88 4h0m72-2h0m17-3h0m7 3h0m160-2h0m1 2h0m26 0h0m37-3h0m17 0h0m12 3h0m8-1h0m7 2h0m29-1h0m7 2h0m29-4h0m-3135 8h0m25-3h0m38 3h0m23 1h0m22-1h0m10-2h0m13 4h0m6-1h0m19-2h0m3 2h0m169-4h0m54 5h0m58-1h0m20-3h0m49 0h0m2128 2h0m33-2h0m22 2h0m45 1h0m13-1h0m10 0h0m12 1h0m210 1h0m7-4h0m5 1h0m21 0h0m11 1h0m11-1h0m8 0h0m15 1h0m24-3h0m34 0h0m12 0h0m16 2h0m1-2h0m-3157 6h0m5 3h0m134 2h0m17-2h0m5 1h0m208-1h0m120 2h0m2-3h0m14 1h0m2248 1h0m22-2h0m18 0h0m13 1h0m194 1h0m41-2h0m65 1h0m15-1h0m17 3h0m9-5h0m-3107 8h0m15 0h0m27-2h0m22 4h0m8 1h0m39-1h0m196-4h0m8 0h0m5 4h0m19-2h0m23 3h0m11-2h0m39 0h0m14 1h0m2186-4h0m49 4h0m12-1h0m21-1h0m28-1h0m35 2h0m211-3h0m5 3h0m5-1h0m7 0h0m29 0h0m12 0h0m40 2h0m8-2h0m9 1h0m15-2h0m6 1h0m-3127 4h0m18 0h0m10 2h0m4 2h0m10-3h0m8 1h0m15-1h0m13-1h0m15 2h0m9-1h0m259-1h0m54 2h0m38 3h0m13-1h0m6-2h0m2186 3h0m84 0h0m23-4h0m1 4h0m274 0h0m23-5h0m34 3h0m7 1h0m7 0h0m0-4h0m-3082 10h0m11 0h0m42-1h0m15 1h0m260-3h0m8-1h0m4 3h0m8 1h0m9-3h0m2269 0h0m23 3h0m16 0h0m6-4h0m15 4h0m298 1h0m1 0h0m11-2h0m19-1h0m2-2h0m22 1h0m11 0h0m14 4h0m-3061 2h0m17 3h0m0 0h0m8 1h0m3 0h0m4-2h0m11 2h0m341 0h0m10-4h0m11 0h0m1 2h0m2245-1h0m11 2h0m335-1h0m5-1h0m6 1h0m1-3h0m3 5h0m4-1h0m1 1h0m34-2h0m-3025 31h0m12 0h0m2615 1h0m355-1h0m-2953 4h0m291 3h0m39-2h0m13 2h0m22 0h0m2289 0h0m10 0h0m263-2h0m6-2h0m19 0h0m2 1h0m32 1h0m7-2h0m3 2h0m7 1h0m-3063 7h0m39 0h0m16-4h0m15 4h0m18-2h0m246-1h0m101-1h0m2193 4h0m7-3h0m6 0h0m12 0h0m35-2h0m39 3h0m247-2h0m27 4h0m16-2h0m14 0h0m-3061 4h0m6 2h0m38-1h0m40 2h0m34 1h0m229 0h0m32-2h0m39 1h0m12-2h0m28-1h0m2193 3h0m15 0h0m11-1h0m33-1h0m23-2h0m8 2h0m4-1h0m3-1h0m18 1h0m218 4h0m13-3h0m6-1h0m23 3h0m9 1h0m26-1h0m8-4h0m9 0h0m14 0h0m10 0h0m5 4h0m7-2h0m-3101 6h0m22 0h0m96 1h0m233-2h0m2281 1h0m81 2h0m9-3h0m13 3h0m23 1h0m205-1h0m91-1h0m27 1h0m7-4h0m30 0h0m-3142 11h0m18-4h0m11 2h0m22 0h0m10 0h0m27 1h0m36-1h0m240 2h0m113-3h0m2160 3h0m18 0h0m42 0h0m26-3h0m51 0h0m23 2h0m194-4h0m15 4h0m9-4h0m33 1h0m93 1h0m-3130 4h0m13 3h0m14-3h0m6 3h0m61 0h0m35 1h0m215 0h0m36-2h0m32-1h0m27 3h0m2211-2h0m10 2h0m38-4h0m7 3h0m63-1h0m18-1h0m193 4h0m7 0h0m88-1h0m7-1h0m30-2h0m11 3h0m21-3h0m-3175 6h0m21 0h0m148 2h0m19-3h0m160 5h0m116-1h0m2190 1h0m7-5h0m8 1h0m9 2h0m69-3h0m91 1h0m9 4h0m141-2h0m52-1h0m11 1h0m25-1h0m31 3h0m61-5h0m16 3h0m3-2h0m-3186 5h0m35 2h0m10 0h0m9-1h0m28 3h0m43-1h0m53 1h0m14-1h0m194 0h0m38-1h0m97-1h0m2198 3h0m22-3h0m22 3h0m8-2h0m57-2h0m8 4h0m154-3h0m10 4h0m10 0h0m46-3h0m16 3h0m45 0h0m15-1h0m19-4h0m20 4h0m9-1h0m-3196 8h0m8-3h0m7 1h0m9 1h0m21-1h0m29-2h0m11 4h0m34 0h0m33-2h0m54 2h0m17-4h0m288 0h0m2177 1h0m27-2h0m7 0h0m8 4h0m18-3h0m17 0h0m232 2h0m7 1h0m17 1h0m61-1h0m57-2h0m6 3h0m10 0h0m4-4h0m23 1h0m-3144 4h0m42 5h0m15-5h0m11 1h0m20-1h0m55 2h0m15-2h0m20 1h0m164 4h0m2293 0h0m75 0h0m7-5h0m17 4h0m13 1h0m59-5h0m23 0h0m121 2h0m1 0h0m6 3h0m7-1h0m25-2h0m42 1h0m6 0h0m35 0h0m14 0h0m8-2h0m53 0h0m10-1h0m19 1h0m-3215 6h0m19 2h0m20-2h0m8-1h0m14 3h0m13 0h0m18-3h0m39 3h0m9-1h0m17 0h0m67 2h0m1-4h0m123 1h0m87 1h0m38 1h0m2172-2h0m22 1h0m14-2h0m10 3h0m7 0h0m67-2h0m39-1h0m214 4h0m12 0h0m8-2h0m22 1h0m32-2h0m50 1h0m18-1h0m60 0h0m-3229 6h0m14 4h0m8 0h0m10-2h0m22 2h0m47-2h0m7 0h0m20-3h0m45 5h0m44-2h0m8-3h0m269 5h0m2150 0h0m14-1h0m7-2h0m8 0h0m18 2h0m24-2h0m47-1h0m9 2h0m21-3h0m10 3h0m198-3h0m17 4h0m41 0h0m16-1h0m22 0h0m11 0h0m57 1h0m6-2h0m15 2h0m15-4h0m33 2h0m-3232 6h0m76-1h0m12 1h0m8 2h0m20-1h0m23-1h0m11-2h0m8 5h0m43-2h0m27-1h0m116-2h0m61 5h0m2234 0h0m5-3h0m1-2h0m35 0h0m25 4h0m79-1h0m23-2h0m28 1h0m55 1h0m99 1h0m18-1h0m25 2h0m5-5h0m16 5h0m9-1h0m17 1h0m20 0h0m16-4h0m5 4h0m6-5h0m30 3h0m11 2h0m9-5h0m38 3h0m8-1h0m14 2h0m3-2h0m-3234 7h0m13-3h0m29 5h0m9-4h0m13 0h0m19 3h0m93-2h0m295 1h0m25-3h0m2136 4h0m17-4h0m6 4h0m26 1h0m11-5h0m25 2h0m31-2h0m24 0h0m15 1h0m31-1h0m177 1h0m11 1h0m10 1h0m13 2h0m9-4h0m28-1h0m21 2h0m60 0h0m39 0h0m10-1h0m7 0h0m-3208 8h0m10 0h0m19 2h0m9-4h0m23-1h0m5 4h0m15-1h0m13-1h0m7-1h0m17 3h0m14-1h0m227-2h0m25 4h0m201-4h0m2049 3h0m37-3h0m23 1h0m13 2h0m10 1h0m11-1h0m8-2h0m23 0h0m9 1h0m7 2h0m16-3h0m18 1h0m79-1h0m112 0h0m27-2h0m10 5h0m13-2h0m7-3h0m14 2h0m7 1h0m30-1h0m30-2h0m7 4h0m7 1h0m7-2h0m10-2h0m6-1h0m21 1h0m14 3h0m9 1h0m6-3h0m-3232 6h0m104 1h0m41 2h0m6-4h0m77-1h0m29 5h0m296-5h0m56 5h0m2036-4h0m2-1h0m24 0h0m24 3h0m13 1h0m40-1h0m14-1h0m8 1h0m20-2h0m15 1h0m53-2h0m30 2h0m20-2h0m99 4h0m60-2h0m6 0h0m11 1h0m20 0h0m21 2h0m22-1h0m35-2h0m6 1h0m66 0h0m-3234 5h0m29-1h0m7 0h0m19 2h0m24 2h0m8-2h0m15 0h0m30-1h0m34-1h0m79 0h0m1 4h0m2370 0h0m4-4h0m9 2h0m17-1h0m13 0h0m44 1h0m15-3h0m7 4h0m56 0h0m98 0h0m13 0h0m110 0h0m9 1h0m49-3h0m41 1h0m16 1h0m17-1h0m14-3h0m27 1h0m11 0h0m28-1h0m15 5h0m-3250 6h0m15-1h0m17-4h0m32 1h0m21 1h0m60 2h0m11-1h0m81-1h0m201-2h0m117 0h0m10 3h0m2101 1h0m7-4h0m12 5h0m15-5h0m15 0h0m14 3h0m79-2h0m40-1h0m66 3h0m80 0h0m9 2h0m9-4h0m28 1h0m8-2h0m20 1h0m18 3h0m14 1h0m12-1h0m13 1h0m5-4h0m17-1h0m10 5h0m55-2h0m-3198 8h0m37-1h0m51-3h0m26 3h0m23 0h0m7 1h0m37-3h0m9 3h0m22-4h0m27 4h0m10-5h0m139 5h0m45-5h0m26 1h0m118 0h0m2044 3h0m24-4h0m35 2h0m14-2h0m13 3h0m31-1h0m12 2h0m16-3h0m77-1h0m26 3h0m102-2h0m41 3h0m34 1h0m5-1h0m2 0h0m14-2h0m10 2h0m27-4h0m11 5h0m5-5h0m6 5h0m6-3h0m18 3h0m76-2h0m-3200 7h0m17-1h0m10 0h0m13 1h0m19-1h0m86-1h0m30-1h0m8 4h0m12-3h0m36 1h0m90 0h0m23-1h0m39 1h0m2248 2h0m39-2h0m19 1h0m15-3h0m30 2h0m37-2h0m45 1h0m34-2h0m20 4h0m71-2h0m53 2h0m14-3h0m10 1h0m1 3h0m16-5h0m13 4h0m9 1h0m8-2h0m16-3h0m13 3h0m17 1h0m6 1h0m16-4h0m20 2h0m10 0h0m25-2h0m-3240 6h0m3 0h0m21 2h0m91 1h0m26 1h0m12-3h0m10 3h0m9-3h0m9 0h0m24-2h0m177 3h0m2269 1h0m10-4h0m32 1h0m37 2h0m53 1h0m29 1h0m70-5h0m23 2h0m9-1h0m16 0h0m108 0h0m7 4h0m17-2h0m31-2h0m27 3h0m11-3h0m11 1h0m12-2h0m25 2h0m7 0h0m7 0h0m6 2h0m17 0h0m37-3h0m10 4h0m-3254 3h0m18 2h0m117 1h0m12-3h0m27 2h0m7-3h0m8-1h0m34 4h0m17 1h0m176 0h0m138-4h0m35 4h0m2049-1h0m27-1h0m8-1h0m46 2h0m12-3h0m21 0h0m8 3h0m31-4h0m6 5h0m10 0h0m22-1h0m10-3h0m9 2h0m14 0h0m8-1h0m7-1h0m17 4h0m11-3h0m93 2h0m25-4h0m9 5h0m11-4h0m9 4h0m7-4h0m10 1h0m7-2h0m13 0h0m8 0h0m4 2h0m4 1h0m4 0h0m12 0h0m19 1h0m23 0h0m16-1h0m-3167 6h0m13-3h0m20 5h0m49-1h0m73-3h0m15 3h0m35-2h0m11 3h0m37-3h0m9-1h0m99 4h0m52 0h0m106-3h0m2112 1h0m33 0h0m69-3h0m39 1h0m52 4h0m23-1h0m123-4h0m0 2h0m34-2h0m9 5h0m17-3h0m18 1h0m17-3h0m6 4h0m18-4h0m3 1h0m6 4h0m1-4h0m2-1h0m1 0h0m5 4h0m1-2h0m8-1h0m6 4h0m11-1h0m6-4h0m14 5h0m7-5h0m10 4h0m6-4h0m16 2h0m7-2h0m-3180 11h0m8-1h0m16-3h0m27 3h0m19-1h0m7-3h0m6 3h0m19 0h0m25 0h0m28 0h0m14-3h0m20 5h0m294-2h0m39-3h0m70 4h0m2031-2h0m83 2h0m22-1h0m63-3h0m86 1h0m3 4h0m5-2h0m67-2h0m12-1h0m5 5h0m9-4h0m29 4h0m6-3h0m10-2h0m7 3h0m31-1h0m1-2h0m7 1h0m5 0h0m7-1h0m3 1h0m1 1h0m1 2h0m1-3h0m1-1h0m5 3h0m46 0h0m19 0h0m9-3h0m11 2h0m8 1h0m8-1h0m-3218 5h0m7 2h0m34-1h0m11 3h0m6-5h0m58 0h0m16 3h0m14-1h0m80 0h0m35 3h0m1 0h0m93-4h0m2296 3h0m37-2h0m18 1h0m10-3h0m89 3h0m9 0h0m9-3h0m28 4h0m33-3h0m101-1h0m22 0h0m6 4h0m9-2h0m21 0h0m35 1h0m8 1h0m3-4h0m9 2h0m2 3h0m4-1h0m0-1h0m1-1h0m7-2h0m2 3h0m2 2h0m6-2h0m8-3h0m7 0h0m7 3h0m9-2h0m19 3h0m9-1h0m24 1h0m49-3h0m6 3h0m-3277 3h0m3 4h0m8 0h0m9 0h0m14-2h0m9-3h0m91 3h0m18 2h0m16-3h0m42 0h0m15-1h0m39 3h0m19-2h0m71 2h0m26 1h0m112-2h0m70-2h0m26-1h0m30 1h0m6-1h0m2035 1h0m25 1h0m54 1h0m20 1h0m34-2h0m12-1h0m57-1h0m33 4h0m20-2h0m16 1h0m81-2h0m9 2h0m26-1h0m23-2h0m13 3h0m7 0h0m6 2h0m7-4h0m4 4h0m0-4h0m1 3h0m6 1h0m2-3h0m2-2h0m4 5h0m26-4h0m7 4h0m40-2h0m22 2h0m9 0h0m30 0h0m-3209 3h0m91 2h0m46-4h0m45 2h0m31 2h0m25 1h0m1-3h0m173 1h0m137 2h0m14-2h0m2038-1h0m49-1h0m36 3h0m20-3h0m14 2h0m26 1h0m8 0h0m16-4h0m7 0h0m8 2h0m14 2h0m7-4h0m65 3h0m83-3h0m18 5h0m22-5h0m23 0h0m22 4h0m24-4h0m4 1h0m2-1h0m2 1h0m3 1h0m0 1h0m1-3h0m5 0h0m0 0h0m3 5h0m3-2h0m4-2h0m25-1h0m7 1h0m10 3h0m7-2h0m8 2h0m45-1h0m27 2h0m9-2h0m-3271 4h0m29 3h0m6-4h0m23 5h0m26-5h0m9 2h0m7 2h0m11-4h0m112 5h0m7-4h0m13-1h0m7 4h0m29 0h0m281 1h0m18-4h0m2194-1h0m42 3h0m8-2h0m12 0h0m21 2h0m7 1h0m9-3h0m33 0h0m104 2h0m9 2h0m42 0h0m9-2h0m8-1h0m16-1h0m6 4h0m10-5h0m2 3h0m3 0h0m5-1h0m3-2h0m1 3h0m2 2h0m1-3h0m3 0h0m8 0h0m15 1h0m17 2h0m104 0h0m-3269 3h0m14-2h0m21 5h0m29 0h0m42-3h0m75-1h0m14 0h0m8 3h0m8-2h0m21 0h0m26 3h0m2388-3h0m40 2h0m23-4h0m56 4h0m36 0h0m24-3h0m68 2h0m24 0h0m77 0h0m16 2h0m10-3h0m20 2h0m8 1h0m35-1h0m19-4h0m26 0h0m6 4h0m80-3h0m9 4h0m25-5h0m16 1h0m-3265 7h0m5-1h0m20-1h0m72 2h0m20 0h0m46-2h0m9 1h0m13 0h0m6 4h0m49-5h0m171 4h0m2233-3h0m37 4h0m16-1h0m14-1h0m26-3h0m40 4h0m19 1h0m15-4h0m8 1h0m22 1h0m23 2h0m35 0h0m100-3h0m36 2h0m20-1h0m10-2h0m9 1h0m65 3h0m23-5h0m14 1h0m20 4h0m17-1h0m40-2h0m-3246 7h0m30 0h0m57 0h0m29-3h0m18 5h0m104-5h0m12 3h0m12-3h0m218 0h0m46 3h0m87-2h0m2027 0h0m22 4h0m15-4h0m6 0h0m29 3h0m23-4h0m43 2h0m25 1h0m45-3h0m18 0h0m37 0h0m9 0h0m159 2h0m13 2h0m29-3h0m15 4h0m12-2h0m8-2h0m6 0h0m14 2h0m14-1h0m32 1h0m-3142 7h0m24-1h0m28-3h0m58 0h0m23 3h0m25-3h0m11 4h0m22-3h0m151 2h0m70 1h0m2166 1h0m22 0h0m26-3h0m37 2h0m14-2h0m27 3h0m19-5h0m35 1h0m31 0h0m25 2h0m12 2h0m10-1h0m3-1h0m77 2h0m6-5h0m21 5h0m9-2h0m34-2h0m6-1h0m43 2h0m10-1h0m38 0h0m39 3h0m35-4h0m9 2h0m-3218 6h0m20 1h0m19-3h0m117 5h0m19-4h0m13 2h0m7-1h0m16 1h0m15 2h0m315-1h0m49-1h0m2057 2h0m7-2h0m43-2h0m83 3h0m22 1h0m19-2h0m18 0h0m8-3h0m12 4h0m30-1h0m83-2h0m7 2h0m33-3h0m26 2h0m13-2h0m14 4h0m76-3h0m20 0h0m5 3h0m11 0h0m9-2h0m24 1h0m14-2h0m-3163 10h0m84-4h0m19 4h0m10-1h0m19-1h0m12-3h0m8 5h0m129 0h0m85-2h0m31-3h0m2276 4h0m52-1h0m12 2h0m15-5h0m15 3h0m41-1h0m13 1h0m88-3h0m40 5h0m15-1h0m11 0h0m12-4h0m49 4h0m20-1h0m19 0h0m9 0h0m28 1h0m7 0h0m25 0h0m25-2h0m3 0h0m-3228 4h0m8 0h0m55 0h0m20 3h0m11-2h0m48 1h0m40 1h0m6 2h0m31-5h0m221 0h0m32 0h0m35 2h0m60-2h0m2070 1h0m9-1h0m28 1h0m99 2h0m29-3h0m14 4h0m8 1h0m28-3h0m17-1h0m104-1h0m7 2h0m11-1h0m23 2h0m57-3h0m48 2h0m45 3h0m23 0h0m7-5h0m15 2h0m11-1h0m0-1h0m-3227 8h0m34 1h0m58 1h0m34 1h0m29-5h0m11 3h0m9-2h0m28 1h0m8 2h0m11-4h0m14 5h0m99-1h0m85-1h0m2226 2h0m12-3h0m80-2h0m16 4h0m19 0h0m13-2h0m18 1h0m8-1h0m53 0h0m8 2h0m109-2h0m17 3h0m9-2h0m15 0h0m12-2h0m30 3h0m35-2h0m29 1h0m14-2h0m34 3h0m17 1h0m8-4h0m10 1h0m10 1h0m-3225 6h0m16 1h0m99-2h0m37 0h0m69 0h0m8 3h0m144-3h0m127 2h0m2156-1h0m21 1h0m20-1h0m35-1h0m37 1h0m15 0h0m8 0h0m37-2h0m41 4h0m150-5h0m67 5h0m14-1h0m37 0h0m24 1h0m-3140 6h0m7-4h0m10 2h0m12-2h0m7-1h0m19 4h0m7-1h0m62 1h0m50-1h0m27 2h0m155 0h0m101 0h0m53-4h0m2203 2h0m21-2h0m11 3h0m7 1h0m25-2h0m10-3h0m14 0h0m9 5h0m7-4h0m17 1h0m134-2h0m22 5h0m15-1h0m12 0h0m8-2h0m15 0h0m45-2h0m21 4h0m42-3h0m13 0h0m19 0h0m8 4h0m6-1h0m6-4h0m-3216 11h0m21 0h0m21-2h0m12 1h0m59-3h0m15 3h0m67-1h0m11-3h0m17 1h0m119-1h0m62 2h0m2261 1h0m30 0h0m87-3h0m21 5h0m16 0h0m17-1h0m29-3h0m129 0h0m64 4h0m21-1h0m56 0h0m12-2h0m6-2h0m6 5h0m6 0h0m13-1h0m11 0h0m-3150 6h0m48-4h0m103 4h0m11 1h0m7-3h0m267 1h0m29 2h0m2143-4h0m7 3h0m7-1h0m49-2h0m23 4h0m52-3h0m11 2h0m52-3h0m4 2h0m3 1h0m158-3h0m72 3h0m23-4h0m34 1h0m-3077 10h0m47-2h0m41-2h0m17 0h0m189 3h0m195-2h0m2125 3h0m32-2h0m32-2h0m40 2h0m18 2h0m8-5h0m13 0h0m25 3h0m163-3h0m6 5h0m11-4h0m8 1h0m84-2h0m6 2h0m37 0h0m15-1h0m9 0h0m8 0h0m7 1h0m-3174 4h0m47 3h0m58 0h0m32 2h0m20-4h0m17-1h0m2512 5h0m24-2h0m34-3h0m7 4h0m36-2h0m225 0h0m21 2h0m44-4h0m30 0h0m14 5h0m3-5h0m10 5h0m13-2h0m11 2h0m-3071 3h0m54 3h0m23-1h0m2-2h0m252 2h0m2241-3h0m20 2h0m35 1h0m13-2h0m26 3h0m24-5h0m17 5h0m16-1h0m180-4h0m1 5h0m51-4h0m40 1h0m67 3h0m-3062 6h0m13-3h0m256 1h0m2298 1h0m4 0h0m34 1h0m6-5h0m11 5h0m12-3h0m9 3h0m33-4h0m11 4h0m14-2h0m22-3h0m195 4h0m17 0h0m9-4h0m6 5h0m27-5h0m75 5h0m6-2h0m-3123 4h0m17 1h0m75 3h0m284-4h0m101 0h0m2164 3h0m2-1h0m92-1h0m372 2h0m-3094 4h0m19 1h0m25-3h0m44 0h0m2552 0h0m5 4h0m12-1h0m13 2h0m12-4h0m21 1h0m37 0h0m261-1h0m10 0h0m25-1h0m32 0h0m0 4h0m4 1h0m12-5h0m-3052 10h0m11-2h0m7 3h0m8-1h0m16-3h0m292 0h0m0 4h0m24-4h0m37 1h0m2224 0h0m13 1h0m14-2h0m9 1h0m22 0h0m24 0h0m280 3h0m21-2h0m5-1h0m2-1h0m8-1h0m19 4h0m10-1h0m-389 4h0m11-1h0m4 2h0m12-2h0" stroke="#2424c4" stroke-width="4.6" stroke-linecap="round" fill="none"/></g>
<path d="M410.8 1787.7 L741.7 1787.7 L741.7 1832.4" fill="none" stroke="#222" stroke-width="1.6"/>
<path d="M410.8 1951.2 L528.7 1951.2" fill="none" stroke="#222" stroke-width="1.6"/>
<path d="M465.6 2028.8 L438.5 2028.8 L438.5 2110.8 L410.2 2110.8" fill="none" stroke="#222" stroke-width="1.6"/>
<path d="M575.5 2174.5 L575.5 2257.0 L410.2 2257.0" fill="none" stroke="#222" stroke-width="1.6"/>
<path d="M702.7 2239.5 L702.7 2431.6 L408.3 2431.6" fill="none" stroke="#222" stroke-width="1.6"/>
<path d="M1053.5 1868.2 L1053.5 1787.5 L1385.4 1787.5" fill="none" stroke="#222" stroke-width="1.6"/>
<path d="M1300.8 1954.1 L1385.4 1954.1" fill="none" stroke="#222" stroke-width="1.6"/>
<path d="M1323.0 2102.8 L1385.4 2102.8" fill="none" stroke="#222" stroke-width="1.6"/>
<path d="M1276.4 2266.4 L1385.4 2266.4" fill="none" stroke="#222" stroke-width="1.6"/>
<path d="M973.5 2349.4 L973.5 2431.2 L1385.4 2431.2" fill="none" stroke="#222" stroke-width="1.6"/>
<text x="645.4" y="1860.1" font-size="25" fill="#222">Intestinal priming</text>
<text x="645.4" y="1890.5" font-size="25" fill="#222">with Cholera toxin</text>
<text x="544.7" y="1937.0" font-size="25" fill="#222">Systemic priming</text>
<text x="544.7" y="1967.4" font-size="25" fill="#222">with Cholera toxin</text>
<text x="474.8" y="2023.3" font-size="25" fill="#222">Intestinal exposure</text>
<text x="474.8" y="2053.7" font-size="25" fill="#222">with reversible <tspan font-style="italic">E. coli</tspan></text>
<text x="481.6" y="2130.8" font-size="25" fill="#222">Systemic exposure</text>
<text x="481.6" y="2161.2" font-size="25" fill="#222">with reversible <tspan font-style="italic">E. coli</tspan></text>
<text x="640.2" y="2226.3" font-size="25" fill="#222">Germ-free</text>
<text x="993.0" y="1891.8" font-size="25" fill="#222">Germ-free</text>
<text x="1088.7" y="1961.7" font-size="25" fill="#222">Systemic exposure</text>
<text x="1088.7" y="1992.1" font-size="25" fill="#222">with reversible <tspan font-style="italic">E. coli</tspan></text>
<text x="1113.1" y="2103.3" font-size="25" fill="#222">Intestinal exposure</text>
<text x="1113.1" y="2133.7" font-size="25" fill="#222">with reversible <tspan font-style="italic">E. coli</tspan></text>
<text x="1052.7" y="2252.4" font-size="25" fill="#222">Systemic priming</text>
<text x="1052.7" y="2282.8" font-size="25" fill="#222">with Cholera toxin</text>
<text x="836.0" y="2307.1" font-size="25" fill="#222">Intestinal priming</text>
<text x="836.0" y="2337.5" font-size="25" fill="#222">with Cholera toxin</text>
<circle cx="427.6" cy="2503.6" r="8.6" fill="#0a0af5"/>
<text x="443.8" y="2511.7" font-size="25.8">Connected to another CDR3 sequence at Levenshtein distance 1</text>
<circle cx="1229.2" cy="2503.6" r="8.6" fill="#f7a21b"/>
<text x="1248.0" y="2511.7" font-size="25.8">Singlet</text>
<path d="M920.4 1992.6 A89.5 89.5 0 1 1 886.1 2166.3" fill="none" stroke="#2b2b2b" stroke-width="6"/>
<path d="M860.2 2151.8 A89.5 89.5 0 0 1 890.7 1996.2" fill="none" stroke="#2b2b2b" stroke-width="6"/>
<path d="M923.8 1982.8L924.5 1972.7A109.6 109.6 0 0 1 932.1 1973.5L930.7 1983.5A99.5 99.5 0 0 0 923.8 1982.8ZM930.7 1983.5L932.1 1973.5A109.6 109.6 0 0 1 939.6 1974.9L937.5 1984.8A99.5 99.5 0 0 0 930.7 1983.5ZM937.5 1984.8L941.6 1966.0A118.7 118.7 0 0 1 950.6 1968.4L945.1 1986.7A99.5 99.5 0 0 0 937.5 1984.8ZM945.1 1986.7L950.6 1968.4A118.7 118.7 0 0 1 959.4 1971.4L952.4 1989.3A99.5 99.5 0 0 0 945.1 1986.7ZM952.4 1989.3L959.4 1971.4A118.7 118.7 0 0 1 968.3 1975.3L959.9 1992.6A99.5 99.5 0 0 0 952.4 1989.3ZM959.9 1992.6L968.3 1975.3A118.7 118.7 0 0 1 977.1 1980.1L967.2 1996.5A99.5 99.5 0 0 0 959.9 1992.6ZM967.2 1996.5L977.1 1980.1A118.7 118.7 0 0 1 984.7 1985.0L973.7 2000.7A99.5 99.5 0 0 0 967.2 1996.5ZM973.7 2000.7L991.1 1975.9A129.8 129.8 0 0 1 1000.6 1983.3L980.9 2006.3A99.5 99.5 0 0 0 973.7 2000.7Z" fill="#8b8d8d" stroke="#fff" stroke-opacity="0.55" stroke-width="0.8"/>
<path d="M985.4 2010.4L991.0 2004.6A107.6 107.6 0 0 1 996.9 2010.7L990.8 2016.1A99.5 99.5 0 0 0 985.4 2010.4ZM990.8 2016.1L1005.2 2003.4A118.7 118.7 0 0 1 1011.1 2010.6L995.8 2022.1A99.5 99.5 0 0 0 990.8 2016.1ZM995.8 2022.1L1011.9 2010.0A119.7 119.7 0 0 1 1016.7 2016.8L999.7 2027.8A99.5 99.5 0 0 0 995.8 2022.1ZM999.7 2027.8L1024.3 2011.9A128.8 128.8 0 0 1 1029.5 2020.5L1003.7 2034.5A99.5 99.5 0 0 0 999.7 2027.8ZM1003.7 2034.5L1039.2 2015.2A139.9 139.9 0 0 1 1043.6 2024.0L1006.8 2040.7A99.5 99.5 0 0 0 1003.7 2034.5ZM1006.8 2040.7L1043.6 2024.0A139.9 139.9 0 0 1 1047.3 2033.0L1009.5 2047.2A99.5 99.5 0 0 0 1006.8 2040.7ZM1009.5 2047.2L1046.4 2033.4A138.9 138.9 0 0 1 1049.5 2042.6L1011.7 2053.7A99.5 99.5 0 0 0 1009.5 2047.2ZM1011.7 2053.7L1049.5 2042.6A138.9 138.9 0 0 1 1051.9 2051.9L1013.4 2060.5A99.5 99.5 0 0 0 1011.7 2053.7ZM1013.4 2060.5L1052.9 2051.7A139.9 139.9 0 0 1 1054.5 2060.1L1014.6 2066.4A99.5 99.5 0 0 0 1013.4 2060.5Z" fill="#0b23f0" stroke="#fff" stroke-opacity="0.55" stroke-width="0.8"/>
<path d="M1014.8 2068.2L1024.8 2066.7A109.6 109.6 0 0 1 1025.5 2072.4L1015.4 2073.3A99.5 99.5 0 0 0 1014.8 2068.2ZM1015.4 2073.3L1025.5 2072.4A109.6 109.6 0 0 1 1025.8 2078.2L1015.7 2078.5A99.5 99.5 0 0 0 1015.4 2073.3ZM1015.7 2078.5L1025.8 2078.2A109.6 109.6 0 0 1 1025.9 2083.0L1015.8 2082.9A99.5 99.5 0 0 0 1015.7 2078.5ZM1015.8 2082.9L1036.0 2083.0A119.7 119.7 0 0 1 1035.8 2089.3L1015.6 2088.1A99.5 99.5 0 0 0 1015.8 2082.9ZM1015.6 2088.1L1035.8 2089.3A119.7 119.7 0 0 1 1035.1 2096.6L1015.1 2094.1A99.5 99.5 0 0 0 1015.6 2088.1ZM1015.1 2094.1L1035.1 2096.6A119.7 119.7 0 0 1 1034.0 2103.8L1014.1 2100.1A99.5 99.5 0 0 0 1015.1 2094.1ZM1014.1 2100.1L1034.0 2103.8A119.7 119.7 0 0 1 1032.4 2111.0L1012.8 2106.1A99.5 99.5 0 0 0 1014.1 2100.1ZM1012.8 2106.1L1032.4 2111.0A119.7 119.7 0 0 1 1030.5 2118.0L1011.2 2111.9A99.5 99.5 0 0 0 1012.8 2106.1ZM1011.2 2111.9L1040.1 2121.0A129.8 129.8 0 0 1 1037.5 2128.5L1009.2 2117.7A99.5 99.5 0 0 0 1011.2 2111.9ZM1009.2 2117.7L1037.5 2128.5A129.8 129.8 0 0 1 1034.4 2135.8L1006.8 2123.3A99.5 99.5 0 0 0 1009.2 2117.7ZM1006.8 2123.3L1034.4 2135.8A129.8 129.8 0 0 1 1031.2 2142.3L1004.4 2128.3A99.5 99.5 0 0 0 1006.8 2123.3ZM1004.4 2128.3L1049.1 2151.7A150.0 150.0 0 0 1 1044.2 2160.4L1001.1 2134.0A99.5 99.5 0 0 0 1004.4 2128.3Z" fill="#f42b0c" stroke="#fff" stroke-opacity="0.55" stroke-width="0.8"/>
<path d="M1001.1 2134.0L1009.7 2139.3A109.6 109.6 0 0 1 1006.1 2144.9L997.8 2139.1A99.5 99.5 0 0 0 1001.1 2134.0ZM997.8 2139.1L1006.1 2144.9A109.6 109.6 0 0 1 1002.1 2150.2L994.2 2143.9A99.5 99.5 0 0 0 997.8 2139.1ZM994.2 2143.9L1002.1 2150.2A109.6 109.6 0 0 1 997.7 2155.3L990.2 2148.6A99.5 99.5 0 0 0 994.2 2143.9ZM990.2 2148.6L1005.3 2162.1A119.7 119.7 0 0 1 999.8 2167.8L985.7 2153.3A99.5 99.5 0 0 0 990.2 2148.6ZM985.7 2153.3L999.8 2167.8A119.7 119.7 0 0 1 994.0 2173.0L980.9 2157.7A99.5 99.5 0 0 0 985.7 2153.3ZM980.9 2157.7L1000.6 2180.7A129.8 129.8 0 0 1 994.4 2185.7L976.2 2161.5A99.5 99.5 0 0 0 980.9 2157.7ZM976.2 2161.5L1001.1 2194.5A140.9 140.9 0 0 1 993.0 2200.2L970.5 2165.4A99.5 99.5 0 0 0 976.2 2161.5ZM970.5 2165.4L993.0 2200.2A140.9 140.9 0 0 1 984.6 2205.2L964.5 2169.0A99.5 99.5 0 0 0 970.5 2165.4ZM964.5 2169.0L984.6 2205.2A140.9 140.9 0 0 1 975.9 2209.7L958.4 2172.2A99.5 99.5 0 0 0 964.5 2169.0ZM958.4 2172.2L975.4 2208.8A139.9 139.9 0 0 1 966.4 2212.6L952.0 2174.9A99.5 99.5 0 0 0 958.4 2172.2ZM952.0 2174.9L966.4 2212.6A139.9 139.9 0 0 1 957.2 2215.8L945.4 2177.2A99.5 99.5 0 0 0 952.0 2174.9Z" fill="#5dbf5d" stroke="#fff" stroke-opacity="0.55" stroke-width="0.8"/>
<path d="M945.4 2177.2L951.3 2196.5A119.7 119.7 0 0 1 943.2 2198.6L938.7 2178.9A99.5 99.5 0 0 0 945.4 2177.2ZM938.7 2178.9L943.2 2198.6A119.7 119.7 0 0 1 935.0 2200.2L931.9 2180.3A99.5 99.5 0 0 0 938.7 2178.9ZM931.9 2180.3L935.0 2200.2A119.7 119.7 0 0 1 926.7 2201.2L925.0 2181.1A99.5 99.5 0 0 0 931.9 2180.3ZM925.0 2181.1L926.7 2201.2A119.7 119.7 0 0 1 918.4 2201.7L918.0 2181.5A99.5 99.5 0 0 0 925.0 2181.1ZM918.0 2181.5L918.6 2211.8A129.8 129.8 0 0 1 909.5 2211.6L911.1 2181.4A99.5 99.5 0 0 0 918.0 2181.5ZM911.1 2181.4L909.0 2221.7A139.9 139.9 0 0 1 898.0 2220.7L903.3 2180.6A99.5 99.5 0 0 0 911.1 2181.4ZM903.3 2180.6L898.0 2220.7A139.9 139.9 0 0 1 887.2 2218.8L895.6 2179.3A99.5 99.5 0 0 0 903.3 2180.6ZM895.6 2179.3L885.1 2228.7A150.0 150.0 0 0 1 872.4 2225.4L887.2 2177.2A99.5 99.5 0 0 0 895.6 2179.3ZM887.2 2177.2L868.9 2237.0A162.1 162.1 0 0 1 853.0 2231.2L877.4 2173.6A99.5 99.5 0 0 0 887.2 2177.2Z" fill="#f6e226" stroke="#fff" stroke-opacity="0.55" stroke-width="0.8"/>
<path d="M856.4 2161.5L849.7 2170.3A110.6 110.6 0 0 1 843.7 2165.5L851.0 2157.1A99.5 99.5 0 0 0 856.4 2161.5ZM851.0 2157.1L843.7 2165.5A110.6 110.6 0 0 1 837.7 2159.8L845.6 2152.0A99.5 99.5 0 0 0 851.0 2157.1ZM845.6 2152.0L829.8 2167.6A121.7 121.7 0 0 1 824.4 2161.9L841.2 2147.3A99.5 99.5 0 0 0 845.6 2152.0ZM841.2 2147.3L816.8 2168.5A131.8 131.8 0 0 1 810.6 2160.8L836.5 2141.5A99.5 99.5 0 0 0 841.2 2147.3ZM836.5 2141.5L794.4 2172.9A152.0 152.0 0 0 1 786.7 2161.4L831.5 2134.0A99.5 99.5 0 0 0 836.5 2141.5ZM831.5 2134.0L768.6 2172.5A173.2 173.2 0 0 1 761.5 2159.8L827.4 2126.7A99.5 99.5 0 0 0 831.5 2134.0Z" fill="#8b8d8d" stroke="#fff" stroke-opacity="0.55" stroke-width="0.8"/>
<path d="M821.5 2112.1L810.9 2115.4A110.6 110.6 0 0 1 808.7 2107.8L819.5 2105.2A99.5 99.5 0 0 0 821.5 2112.1ZM819.5 2105.2L808.7 2107.8A110.6 110.6 0 0 1 807.2 2100.1L818.1 2098.3A99.5 99.5 0 0 0 819.5 2105.2ZM818.1 2098.3L807.2 2100.1A110.6 110.6 0 0 1 806.1 2092.0L817.2 2091.0A99.5 99.5 0 0 0 818.1 2098.3ZM817.2 2091.0L806.1 2092.0A110.6 110.6 0 0 1 805.7 2083.9L816.8 2083.7A99.5 99.5 0 0 0 817.2 2091.0Z" fill="#0b23f0" stroke="#fff" stroke-opacity="0.55" stroke-width="0.8"/>
<path d="M817.1 2074.2L805.0 2073.2A111.6 111.6 0 0 1 805.9 2065.5L817.9 2067.3A99.5 99.5 0 0 0 817.1 2074.2ZM817.9 2067.3L805.9 2065.5A111.6 111.6 0 0 1 807.3 2057.8L819.2 2060.5A99.5 99.5 0 0 0 817.9 2067.3ZM819.2 2060.5L807.3 2057.8A111.6 111.6 0 0 1 809.3 2050.3L820.9 2053.7A99.5 99.5 0 0 0 819.2 2060.5ZM820.9 2053.7L808.3 2050.0A112.6 112.6 0 0 1 810.7 2042.9L823.0 2047.5A99.5 99.5 0 0 0 820.9 2053.7ZM823.0 2047.5L808.8 2042.2A114.7 114.7 0 0 1 811.0 2036.7L824.9 2042.6A99.5 99.5 0 0 0 823.0 2047.5ZM824.9 2042.6L805.4 2034.3A120.7 120.7 0 0 1 808.9 2026.8L827.8 2036.5A99.5 99.5 0 0 0 824.9 2042.6Z" fill="#f42b0c" stroke="#fff" stroke-opacity="0.55" stroke-width="0.8"/>
<path d="M827.8 2036.5L809.8 2027.3A119.7 119.7 0 0 1 814.2 2019.5L831.5 2030.0A99.5 99.5 0 0 0 827.8 2036.5ZM831.5 2030.0L814.2 2019.5A119.7 119.7 0 0 1 819.5 2011.6L835.8 2023.5A99.5 99.5 0 0 0 831.5 2030.0ZM835.8 2023.5L819.5 2011.6A119.7 119.7 0 0 1 825.3 2004.3L840.6 2017.4A99.5 99.5 0 0 0 835.8 2023.5ZM840.6 2017.4L817.6 1997.7A129.8 129.8 0 0 1 824.5 1990.2L845.9 2011.6A99.5 99.5 0 0 0 840.6 2017.4ZM845.9 2011.6L824.5 1990.2A129.8 129.8 0 0 1 831.1 1984.0L851.0 2006.9A99.5 99.5 0 0 0 845.9 2011.6ZM851.0 2006.9L831.1 1984.0A129.8 129.8 0 0 1 838.7 1977.9L856.8 2002.2A99.5 99.5 0 0 0 851.0 2006.9Z" fill="#5dbf5d" stroke="#fff" stroke-opacity="0.55" stroke-width="0.8"/>
<path d="M856.8 2002.2L850.8 1994.1A109.6 109.6 0 0 1 856.6 1990.1L862.1 1998.6A99.5 99.5 0 0 0 856.8 2002.2ZM862.1 1998.6L856.1 1989.2A110.6 110.6 0 0 1 862.7 1985.3L868.1 1995.0A99.5 99.5 0 0 0 862.1 1998.6ZM868.1 1995.0L860.7 1981.7A114.7 114.7 0 0 1 866.9 1978.5L873.5 1992.2A99.5 99.5 0 0 0 868.1 1995.0ZM873.5 1992.2L864.8 1974.0A119.7 119.7 0 0 1 872.2 1970.7L879.7 1989.5A99.5 99.5 0 0 0 873.5 1992.2ZM879.7 1989.5L871.9 1969.8A120.7 120.7 0 0 1 879.0 1967.2L885.6 1987.4A99.5 99.5 0 0 0 879.7 1989.5ZM885.6 1987.4L866.8 1929.7A160.1 160.1 0 0 1 877.6 1926.7L892.2 1985.5A99.5 99.5 0 0 0 885.6 1987.4Z" fill="#f6e226" stroke="#fff" stroke-opacity="0.55" stroke-width="0.8"/>
<path d="M924.3 1891.7 A190.5 190.5 0 0 1 1033.6 1931.9" fill="none" stroke="#8c8e8e" stroke-width="3.6"/>
<path d="M1045.5 1942.0 A190.5 190.5 0 0 1 1103.0 2044.0" fill="none" stroke="#1030e0" stroke-width="3.6"/>
<path d="M1105.6 2060.4 A190.5 190.5 0 0 1 1082.3 2175.5" fill="none" stroke="#e8341c" stroke-width="3.6"/>
<path d="M1073.7 2189.4 A190.5 190.5 0 0 1 982.7 2260.6" fill="none" stroke="#5cb85c" stroke-width="3.6"/>
<path d="M967.2 2265.6 A190.5 190.5 0 0 1 850.2 2260.7" fill="none" stroke="#f0e030" stroke-width="3.6"/>
<path d="M798.0 2231.3 A190.5 190.5 0 0 1 750.2 2175.2" fill="none" stroke="#8c8e8e" stroke-width="3.6"/>
<path d="M743.0 2161.0 A190.5 190.5 0 0 1 726.0 2091.0" fill="none" stroke="#1030e0" stroke-width="3.6"/>
<path d="M726.0 2073.7 A190.5 190.5 0 0 1 743.0 2003.0" fill="none" stroke="#e8341c" stroke-width="3.6"/>
<path d="M750.0 1989.1 A190.5 190.5 0 0 1 797.7 1932.9" fill="none" stroke="#5cb85c" stroke-width="3.6"/>
<path d="M809.5 1924.3 A190.5 190.5 0 0 1 863.5 1899.0" fill="none" stroke="#f0e030" stroke-width="3.6"/>
<text transform="translate(912.1,1978.3) rotate(-2.3)" font-size="14.6" text-anchor="middle" dy="5.2" stroke="#000" stroke-width="0.3">0</text>
<text transform="translate(911.3,1958.2) rotate(-2.3)" font-size="14.6" text-anchor="middle" dy="5.2" stroke="#000" stroke-width="0.3">2</text>
<text transform="translate(910.5,1938.2) rotate(-2.3)" font-size="14.6" text-anchor="middle" dy="5.2" stroke="#000" stroke-width="0.3">4</text>
<text transform="translate(909.7,1918.1) rotate(-2.3)" font-size="14.6" text-anchor="middle" dy="5.2" stroke="#000" stroke-width="0.3">6</text>
<text transform="translate(908.9,1898.1) rotate(-2.3)" font-size="14.6" text-anchor="middle" dy="5.2" stroke="#000" stroke-width="0.3">8</text>
<text transform="translate(861.3,2173.8) rotate(205.5)" font-size="14.6" text-anchor="middle" dy="5.2" stroke="#000" stroke-width="0.3">0</text>
<text transform="translate(852.6,2192.0) rotate(205.5)" font-size="14.6" text-anchor="middle" dy="5.2" stroke="#000" stroke-width="0.3">2</text>
<text transform="translate(843.9,2210.2) rotate(205.5)" font-size="14.6" text-anchor="middle" dy="5.2" stroke="#000" stroke-width="0.3">4</text>
<text transform="translate(835.3,2228.3) rotate(205.5)" font-size="14.6" text-anchor="middle" dy="5.2" stroke="#000" stroke-width="0.3">6</text>
<text transform="translate(826.6,2246.5) rotate(205.5)" font-size="14.6" text-anchor="middle" dy="5.2" stroke="#000" stroke-width="0.3">8</text>
<text x="845.4" y="2065.2" font-size="28" fill="#222">IgG2b</text>
<text x="947.6" y="2065.2" font-size="27.6" fill="#222">IgA</text>
<text x="914.3" y="2124.6" font-size="28.7" text-anchor="middle" font-weight="bold" fill="#222">Mutation</text>
<text x="918.2" y="2151.3" font-size="28" text-anchor="middle" font-weight="bold" fill="#222">load</text>
</svg></body></html>
